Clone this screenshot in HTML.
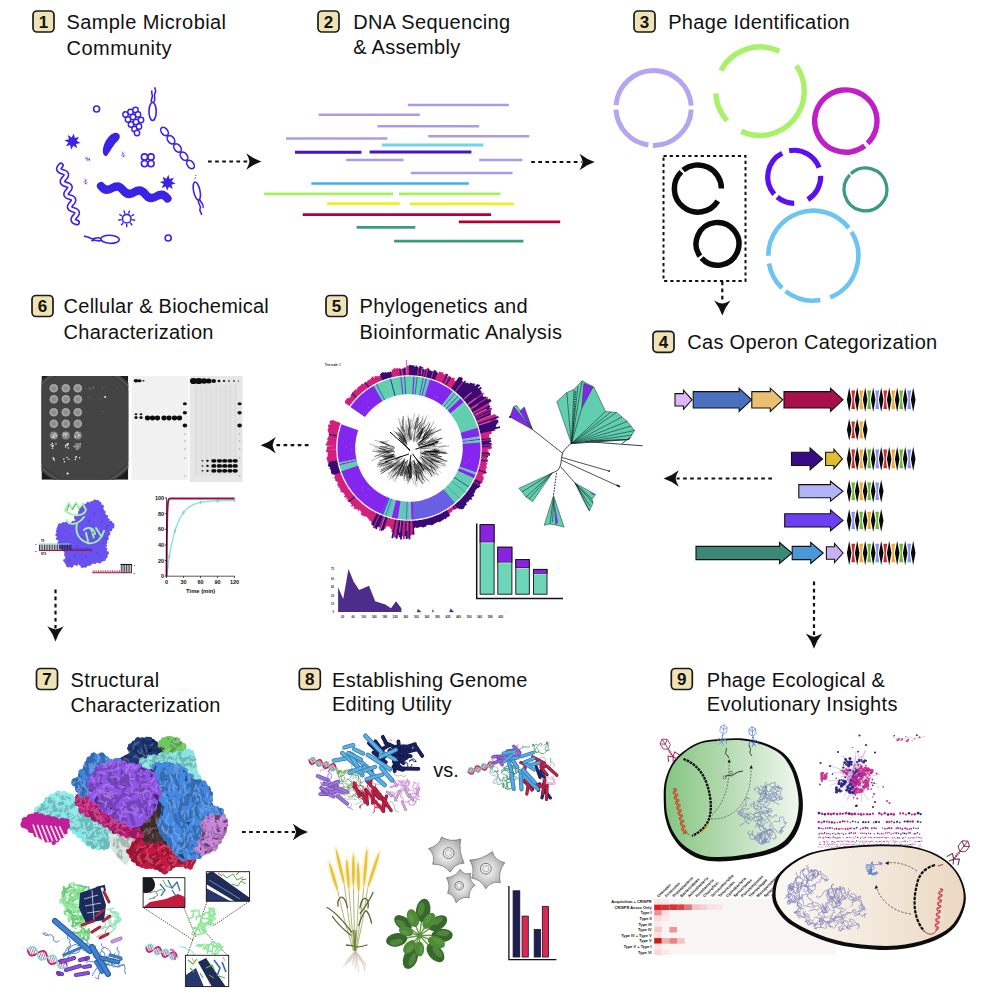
<!DOCTYPE html>
<html><head><meta charset="utf-8"><title>Graphical abstract</title>
<style>
html,body{margin:0;padding:0;background:#fff;}
body{width:996px;height:996px;overflow:hidden;}
svg{display:block;}
text{font-family:"Liberation Sans",sans-serif;}
.h{font-size:20px;fill:#111;}
.bn{font-size:17px;font-weight:bold;fill:#111;text-anchor:middle;}
</style></head><body>
<svg width="996" height="996" viewBox="0 0 996 996">
<rect width="996" height="996" fill="#fff"/>
<g id="headings"><rect x="33" y="11" width="21" height="21" rx="4" ry="4" fill="#efe2b4" stroke="#1a1a1a" stroke-width="1.7"/><text class="bn" x="43.5" y="27.6">1</text><text class="h" x="66.5" y="29" textLength="159.5" lengthAdjust="spacing">Sample Microbial</text><text class="h" x="66.5" y="54.5" textLength="105" lengthAdjust="spacing">Community</text><rect x="318" y="11" width="21" height="21" rx="4" ry="4" fill="#efe2b4" stroke="#1a1a1a" stroke-width="1.7"/><text class="bn" x="328.5" y="27.6">2</text><text class="h" x="353.2" y="29" textLength="157" lengthAdjust="spacing">DNA Sequencing</text><text class="h" x="353.2" y="54.2" textLength="107" lengthAdjust="spacing">&amp; Assembly</text><rect x="634" y="11" width="21" height="21" rx="4" ry="4" fill="#efe2b4" stroke="#1a1a1a" stroke-width="1.7"/><text class="bn" x="644.5" y="27.6">3</text><text class="h" x="668.2" y="29" textLength="181.5" lengthAdjust="spacing">Phage Identification</text><rect x="653" y="331.3" width="21" height="21" rx="4" ry="4" fill="#efe2b4" stroke="#1a1a1a" stroke-width="1.7"/><text class="bn" x="663.5" y="347.9">4</text><text class="h" x="687.2" y="349.2" textLength="250" lengthAdjust="spacing">Cas Operon Categorization</text><rect x="326" y="295.5" width="21" height="21" rx="4" ry="4" fill="#efe2b4" stroke="#1a1a1a" stroke-width="1.7"/><text class="bn" x="336.5" y="312.1">5</text><text class="h" x="359.6" y="313.2" textLength="168" lengthAdjust="spacing">Phylogenetics and</text><text class="h" x="359.6" y="338.5" textLength="202.4" lengthAdjust="spacing">Bioinformatic Analysis</text><rect x="32" y="295.5" width="21" height="21" rx="4" ry="4" fill="#efe2b4" stroke="#1a1a1a" stroke-width="1.7"/><text class="bn" x="42.5" y="312.1">6</text><text class="h" x="63.6" y="313.2" textLength="205.2" lengthAdjust="spacing">Cellular &amp; Biochemical</text><text class="h" x="63.6" y="338.5" textLength="149.8" lengthAdjust="spacing">Characterization</text><rect x="36.5" y="668.5" width="21" height="21" rx="4" ry="4" fill="#efe2b4" stroke="#1a1a1a" stroke-width="1.7"/><text class="bn" x="47" y="685.1">7</text><text class="h" x="70.6" y="687" textLength="88.6" lengthAdjust="spacing">Structural</text><text class="h" x="70.6" y="712.3" textLength="149.8" lengthAdjust="spacing">Characterization</text><rect x="299.3" y="668.5" width="21" height="21" rx="4" ry="4" fill="#efe2b4" stroke="#1a1a1a" stroke-width="1.7"/><text class="bn" x="309.8" y="685.1">8</text><text class="h" x="332" y="686.6" textLength="195.4" lengthAdjust="spacing">Establishing Genome</text><text class="h" x="332" y="711.2" textLength="119.5" lengthAdjust="spacing">Editing Utility</text><rect x="671.3" y="668.5" width="21" height="21" rx="4" ry="4" fill="#efe2b4" stroke="#1a1a1a" stroke-width="1.7"/><text class="bn" x="681.8" y="685.1">9</text><text class="h" x="706.8" y="686.6" textLength="178" lengthAdjust="spacing">Phage Ecological &amp;</text><text class="h" x="706.8" y="711.2" textLength="190.6" lengthAdjust="spacing">Evolutionary Insights</text></g>
<g id="arrows"><g transform="translate(208,161.5) rotate(0)"><path d="M0,0 H40.5" stroke="#111" stroke-width="2.2" stroke-dasharray="3.7 3.4" fill="none"/><path d="M53.5,0 Q45.5,-2.6 38.3,-8.2 Q40.9,-3.6 41.5,0 Q40.9,3.6 38.3,8.2 Q45.5,2.6 53.5,0Z" fill="#111"/></g><g transform="translate(531.2,162) rotate(0)"><path d="M0,0 H50.5" stroke="#111" stroke-width="2.2" stroke-dasharray="3.7 3.4" fill="none"/><path d="M63.5,0 Q55.5,-2.6 48.3,-8.2 Q50.9,-3.6 51.5,0 Q50.9,3.6 48.3,8.2 Q55.5,2.6 63.5,0Z" fill="#111"/></g><g transform="translate(722.3,281.5) rotate(90)"><path d="M0,0 H21.1" stroke="#111" stroke-width="2.2" stroke-dasharray="3.7 3.4" fill="none"/><path d="M34.1,0 Q26.1,-2.6 18.9,-8.2 Q21.5,-3.6 22.1,0 Q21.5,3.6 18.9,8.2 Q26.1,2.6 34.1,0Z" fill="#111"/></g><g transform="translate(772,478.5) rotate(180)"><path d="M0,0 H95.4" stroke="#111" stroke-width="2.2" stroke-dasharray="3.7 3.4" fill="none"/><path d="M108.4,0 Q100.4,-2.6 93.2,-8.2 Q95.8,-3.6 96.4,0 Q95.8,3.6 93.2,8.2 Q100.4,2.6 108.4,0Z" fill="#111"/></g><g transform="translate(814,581.6) rotate(90)"><path d="M0,0 H54.2" stroke="#111" stroke-width="2.2" stroke-dasharray="3.7 3.4" fill="none"/><path d="M67.2,0 Q59.2,-2.6 52,-8.2 Q54.6,-3.6 55.2,0 Q54.6,3.6 52,8.2 Q59.2,2.6 67.2,0Z" fill="#111"/></g><g transform="translate(308.5,445.2) rotate(180)"><path d="M0,0 H34.9" stroke="#111" stroke-width="2.2" stroke-dasharray="3.7 3.4" fill="none"/><path d="M47.9,0 Q39.9,-2.6 32.7,-8.2 Q35.3,-3.6 35.9,0 Q35.3,3.6 32.7,8.2 Q39.9,2.6 47.9,0Z" fill="#111"/></g><g transform="translate(55.5,589.5) rotate(90)"><path d="M0,0 H39" stroke="#111" stroke-width="2.2" stroke-dasharray="3.7 3.4" fill="none"/><path d="M52,0 Q44,-2.6 36.8,-8.2 Q39.4,-3.6 40,0 Q39.4,3.6 36.8,8.2 Q44,2.6 52,0Z" fill="#111"/></g><g transform="translate(242,832) rotate(0)"><path d="M0,0 H53" stroke="#111" stroke-width="2.2" stroke-dasharray="3.7 3.4" fill="none"/><path d="M66,0 Q58,-2.6 50.8,-8.2 Q53.4,-3.6 54,0 Q53.4,3.6 50.8,8.2 Q58,2.6 66,0Z" fill="#111"/></g></g>
<g id="p1"><circle cx="96.6" cy="109" r="3" fill="none" stroke="#3a22e6" stroke-width="1.6"/><circle cx="168.2" cy="238" r="3" fill="none" stroke="#3a22e6" stroke-width="1.6"/><circle cx="125.5" cy="114.5" r="2.7" fill="#fff" stroke="#3a22e6" stroke-width="1.4"/><circle cx="130.5" cy="112" r="2.7" fill="#fff" stroke="#3a22e6" stroke-width="1.4"/><circle cx="135.5" cy="110" r="2.7" fill="#fff" stroke="#3a22e6" stroke-width="1.4"/><circle cx="128" cy="119.5" r="2.7" fill="#fff" stroke="#3a22e6" stroke-width="1.4"/><circle cx="133" cy="117" r="2.7" fill="#fff" stroke="#3a22e6" stroke-width="1.4"/><circle cx="138" cy="114.5" r="2.7" fill="#fff" stroke="#3a22e6" stroke-width="1.4"/><circle cx="131" cy="124.5" r="2.7" fill="#fff" stroke="#3a22e6" stroke-width="1.4"/><circle cx="136" cy="122" r="2.7" fill="#fff" stroke="#3a22e6" stroke-width="1.4"/><circle cx="141" cy="120" r="2.7" fill="#fff" stroke="#3a22e6" stroke-width="1.4"/><circle cx="134.5" cy="129" r="2.7" fill="#fff" stroke="#3a22e6" stroke-width="1.4"/><circle cx="139" cy="126.5" r="2.7" fill="#fff" stroke="#3a22e6" stroke-width="1.4"/><circle cx="137" cy="133" r="2.7" fill="#fff" stroke="#3a22e6" stroke-width="1.4"/><ellipse cx="152.6" cy="111.5" rx="3.6" ry="9" fill="none" stroke="#3a22e6" stroke-width="1.6"/><path d="M152,102.5 C149.5,99 154,97.5 152,94 C151,92.3 151.5,91.5 152.2,90.5 M153.6,102.5 C157,98.5 152.5,96 155.3,92.5 C156.8,90.5 154.3,89.5 155,87.3" fill="none" stroke="#3a22e6" stroke-width="1.6"/><ellipse cx="164.5" cy="131.5" rx="4.7" ry="3.1" transform="rotate(51 164.5 131.5)" fill="#fff" stroke="#3a22e6" stroke-width="1.6"/><ellipse cx="171" cy="139.8" rx="4.7" ry="3.1" transform="rotate(51 171 139.8)" fill="#fff" stroke="#3a22e6" stroke-width="1.6"/><ellipse cx="177.5" cy="148" rx="4.7" ry="3.1" transform="rotate(51 177.5 148)" fill="#fff" stroke="#3a22e6" stroke-width="1.6"/><ellipse cx="184" cy="156.2" rx="4.7" ry="3.1" transform="rotate(51 184 156.2)" fill="#fff" stroke="#3a22e6" stroke-width="1.6"/><ellipse cx="190.5" cy="164.5" rx="4.7" ry="3.1" transform="rotate(51 190.5 164.5)" fill="#fff" stroke="#3a22e6" stroke-width="1.6"/><path d="M80.6,143 L76,143.9 L77.2,148.3 L73.4,145.7 L71.1,149.7 L70.2,145.1 L65.8,146.3 L68.4,142.5 L64.4,140.2 L69,139.3 L67.8,134.9 L71.6,137.5 L73.9,133.5 L74.8,138.1 L79.2,136.9 L76.6,140.7Z" fill="#3a22e6"/><path d="M175.7,183.5 L171.4,184.7 L172.8,188.9 L169,186.8 L167,190.8 L165.8,186.5 L161.6,187.9 L163.7,184.1 L159.7,182.1 L164,180.9 L162.6,176.7 L166.4,178.8 L168.4,174.8 L169.6,179.1 L173.8,177.7 L171.7,181.5Z" fill="#3a22e6"/><path d="M104,155 C100.5,150 106,136 114,133 C119,131.5 121.5,136 118.5,140 C113,145 110,152 107,155.5 C106,156.5 104.8,156.2 104,155Z" fill="#3a22e6"/><circle cx="144.5" cy="157" r="3.1" fill="#fff" stroke="#3a22e6" stroke-width="1.6"/><circle cx="151" cy="157" r="3.1" fill="#fff" stroke="#3a22e6" stroke-width="1.6"/><circle cx="144.5" cy="163.6" r="3.1" fill="#fff" stroke="#3a22e6" stroke-width="1.6"/><circle cx="151" cy="163.6" r="3.1" fill="#fff" stroke="#3a22e6" stroke-width="1.6"/><path d="M-3,0 H3 M-1.5,-2.2 L0.5,2.2 M1.5,-2 L2.2,1.5" transform="translate(87.5,159) rotate(20)" fill="none" stroke="#3a22e6" stroke-width="0.7" opacity="0.75"/><path d="M-3,0 H3 M-1.5,-2.2 L0.5,2.2 M1.5,-2 L2.2,1.5" transform="translate(123,154.5) rotate(70)" fill="none" stroke="#3a22e6" stroke-width="0.7" opacity="0.75"/><path d="M-3,0 H3 M-1.5,-2.2 L0.5,2.2 M1.5,-2 L2.2,1.5" transform="translate(85.5,181.5) rotate(80)" fill="none" stroke="#3a22e6" stroke-width="0.7" opacity="0.75"/><path d="M60.8,165.5 Q56.1,170.3 62.6,171.8 Q69.1,173.4 64.4,178.2 Q59.7,182.9 66.2,184.5 Q72.7,186.1 68,190.8 Q63.3,195.6 69.8,197.2 Q76.3,198.7 71.6,203.5 Q66.9,208.3 73.4,209.8 Q79.9,211.4 75.2,216.2 Q70.5,220.9 77,222.5" fill="none" stroke="#3a22e6" stroke-width="6" stroke-linecap="round"/><path d="M60.8,165.5 Q56.1,170.3 62.6,171.8 Q69.1,173.4 64.4,178.2 Q59.7,182.9 66.2,184.5 Q72.7,186.1 68,190.8 Q63.3,195.6 69.8,197.2 Q76.3,198.7 71.6,203.5 Q66.9,208.3 73.4,209.8 Q79.9,211.4 75.2,216.2 Q70.5,220.9 77,222.5" fill="none" stroke="#fff" stroke-width="2.8" stroke-linecap="round"/><path d="M101,186 Q105.6,192.2 112.1,188.1 Q118.6,184 123.2,190.2 Q127.7,196.3 134.2,192.2 Q140.8,188.2 145.3,194.3 Q149.9,200.5 156.4,196.4 Q162.9,192.3 167.5,198.5" fill="none" stroke="#3a22e6" stroke-width="8.2" stroke-linecap="round"/><ellipse cx="196.8" cy="191" rx="3.2" ry="9.2" transform="rotate(-12 196.8 191)" fill="none" stroke="#3a22e6" stroke-width="1.6"/><path d="M198.5,200 C197,204 202,205 200,209 C199,211.5 202,212.5 201.5,215 M199.8,199.6 C200.5,203 204.5,204 203,208" fill="none" stroke="#3a22e6" stroke-width="1.6"/><path d="M194.6,179 L195.8,177.3 M195.2,175.5 h1.2" stroke="#3a22e6" stroke-width="0.8" fill="none"/><circle cx="126.7" cy="218.7" r="4.3" fill="none" stroke="#3a22e6" stroke-width="1.6"/><path d="M132,219.6 L135.2,220.2 M130.2,222.8 L132.2,225.3 M126.7,224.1 L126.7,227.3 M123.2,222.8 L121.2,225.3 M121.4,219.6 L118.2,220.2 M122,216 L119.3,214.4 M124.9,213.6 L123.8,210.6 M128.5,213.6 L129.6,210.6 M131.4,216 L134.1,214.4 " stroke="#3a22e6" stroke-width="1.4" fill="none"/><ellipse cx="110" cy="239.3" rx="9.3" ry="4" transform="rotate(3 110 239.3)" fill="none" stroke="#3a22e6" stroke-width="1.6"/><path d="M100.6,238.5 C96,236 94,240.5 90,238 C88,236.5 86,237 84,236 M101,240.6 C97,242 95,238.5 91.5,241" fill="none" stroke="#3a22e6" stroke-width="1.6"/></g>
<g id="p2" fill="none"><path d="M407.9,105.1 H508.9" stroke="#a99bea" stroke-width="2.5"/><path d="M318.7,114.8 H419.8" stroke="#a99bea" stroke-width="2.5"/><path d="M377.4,126.3 H479.2" stroke="#a99bea" stroke-width="2.5"/><path d="M286,138.5 H387.4" stroke="#a99bea" stroke-width="2.5"/><path d="M428.3,136.3 H529.3" stroke="#a99bea" stroke-width="2.5"/><path d="M381.9,145.1 H483.3" stroke="#6fd3ee" stroke-width="3"/><path d="M295,152.3 H361.4" stroke="#4a12c6" stroke-width="3"/><path d="M369.6,152 H471.4" stroke="#4a12c6" stroke-width="3"/><path d="M346.2,160.1 H403.4" stroke="#a99bea" stroke-width="2.5"/><path d="M479.2,160.1 H522.3" stroke="#a99bea" stroke-width="2.5"/><path d="M410.8,173.1 H512.6" stroke="#a99bea" stroke-width="2.5"/><path d="M311.3,183.5 H468.8" stroke="#3fb2e2" stroke-width="2.6"/><path d="M264.1,193.9 H393" stroke="#a6f05e" stroke-width="2.6"/><path d="M399,193.9 H500.4" stroke="#a6f05e" stroke-width="2.6"/><path d="M326.9,203.6 H399.7" stroke="#f0ee22" stroke-width="2.8"/><path d="M409.7,203.9 H514.1" stroke="#f0ee22" stroke-width="2.8"/><path d="M302.7,214.6 H491.1" stroke="#b4003a" stroke-width="2.8"/><path d="M458.8,221.8 H560.2" stroke="#b4003a" stroke-width="2.8"/><path d="M356.6,227.3 H415.3" stroke="#3a9a84" stroke-width="2.8"/><path d="M394.1,241.1 H523.4" stroke="#3a9a84" stroke-width="2.8"/></g>
<g id="p3"><path d="M691.2,109.7 A37.7,37.7 0 0 1 652.9,145.4" stroke="#b3a6f0" stroke-width="5" fill="none"/><path d="M648.4,145 A37.7,37.7 0 0 1 616,109.7" stroke="#b3a6f0" stroke-width="5" fill="none"/><path d="M616,105.1 A37.7,37.7 0 0 1 691.2,105.7" stroke="#b3a6f0" stroke-width="5" fill="none"/><path d="M720.9,70.4 A44.3,44.3 0 0 1 779.4,51.4" stroke="#aaf16a" stroke-width="5.4" fill="none"/><path d="M796.3,65.8 A44.3,44.3 0 0 1 741.3,131.3" stroke="#aaf16a" stroke-width="5.4" fill="none"/><path d="M727.1,120.8 A44.3,44.3 0 0 1 715.8,93.5" stroke="#aaf16a" stroke-width="5.4" fill="none"/><path d="M864.7,145.9 A31.2,31.2 0 1 1 867.6,143.4" stroke="#c01fc8" stroke-width="5.4" fill="none"/><path d="M789.1,150.8 A26.5,26.5 0 0 1 819.1,167.7" stroke="#5a10f0" stroke-width="5.2" fill="none"/><path d="M820.7,175.9 A26.5,26.5 0 0 1 807.8,199.5" stroke="#5a10f0" stroke-width="5.2" fill="none"/><path d="M794.2,203.3 A26.5,26.5 0 0 1 777.2,197.1" stroke="#5a10f0" stroke-width="5.2" fill="none"/><path d="M774.2,194.2 A26.5,26.5 0 0 1 782.2,153.2" stroke="#5a10f0" stroke-width="5.2" fill="none"/><path d="M850.9,173.7 A21.4,21.4 0 1 1 849.8,174.8" stroke="#3d9a80" stroke-width="3.3" fill="none"/><path d="M851.5,231.9 A45,45 0 0 1 830.2,297.4" stroke="#6cc4f0" stroke-width="4.6" fill="none"/><path d="M820.3,300.1 A45,45 0 0 1 785.6,291.2" stroke="#6cc4f0" stroke-width="4.6" fill="none"/><path d="M782,288.1 A45,45 0 0 1 769,263.5" stroke="#6cc4f0" stroke-width="4.6" fill="none"/><path d="M768.3,255.7 A45,45 0 0 1 848.8,228" stroke="#6cc4f0" stroke-width="4.6" fill="none"/><path d="M717.8,201 A23.5,23.5 0 1 1 681.3,171.9" stroke="#0a0a0a" stroke-width="5.5" fill="none"/><path d="M683.1,170.2 A23.5,23.5 0 0 1 721.4,188.5" stroke="#0a0a0a" stroke-width="5.5" fill="none"/><path d="M700,256.2 A21.4,21.4 0 1 1 701.6,258.2" stroke="#0a0a0a" stroke-width="5.5" fill="none"/><rect x="663.5" y="156" width="82" height="125" fill="none" stroke="#111" stroke-width="2" stroke-dasharray="3.2 3"/></g>
<g id="p4"><path d="M675,393.6 L683.5,393.6 L683.5,390.2 L692,399.8 L683.5,409.4 L683.5,406 L675,406Z" fill="#dcb8f4" stroke="#111" stroke-width="1.1" stroke-linejoin="miter"/><path d="M693.2,391.6 L739.1,391.6 L739.1,388.2 L751.6,399.8 L739.1,411.4 L739.1,408 L693.2,408Z" fill="#4a70c0" stroke="#111" stroke-width="1.1" stroke-linejoin="miter"/><path d="M751.8,391.6 L770.3,391.6 L770.3,388.2 L782.8,399.8 L770.3,411.4 L770.3,408 L751.8,408Z" fill="#e8c070" stroke="#111" stroke-width="1.1" stroke-linejoin="miter"/><path d="M784,391.6 L830.5,391.6 L830.5,388.2 L843,399.8 L830.5,411.4 L830.5,408 L784,408Z" fill="#a8104c" stroke="#111" stroke-width="1.1" stroke-linejoin="miter"/><path d="M851.3,390.5 H855.1 L853.9,399.8 L855.1,409.1 H851.3 L852.5,399.8 Z" fill="#cc2e2e"/><path d="M859.3,390.5 H863.1 L861.9,399.8 L863.1,409.1 H859.3 L860.5,399.8 Z" fill="#f0a830"/><path d="M867.3,390.5 H871.1 L869.9,399.8 L871.1,409.1 H867.3 L868.5,399.8 Z" fill="#6cb832"/><path d="M875.3,390.5 H879.1 L877.9,399.8 L879.1,409.1 H875.3 L876.5,399.8 Z" fill="#8494f0"/><path d="M883.3,390.5 H887.1 L885.9,399.8 L887.1,409.1 H883.3 L884.5,399.8 Z" fill="#cc2e2e"/><path d="M891.3,390.5 H895.1 L893.9,399.8 L895.1,409.1 H891.3 L892.5,399.8 Z" fill="#f0a830"/><path d="M899.3,390.5 H903.1 L901.9,399.8 L903.1,409.1 H899.3 L900.5,399.8 Z" fill="#6cb832"/><path d="M907.3,390.5 H911.1 L909.9,399.8 L911.1,409.1 H907.3 L908.5,399.8 Z" fill="#8494f0"/><path d="M846.9,399.8 L849.2,387.6 L851.5,399.8 L849.2,412 ZM854.9,399.8 L857.2,387.6 L859.5,399.8 L857.2,412 ZM862.9,399.8 L865.2,387.6 L867.5,399.8 L865.2,412 ZM870.9,399.8 L873.2,387.6 L875.5,399.8 L873.2,412 ZM878.9,399.8 L881.2,387.6 L883.5,399.8 L881.2,412 ZM886.9,399.8 L889.2,387.6 L891.5,399.8 L889.2,412 ZM894.9,399.8 L897.2,387.6 L899.5,399.8 L897.2,412 ZM902.9,399.8 L905.2,387.6 L907.5,399.8 L905.2,412 ZM910.9,399.8 L913.2,387.6 L915.5,399.8 L913.2,412 Z" fill="#0a0a0a"/><path d="M851.3,421.4 H855.1 L853.9,429.8 L855.1,438.2 H851.3 L852.5,429.8 Z" fill="#cc2e2e"/><path d="M859.3,421.4 H863.1 L861.9,429.8 L863.1,438.2 H859.3 L860.5,429.8 Z" fill="#f0a830"/><path d="M846.9,429.8 L849.2,418.8 L851.5,429.8 L849.2,440.8 ZM854.9,429.8 L857.2,418.8 L859.5,429.8 L857.2,440.8 ZM862.9,429.8 L865.2,418.8 L867.5,429.8 L865.2,440.8 Z" fill="#0a0a0a"/><path d="M791.5,452.3 L810.1,452.3 L810.1,447.9 L822.6,458.9 L810.1,469.9 L810.1,465.5 L791.5,465.5Z" fill="#3a0a86" stroke="#111" stroke-width="1.1" stroke-linejoin="miter"/><path d="M825.6,452.3 L833.9,452.3 L833.9,449.1 L842.4,458.9 L833.9,468.7 L833.9,465.5 L825.6,465.5Z" fill="#e2bc30" stroke="#111" stroke-width="1.1" stroke-linejoin="miter"/><path d="M851.3,449.6 H855.1 L853.9,458.9 L855.1,468.2 H851.3 L852.5,458.9 Z" fill="#cc2e2e"/><path d="M859.3,449.6 H863.1 L861.9,458.9 L863.1,468.2 H859.3 L860.5,458.9 Z" fill="#f0a830"/><path d="M867.3,449.6 H871.1 L869.9,458.9 L871.1,468.2 H867.3 L868.5,458.9 Z" fill="#6cb832"/><path d="M875.3,449.6 H879.1 L877.9,458.9 L879.1,468.2 H875.3 L876.5,458.9 Z" fill="#8494f0"/><path d="M883.3,449.6 H887.1 L885.9,458.9 L887.1,468.2 H883.3 L884.5,458.9 Z" fill="#cc2e2e"/><path d="M891.3,449.6 H895.1 L893.9,458.9 L895.1,468.2 H891.3 L892.5,458.9 Z" fill="#f0a830"/><path d="M899.3,449.6 H903.1 L901.9,458.9 L903.1,468.2 H899.3 L900.5,458.9 Z" fill="#6cb832"/><path d="M907.3,449.6 H911.1 L909.9,458.9 L911.1,468.2 H907.3 L908.5,458.9 Z" fill="#8494f0"/><path d="M846.9,458.9 L849.2,446.7 L851.5,458.9 L849.2,471.1 ZM854.9,458.9 L857.2,446.7 L859.5,458.9 L857.2,471.1 ZM862.9,458.9 L865.2,446.7 L867.5,458.9 L865.2,471.1 ZM870.9,458.9 L873.2,446.7 L875.5,458.9 L873.2,471.1 ZM878.9,458.9 L881.2,446.7 L883.5,458.9 L881.2,471.1 ZM886.9,458.9 L889.2,446.7 L891.5,458.9 L889.2,471.1 ZM894.9,458.9 L897.2,446.7 L899.5,458.9 L897.2,471.1 ZM902.9,458.9 L905.2,446.7 L907.5,458.9 L905.2,471.1 ZM910.9,458.9 L913.2,446.7 L915.5,458.9 L913.2,471.1 Z" fill="#0a0a0a"/><path d="M798.8,484.6 L830.5,484.6 L830.5,481.2 L843,491.2 L830.5,501.2 L830.5,497.8 L798.8,497.8Z" fill="#b2b2f8" stroke="#111" stroke-width="1.1" stroke-linejoin="miter"/><path d="M851.3,482.5 H855.1 L853.9,491.2 L855.1,499.9 H851.3 L852.5,491.2 Z" fill="#6cb832"/><path d="M859.3,482.5 H863.1 L861.9,491.2 L863.1,499.9 H859.3 L860.5,491.2 Z" fill="#f0a830"/><path d="M867.3,482.5 H871.1 L869.9,491.2 L871.1,499.9 H867.3 L868.5,491.2 Z" fill="#6cb832"/><path d="M875.3,482.5 H879.1 L877.9,491.2 L879.1,499.9 H875.3 L876.5,491.2 Z" fill="#8494f0"/><path d="M846.9,491.2 L849.2,479.7 L851.5,491.2 L849.2,502.7 ZM854.9,491.2 L857.2,479.7 L859.5,491.2 L857.2,502.7 ZM862.9,491.2 L865.2,479.7 L867.5,491.2 L865.2,502.7 ZM870.9,491.2 L873.2,479.7 L875.5,491.2 L873.2,502.7 ZM878.9,491.2 L881.2,479.7 L883.5,491.2 L881.2,502.7 Z" fill="#0a0a0a"/><path d="M784.7,513.8 L830.5,513.8 L830.5,509.9 L843,520.4 L830.5,530.9 L830.5,527 L784.7,527Z" fill="#6a40f0" stroke="#111" stroke-width="1.1" stroke-linejoin="miter"/><path d="M851.3,511.7 H855.1 L853.9,520.4 L855.1,529.1 H851.3 L852.5,520.4 Z" fill="#8494f0"/><path d="M859.3,511.7 H863.1 L861.9,520.4 L863.1,529.1 H859.3 L860.5,520.4 Z" fill="#6cb832"/><path d="M867.3,511.7 H871.1 L869.9,520.4 L871.1,529.1 H867.3 L868.5,520.4 Z" fill="#f0a830"/><path d="M875.3,511.7 H879.1 L877.9,520.4 L879.1,529.1 H875.3 L876.5,520.4 Z" fill="#6cb832"/><path d="M846.9,520.4 L849.2,508.9 L851.5,520.4 L849.2,531.9 ZM854.9,520.4 L857.2,508.9 L859.5,520.4 L857.2,531.9 ZM862.9,520.4 L865.2,508.9 L867.5,520.4 L865.2,531.9 ZM870.9,520.4 L873.2,508.9 L875.5,520.4 L873.2,531.9 ZM878.9,520.4 L881.2,508.9 L883.5,520.4 L881.2,531.9 Z" fill="#0a0a0a"/><path d="M696,546.4 L779.5,546.4 L779.5,542.5 L792,553 L779.5,563.5 L779.5,559.6 L696,559.6Z" fill="#3c8878" stroke="#111" stroke-width="1.1" stroke-linejoin="miter"/><path d="M792.2,546.4 L810.7,546.4 L810.7,542.5 L823.2,553 L810.7,563.5 L810.7,559.6 L792.2,559.6Z" fill="#4a98d8" stroke="#111" stroke-width="1.1" stroke-linejoin="miter"/><path d="M826.4,546.8 L834.5,546.8 L834.5,543.4 L843,553 L834.5,562.6 L834.5,559.2 L826.4,559.2Z" fill="#c8b0f4" stroke="#111" stroke-width="1.1" stroke-linejoin="miter"/><path d="M851.3,543.7 H855.1 L853.9,553 L855.1,562.3 H851.3 L852.5,553 Z" fill="#cc2e2e"/><path d="M859.3,543.7 H863.1 L861.9,553 L863.1,562.3 H859.3 L860.5,553 Z" fill="#f0a830"/><path d="M867.3,543.7 H871.1 L869.9,553 L871.1,562.3 H867.3 L868.5,553 Z" fill="#6cb832"/><path d="M875.3,543.7 H879.1 L877.9,553 L879.1,562.3 H875.3 L876.5,553 Z" fill="#8494f0"/><path d="M883.3,543.7 H887.1 L885.9,553 L887.1,562.3 H883.3 L884.5,553 Z" fill="#cc2e2e"/><path d="M891.3,543.7 H895.1 L893.9,553 L895.1,562.3 H891.3 L892.5,553 Z" fill="#f0a830"/><path d="M899.3,543.7 H903.1 L901.9,553 L903.1,562.3 H899.3 L900.5,553 Z" fill="#6cb832"/><path d="M907.3,543.7 H911.1 L909.9,553 L911.1,562.3 H907.3 L908.5,553 Z" fill="#8494f0"/><path d="M846.9,553 L849.2,540.8 L851.5,553 L849.2,565.2 ZM854.9,553 L857.2,540.8 L859.5,553 L857.2,565.2 ZM862.9,553 L865.2,540.8 L867.5,553 L865.2,565.2 ZM870.9,553 L873.2,540.8 L875.5,553 L873.2,565.2 ZM878.9,553 L881.2,540.8 L883.5,553 L881.2,565.2 ZM886.9,553 L889.2,540.8 L891.5,553 L889.2,565.2 ZM894.9,553 L897.2,540.8 L899.5,553 L897.2,565.2 ZM902.9,553 L905.2,540.8 L907.5,553 L905.2,565.2 ZM910.9,553 L913.2,540.8 L915.5,553 L913.2,565.2 Z" fill="#0a0a0a"/></g>
<g id="p5"><path d="M350.3,406.9 A71.6,71.6 0 0 1 374.1,385.5 L382.8,401 A53.8,53.8 0 0 0 364.9,417.1 Z" fill="#8426ee"/><path d="M373.7,385.7 A71.6,71.6 0 0 1 430.3,379.6 L425,396.6 A53.8,53.8 0 0 0 382.5,401.2 Z" fill="#62ceb0"/><path d="M429.9,379.5 A71.6,71.6 0 0 1 452.9,391.4 L442,405.5 A53.8,53.8 0 0 0 424.7,396.6 Z" fill="#8426ee"/><path d="M452.6,391.2 A71.6,71.6 0 0 1 460.8,398.5 L447.9,410.8 A53.8,53.8 0 0 0 441.8,405.3 Z" fill="#62ceb0"/><path d="M460.5,398.3 A71.6,71.6 0 0 1 464.1,402.3 L450.4,413.6 A53.8,53.8 0 0 0 447.7,410.6 Z" fill="#8426ee"/><path d="M463.8,402 A71.6,71.6 0 0 1 477.8,428 L460.7,433 A53.8,53.8 0 0 0 450.2,413.4 Z" fill="#62ceb0"/><path d="M477.7,427.7 A71.6,71.6 0 0 1 479.7,436.6 L462.1,439.4 A53.8,53.8 0 0 0 460.6,432.7 Z" fill="#8426ee"/><path d="M479.6,436.2 A71.6,71.6 0 0 1 480,439 L462.4,441.3 A53.8,53.8 0 0 0 462.1,439.1 Z" fill="#62ceb0"/><path d="M480,438.7 A71.6,71.6 0 0 1 480.2,440.3 L462.5,442.2 A53.8,53.8 0 0 0 462.3,441 Z" fill="#8426ee"/><path d="M480.1,439.9 A71.6,71.6 0 0 1 480.4,442.8 L462.7,444.1 A53.8,53.8 0 0 0 462.5,441.9 Z" fill="#62ceb0"/><path d="M480.4,442.4 A71.6,71.6 0 0 1 476.2,472.8 L459.5,466.7 A53.8,53.8 0 0 0 462.6,443.8 Z" fill="#8426ee"/><path d="M476.3,472.5 A71.6,71.6 0 0 1 475.2,475.2 L458.8,468.4 A53.8,53.8 0 0 0 459.6,466.4 Z" fill="#62ceb0"/><path d="M475.4,474.8 A71.6,71.6 0 0 1 473.7,478.6 L457.6,471 A53.8,53.8 0 0 0 458.9,468.2 Z" fill="#8426ee"/><path d="M473.9,478.3 A71.6,71.6 0 0 1 454.7,503.1 L443.4,489.4 A53.8,53.8 0 0 0 457.8,470.7 Z" fill="#62ceb0"/><path d="M455,502.8 A71.6,71.6 0 0 1 413.6,519.5 L412.5,501.7 A53.8,53.8 0 0 0 443.6,489.2 Z" fill="#6a5ee2"/><path d="M414,519.4 A71.6,71.6 0 0 1 411.1,519.6 L410.6,501.8 A53.8,53.8 0 0 0 412.8,501.7 Z" fill="#8426ee"/><path d="M411.5,519.6 A71.6,71.6 0 0 1 397.4,518.7 L400.3,501.1 A53.8,53.8 0 0 0 410.9,501.8 Z" fill="#62ceb0"/><path d="M397.8,518.7 A71.6,71.6 0 0 1 391.3,517.4 L395.7,500.1 A53.8,53.8 0 0 0 400.6,501.1 Z" fill="#8426ee"/><path d="M391.7,517.5 A71.6,71.6 0 0 1 383,514.7 L389.5,498.1 A53.8,53.8 0 0 0 396,500.2 Z" fill="#62ceb0"/><path d="M383.3,514.8 A71.6,71.6 0 0 1 381.3,514 L388.2,497.6 A53.8,53.8 0 0 0 389.7,498.2 Z" fill="#3a50e0"/><path d="M381.6,514.1 A71.6,71.6 0 0 1 341.2,471 L358,465.2 A53.8,53.8 0 0 0 388.4,497.7 Z" fill="#8426ee"/><path d="M341.3,471.3 A71.6,71.6 0 0 1 339.4,465 L356.7,460.7 A53.8,53.8 0 0 0 358.1,465.5 Z" fill="#62ceb0"/><path d="M339.5,465.3 A71.6,71.6 0 0 1 339.2,463.7 L356.5,459.8 A53.8,53.8 0 0 0 356.8,461 Z" fill="#8426ee"/><path d="M339.2,464.1 A71.6,71.6 0 0 1 338.8,462.3 L356.3,458.7 A53.8,53.8 0 0 0 356.6,460.1 Z" fill="#62ceb0"/><path d="M338.9,462.6 A71.6,71.6 0 0 1 341.4,424.3 L358.2,430.2 A53.8,53.8 0 0 0 356.3,459 Z" fill="#8426ee"/><path d="M384.6,400.1 L376.5,384.2" stroke="#3a40c8" stroke-width="0.8"/><path d="M395.1,396 L390.5,378.8" stroke="#3030b0" stroke-width="1.0"/><path d="M402.9,394.5 L400.9,376.9" stroke="#8426ee" stroke-width="1.0"/><path d="M405.7,394.3 L404.6,376.5" stroke="#3a40c8" stroke-width="0.9"/><path d="M412.8,394.3 L414,376.6" stroke="#8426ee" stroke-width="1.2"/><path d="M415.1,394.5 L417.1,376.9" stroke="#3a40c8" stroke-width="0.8"/><path d="M419.7,395.3 L423.3,377.8" stroke="#3a40c8" stroke-width="0.8"/><path d="M422,395.8 L426.3,378.5" stroke="#8426ee" stroke-width="1.0"/><path d="M423.8,396.3 L428.7,379.2" stroke="#70a0f0" stroke-width="0.8"/><path d="M443.6,406.8 L455,393.2" stroke="#8426ee" stroke-width="0.8"/><path d="M446,409 L458.3,396.1" stroke="#3a40c8" stroke-width="0.9"/><path d="M454.1,477.3 L469,487" stroke="#2a3a90" stroke-width="0.8"/><path d="M451.4,481.1 L465.4,492.1" stroke="#3a8a80" stroke-width="0.6"/><path d="M407.1,501.8 L406.5,519.6" stroke="#8426ee" stroke-width="0.8"/><path d="M404.3,501.6 L402.8,519.3" stroke="#70a0f0" stroke-width="0.7"/><path d="M393.3,499.4 L388.1,516.5" stroke="#70a0f0" stroke-width="0.7"/><path d="M391.5,498.9 L385.7,515.7" stroke="#3a40c8" stroke-width="0.7"/><path d="M447,486 L459.6,498.6" stroke="#3a8a80" stroke-width="0.6"/><path d="M451.4,414.9 L465.4,403.9" stroke="#80e0d0" stroke-width="0.6"/><circle cx="468.2" cy="460.6" r="0.45" fill="#c8a8ff"/><circle cx="465.9" cy="462.2" r="0.45" fill="#c8a8ff"/><circle cx="366.1" cy="495.7" r="0.45" fill="#c8a8ff"/><circle cx="368.1" cy="488.9" r="0.45" fill="#c8a8ff"/><circle cx="362.3" cy="490.1" r="0.45" fill="#c8a8ff"/><circle cx="362.3" cy="487.2" r="0.45" fill="#c8a8ff"/><circle cx="351.4" cy="450" r="0.45" fill="#c8a8ff"/><circle cx="346.4" cy="446.9" r="0.45" fill="#c8a8ff"/><circle cx="368.4" cy="407.4" r="0.45" fill="#c8a8ff"/><circle cx="367.7" cy="402.1" r="0.45" fill="#c8a8ff"/><circle cx="434.3" cy="396.1" r="0.45" fill="#c8a8ff"/><circle cx="437.1" cy="397.3" r="0.45" fill="#c8a8ff"/><path d="M488.4,448 A79.4,79.4 0 0 1 488.4,449.6 L481.8,449.5 A72.8,72.8 0 0 0 481.8,448 ZM487.6,449.2 A78.6,78.6 0 0 1 487.5,450.8 L481.8,450.6 A72.8,72.8 0 0 0 481.8,449.1 ZM488.6,450.5 A79.6,79.6 0 0 1 488.5,452.1 L481.7,451.7 A72.8,72.8 0 0 0 481.8,450.3 ZM488.8,451.8 A79.9,79.9 0 0 1 488.7,453.4 L481.6,452.9 A72.8,72.8 0 0 0 481.7,451.4 ZM490.1,454.4 A81.4,81.4 0 0 1 490,456 L481.4,455.2 A72.8,72.8 0 0 0 481.6,453.7 ZM487.7,456.7 A79.2,79.2 0 0 1 487.5,458.3 L481.2,457.4 A72.8,72.8 0 0 0 481.4,456 ZM487,457.9 A78.6,78.6 0 0 1 486.8,459.4 L481,458.6 A72.8,72.8 0 0 0 481.2,457.1 ZM487.9,459.2 A79.7,79.7 0 0 1 487.6,460.8 L480.9,459.7 A72.8,72.8 0 0 0 481.1,458.3 ZM486.4,461.5 A78.6,78.6 0 0 1 486.2,463.1 L480.5,462 A72.8,72.8 0 0 0 480.7,460.5 ZM487.4,462.9 A79.8,79.8 0 0 1 487,464.5 L480.2,463.1 A72.8,72.8 0 0 0 480.5,461.6 ZM486.6,464.1 A79.3,79.3 0 0 1 486.3,465.6 L480,464.2 A72.8,72.8 0 0 0 480.3,462.8 ZM486.5,465.3 A79.4,79.4 0 0 1 486.2,466.9 L479.7,465.3 A72.8,72.8 0 0 0 480,463.9 ZM487.2,466.8 A80.4,80.4 0 0 1 486.8,468.3 L479.4,466.4 A72.8,72.8 0 0 0 479.8,465 ZM485.9,467.7 A79.4,79.4 0 0 1 485.5,469.3 L479.1,467.5 A72.8,72.8 0 0 0 479.5,466.1 ZM485.9,469 A79.7,79.7 0 0 1 485.4,470.6 L478.8,468.6 A72.8,72.8 0 0 0 479.2,467.2 ZM486.2,470.4 A80.4,80.4 0 0 1 485.7,472 L478.5,469.7 A72.8,72.8 0 0 0 478.9,468.3 ZM485.4,472.8 A80.3,80.3 0 0 1 484.8,474.3 L477.8,471.9 A72.8,72.8 0 0 0 478.2,470.5 ZM483.8,473.6 A79.1,79.1 0 0 1 483.3,475.1 L477.4,473 A72.8,72.8 0 0 0 477.9,471.6 ZM482.6,474.5 A78.2,78.2 0 0 1 482,476 L477,474 A72.8,72.8 0 0 0 477.5,472.7 ZM483.7,476.2 A79.8,79.8 0 0 1 483.1,477.7 L476.6,475.1 A72.8,72.8 0 0 0 477.1,473.7 ZM484.2,477.8 A80.8,80.8 0 0 1 483.5,479.3 L476.1,476.2 A72.8,72.8 0 0 0 476.7,474.8 ZM483.7,478.9 A80.8,80.8 0 0 1 483,480.4 L475.7,477.2 A72.8,72.8 0 0 0 476.3,475.9 ZM482.9,480 A80.5,80.5 0 0 1 482.2,481.4 L475.2,478.2 A72.8,72.8 0 0 0 475.8,476.9 ZM482.9,481.3 A81,81 0 0 1 482.2,482.8 L474.7,479.3 A72.8,72.8 0 0 0 475.4,478 ZM480.5,484.4 A80.2,80.2 0 0 1 479.8,485.9 L473.2,482.3 A72.8,72.8 0 0 0 473.9,481.1 ZM457.1,508.1 A77,77 0 0 1 455.9,509 L453.4,505.7 A72.8,72.8 0 0 0 454.5,504.8 ZM454.8,509 A76.3,76.3 0 0 1 453.6,509.9 L451.5,507.1 A72.8,72.8 0 0 0 452.7,506.2 ZM453.8,509.6 A76.2,76.2 0 0 1 452.5,510.5 L450.6,507.7 A72.8,72.8 0 0 0 451.8,506.9 ZM452.7,510.2 A76,76 0 0 1 451.5,511.1 L449.7,508.4 A72.8,72.8 0 0 0 450.9,507.6 ZM452.2,511.6 A76.9,76.9 0 0 1 450.9,512.5 L448.7,509 A72.8,72.8 0 0 0 449.9,508.2 ZM451.1,512.1 A76.7,76.7 0 0 1 449.8,513 L447.7,509.6 A72.8,72.8 0 0 0 449,508.8 ZM450.2,512.9 A76.8,76.8 0 0 1 448.8,513.7 L446.8,510.2 A72.8,72.8 0 0 0 448,509.5 ZM413.1,534.6 A86.7,86.7 0 0 1 411.3,534.7 L411,520.8 A72.8,72.8 0 0 0 412.4,520.7 ZM411.7,535.4 A87.5,87.5 0 0 1 410,535.5 L409.8,520.8 A72.8,72.8 0 0 0 411.3,520.8 ZM409,538 A90,90 0 0 1 407.2,537.9 L407.5,520.8 A72.8,72.8 0 0 0 409,520.8 ZM404.7,539.3 A91.4,91.4 0 0 1 402.9,539.2 L404.1,520.6 A72.8,72.8 0 0 0 405.6,520.7 ZM403.4,536.4 A88.6,88.6 0 0 1 401.7,536.3 L403,520.5 A72.8,72.8 0 0 0 404.4,520.7 ZM396.2,537.8 A90.7,90.7 0 0 1 394.4,537.5 L397.3,519.9 A72.8,72.8 0 0 0 398.7,520.1 ZM394.9,536.7 A89.8,89.8 0 0 1 393.2,536.4 L396.2,519.7 A72.8,72.8 0 0 0 397.6,519.9 ZM392.9,532.2 A85.7,85.7 0 0 1 391.3,531.8 L393.9,519.2 A72.8,72.8 0 0 0 395.4,519.5 ZM392.2,529.2 A83,83 0 0 1 390.5,528.9 L392.8,519 A72.8,72.8 0 0 0 394.2,519.3 ZM391.2,527.8 A81.8,81.8 0 0 1 389.6,527.5 L391.7,518.7 A72.8,72.8 0 0 0 393.1,519 ZM390.1,526.7 A81,81 0 0 1 388.5,526.4 L390.6,518.4 A72.8,72.8 0 0 0 392,518.8 ZM388.8,526.6 A81.1,81.1 0 0 1 387.3,526.1 L389.5,518.1 A72.8,72.8 0 0 0 390.9,518.5 ZM387.4,526.8 A81.7,81.7 0 0 1 385.9,526.3 L388.4,517.8 A72.8,72.8 0 0 0 389.8,518.2 ZM385.4,529.2 A84.6,84.6 0 0 1 383.8,528.8 L387.3,517.5 A72.8,72.8 0 0 0 388.7,517.9 ZM380.3,527.8 A84.8,84.8 0 0 1 378.7,527.2 L383,516 A72.8,72.8 0 0 0 384.3,516.5 ZM374.2,528.4 A87.6,87.6 0 0 1 372.6,527.7 L378.8,514.2 A72.8,72.8 0 0 0 380.1,514.8 ZM372.2,523.1 A83.6,83.6 0 0 1 370.7,522.3 L375.7,512.7 A72.8,72.8 0 0 0 377,513.4 ZM371.7,521.3 A82.2,82.2 0 0 1 370.2,520.5 L374.7,512.2 A72.8,72.8 0 0 0 375.9,512.9 ZM370.4,521 A82.6,82.6 0 0 1 368.9,520.2 L373.7,511.6 A72.8,72.8 0 0 0 374.9,512.3 ZM369.5,519.8 A81.9,81.9 0 0 1 368.1,519 L372.7,511.1 A72.8,72.8 0 0 0 373.9,511.8 ZM368.7,518.6 A81.3,81.3 0 0 1 367.3,517.8 L371.7,510.5 A72.8,72.8 0 0 0 372.9,511.2 ZM367.8,517.6 A80.9,80.9 0 0 1 366.4,516.8 L370.7,509.9 A72.8,72.8 0 0 0 371.9,510.7 ZM366.8,516.9 A80.8,80.8 0 0 1 365.4,516 L369.7,509.3 A72.8,72.8 0 0 0 371,510.1 ZM365.4,516.7 A81.3,81.3 0 0 1 364,515.8 L368.8,508.7 A72.8,72.8 0 0 0 370,509.5 ZM363.8,516.8 A82.3,82.3 0 0 1 362.5,515.8 L367.8,508 A72.8,72.8 0 0 0 369,508.8 ZM363.1,515.5 A81.6,81.6 0 0 1 361.8,514.6 L366.9,507.4 A72.8,72.8 0 0 0 368.1,508.2 ZM361.8,515.2 A82.1,82.1 0 0 1 360.5,514.2 L366,506.7 A72.8,72.8 0 0 0 367.1,507.6 ZM361.8,513 A80.3,80.3 0 0 1 360.5,512 L365,506 A72.8,72.8 0 0 0 366.2,506.9 ZM361.3,511.5 A79.4,79.4 0 0 1 360,510.5 L364.1,505.3 A72.8,72.8 0 0 0 365.3,506.2 ZM360.6,510.4 A79,79 0 0 1 359.3,509.4 L363.2,504.6 A72.8,72.8 0 0 0 364.4,505.5 ZM358.5,511 A80.8,80.8 0 0 1 357.2,510 L362.4,503.9 A72.8,72.8 0 0 0 363.5,504.8 ZM358.1,509.5 A79.8,79.8 0 0 1 356.9,508.5 L361.5,503.2 A72.8,72.8 0 0 0 362.6,504.1 ZM356.5,509.4 A80.8,80.8 0 0 1 355.3,508.4 L360.6,502.4 A72.8,72.8 0 0 0 361.7,503.4 ZM354.9,509.4 A81.9,81.9 0 0 1 353.6,508.3 L359.8,501.6 A72.8,72.8 0 0 0 360.9,502.6 ZM354.8,507.5 A80.5,80.5 0 0 1 353.6,506.4 L358.9,500.9 A72.8,72.8 0 0 0 360,501.8 ZM354,506.6 A80.4,80.4 0 0 1 352.8,505.5 L358.1,500.1 A72.8,72.8 0 0 0 359.2,501.1 ZM352,506.9 A82,82 0 0 1 350.8,505.7 L357.3,499.3 A72.8,72.8 0 0 0 358.3,500.3 ZM352.2,504.8 A80.4,80.4 0 0 1 351,503.7 L356.5,498.4 A72.8,72.8 0 0 0 357.5,499.5 ZM351.1,504.1 A80.7,80.7 0 0 1 350,503 L355.7,497.6 A72.8,72.8 0 0 0 356.7,498.7 ZM350.8,502.7 A79.9,79.9 0 0 1 349.7,501.5 L354.9,496.8 A72.8,72.8 0 0 0 355.9,497.8 ZM348.2,501.6 A81,81 0 0 1 347.1,500.4 L353.4,495 A72.8,72.8 0 0 0 354.4,496.1 ZM348.5,499.7 A79.6,79.6 0 0 1 347.5,498.5 L352.7,494.2 A72.8,72.8 0 0 0 353.6,495.3 ZM346.9,499.4 A80.6,80.6 0 0 1 345.9,498.1 L352,493.3 A72.8,72.8 0 0 0 352.9,494.4 ZM346.9,497.7 A79.5,79.5 0 0 1 346,496.5 L351.3,492.4 A72.8,72.8 0 0 0 352.2,493.5 ZM345,497.7 A81,81 0 0 1 344,496.4 L350.6,491.5 A72.8,72.8 0 0 0 351.5,492.6 ZM345.2,495.9 A79.8,79.8 0 0 1 344.2,494.6 L349.9,490.5 A72.8,72.8 0 0 0 350.8,491.7 ZM345,494.5 A79.1,79.1 0 0 1 344.1,493.2 L349.3,489.6 A72.8,72.8 0 0 0 350.1,490.8 ZM344,493.7 A79.4,79.4 0 0 1 343.1,492.3 L348.6,488.7 A72.8,72.8 0 0 0 349.4,489.9 ZM342.9,492.9 A80,80 0 0 1 342,491.6 L348,487.7 A72.8,72.8 0 0 0 348.8,488.9 ZM341.1,492.6 A81.3,81.3 0 0 1 340.2,491.3 L347.4,486.7 A72.8,72.8 0 0 0 348.2,488 ZM341.4,490.9 A80.1,80.1 0 0 1 340.6,489.5 L346.8,485.8 A72.8,72.8 0 0 0 347.5,487 ZM340.2,490.1 A80.7,80.7 0 0 1 339.4,488.8 L346.2,484.8 A72.8,72.8 0 0 0 346.9,486 ZM340.5,488.5 A79.6,79.6 0 0 1 339.7,487.1 L345.6,483.8 A72.8,72.8 0 0 0 346.3,485.1 ZM338.8,488 A80.8,80.8 0 0 1 338,486.6 L345.1,482.8 A72.8,72.8 0 0 0 345.8,484.1 ZM339.2,486.4 A79.6,79.6 0 0 1 338.5,484.9 L344.5,481.8 A72.8,72.8 0 0 0 345.2,483.1 ZM337.7,485.7 A80.6,80.6 0 0 1 337,484.3 L344,480.8 A72.8,72.8 0 0 0 344.7,482.1 ZM338.1,484.1 A79.6,79.6 0 0 1 337.4,482.7 L343.5,479.7 A72.8,72.8 0 0 0 344.1,481.1 ZM338,482.8 A79.1,79.1 0 0 1 337.3,481.3 L343,478.7 A72.8,72.8 0 0 0 343.6,480 ZM336.7,482 A79.9,79.9 0 0 1 336,480.6 L342.5,477.7 A72.8,72.8 0 0 0 343.1,479 ZM335.6,481.1 A80.5,80.5 0 0 1 334.9,479.7 L342.1,476.6 A72.8,72.8 0 0 0 342.6,478 ZM335.5,479.8 A80,80 0 0 1 334.9,478.3 L341.6,475.6 A72.8,72.8 0 0 0 342.2,476.9 ZM334.6,478.8 A80.5,80.5 0 0 1 334,477.3 L341.2,474.5 A72.8,72.8 0 0 0 341.7,475.9 ZM335,477.3 A79.6,79.6 0 0 1 334.4,475.8 L340.8,473.4 A72.8,72.8 0 0 0 341.3,474.8 ZM335.1,475.9 A79,79 0 0 1 334.5,474.4 L340.4,472.4 A72.8,72.8 0 0 0 340.9,473.7 ZM327.5,462.2 A82.7,82.7 0 0 1 327.2,460.6 L337,459.1 A72.8,72.8 0 0 0 337.3,460.5 ZM327.6,460.9 A82.4,82.4 0 0 1 327.3,459.3 L336.9,457.9 A72.8,72.8 0 0 0 337.1,459.4 ZM326.7,459.7 A83.1,83.1 0 0 1 326.5,458.1 L336.7,456.8 A72.8,72.8 0 0 0 336.9,458.3 ZM326.9,458.4 A82.7,82.7 0 0 1 326.7,456.7 L336.6,455.7 A72.8,72.8 0 0 0 336.8,457.1 ZM327.7,457 A81.8,81.8 0 0 1 327.5,455.3 L336.5,454.5 A72.8,72.8 0 0 0 336.6,456 ZM328,455.7 A81.4,81.4 0 0 1 327.8,454 L336.4,453.4 A72.8,72.8 0 0 0 336.5,454.9 ZM327.6,454.4 A81.6,81.6 0 0 1 327.5,452.8 L336.3,452.3 A72.8,72.8 0 0 0 336.4,453.7 ZM327.8,453.1 A81.4,81.4 0 0 1 327.7,451.5 L336.3,451.1 A72.8,72.8 0 0 0 336.3,452.6 ZM326.1,451.9 A83,83 0 0 1 326.1,450.2 L336.2,450 A72.8,72.8 0 0 0 336.3,451.4 ZM326.6,450.6 A82.4,82.4 0 0 1 326.6,448.9 L336.2,448.8 A72.8,72.8 0 0 0 336.2,450.3 ZM326.8,449.3 A82.2,82.2 0 0 1 326.8,447.6 L336.2,447.7 A72.8,72.8 0 0 0 336.2,449.1 ZM327.2,448 A81.8,81.8 0 0 1 327.3,446.4 L336.2,446.5 A72.8,72.8 0 0 0 336.2,448 ZM327.2,446.7 A81.8,81.8 0 0 1 327.2,445.1 L336.2,445.4 A72.8,72.8 0 0 0 336.2,446.9 ZM325.6,445.4 A83.4,83.4 0 0 1 325.7,443.7 L336.3,444.3 A72.8,72.8 0 0 0 336.2,445.7 ZM326.6,444.1 A82.5,82.5 0 0 1 326.7,442.5 L336.4,443.1 A72.8,72.8 0 0 0 336.3,444.6 ZM326.9,442.8 A82.2,82.2 0 0 1 327,441.2 L336.5,442 A72.8,72.8 0 0 0 336.3,443.4 ZM327.8,441.6 A81.5,81.5 0 0 1 327.9,440 L336.6,440.8 A72.8,72.8 0 0 0 336.4,442.3 ZM327.2,440.3 A82.1,82.1 0 0 1 327.4,438.6 L336.7,439.7 A72.8,72.8 0 0 0 336.5,441.1 ZM327.6,439 A81.8,81.8 0 0 1 327.8,437.4 L336.8,438.6 A72.8,72.8 0 0 0 336.6,440 ZM328.4,437.8 A81.3,81.3 0 0 1 328.6,436.2 L337,437.4 A72.8,72.8 0 0 0 336.8,438.9 ZM328.6,436.6 A81.2,81.2 0 0 1 328.8,434.9 L337.1,436.3 A72.8,72.8 0 0 0 336.9,437.7 ZM328.6,434 A81.6,81.6 0 0 1 328.9,432.4 L337.5,434 A72.8,72.8 0 0 0 337.3,435.5 ZM328,432.6 A82.4,82.4 0 0 1 328.3,430.9 L337.8,432.9 A72.8,72.8 0 0 0 337.5,434.4 ZM327.5,431.1 A83.2,83.2 0 0 1 327.9,429.5 L338,431.8 A72.8,72.8 0 0 0 337.7,433.2 ZM327.6,429.8 A83.5,83.5 0 0 1 327.9,428.2 L338.3,430.7 A72.8,72.8 0 0 0 338,432.1 ZM328.4,428.7 A82.9,82.9 0 0 1 328.8,427 L338.6,429.6 A72.8,72.8 0 0 0 338.2,431 ZM327.7,427.1 A83.9,83.9 0 0 1 328.2,425.5 L338.9,428.5 A72.8,72.8 0 0 0 338.5,429.9 ZM328.2,425.9 A83.8,83.8 0 0 1 328.6,424.3 L339.2,427.4 A72.8,72.8 0 0 0 338.8,428.8 ZM330,425.1 A82.2,82.2 0 0 1 330.5,423.5 L339.5,426.3 A72.8,72.8 0 0 0 339.1,427.7 ZM329.3,423.5 A83.4,83.4 0 0 1 329.8,421.9 L339.9,425.2 A72.8,72.8 0 0 0 339.4,426.6 ZM329.5,422.2 A83.6,83.6 0 0 1 330,420.6 L340.2,424.1 A72.8,72.8 0 0 0 339.8,425.5 ZM331.1,421.3 A82.4,82.4 0 0 1 331.6,419.8 L340.6,423 A72.8,72.8 0 0 0 340.1,424.4 ZM344.5,402.7 A78.8,78.8 0 0 1 345.4,401.4 L350.3,405 A72.8,72.8 0 0 0 349.4,406.1 ZM344.7,401.3 A79.5,79.5 0 0 1 345.7,400 L351,404 A72.8,72.8 0 0 0 350.1,405.2 ZM345.6,400.4 A79.3,79.3 0 0 1 346.6,399.1 L351.7,403.1 A72.8,72.8 0 0 0 350.8,404.3 ZM346.2,399.3 A79.4,79.4 0 0 1 347.2,398.1 L352.4,402.2 A72.8,72.8 0 0 0 351.5,403.4 ZM347.7,398.9 A78.5,78.5 0 0 1 348.7,397.7 L353.1,401.4 A72.8,72.8 0 0 0 352.2,402.5 ZM349,398.4 A77.9,77.9 0 0 1 350,397.2 L353.8,400.5 A72.8,72.8 0 0 0 352.9,401.6 ZM350.1,397.7 A77.5,77.5 0 0 1 351.1,396.5 L354.6,399.6 A72.8,72.8 0 0 0 353.6,400.7 ZM350.2,396.2 A78.3,78.3 0 0 1 351.3,395 L355.4,398.8 A72.8,72.8 0 0 0 354.4,399.9 ZM350.7,394.9 A78.9,78.9 0 0 1 351.7,393.8 L356.1,397.9 A72.8,72.8 0 0 0 355.2,399 ZM351.9,392.7 A79.5,79.5 0 0 1 353.1,391.6 L357.7,396.3 A72.8,72.8 0 0 0 356.7,397.3 ZM353.1,392.1 A79.1,79.1 0 0 1 354.2,391 L358.6,395.5 A72.8,72.8 0 0 0 357.5,396.5 ZM353.8,391.1 A79.3,79.3 0 0 1 355,390 L359.4,394.7 A72.8,72.8 0 0 0 358.3,395.7 ZM354.6,390 A79.5,79.5 0 0 1 355.7,388.9 L360.2,393.9 A72.8,72.8 0 0 0 359.2,394.9 ZM356.4,390.2 A78.2,78.2 0 0 1 357.5,389.1 L361.1,393.2 A72.8,72.8 0 0 0 360,394.2 ZM356.7,388.7 A79,79 0 0 1 357.9,387.7 L362,392.4 A72.8,72.8 0 0 0 360.9,393.4 ZM357.4,387.6 A79.4,79.4 0 0 1 358.6,386.6 L362.8,391.7 A72.8,72.8 0 0 0 361.7,392.6 ZM358.6,387.1 A79.1,79.1 0 0 1 359.8,386.1 L363.7,391 A72.8,72.8 0 0 0 362.6,391.9 ZM359.7,386.4 A78.9,78.9 0 0 1 360.9,385.5 L364.6,390.3 A72.8,72.8 0 0 0 363.5,391.2 ZM360.3,385.2 A79.4,79.4 0 0 1 361.6,384.3 L365.5,389.6 A72.8,72.8 0 0 0 364.4,390.5 ZM361.3,384.5 A79.4,79.4 0 0 1 362.6,383.6 L366.5,388.9 A72.8,72.8 0 0 0 365.3,389.8 ZM363,384.7 A78.3,78.3 0 0 1 364.3,383.7 L367.4,388.3 A72.8,72.8 0 0 0 366.2,389.1 ZM363.5,383.3 A79.1,79.1 0 0 1 364.8,382.4 L368.3,387.6 A72.8,72.8 0 0 0 367.1,388.4 ZM366.2,382.8 A78,78 0 0 1 367.5,382 L370.3,386.4 A72.8,72.8 0 0 0 369,387.2 ZM366.8,381.5 A78.8,78.8 0 0 1 368.1,380.6 L371.2,385.8 A72.8,72.8 0 0 0 370,386.5 ZM367.6,380.5 A79.2,79.2 0 0 1 369,379.7 L372.2,385.2 A72.8,72.8 0 0 0 371,385.9 ZM368.8,380 A79,79 0 0 1 370.2,379.2 L373.2,384.6 A72.8,72.8 0 0 0 371.9,385.3 ZM369.9,379.5 A78.8,78.8 0 0 1 371.3,378.8 L374.2,384.1 A72.8,72.8 0 0 0 372.9,384.8 ZM370.6,378.2 A79.7,79.7 0 0 1 372,377.4 L375.2,383.5 A72.8,72.8 0 0 0 373.9,384.2 ZM371.5,377.1 A80.2,80.2 0 0 1 372.9,376.3 L376.2,383 A72.8,72.8 0 0 0 374.9,383.7 ZM373.4,378.2 A78.4,78.4 0 0 1 374.8,377.5 L377.3,382.5 A72.8,72.8 0 0 0 375.9,383.1 ZM374.1,376.8 A79.3,79.3 0 0 1 375.5,376.1 L378.3,382 A72.8,72.8 0 0 0 377,382.6 ZM375.4,376.6 A78.9,78.9 0 0 1 376.8,375.9 L379.3,381.5 A72.8,72.8 0 0 0 378,382.1 ZM376.8,376.7 A78.2,78.2 0 0 1 378.2,376.1 L380.4,381.1 A72.8,72.8 0 0 0 379,381.6 ZM378.1,376.5 A77.9,77.9 0 0 1 379.5,375.9 L381.4,380.6 A72.8,72.8 0 0 0 380.1,381.2 ZM379.3,376.3 A77.6,77.6 0 0 1 380.7,375.7 L382.5,380.2 A72.8,72.8 0 0 0 381.1,380.7 ZM390.7,372 A78.2,78.2 0 0 1 392.3,371.6 L393.4,376.9 A72.8,72.8 0 0 0 392,377.2 ZM391.6,370.1 A79.8,79.8 0 0 1 393.2,369.8 L394.5,376.6 A72.8,72.8 0 0 0 393.1,377 ZM392.6,368.9 A80.7,80.7 0 0 1 394.2,368.6 L395.7,376.4 A72.8,72.8 0 0 0 394.2,376.7 ZM393.8,368.3 A81.1,81.1 0 0 1 395.4,368 L396.8,376.2 A72.8,72.8 0 0 0 395.4,376.5 ZM395.2,369.1 A80.1,80.1 0 0 1 396.8,368.8 L397.9,376 A72.8,72.8 0 0 0 396.5,376.3 ZM396.3,368 A81,81 0 0 1 397.9,367.7 L399.1,375.9 A72.8,72.8 0 0 0 397.6,376.1 ZM397.7,368.7 A80,80 0 0 1 399.3,368.5 L400.2,375.7 A72.8,72.8 0 0 0 398.7,375.9 ZM400.3,369.1 A79.4,79.4 0 0 1 401.9,368.9 L402.5,375.5 A72.8,72.8 0 0 0 401,375.6 ZM401.5,368.6 A79.7,79.7 0 0 1 403.1,368.5 L403.6,375.4 A72.8,72.8 0 0 0 402.1,375.5 ZM405.2,367.5 A80.6,80.6 0 0 1 406.8,367.4 L407,375.2 A72.8,72.8 0 0 0 405.6,375.3 ZM406.4,365.8 A82.2,82.2 0 0 1 408.1,365.8 L408.2,375.2 A72.8,72.8 0 0 0 406.7,375.2 ZM407.7,365.9 A82.2,82.2 0 0 1 409.4,365.8 L409.3,375.2 A72.8,72.8 0 0 0 407.9,375.2 ZM417.9,367.6 A80.9,80.9 0 0 1 419.5,367.8 L418.4,375.8 A72.8,72.8 0 0 0 417,375.6 ZM424,369.4 A80,80 0 0 1 425.6,369.7 L424.1,376.8 A72.8,72.8 0 0 0 422.6,376.5 ZM427,367.6 A82.4,82.4 0 0 1 428.6,368 L426.3,377.3 A72.8,72.8 0 0 0 424.9,377 ZM432.8,370.6 A81,81 0 0 1 434.4,371.1 L431.8,378.9 A72.8,72.8 0 0 0 430.4,378.4 ZM437.3,373 A80.2,80.2 0 0 1 438.8,373.6 L436.1,380.4 A72.8,72.8 0 0 0 434.7,379.9 ZM439.3,371.4 A82.4,82.4 0 0 1 440.9,372 L437.2,380.9 A72.8,72.8 0 0 0 435.8,380.3 ZM440.4,372.2 A82.1,82.1 0 0 1 441.9,372.8 L438.2,381.3 A72.8,72.8 0 0 0 436.9,380.7 ZM441.9,371.9 A82.9,82.9 0 0 1 443.5,372.6 L439.2,381.8 A72.8,72.8 0 0 0 437.9,381.2 ZM442.6,373.6 A81.7,81.7 0 0 1 444.1,374.3 L440.3,382.3 A72.8,72.8 0 0 0 439,381.6 ZM443.7,374.3 A81.5,81.5 0 0 1 445.2,375 L441.3,382.8 A72.8,72.8 0 0 0 440,382.1 ZM445.5,373.6 A82.9,82.9 0 0 1 447,374.3 L442.3,383.3 A72.8,72.8 0 0 0 441,382.6 ZM447,376.2 A81.2,81.2 0 0 1 448.4,377 L444.3,384.4 A72.8,72.8 0 0 0 443.1,383.7 ZM448.8,375.6 A82.6,82.6 0 0 1 450.2,376.4 L445.3,384.9 A72.8,72.8 0 0 0 444.1,384.2 ZM450.6,377.6 A81.8,81.8 0 0 1 452,378.5 L447.3,386.1 A72.8,72.8 0 0 0 446.1,385.3 ZM452.2,377.5 A82.7,82.7 0 0 1 453.6,378.4 L448.3,386.7 A72.8,72.8 0 0 0 447,385.9 ZM453.7,377.5 A83.5,83.5 0 0 1 455.1,378.4 L449.2,387.3 A72.8,72.8 0 0 0 448,386.5 ZM453.7,379.9 A81.5,81.5 0 0 1 455.1,380.8 L450.2,388 A72.8,72.8 0 0 0 449,387.2 ZM454.9,380.4 A81.7,81.7 0 0 1 456.3,381.3 L451.1,388.6 A72.8,72.8 0 0 0 449.9,387.8 ZM462.6,381.1 A85.7,85.7 0 0 1 463.9,382.2 L455.6,392.1 A72.8,72.8 0 0 0 454.5,391.2 ZM483,392.4 A92.5,92.5 0 0 1 484.1,393.9 L468.1,405.5 A72.8,72.8 0 0 0 467.2,404.3 ZM487.2,396.6 A93.6,93.6 0 0 1 488.2,398.2 L470.6,409.3 A72.8,72.8 0 0 0 469.8,408 ZM488.6,402.6 A91.7,91.7 0 0 1 489.5,404.2 L472.9,413.2 A72.8,72.8 0 0 0 472.2,411.9 ZM488.4,404.3 A90.6,90.6 0 0 1 489.3,406 L473.5,414.2 A72.8,72.8 0 0 0 472.8,412.9 ZM491.5,407.6 A91.9,91.9 0 0 1 492.3,409.2 L475,417.3 A72.8,72.8 0 0 0 474.4,416 ZM490.5,411.2 A89.4,89.4 0 0 1 491.2,412.9 L475.9,419.4 A72.8,72.8 0 0 0 475.4,418 ZM494.8,414 A92.3,92.3 0 0 1 495.5,415.8 L477.2,422.6 A72.8,72.8 0 0 0 476.7,421.2 ZM496.3,415 A93.3,93.3 0 0 1 496.9,416.8 L477.6,423.6 A72.8,72.8 0 0 0 477.1,422.3 ZM495.5,418.4 A91.4,91.4 0 0 1 496.1,420.1 L478.3,425.8 A72.8,72.8 0 0 0 477.9,424.4 ZM491.6,430.9 A84.3,84.3 0 0 1 491.9,432.6 L480.6,434.7 A72.8,72.8 0 0 0 480.3,433.2 ZM491.3,432.3 A83.8,83.8 0 0 1 491.6,433.9 L480.8,435.8 A72.8,72.8 0 0 0 480.5,434.4 ZM489.3,434 A81.5,81.5 0 0 1 489.5,435.6 L481,436.9 A72.8,72.8 0 0 0 480.7,435.5 ZM489.3,435.3 A81.3,81.3 0 0 1 489.5,436.9 L481.1,438.1 A72.8,72.8 0 0 0 480.9,436.6 ZM488.9,436.6 A80.7,80.7 0 0 1 489.1,438.2 L481.3,439.2 A72.8,72.8 0 0 0 481.1,437.7 ZM490.3,439 A81.8,81.8 0 0 1 490.5,440.7 L481.5,441.5 A72.8,72.8 0 0 0 481.4,440 ZM491.7,444.1 A82.8,82.8 0 0 1 491.8,445.8 L481.8,446 A72.8,72.8 0 0 0 481.7,444.6 ZM492.1,446.7 A83.1,83.1 0 0 1 492.1,448.4 L481.8,448.3 A72.8,72.8 0 0 0 481.8,446.9 ZM490.7,448 A81.7,81.7 0 0 1 490.7,449.6 L481.8,449.5 A72.8,72.8 0 0 0 481.8,448 Z" fill="#d2207c"/><path d="M490,453.1 A81.2,81.2 0 0 1 489.9,454.7 L481.5,454 A72.8,72.8 0 0 0 481.7,452.6 ZM488.2,455.5 A79.5,79.5 0 0 1 488,457.1 L481.3,456.3 A72.8,72.8 0 0 0 481.5,454.9 ZM487.9,460.5 A79.9,79.9 0 0 1 487.6,462.1 L480.7,460.8 A72.8,72.8 0 0 0 480.9,459.4 ZM486.8,471.9 A81.4,81.4 0 0 1 486.3,473.5 L478.1,470.8 A72.8,72.8 0 0 0 478.6,469.4 ZM481.9,482.3 A80.6,80.6 0 0 1 481.2,483.8 L474.2,480.3 A72.8,72.8 0 0 0 474.9,479 ZM480.4,483 A79.5,79.5 0 0 1 479.6,484.4 L473.7,481.3 A72.8,72.8 0 0 0 474.4,480 ZM480.6,485.9 A81,81 0 0 1 479.8,487.3 L472.6,483.3 A72.8,72.8 0 0 0 473.3,482.1 ZM479.4,486.7 A80.4,80.4 0 0 1 478.6,488.1 L472.1,484.3 A72.8,72.8 0 0 0 472.8,483.1 ZM477.9,487.3 A79.3,79.3 0 0 1 477.1,488.7 L471.5,485.3 A72.8,72.8 0 0 0 472.2,484.1 ZM477.1,488.3 A79.1,79.1 0 0 1 476.3,489.6 L470.9,486.3 A72.8,72.8 0 0 0 471.7,485.1 ZM476.2,489.2 A78.8,78.8 0 0 1 475.3,490.5 L470.3,487.3 A72.8,72.8 0 0 0 471.1,486 ZM475.5,490.2 A78.8,78.8 0 0 1 474.7,491.6 L469.7,488.2 A72.8,72.8 0 0 0 470.5,487 ZM475.4,491.6 A79.4,79.4 0 0 1 474.5,492.9 L469,489.2 A72.8,72.8 0 0 0 469.8,488 ZM474.3,492.4 A79,79 0 0 1 473.4,493.7 L468.4,490.1 A72.8,72.8 0 0 0 469.2,488.9 ZM474.3,493.9 A79.8,79.8 0 0 1 473.4,495.2 L467.7,491 A72.8,72.8 0 0 0 468.6,489.9 ZM474.4,495.5 A80.8,80.8 0 0 1 473.4,496.8 L467,492 A72.8,72.8 0 0 0 467.9,490.8 ZM473,496.1 A80,80 0 0 1 472,497.3 L466.3,492.9 A72.8,72.8 0 0 0 467.2,491.7 ZM472.1,497 A79.9,79.9 0 0 1 471.1,498.2 L465.6,493.8 A72.8,72.8 0 0 0 466.5,492.6 ZM472.3,498.7 A81.1,81.1 0 0 1 471.3,500 L464.9,494.6 A72.8,72.8 0 0 0 465.8,493.5 ZM470.6,499 A80,80 0 0 1 469.6,500.2 L464.2,495.5 A72.8,72.8 0 0 0 465.1,494.4 ZM469.5,499.7 A79.6,79.6 0 0 1 468.4,500.9 L463.4,496.4 A72.8,72.8 0 0 0 464.4,495.3 ZM469.1,501 A80.2,80.2 0 0 1 468.1,502.2 L462.6,497.2 A72.8,72.8 0 0 0 463.6,496.1 ZM467.5,501.3 A79.1,79.1 0 0 1 466.5,502.4 L461.9,498.1 A72.8,72.8 0 0 0 462.8,497 ZM466.9,502.4 A79.5,79.5 0 0 1 465.8,503.6 L461.1,498.9 A72.8,72.8 0 0 0 462.1,497.8 ZM467.1,504.3 A80.9,80.9 0 0 1 466,505.5 L460.3,499.7 A72.8,72.8 0 0 0 461.3,498.7 ZM466,505 A80.6,80.6 0 0 1 464.9,506.1 L459.4,500.5 A72.8,72.8 0 0 0 460.5,499.5 ZM465.3,506 A80.8,80.8 0 0 1 464.1,507.2 L458.6,501.3 A72.8,72.8 0 0 0 459.7,500.3 ZM464.7,507.4 A81.4,81.4 0 0 1 463.5,508.5 L457.8,502.1 A72.8,72.8 0 0 0 458.8,501.1 ZM463.9,508.4 A81.6,81.6 0 0 1 462.7,509.5 L456.9,502.8 A72.8,72.8 0 0 0 458,501.8 ZM462.3,508.5 A80.7,80.7 0 0 1 461.1,509.6 L456,503.6 A72.8,72.8 0 0 0 457.1,502.6 ZM460.7,508.5 A79.6,79.6 0 0 1 459.5,509.5 L455.2,504.3 A72.8,72.8 0 0 0 456.3,503.4 ZM458.5,507.8 A77.6,77.6 0 0 1 457.3,508.8 L454.3,505 A72.8,72.8 0 0 0 455.4,504.1 ZM456.1,508.7 A76.9,76.9 0 0 1 454.9,509.7 L452.5,506.4 A72.8,72.8 0 0 0 453.6,505.5 ZM450.2,515.3 A78.9,78.9 0 0 1 448.9,516.1 L445.8,510.8 A72.8,72.8 0 0 0 447,510.1 ZM449.4,516.3 A79.4,79.4 0 0 1 448,517.1 L444.8,511.4 A72.8,72.8 0 0 0 446.1,510.7 ZM448.2,516.7 A79.1,79.1 0 0 1 446.8,517.4 L443.8,511.9 A72.8,72.8 0 0 0 445.1,511.2 ZM447.2,517.5 A79.3,79.3 0 0 1 445.8,518.2 L442.8,512.5 A72.8,72.8 0 0 0 444.1,511.8 ZM446.4,518.7 A80,80 0 0 1 445,519.4 L441.8,513 A72.8,72.8 0 0 0 443.1,512.3 ZM445,518.6 A79.3,79.3 0 0 1 443.6,519.3 L440.7,513.5 A72.8,72.8 0 0 0 442.1,512.9 ZM444,519.5 A79.6,79.6 0 0 1 442.6,520.2 L439.7,514 A72.8,72.8 0 0 0 441,513.4 ZM443,520.2 A79.8,79.8 0 0 1 441.5,520.8 L438.7,514.5 A72.8,72.8 0 0 0 440,513.9 ZM441.8,520.7 A79.8,79.8 0 0 1 440.4,521.4 L437.6,514.9 A72.8,72.8 0 0 0 439,514.4 ZM440.9,521.7 A80.3,80.3 0 0 1 439.4,522.3 L436.6,515.4 A72.8,72.8 0 0 0 437.9,514.8 ZM439.5,521.6 A79.7,79.7 0 0 1 438,522.2 L435.5,515.8 A72.8,72.8 0 0 0 436.9,515.3 ZM438.2,521.7 A79.3,79.3 0 0 1 436.7,522.3 L434.4,516.2 A72.8,72.8 0 0 0 435.8,515.7 ZM437.1,522.5 A79.6,79.6 0 0 1 435.6,523 L433.4,516.6 A72.8,72.8 0 0 0 434.7,516.1 ZM435.9,522.8 A79.5,79.5 0 0 1 434.4,523.3 L432.3,517 A72.8,72.8 0 0 0 433.7,516.5 ZM434.9,523.8 A80.1,80.1 0 0 1 433.4,524.3 L431.2,517.3 A72.8,72.8 0 0 0 432.6,516.9 ZM433.8,524.5 A80.4,80.4 0 0 1 432.3,524.9 L430.1,517.7 A72.8,72.8 0 0 0 431.5,517.2 ZM432.7,524.9 A80.5,80.5 0 0 1 431.1,525.4 L429,518 A72.8,72.8 0 0 0 430.4,517.6 ZM431.2,524.6 A79.7,79.7 0 0 1 429.7,525 L427.9,518.3 A72.8,72.8 0 0 0 429.3,517.9 ZM430,524.8 A79.6,79.6 0 0 1 428.5,525.2 L426.8,518.6 A72.8,72.8 0 0 0 428.2,518.2 ZM428.7,524.6 A79.1,79.1 0 0 1 427.1,525 L425.7,518.9 A72.8,72.8 0 0 0 427.1,518.5 ZM427.5,525 A79.2,79.2 0 0 1 425.9,525.3 L424.6,519.1 A72.8,72.8 0 0 0 426,518.8 ZM426.5,526.2 A80.1,80.1 0 0 1 424.9,526.5 L423.5,519.4 A72.8,72.8 0 0 0 424.9,519 ZM425.3,526.8 A80.5,80.5 0 0 1 423.7,527.2 L422.3,519.6 A72.8,72.8 0 0 0 423.8,519.3 ZM424.1,527.3 A80.7,80.7 0 0 1 422.5,527.6 L421.2,519.8 A72.8,72.8 0 0 0 422.6,519.5 ZM422.7,526.7 A79.8,79.8 0 0 1 421.1,526.9 L420.1,520 A72.8,72.8 0 0 0 421.5,519.7 ZM421.4,526.4 A79.4,79.4 0 0 1 419.8,526.7 L418.9,520.1 A72.8,72.8 0 0 0 420.4,519.9 ZM420.2,527 A79.8,79.8 0 0 1 418.7,527.2 L417.8,520.3 A72.8,72.8 0 0 0 419.3,520.1 ZM419.1,527.6 A80.2,80.2 0 0 1 417.5,527.8 L416.7,520.4 A72.8,72.8 0 0 0 418.1,520.2 ZM417.8,527.7 A80.2,80.2 0 0 1 416.2,527.9 L415.5,520.5 A72.8,72.8 0 0 0 417,520.4 ZM416.5,527.1 A79.4,79.4 0 0 1 414.9,527.2 L414.4,520.6 A72.8,72.8 0 0 0 415.9,520.5 ZM415.3,527.9 A80.2,80.2 0 0 1 413.7,528 L413.3,520.7 A72.8,72.8 0 0 0 414.7,520.6 ZM414.5,534.7 A86.8,86.8 0 0 1 412.7,534.8 L412.1,520.7 A72.8,72.8 0 0 0 413.6,520.7 ZM410.4,539.3 A91.4,91.4 0 0 1 408.6,539.4 L408.7,520.8 A72.8,72.8 0 0 0 410.1,520.8 ZM407.6,539.1 A91.1,91.1 0 0 1 405.7,539 L406.4,520.8 A72.8,72.8 0 0 0 407.9,520.8 ZM406.2,536.3 A88.3,88.3 0 0 1 404.5,536.2 L405.3,520.7 A72.8,72.8 0 0 0 406.7,520.8 ZM401.8,539.6 A91.9,91.9 0 0 1 400,539.4 L401.8,520.4 A72.8,72.8 0 0 0 403.3,520.6 ZM400.5,537.5 A89.9,89.9 0 0 1 398.7,537.3 L400.7,520.3 A72.8,72.8 0 0 0 402.1,520.5 ZM399.4,535.3 A87.8,87.8 0 0 1 397.6,535.1 L399.6,520.2 A72.8,72.8 0 0 0 401,520.4 ZM397.5,538.8 A91.5,91.5 0 0 1 395.7,538.5 L398.4,520 A72.8,72.8 0 0 0 399.9,520.2 ZM393.2,538.3 A91.6,91.6 0 0 1 391.4,537.9 L395,519.5 A72.8,72.8 0 0 0 396.5,519.7 ZM383.6,530.6 A86.4,86.4 0 0 1 382,530 L386.2,517.1 A72.8,72.8 0 0 0 387.6,517.6 ZM382,531 A87.3,87.3 0 0 1 380.4,530.5 L385.1,516.8 A72.8,72.8 0 0 0 386.5,517.2 ZM380.7,530.5 A87.2,87.2 0 0 1 379.1,530 L384,516.4 A72.8,72.8 0 0 0 385.4,516.9 ZM379.1,527.2 A84.7,84.7 0 0 1 377.5,526.6 L381.9,515.6 A72.8,72.8 0 0 0 383.3,516.1 ZM376.7,529.5 A87.6,87.6 0 0 1 375.1,528.8 L380.8,515.1 A72.8,72.8 0 0 0 382.2,515.7 ZM375.8,528.2 A86.8,86.8 0 0 1 374.2,527.5 L379.8,514.7 A72.8,72.8 0 0 0 381.1,515.3 ZM373.8,526 A85.6,85.6 0 0 1 372.2,525.3 L377.7,513.7 A72.8,72.8 0 0 0 379,514.4 ZM372.6,525.3 A85.4,85.4 0 0 1 371.1,524.5 L376.7,513.2 A72.8,72.8 0 0 0 378,513.9 ZM349.1,502.5 A81,81 0 0 1 348,501.3 L354.2,495.9 A72.8,72.8 0 0 0 355.2,497 ZM333.6,475.1 A80.1,80.1 0 0 1 333.1,473.6 L340,471.3 A72.8,72.8 0 0 0 340.5,472.7 ZM331.8,474.4 A81.6,81.6 0 0 1 331.3,472.9 L339.7,470.2 A72.8,72.8 0 0 0 340.1,471.6 ZM331.3,473.3 A81.7,81.7 0 0 1 330.8,471.7 L339.3,469.1 A72.8,72.8 0 0 0 339.8,470.5 ZM331.2,471.9 A81.4,81.4 0 0 1 330.7,470.4 L339,468 A72.8,72.8 0 0 0 339.4,469.4 ZM331.1,470.6 A81.1,81.1 0 0 1 330.7,469.1 L338.7,466.9 A72.8,72.8 0 0 0 339.1,468.3 ZM329.9,469.6 A82,82 0 0 1 329.5,468 L338.4,465.8 A72.8,72.8 0 0 0 338.8,467.2 ZM330.3,468.2 A81.2,81.2 0 0 1 330,466.6 L338.1,464.7 A72.8,72.8 0 0 0 338.5,466.1 ZM328.8,467.3 A82.5,82.5 0 0 1 328.4,465.6 L337.9,463.6 A72.8,72.8 0 0 0 338.2,465 ZM328.2,466.1 A82.8,82.8 0 0 1 327.8,464.4 L337.6,462.5 A72.8,72.8 0 0 0 338,463.9 ZM328.5,464.7 A82.2,82.2 0 0 1 328.1,463.1 L337.4,461.3 A72.8,72.8 0 0 0 337.7,462.8 ZM328.7,463.3 A81.8,81.8 0 0 1 328.4,461.7 L337.2,460.2 A72.8,72.8 0 0 0 337.5,461.6 ZM328.9,435.3 A81.1,81.1 0 0 1 329.2,433.7 L337.3,435.2 A72.8,72.8 0 0 0 337.1,436.6 ZM351.6,394.1 A78.8,78.8 0 0 1 352.6,392.9 L356.9,397.1 A72.8,72.8 0 0 0 355.9,398.2 ZM364.5,382.6 A79.1,79.1 0 0 1 365.9,381.7 L369.3,387 A72.8,72.8 0 0 0 368.1,387.8 ZM379.8,374.3 A79.3,79.3 0 0 1 381.3,373.7 L383.6,379.8 A72.8,72.8 0 0 0 382.2,380.3 ZM380.8,373.3 A79.8,79.8 0 0 1 382.3,372.8 L384.6,379.4 A72.8,72.8 0 0 0 383.3,379.9 ZM381.8,372.6 A80.2,80.2 0 0 1 383.4,372 L385.7,379 A72.8,72.8 0 0 0 384.3,379.5 ZM383.3,373 A79.2,79.2 0 0 1 384.8,372.5 L386.8,378.7 A72.8,72.8 0 0 0 385.4,379.1 ZM384.5,372.6 A79.3,79.3 0 0 1 386,372.1 L387.9,378.3 A72.8,72.8 0 0 0 386.5,378.8 ZM385.9,373 A78.5,78.5 0 0 1 387.4,372.6 L389,378 A72.8,72.8 0 0 0 387.6,378.4 ZM387,372.3 A78.8,78.8 0 0 1 388.5,371.9 L390.1,377.7 A72.8,72.8 0 0 0 388.7,378.1 ZM388.3,372.3 A78.5,78.5 0 0 1 389.8,371.9 L391.2,377.4 A72.8,72.8 0 0 0 389.8,377.8 ZM389.4,371.8 A78.6,78.6 0 0 1 391,371.5 L392.3,377.1 A72.8,72.8 0 0 0 390.9,377.5 ZM399,368.6 A80,80 0 0 1 400.6,368.5 L401.3,375.6 A72.8,72.8 0 0 0 399.9,375.8 ZM402.7,368.5 A79.8,79.8 0 0 1 404.3,368.4 L404.7,375.3 A72.8,72.8 0 0 0 403.3,375.4 ZM403.9,367.5 A80.6,80.6 0 0 1 405.6,367.4 L405.9,375.3 A72.8,72.8 0 0 0 404.4,375.3 ZM409,364.9 A83.1,83.1 0 0 1 410.7,364.9 L410.5,375.2 A72.8,72.8 0 0 0 409,375.2 ZM410.3,365.2 A82.9,82.9 0 0 1 412,365.2 L411.6,375.2 A72.8,72.8 0 0 0 410.1,375.2 ZM411.6,365.3 A82.8,82.8 0 0 1 413.3,365.3 L412.7,375.3 A72.8,72.8 0 0 0 411.3,375.2 ZM412.9,365.3 A82.8,82.8 0 0 1 414.6,365.4 L413.9,375.4 A72.8,72.8 0 0 0 412.4,375.3 ZM414.1,366.9 A81.3,81.3 0 0 1 415.7,367 L415,375.5 A72.8,72.8 0 0 0 413.6,375.3 ZM415.5,365.6 A82.7,82.7 0 0 1 417.1,365.7 L416.2,375.6 A72.8,72.8 0 0 0 414.7,375.4 ZM416.7,366.5 A81.8,81.8 0 0 1 418.3,366.7 L417.3,375.7 A72.8,72.8 0 0 0 415.9,375.5 ZM419.4,366 A82.7,82.7 0 0 1 421,366.2 L419.6,376 A72.8,72.8 0 0 0 418.1,375.8 ZM420.6,366.4 A82.4,82.4 0 0 1 422.3,366.6 L420.7,376.1 A72.8,72.8 0 0 0 419.3,375.9 ZM421.8,367 A82,82 0 0 1 423.5,367.3 L421.8,376.3 A72.8,72.8 0 0 0 420.4,376.1 ZM422.8,368.7 A80.5,80.5 0 0 1 424.4,369 L423,376.5 A72.8,72.8 0 0 0 421.5,376.3 ZM425.4,369 A80.7,80.7 0 0 1 426.9,369.3 L425.2,377 A72.8,72.8 0 0 0 423.8,376.7 ZM428.1,368.6 A81.6,81.6 0 0 1 429.6,369 L427.4,377.6 A72.8,72.8 0 0 0 426,377.2 ZM429,370.1 A80.4,80.4 0 0 1 430.6,370.5 L428.5,377.9 A72.8,72.8 0 0 0 427.1,377.5 ZM430.2,370.5 A80.4,80.4 0 0 1 431.8,370.9 L429.6,378.2 A72.8,72.8 0 0 0 428.2,377.8 ZM431.3,371.1 A80,80 0 0 1 432.9,371.6 L430.7,378.5 A72.8,72.8 0 0 0 429.3,378.1 ZM434.3,370 A82,82 0 0 1 435.9,370.6 L432.9,379.2 A72.8,72.8 0 0 0 431.5,378.8 ZM435.3,371.1 A81.3,81.3 0 0 1 436.9,371.6 L434,379.6 A72.8,72.8 0 0 0 432.6,379.1 ZM436.4,371.9 A80.9,80.9 0 0 1 437.9,372.4 L435,380 A72.8,72.8 0 0 0 433.7,379.5 ZM446.8,373.8 A83.3,83.3 0 0 1 448.3,374.5 L443.3,383.8 A72.8,72.8 0 0 0 442.1,383.1 ZM449.8,376.4 A82.4,82.4 0 0 1 451.3,377.3 L446.3,385.5 A72.8,72.8 0 0 0 445.1,384.8 ZM459,376.8 A87,87 0 0 1 460.4,377.8 L452,389.3 A72.8,72.8 0 0 0 450.9,388.4 ZM460.8,376.7 A88.1,88.1 0 0 1 462.2,377.8 L453,390 A72.8,72.8 0 0 0 451.8,389.1 ZM461.7,377.8 A87.7,87.7 0 0 1 463.1,378.9 L453.9,390.7 A72.8,72.8 0 0 0 452.7,389.8 ZM461.6,380.2 A85.7,85.7 0 0 1 462.9,381.3 L454.8,391.4 A72.8,72.8 0 0 0 453.6,390.5 ZM464.8,380.6 A87.5,87.5 0 0 1 466.1,381.7 L456.5,392.8 A72.8,72.8 0 0 0 455.4,391.9 ZM464.9,382.6 A86,86 0 0 1 466.2,383.7 L457.4,393.6 A72.8,72.8 0 0 0 456.3,392.6 ZM466.9,382.3 A87.6,87.6 0 0 1 468.2,383.5 L458.2,394.4 A72.8,72.8 0 0 0 457.1,393.4 ZM468.1,383.1 A87.8,87.8 0 0 1 469.4,384.3 L459.1,395.1 A72.8,72.8 0 0 0 458,394.2 ZM470.7,382.3 A90.1,90.1 0 0 1 472,383.6 L459.9,395.9 A72.8,72.8 0 0 0 458.8,394.9 ZM471.9,383.1 A90.4,90.4 0 0 1 473.2,384.3 L460.7,396.7 A72.8,72.8 0 0 0 459.7,395.7 ZM473.9,383.1 A91.7,91.7 0 0 1 475.2,384.4 L461.5,397.6 A72.8,72.8 0 0 0 460.5,396.5 ZM474.1,384.9 A90.7,90.7 0 0 1 475.4,386.2 L462.3,398.4 A72.8,72.8 0 0 0 461.3,397.3 ZM477.4,383.8 A93.8,93.8 0 0 1 478.7,385.2 L463.1,399.2 A72.8,72.8 0 0 0 462.1,398.2 ZM479.1,384.2 A94.8,94.8 0 0 1 480.4,385.6 L463.8,400.1 A72.8,72.8 0 0 0 462.8,399 ZM477.8,387.4 A91.7,91.7 0 0 1 479,388.8 L464.6,401 A72.8,72.8 0 0 0 463.6,399.9 ZM480.7,386.8 A94.3,94.3 0 0 1 481.9,388.2 L465.3,401.8 A72.8,72.8 0 0 0 464.4,400.7 ZM479.8,389.4 A91.9,91.9 0 0 1 480.9,390.9 L466,402.7 A72.8,72.8 0 0 0 465.1,401.6 ZM480.7,390.6 A91.8,91.8 0 0 1 481.8,392 L466.7,403.6 A72.8,72.8 0 0 0 465.8,402.5 ZM481.2,392 A91.4,91.4 0 0 1 482.3,393.5 L467.4,404.5 A72.8,72.8 0 0 0 466.5,403.4 ZM482.3,394.7 A90.6,90.6 0 0 1 483.4,396.2 L468.7,406.4 A72.8,72.8 0 0 0 467.9,405.2 ZM482.9,396 A90.4,90.4 0 0 1 484,397.5 L469.4,407.3 A72.8,72.8 0 0 0 468.6,406.1 ZM485.2,396.2 A92.2,92.2 0 0 1 486.3,397.7 L470,408.3 A72.8,72.8 0 0 0 469.2,407.1 ZM487.2,398.4 A92.6,92.6 0 0 1 488.2,399.9 L471.2,410.2 A72.8,72.8 0 0 0 470.5,409 ZM489.8,398.5 A94.8,94.8 0 0 1 490.8,400.1 L471.8,411.2 A72.8,72.8 0 0 0 471.1,410 ZM490.7,399.7 A94.9,94.9 0 0 1 491.6,401.3 L472.4,412.2 A72.8,72.8 0 0 0 471.7,410.9 ZM489.6,405.3 A91.2,91.2 0 0 1 490.5,406.9 L474,415.2 A72.8,72.8 0 0 0 473.3,413.9 ZM489.2,407.1 A90,90 0 0 1 490,408.7 L474.5,416.3 A72.8,72.8 0 0 0 473.9,414.9 ZM490.3,409.7 A89.9,89.9 0 0 1 491.1,411.4 L475.5,418.3 A72.8,72.8 0 0 0 474.9,417 ZM490.4,412.8 A88.7,88.7 0 0 1 491.1,414.4 L476.4,420.4 A72.8,72.8 0 0 0 475.8,419.1 ZM490.3,414.3 A88,88 0 0 1 491,416 L476.8,421.5 A72.8,72.8 0 0 0 476.3,420.1 ZM498.2,415.9 A94.8,94.8 0 0 1 498.9,417.7 L478,424.7 A72.8,72.8 0 0 0 477.5,423.3 ZM497.4,419.3 A93,93 0 0 1 498,421 L478.7,426.9 A72.8,72.8 0 0 0 478.2,425.5 ZM498.1,420.6 A93.2,93.2 0 0 1 498.7,422.4 L479,428 A72.8,72.8 0 0 0 478.6,426.6 ZM497.1,422.4 A91.8,91.8 0 0 1 497.6,424.2 L479.3,429.1 A72.8,72.8 0 0 0 478.9,427.7 ZM495.8,424.3 A90,90 0 0 1 496.2,426 L479.6,430.2 A72.8,72.8 0 0 0 479.2,428.8 ZM495.9,425.7 A89.8,89.8 0 0 1 496.4,427.4 L479.9,431.3 A72.8,72.8 0 0 0 479.5,429.9 ZM499.8,426.2 A93.4,93.4 0 0 1 500.2,428 L480.1,432.4 A72.8,72.8 0 0 0 479.8,431 ZM495.2,428.7 A88.3,88.3 0 0 1 495.5,430.5 L480.4,433.5 A72.8,72.8 0 0 0 480,432.1 ZM490.8,437.7 A82.4,82.4 0 0 1 491,439.3 L481.4,440.3 A72.8,72.8 0 0 0 481.2,438.9 ZM491.2,440.2 A82.5,82.5 0 0 1 491.3,441.9 L481.6,442.6 A72.8,72.8 0 0 0 481.5,441.1 ZM489.6,441.7 A80.9,80.9 0 0 1 489.7,443.3 L481.7,443.7 A72.8,72.8 0 0 0 481.6,442.3 ZM491.4,442.8 A82.5,82.5 0 0 1 491.5,444.5 L481.7,444.9 A72.8,72.8 0 0 0 481.7,443.4 ZM490.8,445.4 A81.8,81.8 0 0 1 490.8,447.1 L481.8,447.2 A72.8,72.8 0 0 0 481.8,445.7 Z" fill="#3a0a72"/><path d="M471.2,392 A83.7,83.7 0 0 1 471.9,392.7 L464.2,399.5 A73.5,73.5 0 0 0 463.6,398.8 ZM475.6,397.8 A83.4,83.4 0 0 1 476.2,398.6 L468.2,404.5 A73.5,73.5 0 0 0 467.7,403.8 ZM477.8,404.2 A81.5,81.5 0 0 1 478.3,405 L471.5,409.3 A73.5,73.5 0 0 0 471,408.5 ZM486.3,408.6 A86.8,86.8 0 0 1 486.8,409.5 L474.9,415.4 A73.5,73.5 0 0 0 474.5,414.6 ZM490.5,415.1 A87.9,87.9 0 0 1 490.9,416.1 L477.5,421.3 A73.5,73.5 0 0 0 477.1,420.5 ZM490.5,420.7 A85.9,85.9 0 0 1 490.8,421.7 L479,425.5 A73.5,73.5 0 0 0 478.7,424.7 ZM405.9,360 A88.1,88.1 0 0 1 407,359.9 L407.3,374.5 A73.5,73.5 0 0 0 406.4,374.5 ZM421.8,367.3 A81.7,81.7 0 0 1 422.8,367.5 L421.4,375.6 A73.5,73.5 0 0 0 420.5,375.4 ZM407.5,531.1 A83.1,83.1 0 0 1 406.5,531.1 L406.8,521.5 A73.5,73.5 0 0 0 407.7,521.5 ZM400.1,532.4 A84.8,84.8 0 0 1 399.1,532.2 L400.4,521 A73.5,73.5 0 0 0 401.3,521.1 ZM380.3,531.4 A88.2,88.2 0 0 1 379.3,531 L384.2,517.2 A73.5,73.5 0 0 0 385.1,517.5 Z" fill="#e860a8"/><path d="M409.7,429.7 L407.9,415.5M403,462.6 L399.6,471.4M432.3,446.6 L449.3,446.2M419.2,456.8 L429,461.8M425.8,466.2 L432.3,471.8M397.7,466.4 L391.3,470.7M409.7,472.1 L414.5,484.7M422.3,462 L435.3,469.6M396.5,467.9 L388,474.3M415.2,428.3 L415.6,422M411.6,469 L409.5,481.8M424.4,450.6 L437.5,452.9M406.4,445.4 L401.9,440.7M398.4,456.5 L392,462.8M410.4,438.9 L408.1,434M388,459.4 L380.8,466.4M399.9,463.8 L394.4,467.9M385.5,447.7 L379.4,446.8M424,444.9 L437.9,437.3M414.7,440.4 L422.2,427.9M418.4,460.9 L429.4,469.4M427.8,453 L441,459.1M405.5,465.5 L401.1,476.6M403.6,443.1 L400,434.7M394.8,457.4 L384.2,458M421.4,462 L425.4,466.6M391.4,452.7 L375.9,450.1M427.2,433.8 L434,421.5M424.1,455.3 L436.5,462.3M420,441.9 L432.7,434.1M420.2,471.9 L429.7,481.7M420.5,469.2 L423.8,474.7M418.6,444.2 L430.8,432.5M392.2,461.2 L387.6,469M409.4,441.3 L409.5,426.5M401,438.3 L393.8,431M392.8,461.6 L378.2,465.7M416,469 L413.9,474.8M417.7,467.9 L418.7,478.9M423.7,435 L431.6,428.9M429.2,451.5 L440.8,453.2M399.5,457.1 L395.3,461.2M427.8,450.4 L444,453.6M431.3,459.1 L445.5,462M432.2,451.6 L446.1,452.4M401.7,431.2 L398.6,417.9M423.2,453.2 L431.1,453M430.2,446.4 L437.9,441.1M420.6,434.3 L429.1,421.6M406.2,434 L406.3,425.1M430,463.1 L435.6,470.9M419.9,453.1 L433.1,455.1M429.2,462.6 L445.3,466.3M420.9,457.1 L424.9,462.5M407.2,461 L406.6,467.2M416.3,463.5 L417.2,473.9M425.1,455.2 L435.5,455.9M422.4,452.9 L436.7,451.2M426.7,453 L437.7,451.7M406,435.1 L403.4,429.3M427.7,462.7 L440.4,467.6M430.6,460.7 L434.2,465.2M409.5,473.5 L407.7,484.4M404.7,460.8 L398.2,474.4M410.9,439.5 L409.4,429.2M414,464.1 L420.2,476.2M417.4,460 L421.4,466.9M421.5,460.9 L435.8,469.8M409.5,435.5 L408.1,428.2M394.5,455.3 L383,457.4M427,438.6 L435.3,427.7M404.5,440.1 L401.3,431.6M409.9,466.3 L410.5,476.8M419.7,448.5 L431.3,447.7M412.2,428 L417.3,417.3M420.5,437.5 L423.2,427.5M413.7,470 L417.7,479.1M391.4,463.3 L382.8,466.1M413.6,470.9 L416.3,486.9M389.3,452 L382.4,456.5M397.9,464.6 L390.3,477.6M402.3,460.8 L394.2,467.1M430.3,449.7 L438.7,451.5M429.8,460.3 L445.4,464.1M426.5,465.3 L432.1,477.3M403.2,459.7 L395,473.3M419.8,471.4 L427.6,481.2M388.4,462 L377.3,464.5M413.1,461.8 L412.7,472.9M389.4,453 L377.7,457.7M401.2,463.1 L388,473.5M427.8,456.6 L441.3,456.6M399.1,471.8 L393.6,481.5M387.3,447.7 L380.1,446.1M392.5,462.1 L379.4,467.5M403.5,462.8 L399.6,470.5M417.8,472.6 L423.4,483.7M416.8,429.2 L419,417.1M404.1,442.6 L399.3,431.5M413.3,460.1 L420.5,472.7M410.6,464.5 L409.3,474.6M392,463 L376.7,466.8M423.9,442.8 L428.7,440.8M419.6,450.8 L432.7,453.2M420.3,447.7 L435.7,445.6M423.4,435.8 L426.5,430.5M405.3,436 L402.4,420M409,439.6 L407,424.4M424.1,456.1 L435.1,460.7M416.2,428.5 L419,414.4M407.3,460.4 L403.5,476.7M422,441.9 L431.8,433M425.1,435.7 L433.9,433.1M423.7,439.4 L427.9,431.8M416.4,432.7 L422.9,418M405.1,441.8 L402.8,435.3M408,430.3 L410.7,419.6M414.2,462.3 L417.6,468.7M426.2,460.8 L436.4,471.4M406.1,471.2 L408.3,481.7M411.2,429.7 L414.6,413.4M432.1,444.3 L437.4,441.7M402.4,458.1 L388.7,467.4M394,453.8 L379.8,461.3M412.6,460.3 L413.6,468.4M420.4,456.2 L434.2,459.7M407.2,442.6 L401.9,433.7M407.3,445.8 L402.8,435.2M431.9,459.1 L440.3,457.9M392.6,456.7 L379.2,460.7M424.5,468 L429.1,474.9M418.4,461.4 L426.2,474.3M406.1,444.2 L401.9,435.8M408.1,462.8 L409.5,472.4M419.6,449.3 L434.2,447.8M416.2,458 L425.8,469.5M417.5,460.4 L427.3,470.8M413.5,460.7 L415.8,466.3M428.2,460.3 L437.9,463M429.5,460.3 L438.9,461.3M417.1,438.1 L421,432.3M400.6,468 L397.9,477.4M431,459.3 L446.2,465.5M413.1,472.1 L410.4,477.6M407.1,439.6 L405.1,434.7M408.5,441.5 L407.2,435.2M392.4,451.4 L386.1,450.9M411.8,439.6 L409.9,424.6M398.7,460.8 L387.2,470.6M420.4,430.6 L423.1,415.7M425.4,458.6 L441.9,462M421.3,453.4 L438,454.6M428.3,446 L441.1,438.2M408.1,467.6 L410.4,478M426.5,446.3 L434.5,444.2M393.9,449.4 L388,446.1M405.7,444.6 L399.1,435.3M424.8,450.9 L440,453.2M413.4,440 L412.9,434M396,457 L387.3,460.2M406.1,439.7 L399.3,428.9M387.8,446.6 L374.4,447M384.9,452 L373.6,451.5M397.7,462.7 L389.7,468.1M415.1,429.8 L418.1,419.1M428.5,465 L437.5,467.6M422.3,430.8 L426.7,424.8M427.2,451.8 L438.5,450.7M399.9,460.7 L390.1,468M427.3,434.6 L435.5,427.5M394.4,448.8 L379.5,448.5M420.2,429.2 L427.4,415.3M398.9,471.9 L388.4,480.1M392.2,460.9 L385.5,466.6M405.7,469.1 L407.5,480.9M416.3,433.7 L425.1,421.5M430.8,454 L439.8,453.3M402.9,457.3 L391.3,467.8M425.2,445.9 L437.6,444M426,445.6 L442.3,442.8M396.1,464.5 L389.4,468.5M405.9,467.8 L404.5,474M400.4,462.2 L394.8,464.7M405.6,461.2 L397,471.8M408.2,472.4 L407,478.8M426.2,445.7 L433.7,443.6M421.9,466.9 L429.4,471.3M418.1,443.3 L425.8,435.2M406.9,471.3 L406.6,480.9M417.3,439 L426.4,429.4M406.2,465.4 L404.2,481.3M425.7,435.2 L431.6,431.8M417.4,438.5 L425.8,429M426.5,467.1 L437.8,475.2M418.4,471.1 L424.8,481.2M432.1,453.8 L443.4,460.1M411.8,461.6 L411.4,476.1M428.2,465.9 L438.6,468.8M406.2,438.3 L401.2,426.9M429.7,454.9 L443.4,460.3M386,443.3 L374.4,440.2M406.5,443.6 L403,437.4M387.3,461 L378.4,462.6M405.4,440.2 L399.9,432.7M415.3,441.4 L419.9,434.3M392.5,457.2 L385.2,456.1M434.3,449.5 L448.3,453.6M433.2,453.1 L446,452.9M427.1,442.2 L435.1,440.4M421.3,447 L433.7,439.5M411.2,437.1 L409.5,429.9M421.2,434.6 L425.5,418.9M427.6,460 L433.5,463.7M420.6,448.9 L426,448M404.2,441.8 L400,434.1M388.9,456.7 L376.8,464.7M385,454.4 L371.1,461M433.9,449.5 L445.9,445.2M425.7,445.3 L438.2,442.5M400,470.7 L395.2,474M401.2,456.4 L396.3,461.8M413,468.4 L414,474.7M422.8,438.9 L430.7,427.7M430.3,464.4 L438.7,475.7M410.7,439.9 L414.5,425.9M411.3,465.6 L412.1,470.7M430.4,441.6 L435.8,436.6M397.7,466.9 L392.2,479.2M388.9,440.8 L381.8,441.9M406.5,443.4 L403.6,437.4M407.8,470.1 L403.3,479M423.7,440.2 L432,429.6M419.9,470.1 L424.7,482.4M394,454.1 L379.8,455.7M417.2,463.8 L422.6,472.9M399.4,460 L395.7,463.5M407.7,467.3 L406.9,475.4M385,450.2 L369.7,443.7" stroke="#222" stroke-width="0.45" fill="none" opacity="0.75"/><path d="M424.6,446.5 L432.4,444.5M421.4,455.8 L433.4,463.4M393.7,456.1 L384.8,459.9M410.6,462.3 L411.3,477.9M418.1,445.1 L426.1,441.7M405.7,462.1 L400.4,475.6M404.2,467.3 L400.3,475.8M394.2,454.8 L389.2,456.3M415.8,428.1 L420.9,421.9M393.9,465 L380.3,471.7M416.3,441.9 L422.6,431.5M395.1,452 L383.1,449.2M415.5,474.2 L422.5,483.5M385.4,452.5 L378.1,450.5M408,459.7 L405,464.3M404.8,459.9 L398.3,466.7M421.4,444.7 L428.4,443.5M404.8,442.3 L395.9,432.1M415.4,468.5 L419.6,478.7M407.7,435.5 L409.3,427.5M389.5,461.8 L378.8,464.5M404.1,461.8 L397,476.1M404.5,431.9 L402.1,426.6M424.4,435 L430,423.4M410.5,464.2 L409.4,477.8M400.8,468 L392.8,476.5M415.5,466.7 L420.7,474.4M419.9,442.8 L427.7,435.7M393.7,450.3 L385.4,447.5M421,457.1 L427.5,464.5M409.7,428.4 L408.6,418.3M395.5,462.9 L380.8,470M429.7,465 L434.2,474M416.4,471.2 L416.5,481.1M393.2,456.7 L381.8,456.8M404.7,466.1 L402.1,476M433.8,450.9 L446.6,453.6M404.6,437.3 L397.2,427.4M394.3,454.4 L384.1,456.5M418.3,445.6 L429,437.1M416.6,437.2 L422.7,428M413.7,441.9 L415.5,428.3M405.8,442.5 L398.2,432.7M432.2,441.4 L442.3,437.9M430,454.6 L438,454.1M428.9,443.7 L434.8,445.5M406.9,444.5 L401.8,433.4M418.8,439.8 L422.8,427.8M407.7,466.1 L408.3,478.3M426.2,458.4 L437.9,467.2M418.1,431.9 L420.4,424.4M399.1,464.2 L392.7,471.7M403.2,466.1 L398.1,469.2M422.4,452.3 L429.1,455.5M427,435.6 L441.3,429.4M422.4,458.2 L427.8,464.5M425.2,434.2 L429.9,429.5M417.5,461.1 L421.7,465.1M416.7,466.1 L422.9,472.9M433.3,449.2 L439.5,450.7M417.8,464.7 L422.9,479.9M392.5,450.9 L385.2,451.7M422.8,440.2 L424.7,434.8M427.3,451.6 L437.6,451.8M389.7,452.4 L378.9,448.3M423.6,463.2 L432.2,476.2M392.9,466 L380.8,473.8M411.2,466.3 L410.6,478.9M417.1,444.2 L427.1,436.3M408.9,464.5 L404.3,476.6M407.6,465.8 L404.1,473.7M389.4,445.8 L380,441.5M411.1,440.4 L408.8,432.7M386.9,451.6 L374.5,456.6M414.3,429.2 L417.7,417.4M415.7,463.5 L418.7,469.6M418.3,446.3 L423,443.2M427.7,442.6 L439.3,441.2M424.6,452.1 L436,450.4M417.9,462.1 L424.1,471.4M424,451.7 L439.2,451.7M400.9,456 L395.5,460.4M404.7,461 L398.5,466.7M432.9,456 L447.3,461.4M421.1,438.6 L432.3,429.3M415.8,437.7 L420.7,431.3M420.5,432.5 L424.9,427M401.7,464.9 L394.3,470.2M429.5,453.7 L442.1,456.9M420,452.5 L426.5,455.2M410.8,466.5 L409.6,479.7M428.5,441.7 L433.1,437.6M395.7,455.9 L383.5,459.3M410.8,460.9 L410.5,470.2M418.4,443.2 L427.6,435.8M414.1,460.2 L415.4,468.6M402.8,428.6 L403.2,416.3M415.8,458.8 L425.8,469.1M404.8,464.4 L399.3,474.6M390.1,453 L383.3,452M415.7,470.2 L419.5,474.2M417.1,462.7 L422.7,471.4M428.7,456.9 L439.7,462.6M406.4,441.3 L403.5,436.4M394.7,447.4 L381.2,441.9M419.5,439.1 L421.1,431.8M413.9,464.1 L416.7,477.3M419.4,462.5 L430.9,470.8M417.5,434.7 L423.2,430.5M418.9,447.1 L427.9,445.2M422.5,437.3 L427.3,433.8M404.7,458.2 L400.5,468.1" stroke="#000" stroke-width="0.8" fill="none" opacity="0.8"/><path d="M385.3,449.6 L378.3,452.3M419.4,454.3 L429.9,459.4M404.9,438.7 L398.5,427.8M403.6,464.2 L395.8,479.3M416.2,473.9 L423.7,484.1M414.7,464.9 L414.8,471.8M420.1,455.2 L429.2,458.8M424.5,431.5 L432.4,425.9M401.4,439 L397.2,434.8M431.3,439.7 L442.7,438.9M414,465.6 L415.7,476.7M392.9,450.6 L379.6,453M405.5,430.9 L407.2,419.4M421.1,446.6 L432.9,437.9M392,452.1 L386.6,450.1M396,467.7 L389,477M399.1,468 L390.8,474.7M410.5,473.6 L410.8,479.1M414.3,440 L418.4,432.3M410.8,460.6 L412.6,469.5M402.2,437.7 L396.3,433.4M405.9,439.2 L401.2,426.2M431.9,458.6 L436.5,464.8M394.7,465.3 L386.9,478.3M398.1,470.9 L395.6,482.1M416.4,442.5 L426.8,431.8M411,474.2 L408.4,482.5M399.9,461.6 L395.3,470.5M410.1,430.7 L411.4,418M422.6,461.4 L432.7,473.5M430.4,450.8 L436.3,446.9M393.7,463.4 L383,471.3M411.5,435.7 L410.4,427.9M422.4,460.6 L434.7,468.1M402.7,439.7 L397.9,432.6M388.6,444.2 L378.1,442.5M408.6,465.9 L407.4,470.9M424.1,466.6 L434.8,476.7M416.8,438.1 L425.3,425.5M406.2,442.4 L398.1,431.7M418.8,458.4 L425.7,462.3M415.4,469.8 L420.5,480.1M387.5,442.5 L381.8,443.7M399.1,469.7 L394,477.6M385,447.6 L372.6,449.5M395.1,449 L387.6,444.3M403.1,434.7 L400.2,421.6M420.9,453.9 L435.2,457.2M426.6,460.5 L431.5,466.7M413.6,460.2 L419.7,473.2M401.6,440 L398.9,434.9M402.6,441.6 L397.6,434.4M419,435.1 L423.6,427.7M418.4,445.5 L429.2,435M411.3,428 L410.5,420.2M428.2,437.4 L437.2,430.8M416.5,458.6 L426.3,472.4M432.5,450.1 L443.3,449M427,456.3 L441.6,461.3M400.2,439.3 L393.6,430.4M417.8,432.8 L417.8,419.4M394.1,454.8 L386.2,453.9M428.8,464.9 L441.7,472.8M426.3,468.7 L432.6,470.3M417.9,444.5 L429.2,436.7M403.1,431.2 L401.8,419M386.6,457 L378.3,455.8M423.2,466.1 L435.5,474.8M422.2,447 L429.6,447M388.5,445.2 L381.9,446.9M409.2,465 L412,475.2M395,447.9 L385.5,446.1M407.8,442.7 L402.4,434.2M424.8,460.5 L438,467.9M411.6,463.3 L411.6,474.4M392.5,453.1 L376.6,452.8M409.2,439.8 L409,430.7M424.5,468 L429.4,470.4M391.8,458.1 L379,460.7M385.4,451.1 L371.9,451.6M399.7,461.4 L391.7,470M415.8,463.7 L425.1,477.8M414.6,462 L419.7,473.5M406.7,444 L401.9,435.8M418.7,457.6 L424.3,461.9M424.9,440.7 L432.7,435.7M428,439 L434.5,433.3M415.2,464.6 L420.5,470.2M407.2,463.1 L406.7,468.6M406.7,436.9 L405.1,420.3M402.8,461.1 L393.6,469.4M406.4,465.3 L402.7,470.4M405.1,462.1 L403.4,468.5M395.2,462.1 L383,467.9M406.5,465.2 L403.9,470.1M432,449.7 L446.3,451.2M395.5,464.6 L382.9,472.8M385.6,447.1 L379,448.6M413.8,464.3 L416.6,470.4M415.7,434.6 L423,422.3M405,436.3 L403.9,429.9M390.8,452.1 L383.7,452.9M405.9,461.9 L403.5,474.4M416.9,440.2 L419.4,435.2M422.1,433.8 L429.5,426.6M404.2,461.1 L400.1,465.6M398.1,463.6 L391.3,471M424.6,460.5 L431.2,465M423.9,458.1 L428.9,461.1M424.7,439.5 L436.3,429.2M407.6,441.8 L406.6,429.4M426.4,464.7 L432.2,469.1M386.1,454.3 L372.1,450.6M418.3,472 L417.7,484.7M421.4,453.4 L433.8,457.8" stroke="#555" stroke-width="0.4" fill="none" opacity="0.7"/><path d="M410,450 L390,432 M411,452 L399,438 M409,454 L385,462 M412,453 L424,470 M411,455 L408,474 M413,450 L438,442" stroke="#000" stroke-width="1" fill="none"/><circle cx="413" cy="451" r="3" fill="#fff" opacity="0.9"/><text x="325" y="366.3" font-size="2.6" font-weight="bold" fill="#111">Tree scale: 1</text><path d="M571.3,443.1 C566,448 563,451 562.3,454 C560.5,462 562,466 556.8,471" fill="none" stroke="#222" stroke-width="0.9"/><path d="M562.3,453 L532.5,429.6 M562,457.5 L609.2,471.1 M561.8,460.3 L619.2,486.5 M560.5,466.6 L574.9,482.9 M556.8,471 L552.3,472.9" fill="none" stroke="#222" stroke-width="0.8"/><path d="M556.5,473 L553.5,495.5" fill="none" stroke="#222" stroke-width="1" stroke-dasharray="1.6 1.3"/><circle cx="609.2" cy="471.1" r="0.9" fill="#222"/><path d="M616.5,485 l3.6,1.8" stroke="#222" stroke-width="1.8"/><path d="M571.3,443.6 L556.8,401.6 L566.8,392.5 L574,389.5 L582.1,380.8 L593.9,387.1 L605.6,411.5 L616.5,412.4 L627.3,421.4 L634.5,430.5 L629.1,439.5Z" fill="#62ceb0" stroke="#15302a" stroke-width="0.5" stroke-linejoin="round"/><path d="M583.9,383.5 L593,387.1 L581.8,408 Z" fill="#8426ee" stroke="#15302a" stroke-width="0.5" stroke-linejoin="round"/><path d="M571.3,443.6 L566.8,392.5M571.3,443.6 L574,389.5M571.3,443.6 L578,386M571.3,443.6 L582.1,380.8M571.3,443.6 L581.8,408M571.3,443.6 L605.6,411.5M571.3,443.6 L611,412M571.3,443.6 L616.5,412.4M571.3,443.6 L622,417M571.3,443.6 L627.3,421.4M571.3,443.6 L631,426M571.3,443.6 L634.5,430.5M571.3,443.6 L632,435M571.3,443.6 L629.1,439.5" fill="none" stroke="#15302a" stroke-width="0.6"/><path d="M572,443 L575.5,391" stroke="#15302a" stroke-width="1.6" stroke-dasharray="1.2 1.2" fill="none"/><path d="M585,441.5 L642.7,445.8 M590,441 L628,439.5 L630,437.5 L622,443.5" stroke="#1a2a40" stroke-width="0.9" fill="none"/><path d="M532.5,429.6 L509.9,416.9 L513.5,407 L518.5,411 Z" fill="#8426ee" stroke="#15302a" stroke-width="0.5" stroke-linejoin="round"/><path d="M532.5,429.6 L513.5,406.5 L517,405.5 L522,414 Z" fill="#62ceb0" stroke="#15302a" stroke-width="0.5" stroke-linejoin="round"/><path d="M532.5,429.6 L520,411 L524.3,407 Z" fill="#8426ee" stroke="#15302a" stroke-width="0.5" stroke-linejoin="round"/><circle cx="510" cy="417" r="1" fill="#222"/><path d="M552.3,472.9 L518.9,488.3 L522,492 L526,497 L529,499 L532.5,501.8Z" fill="#62ceb0" stroke="#15302a" stroke-width="0.5" stroke-linejoin="round"/><path d="M552.3,472.9 L522,492M552.3,472.9 L526,497M552.3,472.9 L529,499" fill="none" stroke="#15302a" stroke-width="0.6"/><path d="M553.5,495.5 L544.2,525.3 L550,524 L556,525 L564.1,527.1 Z" fill="#62ceb0" stroke="#15302a" stroke-width="0.5" stroke-linejoin="round"/><path d="M553.5,497 L550,524 M553.5,497 L556,525 M553.8,500 L552.5,522" fill="none" stroke="#15302a" stroke-width="0.6"/><path d="M555,505 L558,523 L555.5,523.5 Z" fill="#8426ee"/><path d="M574.9,482.9 L595.7,494.6 L592,499 L593,503 L589.4,510.9 L586,505 Z" fill="#62ceb0" stroke="#15302a" stroke-width="0.5" stroke-linejoin="round"/><path d="M574.9,482.9 L592,499 M574.9,482.9 L593,503 M574.9,482.9 L590,506 M576,484 L589.4,510.9" fill="none" stroke="#15302a" stroke-width="0.7"/><path d="M590,492 l5.7,2.6 l-3,0.2Z" fill="#8426ee"/><rect x="480.1" y="524.7" width="14" height="69.5" fill="#6ed6b8" stroke="#111" stroke-width="0.9"/><rect x="480.1" y="524.7" width="14" height="17.5" fill="#8a22e2" stroke="#111" stroke-width="0.9"/><path d="M480.7,542.7 H493.5" stroke="#d8fff4" stroke-width="0.7"/><rect x="497.8" y="547.2" width="14.1" height="47" fill="#6ed6b8" stroke="#111" stroke-width="0.9"/><rect x="497.8" y="547.2" width="14.1" height="15.2" fill="#8a22e2" stroke="#111" stroke-width="0.9"/><path d="M498.4,562.9 H511.3" stroke="#d8fff4" stroke-width="0.7"/><rect x="515.8" y="559.6" width="13.5" height="34.6" fill="#6ed6b8" stroke="#111" stroke-width="0.9"/><rect x="515.8" y="559.6" width="13.5" height="8.4" fill="#8a22e2" stroke="#111" stroke-width="0.9"/><path d="M516.4,568.5 H528.7" stroke="#d8fff4" stroke-width="0.7"/><rect x="533.5" y="569.4" width="13.5" height="24.8" fill="#6ed6b8" stroke="#111" stroke-width="0.9"/><rect x="533.5" y="569.4" width="13.5" height="4.3" fill="#8a22e2" stroke="#111" stroke-width="0.9"/><path d="M534.1,574.2 H546.4" stroke="#d8fff4" stroke-width="0.7"/><path d="M476.7,523.5 V598.4 H563" fill="none" stroke="#111" stroke-width="1.5"/><path d="M338.1,611.9 L338.1,587.2 L343.2,599 L348.5,568.9 L353.6,581.5 L359.2,590 L369,585.7 L375.2,601.2 L385.3,604.6 L391,608.2 L396,601.2 L401.4,608.2 L401.4,611.9Z" fill="#4c2d8c"/><path d="M417,611.9 l1,-2.6 l3.2,2.6Z M432.5,611.9 l0.4,-2.4 l0.6,2.4Z M449.5,611.9 l1.2,-3.2 l3,3.2Z M505,611.3 h0.8" fill="#4c2d8c" stroke="#4c2d8c" stroke-width="0.4"/><text x="342.5" y="617.8" font-size="2.9" font-weight="bold" text-anchor="middle" fill="#222">20</text><text x="353.1" y="617.8" font-size="2.9" font-weight="bold" text-anchor="middle" fill="#222">60</text><text x="363.6" y="617.8" font-size="2.9" font-weight="bold" text-anchor="middle" fill="#222">100</text><text x="374.1" y="617.8" font-size="2.9" font-weight="bold" text-anchor="middle" fill="#222">140</text><text x="384.7" y="617.8" font-size="2.9" font-weight="bold" text-anchor="middle" fill="#222">180</text><text x="395.2" y="617.8" font-size="2.9" font-weight="bold" text-anchor="middle" fill="#222">220</text><text x="405.8" y="617.8" font-size="2.9" font-weight="bold" text-anchor="middle" fill="#222">260</text><text x="416.4" y="617.8" font-size="2.9" font-weight="bold" text-anchor="middle" fill="#222">300</text><text x="426.9" y="617.8" font-size="2.9" font-weight="bold" text-anchor="middle" fill="#222">340</text><text x="437.4" y="617.8" font-size="2.9" font-weight="bold" text-anchor="middle" fill="#222">380</text><text x="448" y="617.8" font-size="2.9" font-weight="bold" text-anchor="middle" fill="#222">420</text><text x="458.6" y="617.8" font-size="2.9" font-weight="bold" text-anchor="middle" fill="#222">460</text><text x="469.1" y="617.8" font-size="2.9" font-weight="bold" text-anchor="middle" fill="#222">500</text><text x="479.6" y="617.8" font-size="2.9" font-weight="bold" text-anchor="middle" fill="#222">540</text><text x="490.2" y="617.8" font-size="2.9" font-weight="bold" text-anchor="middle" fill="#222">580</text><text x="500.8" y="617.8" font-size="2.9" font-weight="bold" text-anchor="middle" fill="#222">620</text><text x="334" y="570.4" font-size="2.7" font-weight="bold" text-anchor="end" fill="#222">75</text><text x="334" y="579.7" font-size="2.7" font-weight="bold" text-anchor="end" fill="#222">60</text><text x="334" y="588.2" font-size="2.7" font-weight="bold" text-anchor="end" fill="#222">45</text><text x="334" y="596.6" font-size="2.7" font-weight="bold" text-anchor="end" fill="#222">30</text><text x="334" y="605" font-size="2.7" font-weight="bold" text-anchor="end" fill="#222">15</text><text x="334" y="612.9" font-size="2.7" font-weight="bold" text-anchor="end" fill="#222">0</text></g>
<g id="p6"><defs><clipPath id="plc"><rect x="41.5" y="376" width="86.8" height="103.8"/></clipPath><filter id="b1" x="-20%" y="-20%" width="140%" height="140%"><feGaussianBlur stdDeviation="0.55"/></filter><filter id="b2" x="-20%" y="-20%" width="140%" height="140%"><feGaussianBlur stdDeviation="0.9"/></filter><filter id="b3" x="-10%" y="-10%" width="120%" height="120%"><feGaussianBlur stdDeviation="0.35"/></filter></defs><g clip-path="url(#plc)"><rect x="41.5" y="376" width="86.8" height="103.8" fill="#1c1c1c"/><circle cx="84" cy="426" r="62" fill="#3e3e3e"/><circle cx="84" cy="426" r="59.5" fill="none" stroke="#5c5c5c" stroke-width="1.3"/><circle cx="84" cy="426" r="57" fill="#444"/><circle cx="53.8" cy="388.3" r="4.3" fill="#a6a6a6" filter="url(#b3)"/><circle cx="53.8" cy="388.3" r="2.6" fill="#8e8e8e"/><circle cx="65.8" cy="388.3" r="4.3" fill="#a6a6a6" filter="url(#b3)"/><circle cx="65.8" cy="388.3" r="2.6" fill="#8e8e8e"/><circle cx="77.8" cy="388.3" r="4.3" fill="#a6a6a6" filter="url(#b3)"/><circle cx="77.8" cy="388.3" r="2.6" fill="#8e8e8e"/><circle cx="53.8" cy="399.3" r="4.3" fill="#a6a6a6" filter="url(#b3)"/><circle cx="53.8" cy="399.3" r="2.6" fill="#8e8e8e"/><circle cx="65.8" cy="399.3" r="4.3" fill="#a6a6a6" filter="url(#b3)"/><circle cx="65.8" cy="399.3" r="2.6" fill="#8e8e8e"/><circle cx="77.8" cy="399.3" r="4.3" fill="#a6a6a6" filter="url(#b3)"/><circle cx="77.8" cy="399.3" r="2.6" fill="#8e8e8e"/><circle cx="53.8" cy="412.3" r="4.3" fill="#a6a6a6" filter="url(#b3)"/><circle cx="53.8" cy="412.3" r="2.6" fill="#8e8e8e"/><circle cx="65.8" cy="412.3" r="4.3" fill="#a6a6a6" filter="url(#b3)"/><circle cx="65.8" cy="412.3" r="2.6" fill="#8e8e8e"/><circle cx="77.8" cy="412.3" r="4.3" fill="#a6a6a6" filter="url(#b3)"/><circle cx="77.8" cy="412.3" r="2.6" fill="#8e8e8e"/><circle cx="53.8" cy="423.8" r="4.3" fill="#a6a6a6" filter="url(#b3)"/><circle cx="53.8" cy="423.8" r="2.6" fill="#8e8e8e"/><circle cx="65.8" cy="423.8" r="4.3" fill="#a6a6a6" filter="url(#b3)"/><circle cx="65.8" cy="423.8" r="2.6" fill="#8e8e8e"/><circle cx="77.8" cy="423.8" r="4.3" fill="#a6a6a6" filter="url(#b3)"/><circle cx="77.8" cy="423.8" r="2.6" fill="#8e8e8e"/><circle cx="53.8" cy="435.4" r="4" fill="#8a8a8a" filter="url(#b3)"/><circle cx="54" cy="437.4" r="0.8" fill="#cfcfcf"/><circle cx="52.3" cy="437" r="0.8" fill="#cfcfcf"/><circle cx="53.3" cy="434.9" r="0.8" fill="#cfcfcf"/><circle cx="56.6" cy="435.6" r="0.8" fill="#cfcfcf"/><circle cx="53.7" cy="436.6" r="0.8" fill="#cfcfcf"/><circle cx="55.6" cy="435.4" r="0.8" fill="#cfcfcf"/><circle cx="54.7" cy="433.8" r="0.8" fill="#cfcfcf"/><circle cx="65.8" cy="435.4" r="4" fill="#8a8a8a" filter="url(#b3)"/><circle cx="65.2" cy="434.7" r="0.8" fill="#cfcfcf"/><circle cx="63.9" cy="433.2" r="0.8" fill="#cfcfcf"/><circle cx="63.3" cy="435" r="0.8" fill="#cfcfcf"/><circle cx="65.5" cy="434.8" r="0.8" fill="#cfcfcf"/><circle cx="65.9" cy="433.2" r="0.8" fill="#cfcfcf"/><circle cx="65.6" cy="436" r="0.8" fill="#cfcfcf"/><circle cx="67" cy="434" r="0.8" fill="#cfcfcf"/><circle cx="77.8" cy="435.4" r="4" fill="#8a8a8a" filter="url(#b3)"/><circle cx="77.2" cy="432.5" r="0.8" fill="#cfcfcf"/><circle cx="77.1" cy="432.4" r="0.8" fill="#cfcfcf"/><circle cx="75.6" cy="437.1" r="0.8" fill="#cfcfcf"/><circle cx="74.9" cy="436.5" r="0.8" fill="#cfcfcf"/><circle cx="78.4" cy="434.9" r="0.8" fill="#cfcfcf"/><circle cx="78.5" cy="436.2" r="0.8" fill="#cfcfcf"/><circle cx="79.5" cy="435" r="0.8" fill="#cfcfcf"/><circle cx="52.9" cy="445.6" r="0.75" fill="#f0f0f0"/><circle cx="52.2" cy="446.4" r="0.75" fill="#f0f0f0"/><circle cx="52.5" cy="448.3" r="0.75" fill="#f0f0f0"/><circle cx="51" cy="444.8" r="0.75" fill="#f0f0f0"/><circle cx="52.4" cy="443.4" r="0.75" fill="#f0f0f0"/><circle cx="56" cy="443.7" r="0.75" fill="#f0f0f0"/><circle cx="53.4" cy="445.8" r="0.75" fill="#f0f0f0"/><circle cx="68" cy="443.8" r="0.75" fill="#f0f0f0"/><circle cx="67.6" cy="445.3" r="0.75" fill="#f0f0f0"/><circle cx="65.6" cy="445.5" r="0.75" fill="#f0f0f0"/><circle cx="66.9" cy="444.6" r="0.75" fill="#f0f0f0"/><circle cx="65.7" cy="447" r="0.75" fill="#f0f0f0"/><circle cx="68" cy="443.7" r="0.75" fill="#f0f0f0"/><circle cx="68.3" cy="448.1" r="0.75" fill="#f0f0f0"/><circle cx="77.1" cy="446.9" r="0.75" fill="#f0f0f0"/><circle cx="77" cy="449.2" r="0.75" fill="#f0f0f0"/><circle cx="78.1" cy="446.2" r="0.75" fill="#f0f0f0"/><circle cx="77.5" cy="446.2" r="0.75" fill="#f0f0f0"/><circle cx="77.5" cy="445.1" r="0.75" fill="#f0f0f0"/><circle cx="80.4" cy="444.1" r="0.75" fill="#f0f0f0"/><circle cx="74.2" cy="446.4" r="0.75" fill="#f0f0f0"/><circle cx="53.6" cy="459" r="0.75" fill="#f0f0f0"/><circle cx="53.5" cy="458.3" r="0.75" fill="#f0f0f0"/><circle cx="54.3" cy="460.1" r="0.75" fill="#f0f0f0"/><circle cx="53.2" cy="458" r="0.75" fill="#f0f0f0"/><circle cx="68.9" cy="459.3" r="0.75" fill="#f0f0f0"/><circle cx="64.4" cy="461.7" r="0.75" fill="#f0f0f0"/><circle cx="67" cy="457.6" r="0.75" fill="#f0f0f0"/><circle cx="63.8" cy="459" r="0.75" fill="#f0f0f0"/><circle cx="76.4" cy="456.7" r="0.75" fill="#f0f0f0"/><circle cx="75.6" cy="457.6" r="0.75" fill="#f0f0f0"/><circle cx="79.6" cy="457.8" r="0.75" fill="#f0f0f0"/><circle cx="75.4" cy="459.6" r="0.75" fill="#f0f0f0"/><circle cx="77.8" cy="446" r="3.2" fill="#8a8a8a" opacity="0.8"/><circle cx="67.6" cy="473.5" r="1.1" fill="#fff"/><circle cx="105.2" cy="397" r="0.9" fill="#fff"/><circle cx="91" cy="389" r="0.6" fill="#aaa"/><circle cx="93.5" cy="387.5" r="0.5" fill="#aaa"/><circle cx="89" cy="388" r="0.5" fill="#999"/><circle cx="102.5" cy="388" r="0.5" fill="#888"/><circle cx="104" cy="386.5" r="0.4" fill="#888"/><circle cx="90" cy="397" r="0.5" fill="#888"/><circle cx="103" cy="411.5" r="0.5" fill="#888"/><circle cx="86" cy="411.5" r="0.4" fill="#888"/><circle cx="117" cy="387" r="0.5" fill="#777"/><circle cx="100" cy="399" r="0.4" fill="#888"/></g><rect x="131.6" y="376" width="56.8" height="104" fill="#f1f1f1"/><rect x="189.6" y="376" width="53" height="106" fill="#e6e6e6"/><rect x="195" y="384" width="2.6" height="92" fill="#d4d4d4" opacity="0.55" filter="url(#b2)"/><rect x="199.9" y="384" width="2.6" height="92" fill="#d4d4d4" opacity="0.55" filter="url(#b2)"/><rect x="204.8" y="384" width="2.6" height="92" fill="#d4d4d4" opacity="0.55" filter="url(#b2)"/><rect x="209.7" y="384" width="2.6" height="92" fill="#d4d4d4" opacity="0.55" filter="url(#b2)"/><rect x="214.6" y="384" width="2.6" height="92" fill="#d4d4d4" opacity="0.55" filter="url(#b2)"/><rect x="219.5" y="384" width="2.6" height="92" fill="#d4d4d4" opacity="0.55" filter="url(#b2)"/><rect x="224.4" y="384" width="2.6" height="92" fill="#d4d4d4" opacity="0.55" filter="url(#b2)"/><rect x="229.3" y="384" width="2.6" height="92" fill="#d4d4d4" opacity="0.55" filter="url(#b2)"/><rect x="234.2" y="384" width="2.6" height="92" fill="#d4d4d4" opacity="0.55" filter="url(#b2)"/><g filter="url(#b1)" fill="#0c0c0c"><ellipse cx="136" cy="380.7" rx="2.3" ry="1.8"/><ellipse cx="139.5" cy="380.7" rx="2.1" ry="1.5"/><ellipse cx="143.5" cy="380.8" rx="1" ry="0.7"/><ellipse cx="136" cy="417.6" rx="1.6" ry="1.5"/><ellipse cx="136" cy="414.2" rx="1.4" ry="1"/><ellipse cx="141" cy="417.6" rx="1.6" ry="1.5"/><ellipse cx="141" cy="414.2" rx="1.4" ry="1"/><ellipse cx="147.5" cy="418" rx="2.6" ry="2.4"/><ellipse cx="152.5" cy="418" rx="2.6" ry="2.4"/><ellipse cx="157.5" cy="418" rx="2.6" ry="2.4"/><ellipse cx="164" cy="418" rx="2.6" ry="2.4"/><ellipse cx="169" cy="418" rx="2.6" ry="2.4"/><ellipse cx="174.5" cy="418" rx="2.6" ry="2.4"/><ellipse cx="179.5" cy="418" rx="2.6" ry="2.4"/><ellipse cx="184.9" cy="403.8" rx="2" ry="1.5"/><ellipse cx="184.9" cy="412.8" rx="2.1" ry="1.7"/><ellipse cx="184.9" cy="425.5" rx="2.3" ry="2"/><ellipse cx="239.6" cy="403.8" rx="2" ry="1.5"/><ellipse cx="239.6" cy="412.8" rx="2.1" ry="1.7"/><ellipse cx="239.6" cy="425.5" rx="2.3" ry="2"/><ellipse cx="193.5" cy="381" rx="3.6" ry="3.1"/><ellipse cx="198.8" cy="381" rx="3.6" ry="3.1"/><ellipse cx="204" cy="381" rx="3.3" ry="2.8"/><ellipse cx="208.7" cy="381" rx="3" ry="2.5"/><ellipse cx="213.8" cy="381" rx="2.2" ry="1.9"/><ellipse cx="219" cy="381" rx="1.4" ry="1.2"/><ellipse cx="224" cy="381" rx="1.2" ry="1"/><ellipse cx="229" cy="381" rx="0.9" ry="0.8"/><ellipse cx="234" cy="381" rx="0.9" ry="0.8"/><ellipse cx="238.5" cy="381" rx="0.6" ry="0.5"/><ellipse cx="202.5" cy="460.8" rx="0.9" ry="0.7"/><ellipse cx="207.5" cy="460.8" rx="1.3" ry="1.1"/><ellipse cx="213.8" cy="460.8" rx="2.6" ry="1.9"/><ellipse cx="219.4" cy="460.8" rx="2.7" ry="1.9"/><ellipse cx="224.7" cy="460.8" rx="2.7" ry="1.9"/><ellipse cx="230" cy="460.8" rx="2.7" ry="1.9"/><ellipse cx="235.2" cy="460.8" rx="2.7" ry="1.9"/><ellipse cx="202.5" cy="465.9" rx="0.9" ry="0.7"/><ellipse cx="207.5" cy="465.9" rx="1.3" ry="1.1"/><ellipse cx="213.8" cy="465.9" rx="2.6" ry="1.9"/><ellipse cx="219.4" cy="465.9" rx="2.7" ry="1.9"/><ellipse cx="224.7" cy="465.9" rx="2.7" ry="1.9"/><ellipse cx="230" cy="465.9" rx="2.7" ry="1.9"/><ellipse cx="235.2" cy="465.9" rx="2.7" ry="1.9"/><ellipse cx="202.5" cy="470.8" rx="0.9" ry="0.7"/><ellipse cx="207.5" cy="470.8" rx="1.3" ry="1.1"/><ellipse cx="213.8" cy="470.8" rx="2.6" ry="1.9"/><ellipse cx="219.4" cy="470.8" rx="2.7" ry="1.9"/><ellipse cx="224.7" cy="470.8" rx="2.7" ry="1.9"/><ellipse cx="230" cy="470.8" rx="2.7" ry="1.9"/><ellipse cx="235.2" cy="470.8" rx="2.7" ry="1.9"/></g><circle cx="184.9" cy="434" r="0.8" fill="#aaa" filter="url(#b1)"/><circle cx="184.9" cy="441" r="0.8" fill="#aaa" filter="url(#b1)"/><circle cx="184.9" cy="449" r="0.8" fill="#aaa" filter="url(#b1)"/><circle cx="184.9" cy="458" r="0.8" fill="#aaa" filter="url(#b1)"/><circle cx="184.9" cy="476" r="0.8" fill="#aaa" filter="url(#b1)"/><circle cx="239.6" cy="434" r="0.8" fill="#aaa" filter="url(#b1)"/><circle cx="239.6" cy="441" r="0.8" fill="#aaa" filter="url(#b1)"/><circle cx="239.6" cy="449" r="0.8" fill="#aaa" filter="url(#b1)"/><circle cx="239.6" cy="458" r="0.8" fill="#aaa" filter="url(#b1)"/><circle cx="239.6" cy="476" r="0.8" fill="#aaa" filter="url(#b1)"/><path d="M58.3,526.1 C59.6,524.4 62.6,523.3 64.9,523.1 C67.2,522.9 70,526.4 72.2,524.9 C74.4,523.4 76.6,517.3 78.2,514.1 C79.8,510.9 79.8,507.5 81.8,505.7 C83.8,503.9 87.9,504.2 90.2,503.3 C92.5,502.4 93.9,500 95.7,500.2 C97.5,500.4 99.5,502.2 101.1,504.5 C102.7,506.8 103.9,511.3 105.3,514.1 C106.7,516.9 108.1,519.5 109.5,521.3 C110.9,523.1 113.7,523.1 113.7,524.9 C113.7,526.7 110.6,529.6 109.5,532.2 C108.4,534.8 107.9,538 107.1,540.6 C106.3,543.2 104.7,545.4 104.7,547.8 C104.7,550.2 107.5,552.9 107.1,555.1 C106.7,557.3 104.7,559.7 102.3,561.1 C99.9,562.5 95.9,562.5 92.7,563.5 C89.5,564.5 85.4,567.1 83,567.1 C80.6,567.1 80.4,563.7 78.2,563.5 C76,563.3 72,566.1 69.8,565.9 C67.6,565.7 65.5,564.5 64.9,562.3 C64.3,560.1 66.7,554.9 66.1,552.7 C65.5,550.5 62.6,551 61.3,549 C60,547 59,543.2 58.3,540.6 C57.6,538 57.1,535.8 57.1,533.4 C57.1,531 57,527.8 58.3,526.1Z" fill="#6a52f0" stroke="#4a34c0" stroke-width="0.8" stroke-dasharray="0.9 0.7"/><circle cx="59.9" cy="525.4" r="2.1" fill="#6a52f0"/><circle cx="63.2" cy="523.9" r="1.8" fill="#6a52f0"/><circle cx="66.3" cy="523.6" r="1.8" fill="#6a52f0"/><circle cx="70.7" cy="524" r="1.5" fill="#6a52f0"/><circle cx="73.2" cy="522.6" r="1.9" fill="#6a52f0"/><circle cx="76.2" cy="517.4" r="2.2" fill="#6a52f0"/><circle cx="79.3" cy="512.1" r="1.4" fill="#6a52f0"/><circle cx="80.3" cy="507.8" r="1.3" fill="#6a52f0"/><circle cx="83.5" cy="504.8" r="1.2" fill="#6a52f0"/><circle cx="88.1" cy="503.8" r="2" fill="#6a52f0"/><circle cx="91.6" cy="502.7" r="1.7" fill="#6a52f0"/><circle cx="94.5" cy="500.9" r="1.5" fill="#6a52f0"/><circle cx="97.6" cy="501.9" r="2" fill="#6a52f0"/><circle cx="100" cy="503.2" r="1.4" fill="#6a52f0"/><circle cx="101.9" cy="506.4" r="2" fill="#6a52f0"/><circle cx="104.1" cy="512.1" r="1.6" fill="#6a52f0"/><circle cx="106.9" cy="516.3" r="1.2" fill="#6a52f0"/><circle cx="108.1" cy="520" r="1.7" fill="#6a52f0"/><circle cx="111.1" cy="522.1" r="1.3" fill="#6a52f0"/><circle cx="112.8" cy="524.3" r="1.5" fill="#6a52f0"/><circle cx="112.2" cy="526.5" r="2.2" fill="#6a52f0"/><circle cx="110.9" cy="529.9" r="1.4" fill="#6a52f0"/><circle cx="108.4" cy="533.8" r="2" fill="#6a52f0"/><circle cx="107.3" cy="538.6" r="1.6" fill="#6a52f0"/><circle cx="106.1" cy="542.7" r="1.3" fill="#6a52f0"/><circle cx="105.5" cy="545.5" r="1.6" fill="#6a52f0"/><circle cx="105" cy="549.3" r="2.2" fill="#6a52f0"/><circle cx="106.9" cy="553" r="2.1" fill="#6a52f0"/><circle cx="105.6" cy="556.5" r="2.1" fill="#6a52f0"/><circle cx="103.7" cy="559.1" r="2.2" fill="#6a52f0"/><circle cx="99.6" cy="561.4" r="2" fill="#6a52f0"/><circle cx="94.9" cy="562.7" r="1.3" fill="#6a52f0"/><circle cx="89.8" cy="564.5" r="1.4" fill="#6a52f0"/><circle cx="85.5" cy="566" r="1.7" fill="#6a52f0"/><circle cx="82.4" cy="566.2" r="1.8" fill="#6a52f0"/><circle cx="79.8" cy="564" r="1.4" fill="#6a52f0"/><circle cx="76.6" cy="564.5" r="1.4" fill="#6a52f0"/><circle cx="71.5" cy="565.6" r="2.1" fill="#6a52f0"/><circle cx="68.2" cy="565.5" r="2.1" fill="#6a52f0"/><circle cx="66.2" cy="563.1" r="1.3" fill="#6a52f0"/><circle cx="64.6" cy="560.5" r="1.4" fill="#6a52f0"/><circle cx="66" cy="554.8" r="2" fill="#6a52f0"/><circle cx="65" cy="551.5" r="1.4" fill="#6a52f0"/><circle cx="62.8" cy="549.4" r="1.4" fill="#6a52f0"/><circle cx="60.6" cy="547.3" r="1.8" fill="#6a52f0"/><circle cx="58.8" cy="543.2" r="1.4" fill="#6a52f0"/><circle cx="57.4" cy="538.5" r="1.6" fill="#6a52f0"/><circle cx="56.9" cy="534.8" r="1.6" fill="#6a52f0"/><circle cx="57.5" cy="531.1" r="1.6" fill="#6a52f0"/><circle cx="58.5" cy="528.5" r="1.9" fill="#6a52f0"/><circle cx="96.2" cy="539.3" r="0.6" fill="#553cd6" opacity="0.55"/><circle cx="93.1" cy="532.5" r="1.1" fill="#553cd6" opacity="0.55"/><circle cx="61.4" cy="536.7" r="1.1" fill="#553cd6" opacity="0.55"/><circle cx="96.9" cy="553.3" r="1.2" fill="#553cd6" opacity="0.55"/><circle cx="77" cy="546" r="1.2" fill="#553cd6" opacity="0.55"/><circle cx="106.4" cy="528.1" r="1.1" fill="#553cd6" opacity="0.55"/><circle cx="106" cy="538.5" r="1" fill="#553cd6" opacity="0.55"/><circle cx="78.7" cy="539.2" r="1" fill="#553cd6" opacity="0.55"/><circle cx="61.6" cy="543" r="1.3" fill="#553cd6" opacity="0.55"/><circle cx="79.1" cy="549.4" r="1" fill="#553cd6" opacity="0.55"/><circle cx="82" cy="556.3" r="0.6" fill="#553cd6" opacity="0.55"/><circle cx="91.1" cy="532.4" r="0.7" fill="#553cd6" opacity="0.55"/><circle cx="96.6" cy="533.5" r="1" fill="#553cd6" opacity="0.55"/><circle cx="95.5" cy="513.8" r="0.6" fill="#553cd6" opacity="0.55"/><circle cx="82.1" cy="559.9" r="0.8" fill="#553cd6" opacity="0.55"/><circle cx="94.8" cy="513.5" r="0.8" fill="#553cd6" opacity="0.55"/><circle cx="106.9" cy="525.9" r="1" fill="#553cd6" opacity="0.55"/><circle cx="85.2" cy="556.2" r="1.2" fill="#553cd6" opacity="0.55"/><circle cx="82.6" cy="518.6" r="0.7" fill="#553cd6" opacity="0.55"/><circle cx="80.5" cy="542.1" r="0.9" fill="#553cd6" opacity="0.55"/><circle cx="75" cy="556.3" r="1.3" fill="#553cd6" opacity="0.55"/><circle cx="89.4" cy="520.9" r="1.1" fill="#553cd6" opacity="0.55"/><circle cx="104.1" cy="516.1" r="0.6" fill="#553cd6" opacity="0.55"/><circle cx="59.8" cy="542.3" r="0.9" fill="#553cd6" opacity="0.55"/><circle cx="92.8" cy="544" r="1.1" fill="#553cd6" opacity="0.55"/><circle cx="68.4" cy="532" r="0.6" fill="#553cd6" opacity="0.55"/><circle cx="57.7" cy="531.8" r="1.1" fill="#553cd6" opacity="0.55"/><circle cx="76.7" cy="546.9" r="0.9" fill="#553cd6" opacity="0.55"/><circle cx="91.9" cy="550.8" r="0.8" fill="#553cd6" opacity="0.55"/><circle cx="101.9" cy="560.8" r="0.6" fill="#553cd6" opacity="0.55"/><circle cx="64.5" cy="530.5" r="1" fill="#553cd6" opacity="0.55"/><circle cx="108.6" cy="525.4" r="1" fill="#553cd6" opacity="0.55"/><circle cx="94" cy="513.9" r="1.1" fill="#553cd6" opacity="0.55"/><circle cx="103.4" cy="543.1" r="1.1" fill="#553cd6" opacity="0.55"/><circle cx="69.2" cy="560.4" r="1.3" fill="#553cd6" opacity="0.55"/><circle cx="101.9" cy="521.6" r="1.2" fill="#553cd6" opacity="0.55"/><circle cx="105.5" cy="523.5" r="0.6" fill="#553cd6" opacity="0.55"/><circle cx="82.1" cy="537" r="1.1" fill="#553cd6" opacity="0.55"/><circle cx="102.4" cy="511.8" r="0.8" fill="#553cd6" opacity="0.55"/><circle cx="101.7" cy="509.6" r="0.6" fill="#553cd6" opacity="0.55"/><circle cx="86.3" cy="548.6" r="1.2" fill="#553cd6" opacity="0.55"/><circle cx="85" cy="563.7" r="0.6" fill="#553cd6" opacity="0.55"/><circle cx="69.6" cy="535.4" r="0.7" fill="#553cd6" opacity="0.55"/><circle cx="98.4" cy="542.9" r="0.9" fill="#553cd6" opacity="0.55"/><circle cx="104.8" cy="537.7" r="0.7" fill="#553cd6" opacity="0.55"/><path d="M65,510.5 L69,503 L72,509 L76,502.5 L79,509 L83,504 L86,510 C84,516 74,517 67,512 Z M66.5,520 C70,526 78,525 84,517 M77,524 C75,532 78,540 88,543 C96,545 102,538 104,531 M84,530 C88,526 94,528 95,534 M96,528 l5,8 M91,529 l3,9 M86,533 l2,8" fill="none" stroke="#a2f2a8" stroke-width="1.9" stroke-linecap="round" stroke-linejoin="round"/><path d="M67,511 L69,504.5 M72,510 L76,504 M79,510 L83,505.5 M88,536 l6,-5 M92,540 l7,-6" fill="none" stroke="#2a7a40" stroke-width="0.7"/><path d="M39.5,544.5 V550M41.1,544.5 V550M42.8,544.5 V550M44.5,544.5 V550M46.1,544.5 V550M47.8,544.5 V550M49.4,544.5 V550M51,544.5 V550M52.7,544.5 V550M54.4,544.5 V550M56,544.5 V550M57.6,544.5 V550M59.3,544.5 V550M61,544.5 V550M62.6,544.5 V550M64.2,544.5 V550M65.9,544.5 V550M67.5,544.5 V550M69.2,544.5 V550M70.8,544.5 V550" stroke="#111" stroke-width="0.8" fill="none"/><path d="M39,544 H70.5" stroke="#7fd0f0" stroke-width="1"/><path d="M39,550.5 H92" stroke="#a8103c" stroke-width="1"/><path d="M72,548 V550M73.7,548 V550M75.4,548 V550M77.1,548 V550M78.8,548 V550M80.5,548 V550M82.2,548 V550M83.9,548 V550M85.6,548 V550M87.3,548 V550M89,548 V550M90.7,548 V550" stroke="#33208a" stroke-width="0.7" fill="none" opacity="0.8"/><text x="41" y="541.5" font-size="2.6" font-weight="bold" fill="#111">TS</text><text x="41" y="555" font-size="2.6" font-weight="bold" fill="#111">NTS</text><text x="35" y="545" font-size="2.4" font-weight="bold" fill="#111">3'</text><text x="35" y="551.5" font-size="2.4" font-weight="bold" fill="#111">5'</text><path d="M92.3,572.8 H132" stroke="#a8103c" stroke-width="1.1"/><path d="M93.3,570.3 V572.6M95,570.3 V572.6M96.8,570.3 V572.6M98.5,570.3 V572.6M100.3,570.3 V572.6M102,570.3 V572.6M103.8,570.3 V572.6M105.5,570.3 V572.6M107.3,570.3 V572.6M109,570.3 V572.6M110.8,570.3 V572.6M112.5,570.3 V572.6M114.3,570.3 V572.6M116,570.3 V572.6M117.8,570.3 V572.6M119.5,570.3 V572.6" stroke="#a8103c" stroke-width="0.7" fill="none"/><path d="M121.3,564.8 V572.6M123,564.8 V572.6M124.7,564.8 V572.6M126.4,564.8 V572.6M128.1,564.8 V572.6M129.8,564.8 V572.6M131.5,564.8 V572.6" stroke="#111" stroke-width="0.8" fill="none"/><path d="M120.5,564.5 H132" stroke="#111" stroke-width="1.1"/><text x="133.5" y="566" font-size="2.4" font-weight="bold" fill="#111">3'</text><text x="133.5" y="574" font-size="2.4" font-weight="bold" fill="#111">5'</text><path d="M166.5,576.2 L167.6,567.5 L168.8,559.8 L169.9,553 L171,547 L172.2,541.6 L173.3,536.9 L174.4,532.7 L175.6,529 L176.7,525.7 L177.8,522.8 L179,520.3 L180.1,518 L181.2,516 L182.4,514.2 L183.5,512.6 L184.6,511.2 L185.8,510 L186.9,508.9 L188,507.9 L189.2,507.1 L190.3,506.3 L191.4,505.6 L192.6,505 L193.7,504.5 L194.8,504 L196,503.6 L197.1,503.3 L198.2,502.9 L199.4,502.6 L200.5,502.4 L201.6,502.2 L202.8,502 L203.9,501.8 L205,501.6 L206.2,501.5 L207.3,501.4 L208.4,501.3 L209.6,501.2 L210.7,501.1 L211.8,501 L213,501 L214.1,500.9 L215.2,500.8 L216.4,500.8 L217.5,500.8 L218.6,500.7 L219.8,500.7 L220.9,500.7 L222,500.6 L223.2,500.6 L224.3,500.6 L225.4,500.6 L226.6,500.6 L227.7,500.5 L228.8,500.5 L230,500.5 L231.1,500.5 L232.2,500.5 L233.4,500.5 L234.5,500.5" fill="none" stroke="#86e4e2" stroke-width="1.4"/><circle cx="167.1" cy="571.7" r="0.8" fill="#fff" stroke="#4aa8b0" stroke-width="0.4"/><path d="M167.1,570.2 v3 m-0.8,0 h1.6 m-1.6,-3 h1.6" stroke="#4aa8b0" stroke-width="0.3" fill="none"/><circle cx="167.6" cy="567.5" r="0.8" fill="#fff" stroke="#4aa8b0" stroke-width="0.4"/><path d="M167.6,566 v3 m-0.8,0 h1.6 m-1.6,-3 h1.6" stroke="#4aa8b0" stroke-width="0.3" fill="none"/><circle cx="169.3" cy="556.3" r="0.8" fill="#fff" stroke="#4aa8b0" stroke-width="0.4"/><path d="M169.3,554.8 v3 m-0.8,0 h1.6 m-1.6,-3 h1.6" stroke="#4aa8b0" stroke-width="0.3" fill="none"/><circle cx="175" cy="530.8" r="0.8" fill="#fff" stroke="#4aa8b0" stroke-width="0.4"/><path d="M175,529.3 v3 m-0.8,0 h1.6 m-1.6,-3 h1.6" stroke="#4aa8b0" stroke-width="0.3" fill="none"/><circle cx="183.5" cy="512.6" r="0.8" fill="#fff" stroke="#4aa8b0" stroke-width="0.4"/><path d="M183.5,511.1 v3 m-0.8,0 h1.6 m-1.6,-3 h1.6" stroke="#4aa8b0" stroke-width="0.3" fill="none"/><circle cx="200.5" cy="502.4" r="0.8" fill="#fff" stroke="#4aa8b0" stroke-width="0.4"/><path d="M200.5,500.9 v3 m-0.8,0 h1.6 m-1.6,-3 h1.6" stroke="#4aa8b0" stroke-width="0.3" fill="none"/><circle cx="217.5" cy="500.8" r="0.8" fill="#fff" stroke="#4aa8b0" stroke-width="0.4"/><path d="M217.5,499.3 v3 m-0.8,0 h1.6 m-1.6,-3 h1.6" stroke="#4aa8b0" stroke-width="0.3" fill="none"/><circle cx="234.5" cy="500.5" r="0.8" fill="#fff" stroke="#4aa8b0" stroke-width="0.4"/><path d="M234.5,499 v3 m-0.8,0 h1.6 m-1.6,-3 h1.6" stroke="#4aa8b0" stroke-width="0.3" fill="none"/><path d="M166.5,576.2 L166.8,543.1 L167.1,524.1 L167.3,513.2 L167.6,506.9 L167.9,503.3 L168.2,501.3 L168.5,500.1 L168.8,499.4 L169.1,499 L169.3,498.8 L169.6,498.7 L169.9,498.6 L170.2,498.5 L170.5,498.5 L170.8,498.5 L171,498.5 L171.3,498.5 L171.6,498.5 L171.9,498.5 L172.2,498.5 L172.4,498.5 L172.7,498.5 L173,498.5 L173.3,498.5 L173.6,498.5 L173.9,498.5 L174.2,498.5 L174.4,498.5 L174.7,498.5 L175,498.5 L175.3,498.5 L175.6,498.5 L175.8,498.5 L176.1,498.5 L176.4,498.5 L176.7,498.5 L177,498.5 L177.3,498.5 L177.6,498.5 L177.8,498.5 L178.1,498.5 L178.4,498.5 L178.7,498.5 L179,498.5 L179.2,498.5 L179.5,498.5 L179.8,498.5 L180.1,498.5 L180.4,498.5 L180.7,498.5 L180.9,498.5 L181.2,498.5 L181.5,498.5 L181.8,498.5 L182.1,498.5 L182.4,498.5 L182.7,498.5 L182.9,498.5 L183.2,498.5 L183.5,498.5 L183.8,498.5 L184.1,498.5 L184.3,498.5 L184.6,498.5 L184.9,498.5 L185.2,498.5 L185.5,498.5 L185.8,498.5 L186.1,498.5 L186.3,498.5 L186.6,498.5 L186.9,498.5 L187.2,498.5 L187.5,498.5 L187.8,498.5 L188,498.5 L188.3,498.5 L188.6,498.5 L188.9,498.5 L189.2,498.5 L189.4,498.5 L189.7,498.5 L190,498.5 L190.3,498.5 L190.6,498.5 L190.9,498.5 L191.2,498.5 L191.4,498.5 L191.7,498.5 L192,498.5 L192.3,498.5 L192.6,498.5 L192.8,498.5 L193.1,498.5 L193.4,498.5 L193.7,498.5 L194,498.5 L194.3,498.5 L194.6,498.5 L194.8,498.5 L195.1,498.5 L195.4,498.5 L195.7,498.5 L196,498.5 L196.2,498.5 L196.5,498.5 L196.8,498.5 L197.1,498.5 L197.4,498.5 L197.7,498.5 L197.9,498.5 L198.2,498.5 L198.5,498.5 L198.8,498.5 L199.1,498.5 L199.4,498.5 L199.7,498.5 L199.9,498.5 L200.2,498.5 L200.5,498.5 L200.8,498.5 L201.1,498.5 L201.3,498.5 L201.6,498.5 L201.9,498.5 L202.2,498.5 L202.5,498.5 L202.8,498.5 L203.1,498.5 L203.3,498.5 L203.6,498.5 L203.9,498.5 L204.2,498.5 L204.5,498.5 L204.8,498.5 L205,498.5 L205.3,498.5 L205.6,498.5 L205.9,498.5 L206.2,498.5 L206.4,498.5 L206.7,498.5 L207,498.5 L207.3,498.5 L207.6,498.5 L207.9,498.5 L208.2,498.5 L208.4,498.5 L208.7,498.5 L209,498.5 L209.3,498.5 L209.6,498.5 L209.8,498.5 L210.1,498.5 L210.4,498.5 L210.7,498.5 L211,498.5 L211.3,498.5 L211.6,498.5 L211.8,498.5 L212.1,498.5 L212.4,498.5 L212.7,498.5 L213,498.5 L213.2,498.5 L213.5,498.5 L213.8,498.5 L214.1,498.5 L214.4,498.5 L214.7,498.5 L214.9,498.5 L215.2,498.5 L215.5,498.5 L215.8,498.5 L216.1,498.5 L216.4,498.5 L216.7,498.5 L216.9,498.5 L217.2,498.5 L217.5,498.5 L217.8,498.5 L218.1,498.5 L218.3,498.5 L218.6,498.5 L218.9,498.5 L219.2,498.5 L219.5,498.5 L219.8,498.5 L220.1,498.5 L220.3,498.5 L220.6,498.5 L220.9,498.5 L221.2,498.5 L221.5,498.5 L221.8,498.5 L222,498.5 L222.3,498.5 L222.6,498.5 L222.9,498.5 L223.2,498.5 L223.4,498.5 L223.7,498.5 L224,498.5 L224.3,498.5 L224.6,498.5 L224.9,498.5 L225.2,498.5 L225.4,498.5 L225.7,498.5 L226,498.5 L226.3,498.5 L226.6,498.5 L226.8,498.5 L227.1,498.5 L227.4,498.5 L227.7,498.5 L228,498.5 L228.3,498.5 L228.6,498.5 L228.8,498.5 L229.1,498.5 L229.4,498.5 L229.7,498.5 L230,498.5 L230.2,498.5 L230.5,498.5 L230.8,498.5 L231.1,498.5 L231.4,498.5 L231.7,498.5 L231.9,498.5 L232.2,498.5 L232.5,498.5 L232.8,498.5 L233.1,498.5 L233.4,498.5 L233.6,498.5 L233.9,498.5 L234.2,498.5 L234.5,498.5" fill="none" stroke="#9c0c3c" stroke-width="1.9" stroke-linejoin="round"/><path d="M166.5,497.6 V576.2 H234.8" fill="none" stroke="#111" stroke-width="0.7"/><path d="M166.5,576.2 h-1.8M166.5,560.6 h-1.8M166.5,545 h-1.8M166.5,529.3 h-1.8M166.5,513.7 h-1.8M166.5,498.1 h-1.8M166.5,576.2 v1.8M183.5,576.2 v1.8M200.5,576.2 v1.8M217.5,576.2 v1.8M234.5,576.2 v1.8" stroke="#111" stroke-width="0.7" fill="none"/><text x="164.1" y="578.1" font-size="5.5" font-weight="bold" text-anchor="end" fill="#111">0</text><text x="164.1" y="562.5" font-size="5.5" font-weight="bold" text-anchor="end" fill="#111">20</text><text x="164.1" y="546.9" font-size="5.5" font-weight="bold" text-anchor="end" fill="#111">40</text><text x="164.1" y="531.2" font-size="5.5" font-weight="bold" text-anchor="end" fill="#111">60</text><text x="164.1" y="515.6" font-size="5.5" font-weight="bold" text-anchor="end" fill="#111">80</text><text x="164.1" y="500" font-size="5.5" font-weight="bold" text-anchor="end" fill="#111">100</text><text x="166.5" y="584.4" font-size="5.5" font-weight="bold" text-anchor="middle" fill="#111">0</text><text x="183.5" y="584.4" font-size="5.5" font-weight="bold" text-anchor="middle" fill="#111">30</text><text x="200.5" y="584.4" font-size="5.5" font-weight="bold" text-anchor="middle" fill="#111">60</text><text x="217.5" y="584.4" font-size="5.5" font-weight="bold" text-anchor="middle" fill="#111">90</text><text x="234.5" y="584.4" font-size="5.5" font-weight="bold" text-anchor="middle" fill="#111">120</text><text x="200.7" y="593.4" font-size="5.8" font-weight="bold" text-anchor="middle" fill="#111">Time (min)</text></g>
<g id="p7"><g transform="translate(1,2.5)"><path d="M82,799 Q82,792 87,776 Q92,760 102,760 Q112,760 120,755 Q128,750 139,747 Q150,744 165,745.5 Q180,747 187,758.5 Q194,770 199.5,778.5 Q205,787 210.5,798.5 Q216,810 213.5,822 Q211,834 203,842 Q195,850 177.5,855 Q160,860 147.5,856 Q135,852 122.5,843.5 Q110,835 102.5,828.5 Q95,822 88.5,814 Q82,806 82,799Z" fill="#33293c"/><defs><path id="bl1" d="M36.1,811.1 Q33.5,808.5 40,801.9 Q46.6,795.4 53.1,792.2 Q59.5,788.9 66.1,792.2 Q72.6,795.4 77.8,801.9 Q83,808.5 89.4,812.4 Q95.9,816.3 102.5,820.1 Q109,824 110.3,830.6 Q111.6,837.1 107.7,842.3 Q103.8,847.5 97.3,846.2 Q90.7,844.9 85.6,839.7 Q80.4,834.5 75.1,830.6 Q69.9,826.6 67.3,822.7 Q64.7,818.8 56.9,816.3 Q49.2,813.7 43.9,813.7 Q38.7,813.7 36.1,811.1ZM33.2,808.3a3.7,3.7 0 1 1 7.3,0a3.7,3.7 0 1 1 -7.3,0M36.8,805.8a2.8,2.8 0 1 1 5.6,0a2.8,2.8 0 1 1 -5.6,0M39,803.4a1.9,1.9 0 1 1 3.7,0a1.9,1.9 0 1 1 -3.7,0M42.5,799.8a1.8,1.8 0 1 1 3.6,0a1.8,1.8 0 1 1 -3.6,0M43.6,798.1a3.9,3.9 0 1 1 7.8,0a3.9,3.9 0 1 1 -7.8,0M46.1,796.5a3,3 0 1 1 6,0a3,3 0 1 1 -6,0M48.2,794.3a2.7,2.7 0 1 1 5.5,0a2.7,2.7 0 1 1 -5.5,0M52.2,792.6a2.9,2.9 0 1 1 5.8,0a2.9,2.9 0 1 1 -5.8,0M54.8,790.9a2.8,2.8 0 1 1 5.6,0a2.8,2.8 0 1 1 -5.6,0M60.3,791.6a3,3 0 1 1 6,0a3,3 0 1 1 -6,0M62.4,794.3a3.7,3.7 0 1 1 7.4,0a3.7,3.7 0 1 1 -7.4,0M66.4,795.5a3.4,3.4 0 1 1 6.7,0a3.4,3.4 0 1 1 -6.7,0M68.6,797.6a3.3,3.3 0 1 1 6.5,0a3.3,3.3 0 1 1 -6.5,0M71.1,801a3.7,3.7 0 1 1 7.3,0a3.7,3.7 0 1 1 -7.3,0M73.4,800.2a2.3,2.3 0 1 1 4.7,0a2.3,2.3 0 1 1 -4.7,0M75,804.9a3,3 0 1 1 6,0a3,3 0 1 1 -6,0M77.5,808.6a2.8,2.8 0 1 1 5.5,0a2.8,2.8 0 1 1 -5.5,0M80.6,809.8a2.7,2.7 0 1 1 5.3,0a2.7,2.7 0 1 1 -5.3,0M81.9,811.8a3.3,3.3 0 1 1 6.7,0a3.3,3.3 0 1 1 -6.7,0M87.1,814.5a2.2,2.2 0 1 1 4.3,0a2.2,2.2 0 1 1 -4.3,0M90.8,815.6a3,3 0 1 1 6,0a3,3 0 1 1 -6,0M91.1,817.3a3.9,3.9 0 1 1 7.8,0a3.9,3.9 0 1 1 -7.8,0M95.9,817.8a3,3 0 1 1 6,0a3,3 0 1 1 -6,0M99.7,821.8a3.6,3.6 0 1 1 7.2,0a3.6,3.6 0 1 1 -7.2,0M103.5,823.2a2.9,2.9 0 1 1 5.9,0a2.9,2.9 0 1 1 -5.9,0M102.9,823.3a3.7,3.7 0 1 1 7.4,0a3.7,3.7 0 1 1 -7.4,0M105.2,829.6a2.9,2.9 0 1 1 5.7,0a2.9,2.9 0 1 1 -5.7,0M106.2,834.1a3.2,3.2 0 1 1 6.3,0a3.2,3.2 0 1 1 -6.3,0M107.1,836.6a2.3,2.3 0 1 1 4.6,0a2.3,2.3 0 1 1 -4.6,0M101.8,842.6a3.6,3.6 0 1 1 7.1,0a3.6,3.6 0 1 1 -7.1,0M100.4,842.5a3.7,3.7 0 1 1 7.3,0a3.7,3.7 0 1 1 -7.3,0M101.5,846.1a1.8,1.8 0 1 1 3.7,0a1.8,1.8 0 1 1 -3.7,0M94,844a3.2,3.2 0 1 1 6.3,0a3.2,3.2 0 1 1 -6.3,0M89.6,843.5a3,3 0 1 1 5.9,0a3,3 0 1 1 -5.9,0M84.7,841.3a2.8,2.8 0 1 1 5.6,0a2.8,2.8 0 1 1 -5.6,0M84.3,840a2.7,2.7 0 1 1 5.3,0a2.7,2.7 0 1 1 -5.3,0M80.2,836.5a3.8,3.8 0 1 1 7.6,0a3.8,3.8 0 1 1 -7.6,0M75.9,832.2a3.6,3.6 0 1 1 7.2,0a3.6,3.6 0 1 1 -7.2,0M75.1,832.3a3.4,3.4 0 1 1 6.8,0a3.4,3.4 0 1 1 -6.8,0M71,828.9a3,3 0 1 1 6,0a3,3 0 1 1 -6,0M67.9,825.6a2.9,2.9 0 1 1 5.9,0a2.9,2.9 0 1 1 -5.9,0M66.8,823.6a3.1,3.1 0 1 1 6.1,0a3.1,3.1 0 1 1 -6.1,0M66.9,822.1a2.5,2.5 0 1 1 4.9,0a2.5,2.5 0 1 1 -4.9,0M62,819.1a3.7,3.7 0 1 1 7.4,0a3.7,3.7 0 1 1 -7.4,0M56.6,815.9a2.7,2.7 0 1 1 5.4,0a2.7,2.7 0 1 1 -5.4,0M53.6,816.2a1.9,1.9 0 1 1 3.8,0a1.9,1.9 0 1 1 -3.8,0M50.9,815.4a2.2,2.2 0 1 1 4.4,0a2.2,2.2 0 1 1 -4.4,0M44.3,813.7a2.9,2.9 0 1 1 5.8,0a2.9,2.9 0 1 1 -5.8,0M41.7,813.4a3.3,3.3 0 1 1 6.6,0a3.3,3.3 0 1 1 -6.6,0M37,813.7a3.3,3.3 0 1 1 6.5,0a3.3,3.3 0 1 1 -6.5,0M34.9,809.9a3.7,3.7 0 1 1 7.4,0a3.7,3.7 0 1 1 -7.4,0"/><clipPath id="cbl1"><use href="#bl1"/></clipPath></defs><use href="#bl1" fill="#86eaea"/><g clip-path="url(#cbl1)" fill="none" stroke-linecap="round"><path d="M36.1,811.1 Q33.5,808.5 40,801.9 Q46.6,795.4 53.1,792.2 Q59.5,788.9 66.1,792.2 Q72.6,795.4 77.8,801.9 Q83,808.5 89.4,812.4 Q95.9,816.3 102.5,820.1 Q109,824 110.3,830.6 Q111.6,837.1 107.7,842.3 Q103.8,847.5 97.3,846.2 Q90.7,844.9 85.6,839.7 Q80.4,834.5 75.1,830.6 Q69.9,826.6 67.3,822.7 Q64.7,818.8 56.9,816.3 Q49.2,813.7 43.9,813.7 Q38.7,813.7 36.1,811.1Z" fill="#5fb4b8"/><path d="M101.7,848.8 Q96.8,844.6 96.1,838.2M89.6,825.8 Q92.2,823 96,822.3M98.1,836.9 Q100,833.2 104.2,833.2M35.6,806.1 Q38.8,801.5 44.2,803M81.4,817.2 Q77.4,817 78.8,813.4M39.9,807.5 Q40.4,800.8 44.5,795.5M90.3,830.9 Q86.5,828.4 84.2,824.4M56.8,798.7 Q51.5,794.7 48.7,788.7M53.7,810.3 Q58.6,806.5 64.4,804.7M80.2,825.3 Q78.1,824.4 77.2,822.4M92.9,818.9 Q94.6,816.2 97.8,816.7M91.6,844.6 Q95.1,839.9 101,839.5M65.9,810.3 Q62.8,810.3 62.9,807.2M40.7,810.8 Q38,810.5 36,808.6M73,821.8 Q72.6,817.2 76.6,814.7M75.1,819.5 Q70.9,818.4 69.2,814.5M96.2,844.9 Q90.9,842.3 90.5,836.4M85.6,826.4 Q89.5,820.7 96.4,821.1M51.9,806.9 Q52.9,801.6 54.2,796.4M88.7,834.7 Q86.2,831.2 84.7,827.1M91.6,842.7 Q92.7,837.5 96.6,833.7M68.6,800.8 Q64.6,800.2 66,796.4M83.5,814 Q80.1,813.6 77.3,811.6M49.2,808.8 Q47.6,805.3 50.1,802.4M99.5,837.6 Q99.4,833.7 101.1,830.3M78.2,810.8 Q76.4,807.1 78.2,803.5M70.3,812 Q66.3,807.5 66.9,801.5M73,829.5 Q71.9,826.8 70.9,824.1M55.7,803 Q56.2,798.4 59,794.8M62.6,814.6 Q65.7,810.3 71,810.7M103.7,838.1 Q101.4,832.8 103.5,827.4M85.6,830.4 Q82,826.4 82.8,821.2M84.3,813.2 Q78.5,811.4 77.3,805.6M65.5,811.6 Q64.9,808.9 67.5,807.9M108.9,834.2 Q105.4,830 105.8,824.5M46.8,802.2 Q49.7,800.8 52.8,800M92.4,840.2 Q88.6,837.2 86.1,833.1M96.7,842.2 Q92.3,841.4 93.6,837.1M94.7,838.9 Q88.5,840.5 82.7,837.7M54.2,818 Q57.8,813.7 62.3,810.4M91,833 Q88.4,831.8 88.2,829M83.7,837.2 Q88.3,835.4 93.2,836.1M65.7,820.5 Q64,818.2 63.7,815.3M97.8,842.3 Q94.1,840.2 93.8,836M41.7,812.8 Q36.8,813.8 34.2,809.5M87.2,831.5 Q91,827.9 96.1,826.8M78.1,813.7 Q77.9,808.8 81.1,805.1M39,812.4 Q35.3,810.4 37.5,806.8M103.2,840 Q105.1,838.7 107.2,837.9M69.8,801.3 Q65.2,797.4 66.4,791.5M53.5,799.9 Q56.2,794.1 62.5,793.2M60.5,816.9 Q56.4,814.6 54,810.7M45.6,813 Q44.6,810.5 45.9,808.2M99,829.8 Q96.1,827.7 95.3,824.3M78.1,822.5 Q72.1,820.7 67.2,817M54.9,793.2 Q58.9,789.8 63.2,792.7M68.9,822.8 Q74.3,820.2 79.9,822.5M108.3,830.5 Q103.8,827.6 105.9,822.7M79.6,801 Q74.2,800.5 70.5,796.5M79.1,805.5 Q75.4,806.6 73.1,803.4M80.8,821.8 Q85.8,818.3 91.8,819.8M49.7,804.6 Q52.3,799.5 57.4,796.8M66.3,814.6 Q70.8,810.7 76.7,810.6M72.3,804.2 Q69.3,800 66.3,795.9M75.2,826.7 Q74,822.1 76.6,818.1M98.8,849.4 Q96.4,845 96,840.1M76.6,821.3 Q79.1,818.9 82,820.9M79.6,816.4 Q74.7,811.4 75.8,804.6M71.4,811.1 Q69.9,808.8 70.7,806.1M42.7,806.2 Q46.5,803.3 51.1,802.2M84.3,817 Q85.9,812.4 90.7,811.6M94.6,839.1 Q89,841.1 85.4,836.5M45.4,807.7 Q40.6,806.2 40.1,801.3M99.2,837 Q99.3,834.2 101.8,832.9M39,812.4 Q41.2,809.8 44.5,810.7M73.5,803.9 Q74.9,800.3 78.6,799.1M69.3,799.2 Q64.4,798.3 61.9,793.9M64,807.9 Q65.2,804.9 67.7,802.7M64.5,820.6 Q61.7,816.8 59.9,812.3M102,831.8 Q101.1,829.4 102.5,827.3M74.5,809.3 Q71.7,809.1 69.6,807.2M86.7,824.4 Q87.8,821.5 90,819.4M83.9,819.5 Q80.4,819.8 77,819M43,809.2 Q41.5,807.6 40.1,805.8M70.2,808.3 Q73.3,805 77.3,807.2M81.1,824.1 Q80.6,819.5 82.9,815.5M103.3,828.2 Q101.9,825.7 104,823.7M48.1,805.9 Q46.3,801.7 46.3,797.2M71.4,823.3 Q74.9,818.7 80.6,818.3M34.4,809.2 Q33.2,805.2 37.3,804.7M66.8,798.9 Q65.6,795.1 68.8,792.8M102.2,824.4 Q95.8,827.5 89.6,824.1M95.8,830 Q93,824.3 92.9,817.9M55.2,805.1 Q61.2,802.5 67.4,804.5M100.2,840.8 Q95.6,837.5 92.1,833M82.2,812.5 Q75.9,812.7 72.6,807.2M88,820.2 Q82.5,822.4 78.1,818.4M67.6,813.9 Q71.5,808.8 75.5,803.8M85.3,838.9 Q83.1,835.1 84.3,830.8M97.1,833.5 Q92.8,832.8 90.6,829M90.7,829.9 Q93,827.5 96,826M107.4,837.6 Q109.2,835.9 111.5,836.9M78.7,833.2 Q82.6,830.7 87.2,830.8M68.6,817.7 Q72,811.9 78.5,810.2M82.9,816.4 Q82.1,811.3 84.7,806.8M59.1,809.7 Q54.5,806.1 56.6,800.7M75.2,819.1 Q74.7,815.2 75.3,811.3M69,815.1 Q63.6,812.7 59.8,808.4M46.1,806.8 Q43.2,804.6 43.2,801M49.6,803 Q52.8,799.9 56.8,797.9M79.6,824.1 Q76.5,822.1 77.6,818.6M55.4,815.2 Q49.6,813.4 49.2,807.4M96,847.2 Q94.2,843.7 97.9,842.7M91,842.6 Q88.3,837.1 86.6,831.1M61.9,820.1 Q60.9,816.4 64.1,814.1M109.9,837.1 Q108.7,834 108.3,830.8M61.9,815.4 Q66.4,814.1 71.1,814.2M76.3,821.6 Q71.5,822 70.4,817.4M116.1,835.6 Q109.8,836 104.2,833.2M55.8,797.9 Q52.9,791.4 55.8,785M69.8,817.2 Q70.3,813.8 71.7,810.6M96.7,840.6 Q92.3,835.1 93.3,828.1M83.5,827.9 Q80.3,823.2 83.1,818.2M66.7,819.3 Q68,817.7 70,817.1M102.3,824.8 Q99.8,826.8 97.8,824.3M81,825.8 Q77.5,828.3 75.6,824.5M57.7,797.9 Q53.7,794.4 51,789.7M50.3,810.5 Q48.9,805.2 49.6,799.8M109.4,840.9 Q105.3,840.4 102.1,837.6M75.8,829.3 Q78.1,824.6 83,826.3M53.2,797.5 Q48.8,796 44.7,793.8M60.6,801.5 Q54.1,801.6 48.1,799.3M50,809.5 Q48.5,805.9 49.7,802.2M68.9,816.8 Q66.8,817 64.7,816.5M78.5,828.4 Q82,825.4 86.3,827.2M61.6,798.3 Q57.6,794 59.1,788.3M64.3,819 Q67.7,814.9 73,814M104.3,833.1 Q104.4,829.1 107.2,826.2M82,811.1 Q82,807.7 85.2,808.5M33.1,814 Q31.7,807.9 36.2,803.4M80.7,813.4 Q76.9,811.5 76,807.2M105,829 Q105.9,824.2 108.5,820M70.1,804.2 Q63.1,803.5 58.6,798.3M76,828.8 Q72.2,830.4 68.7,828.1M57.9,798.2 Q54.7,794.1 57.7,789.7M88.7,832.9 Q91.9,831.5 95.1,832.7M51.3,799.2 Q51.1,794.9 51.7,790.6M62.4,790.1 Q59.5,790.7 56.5,789.9M78.8,818.7 Q76.8,815.5 74.9,812.1M39.1,809.8 Q35.5,806.4 34.7,801.6M98.2,828.9 Q94.5,830.3 92.8,826.8M56.6,806.7 Q55.7,803.7 55.1,800.7M81.6,826.5 Q84.4,823.6 88.4,823.4M101.2,844.6 Q101.8,842.2 102.8,839.9M95.2,846.9 Q92.5,840.4 96.4,834.6M70.5,813.4 Q69.1,809.5 67.8,805.6M56.8,819.9 Q54.5,813.5 58.6,808.1M102.2,829.6 Q99.1,830.8 96.7,828.4M113.4,833.5 Q108.5,834.2 107.5,829.4M98.6,839.3 Q99.4,834.2 102.4,830.1M56.5,792.8 Q61.6,791.8 66.6,790.9M46.9,805.8 Q41.9,804 42.1,798.7M71.6,816 Q75.2,812.7 80.1,812.4M74,812 Q72.8,809.9 73,807.5M78.9,829.6 Q80.2,826.6 83.3,827.6M47.5,814.6 Q46.6,808.4 50.2,803.4M78.8,819.3 Q78,817.1 77.6,814.8M56.4,808.8 Q58.5,806.3 61.8,805.7M60.6,816.7 Q57.9,812 61.3,807.6M58.9,818.4 Q64,814.5 69.9,812M69.5,827.3 Q70.8,820.7 76.7,817.3M82,818.2 Q77.4,820 73,817.8M54.6,796.6 Q56.8,793.7 59.8,791.6M54.7,800.8 Q59,798.5 63.9,798.2M77.4,818.4 Q76.2,814 76.2,809.5M62,798.1 Q55.6,798.4 49.2,797.8M67.1,817.1 Q62.2,817.4 60.4,812.7M92.2,822.9 Q92.2,818.9 95.9,820.1M73.7,820.8 Q69.1,819.9 66,816.4M103,835 Q102.3,832.3 102.7,829.6M69.2,817.4 Q70.1,813.6 73.8,812.6M67.8,820.2 Q67.2,815.6 68.8,811.4M97,849.4 Q95.4,844.2 98.8,839.8M71.1,821.5 Q68.9,817.5 68.2,813.1M107.4,838.8 Q103.2,834 101,828M80.5,816.5 Q84.5,812.1 89.7,809.2M48.1,816.3 Q50.5,811.8 54,808.1M104,828 Q108,823.7 112.9,820.6M65.5,825.3 Q64.5,819.2 69.8,816M46.8,811.5 Q43.3,811.4 41.6,808.3M58.3,798.2 Q61.6,796.8 65,795.8M65.7,821.7 Q70.4,819.2 75.5,818.1M87.7,829.6 Q83.9,829.1 81.1,826.4M84.1,819.9 Q85.6,815.6 87.4,811.4M101.1,837 Q97.1,839.6 93.2,836.8M82.5,829.2 Q87.2,825.6 93.1,826M70.2,797.8 Q67.5,798.6 65,797.5M74.4,825.5 Q69.5,826.5 66,822.9M106.7,830.4 Q104.1,826.1 107.8,822.8M71.7,819.8 Q74.2,816.7 77,813.9M50.2,811.2 Q50,806.2 53.4,802.6M63.2,794.4 Q62,790.7 65.1,788.2M64.2,804.7 Q67.7,801.3 71.1,804.6M72.7,822.3 Q69,821.8 69,818.1M94.2,832.8 Q90.8,828.5 91.5,823M72.1,827.7 Q70.4,826.1 69.5,823.9M98.6,838.5 Q98.6,835.1 99.4,831.8M90.1,844.8 Q87.1,841.8 90.8,839.7M79.4,830.1 Q82.8,827.1 87.2,828.3M73.4,825.8 Q74.7,823.3 76.4,821M74.7,808.5 Q76.5,806.4 79,805.1M81.6,806.4 Q77.1,805.3 73.2,802.7M115.5,839.2 Q110,836.1 106.2,831M46.9,809.3 Q49,803 54.1,798.7" stroke="#86eaea" stroke-width="4.6"/><path d="M43.7,808.3 Q49.1,806.9 54.7,807.9M64.8,808.7 Q69.2,805.1 73.7,801.6M80.7,827.3 Q84.2,825.5 88.1,825.9M95.9,826.9 Q95,820.9 97.4,815.3M107.5,846.4 Q104.2,842.8 101.1,838.9M108.9,839.2 Q107.2,835 111.4,833.3M90.8,836.6 Q95.1,834.6 99.7,835.9M102.1,843.9 Q100.7,837.4 102.6,831M101.8,837.3 Q105.4,832.2 111.5,832.2M100.1,823.5 Q96,820.6 96.6,815.6M103.8,834.6 Q103.1,831 105.8,828.6M107.6,836.1 Q102.2,833.4 96.8,830.5M85.8,836.6 Q88.5,831.9 92.7,828.3M87.1,841.4 Q87.1,835.9 92.3,834.2M91.8,844.5 Q97.1,842.6 102.6,841.7M97.6,826.4 Q102.5,822.6 108.6,821.5M37.9,808.5 Q41.7,803.5 47.9,804.8M107.2,842.3 Q103.1,839.5 104.3,834.7M79.3,825.8 Q73.4,821.8 73.5,814.7M71.5,818.7 Q75.2,814.1 79.9,810.7M82.4,830 Q86.8,825.8 92.4,823.3M39.6,813.3 Q44.2,811.5 49.1,811.3M73.9,813.7 Q69.7,814.7 67,811.4M82.6,817 Q82.1,810.8 84.9,805.3M59.5,808.3 Q61.6,804.1 66.2,804M65.2,795.5 Q62.8,795.9 60.5,795.1M86.1,833.3 Q87.4,829 90.2,825.4M97.5,839.5 Q98.4,834.2 101.5,829.7M77.5,827.1 Q79.6,824.8 82,822.7M80.1,815.9 Q76.8,818.4 74.3,815.1M94,841.6 Q92.9,836.8 97.4,834.8M56.4,802.3 Q58.8,801.1 61.4,800.6M99.7,847.3 Q101.1,845.1 103.7,844.8M113.6,835.2 Q108.8,831.3 104,827.3M107,842 Q106.1,837.3 108.7,833.3M113.2,832.9 Q107.7,831.4 104.1,827M78.6,809.2 Q79,806 79.6,802.8M57.9,806.3 Q52.6,803.3 48.4,798.9M55,803.9 Q50.4,801.7 51.3,796.7M42.2,804.6 Q41,798.2 44.7,793M46.8,805 Q49.3,802.1 53,801.8M50.7,800.5 Q48.6,799 48.8,796.5M76,827.4 Q76.6,822.3 79.3,817.9M91.2,842 Q87.9,837.5 89.2,832M91.9,830.7 Q89.3,825.4 89.8,819.5M47.1,813.6 Q45.3,810.9 43.6,808.1M51.4,803.6 Q49.7,799.8 53.2,797.7M54.4,815.7 Q55.6,813.2 58.4,813M93.9,838.2 Q94.8,835.5 97.6,834.9M86.3,823 Q84.4,818.8 88.2,816.1M68.1,796.5 Q62.2,794.9 56.6,792.6M72.7,825.5 Q67.8,825.1 65.5,820.9M92.3,823.8 Q86.8,824 82.7,820.3M68.2,816.1 Q69,812.3 72.9,812.9" stroke="#6bbbbb" stroke-width="3.7"/><path d="M45.9,807.6 L51.4,807.4M99.1,835.4 L102.2,833.6M80.2,815.6 L79,813.7M54.3,795.6 L50.2,790.6M79,823.9 L77.5,822.5M95.7,823.4 L96.5,817.6M73.4,819.4 L75.2,815.9M94.2,842.1 L91.4,837.9M87.2,832.2 L85.2,828.4M67.5,799.1 L66.1,796.9M92.6,835.8 L97,835.5M69,808.8 L67.2,803.5M56,800.3 L57.7,796.3M84.4,827.5 L83,822.9M65.5,810 L66.5,808.2M98.7,820.9 L97,817M91.2,838 L85.2,837.4M89.8,831.4 L88.4,829.4M96.3,840.1 L94.3,837M88.9,829.7 L93.4,827.4M87,833.9 L90.4,829.8M55.2,797.6 L59.7,794.2M45.2,811.2 L45.3,808.8M56.5,792.5 L60.7,792.2M107.2,827.9 L106,824M99.9,824.6 L105.3,822.1M68.4,813 L73.6,811M75.1,824 L75.8,819.7M78.1,812.9 L76.3,806.9M44.3,804.6 L48.5,802.6M77.4,822.4 L74.5,816.8M39.9,811.4 L42.7,810.5M67,797.3 L63.3,794.6M101.6,830.1 L101.8,827.8M87.1,822.6 L88.7,820M41.5,812.2 L46.2,811.2M103,826.5 L103.3,824.3M73.2,821.5 L77.8,819M98.6,823.7 L92.3,823.6M57.8,804.3 L63.9,804M60.7,806.6 L64.1,804.4M84.5,836.3 L84,832.2M91.5,828.4 L94.2,826.4M70.6,815.2 L75.6,811.5M58,806.9 L56.8,802.3M98,836.5 L100,831.6M78.6,822.1 L77.6,819.4M95.9,845.5 L96.9,843.2M109,834.9 L108.2,831.8M74.3,819.9 L71.3,817.8M94.4,839.3 L96,835.9M82.9,824.9 L82.7,820M100.7,824.1 L98.4,823.8M49.6,807.2 L49.3,801.9M77.1,827.9 L80.7,826.4M110.7,832.6 L105.9,828.7M79.9,827.5 L83.8,826.9M66,817.2 L70.3,814.6M33.4,810.8 L34.9,805.5M105.3,826.2 L107.1,821.7M78.3,807 L78.8,803.8M50.9,796.5 L51.1,792.2M77.3,816.5 L75.4,813.2M55.7,804.6 L55,801.6M101.1,842.8 L101.9,840.5M42.3,801.1 L43.6,795.3M111.4,831.9 L108.4,829.8M58.6,791.7 L63.6,790.8M73.3,810.3 L72.8,808M47.7,811.2 L49,805.6M76.3,824.4 L78,819.7M70.8,824.2 L74.4,819.2M55.4,794.7 L58,792.3M58.3,797.4 L51.9,797.3M92.7,821.6 L94.5,820.2M45.7,811.6 L44,808.9M96.9,846.4 L97.8,841.6M105.3,835.5 L102.1,830.1M105.7,825.5 L110.2,821.9M45,810.1 L42.4,808.5M94.3,836.8 L96.2,835.1M98.6,836.3 L94.7,836.2M68.4,797.1 L65.8,797M72.5,817.8 L75.2,814.8M63.1,792.3 L64.1,789.2M70.4,823.7 L66.8,821.4M98.3,836.2 L98.7,832.9M80.8,829.1 L84.7,828.2M79,804.9 L74.8,803M48.2,806.1 L51.8,800.8" stroke="#a7efef" stroke-width="1.7" opacity="0.7"/></g><defs><path id="bl2" d="M22.9,824.2 Q20.2,821 25.5,815.8 Q30.7,810.6 35.9,811.9 Q41.1,813.2 47.6,814.5 Q54.2,815.8 61.9,817.1 Q69.7,818.4 67.1,824.9 Q64.5,831.4 58,836.6 Q51.6,841.8 45,838 Q38.5,834.1 32,830.8 Q25.5,827.5 22.9,824.2ZM20.6,818.4a3.9,3.9 0 1 1 7.8,0a3.9,3.9 0 1 1 -7.8,0M24.2,816.8a3.4,3.4 0 1 1 6.8,0a3.4,3.4 0 1 1 -6.8,0M26,814.7a3.1,3.1 0 1 1 6.3,0a3.1,3.1 0 1 1 -6.3,0M28.5,814.2a2.7,2.7 0 1 1 5.3,0a2.7,2.7 0 1 1 -5.3,0M32.2,812.6a3,3 0 1 1 6,0a3,3 0 1 1 -6,0M33.2,812.2a1.9,1.9 0 1 1 3.7,0a1.9,1.9 0 1 1 -3.7,0M36.3,815.2a3.8,3.8 0 1 1 7.5,0a3.8,3.8 0 1 1 -7.5,0M40.2,814a1.9,1.9 0 1 1 3.7,0a1.9,1.9 0 1 1 -3.7,0M43,816.5a4,4 0 1 1 8,0a4,4 0 1 1 -8,0M48.6,818a3.6,3.6 0 1 1 7.1,0a3.6,3.6 0 1 1 -7.1,0M51.1,818.4a3.5,3.5 0 1 1 7.1,0a3.5,3.5 0 1 1 -7.1,0M58.7,818a2.2,2.2 0 1 1 4.3,0a2.2,2.2 0 1 1 -4.3,0M58.7,818.8a3,3 0 1 1 5.9,0a3,3 0 1 1 -5.9,0M61.4,819.4a3.6,3.6 0 1 1 7.3,0a3.6,3.6 0 1 1 -7.3,0M63.5,823.2a2.8,2.8 0 1 1 5.6,0a2.8,2.8 0 1 1 -5.6,0M61.3,825.3a2.9,2.9 0 1 1 5.7,0a2.9,2.9 0 1 1 -5.7,0M62.2,829.2a2.2,2.2 0 1 1 4.3,0a2.2,2.2 0 1 1 -4.3,0M58.5,833.3a2.5,2.5 0 1 1 5,0a2.5,2.5 0 1 1 -5,0M55.4,834.3a2.9,2.9 0 1 1 5.9,0a2.9,2.9 0 1 1 -5.9,0M53.7,837.1a2.3,2.3 0 1 1 4.5,0a2.3,2.3 0 1 1 -4.5,0M50.8,840.1a2,2 0 1 1 3.9,0a2,2 0 1 1 -3.9,0M46.4,837.7a2.2,2.2 0 1 1 4.4,0a2.2,2.2 0 1 1 -4.4,0M43,837.7a2.4,2.4 0 1 1 4.8,0a2.4,2.4 0 1 1 -4.8,0M42.2,835.2a2.9,2.9 0 1 1 5.9,0a2.9,2.9 0 1 1 -5.9,0M37.8,833.5a3.7,3.7 0 1 1 7.5,0a3.7,3.7 0 1 1 -7.5,0M36.1,832.8a2.6,2.6 0 1 1 5.2,0a2.6,2.6 0 1 1 -5.2,0M32.2,830.9a3.9,3.9 0 1 1 7.8,0a3.9,3.9 0 1 1 -7.8,0M31.7,829.3a2.4,2.4 0 1 1 4.7,0a2.4,2.4 0 1 1 -4.7,0M26.9,827.3a3.3,3.3 0 1 1 6.6,0a3.3,3.3 0 1 1 -6.6,0M21.3,823.9a2.1,2.1 0 1 1 4.3,0a2.1,2.1 0 1 1 -4.3,0M19.4,822.1a3.4,3.4 0 1 1 6.9,0a3.4,3.4 0 1 1 -6.9,0"/><clipPath id="cbl2"><use href="#bl2"/></clipPath></defs><use href="#bl2" fill="#c21e9c"/><path d="M32,822 L38.5,840M36.4,822.3 L42.9,839.6M40.8,822.6 L47.3,839.2M45.2,822.9 L51.7,838.8M49.6,823.2 L56.1,838.4M54,823.5 L60.5,838M58.4,823.8 L64.9,837.6" stroke="#fff" stroke-width="1.7" fill="none" opacity="0.85"/><defs><path id="bl3" d="M110.3,841.6 Q107.7,832.5 114.2,831.1 Q120.7,829.8 128.5,832.4 Q136.3,835.1 135,842.9 Q133.7,850.6 128.6,855.9 Q123.4,861.1 118.1,855.9 Q112.9,850.6 110.3,841.6ZM107.6,833.3a2,2 0 1 1 3.9,0a2,2 0 1 1 -3.9,0M113,832.4a1.3,1.3 0 1 1 2.6,0a1.3,1.3 0 1 1 -2.6,0M117.2,831.4a1.5,1.5 0 1 1 3.1,0a1.5,1.5 0 1 1 -3.1,0M122.2,831.5a1.9,1.9 0 1 1 3.7,0a1.9,1.9 0 1 1 -3.7,0M124,834a2.4,2.4 0 1 1 4.8,0a2.4,2.4 0 1 1 -4.8,0M129.7,834.2a1.3,1.3 0 1 1 2.6,0a1.3,1.3 0 1 1 -2.6,0M132.4,834.6a1.2,1.2 0 1 1 2.5,0a1.2,1.2 0 1 1 -2.5,0M132.2,839.3a2.4,2.4 0 1 1 4.9,0a2.4,2.4 0 1 1 -4.9,0M131.4,841.6a2.3,2.3 0 1 1 4.6,0a2.3,2.3 0 1 1 -4.6,0M131.5,845.5a1.3,1.3 0 1 1 2.7,0a1.3,1.3 0 1 1 -2.7,0M131.1,849.5a1.8,1.8 0 1 1 3.6,0a1.8,1.8 0 1 1 -3.6,0M129.5,851.3a1.7,1.7 0 1 1 3.5,0a1.7,1.7 0 1 1 -3.5,0M126.6,854.2a2.5,2.5 0 1 1 4.9,0a2.5,2.5 0 1 1 -4.9,0M123.6,855.7a2.6,2.6 0 1 1 5.2,0a2.6,2.6 0 1 1 -5.2,0M121.8,859.1a2.6,2.6 0 1 1 5.1,0a2.6,2.6 0 1 1 -5.1,0M120.7,858.4a1.5,1.5 0 1 1 3,0a1.5,1.5 0 1 1 -3,0M119.5,857.8a1.3,1.3 0 1 1 2.6,0a1.3,1.3 0 1 1 -2.6,0M116,853.4a2.3,2.3 0 1 1 4.6,0a2.3,2.3 0 1 1 -4.6,0M114.2,850.4a2.3,2.3 0 1 1 4.6,0a2.3,2.3 0 1 1 -4.6,0M112.2,847.7a1.3,1.3 0 1 1 2.5,0a1.3,1.3 0 1 1 -2.5,0M110.2,844.6a2.6,2.6 0 1 1 5.1,0a2.6,2.6 0 1 1 -5.1,0M110.3,841.5a1.3,1.3 0 1 1 2.6,0a1.3,1.3 0 1 1 -2.6,0M109.2,838.8a1.8,1.8 0 1 1 3.5,0a1.8,1.8 0 1 1 -3.5,0M107.5,837.6a2.4,2.4 0 1 1 4.8,0a2.4,2.4 0 1 1 -4.8,0"/><clipPath id="cbl3"><use href="#bl3"/></clipPath></defs><use href="#bl3" fill="#d4e4de"/><g clip-path="url(#cbl3)" fill="none" stroke-linecap="round"><path d="M110.3,841.6 Q107.7,832.5 114.2,831.1 Q120.7,829.8 128.5,832.4 Q136.3,835.1 135,842.9 Q133.7,850.6 128.6,855.9 Q123.4,861.1 118.1,855.9 Q112.9,850.6 110.3,841.6Z" fill="#9ab0aa"/><path d="M122.5,853.1 Q123.1,846.7 127.1,841.5M122.5,854.6 Q117.7,854.9 117.6,850.1M126.5,847.1 Q122.5,849 118.8,846.8M124.2,835.5 Q123.6,830.8 127.4,827.9M113.9,847.4 Q113.7,843.7 115.9,840.8M115.7,844.6 Q115.4,841 117.6,838.2M125.7,855.3 Q121.7,854.4 122.3,850.3M115.6,840.7 Q114.2,835.7 113.5,830.6M109.8,845.7 Q111.1,839.6 115.3,835M113.9,836.4 Q111.3,833.3 114.4,830.7M135.3,839.9 Q130,837 128.1,831.2M133.8,841.9 Q129.7,843.2 127.7,839.3M140.3,834.8 Q134,837.8 127.8,834.6M131.5,853.9 Q130.5,850.5 131.9,847.3M113.3,835.1 Q111.5,831.2 115.1,828.8M132,839.2 Q127.6,836.3 126.1,831.2M133.7,843.4 Q128.4,843.1 126.5,838.3M128.9,857.3 Q125.6,857.7 122.5,856.3M123.3,848.5 Q122.8,843 122.3,837.6M111.4,834.7 Q108,836.9 107.1,832.9M127.4,843.1 Q124.3,841.5 121.6,839.1M124.5,854.4 Q123,852.5 122.7,850M115.5,851.1 Q116.6,846.6 121.3,846.4M127.2,847.2 Q123.3,844.3 123.9,839.4M114.1,845.4 Q119.4,841.9 125.6,840.8M120.5,846.5 Q114.3,846.5 110,842.2M126.3,855.2 Q124.8,852.4 127.3,850.4M107.7,833.9 Q110.3,832.8 112.9,831.9M128.1,847.7 Q127.6,844.2 131.2,843.9M114.3,849.1 Q116.7,846.9 119.6,845.9M112.2,851.7 Q114,848.2 117.6,846.5M119.7,843.1 Q117.4,841.2 118.5,838.5M119.9,850.4 Q122,844.7 125.1,839.5" stroke="#d4e4de" stroke-width="4.6"/><path d="M133.9,845.9 Q131.1,841.9 132.8,837.3M116.4,853.5 Q117.6,851.8 119.2,850.4M113.5,842.2 Q115.4,837.7 120.4,838.3M116.5,844.4 Q114.1,841 114.5,836.9M129.4,844.7 Q124,841.7 121.1,836.3M124,842.7 Q120.2,840.9 120.1,836.7M120.1,854.6 Q117.9,851.8 119.4,848.5M127.4,836 Q130.4,831 136.2,831.2M126.1,839.3 Q127.2,833.5 132.1,830.4" stroke="#a9b6b1" stroke-width="3.7"/><path d="M133.1,843.2 L132.6,838.9M124.1,846.4 L120.2,846.3M113.9,845.1 L114.9,841.8M114.6,837.6 L113.5,832.6M113.5,834.4 L113.8,831.6M115.5,841.9 L114.5,838.2M113.3,832.9 L114.2,829.7M131.4,841.5 L127.8,838.9M109.8,833.6 L107.7,832.7M123.5,852.7 L122.7,850.5M119.4,852.5 L119.1,849.4M126.1,853.4 L126.6,851M128.4,846.2 L129.9,844.2M118.9,841.3 L118.3,839" stroke="#e0ebe7" stroke-width="1.7" opacity="0.7"/></g><defs><path id="bl4" d="M131.8,856.2 Q125.4,849.7 130.6,841.9 Q135.7,834.1 144.9,836.7 Q154,839.3 161.8,841.9 Q169.5,844.5 177.4,849.7 Q185.2,855 190.4,856.2 Q195.6,857.5 193,861.4 Q190.4,865.4 182.6,864.1 Q174.8,862.8 169.6,866.7 Q164.4,870.5 157.9,867.9 Q151.4,865.4 144.9,864.1 Q138.3,862.8 131.8,856.2ZM125,848.5a2,2 0 1 1 4.1,0a2,2 0 1 1 -4.1,0M127.6,847.4a2.7,2.7 0 1 1 5.4,0a2.7,2.7 0 1 1 -5.4,0M130.3,841.3a2.3,2.3 0 1 1 4.6,0a2.3,2.3 0 1 1 -4.6,0M130.6,841.3a2,2 0 1 1 4.1,0a2,2 0 1 1 -4.1,0M134.4,835.6a3.6,3.6 0 1 1 7.1,0a3.6,3.6 0 1 1 -7.1,0M135.9,836.6a3.2,3.2 0 1 1 6.4,0a3.2,3.2 0 1 1 -6.4,0M141.8,837.4a2,2 0 1 1 4,0a2,2 0 1 1 -4,0M143.7,837.1a2.2,2.2 0 1 1 4.4,0a2.2,2.2 0 1 1 -4.4,0M148,840a3.7,3.7 0 1 1 7.4,0a3.7,3.7 0 1 1 -7.4,0M152.3,841.8a3.1,3.1 0 1 1 6.1,0a3.1,3.1 0 1 1 -6.1,0M154.2,841.6a2.7,2.7 0 1 1 5.4,0a2.7,2.7 0 1 1 -5.4,0M157,841.6a2.5,2.5 0 1 1 4.9,0a2.5,2.5 0 1 1 -4.9,0M158.5,844.3a3.2,3.2 0 1 1 6.4,0a3.2,3.2 0 1 1 -6.4,0M165.1,844.8a2.6,2.6 0 1 1 5.1,0a2.6,2.6 0 1 1 -5.1,0M167.8,846.1a2.2,2.2 0 1 1 4.5,0a2.2,2.2 0 1 1 -4.5,0M168,848.8a3.4,3.4 0 1 1 6.9,0a3.4,3.4 0 1 1 -6.9,0M174.4,850.5a2,2 0 1 1 4,0a2,2 0 1 1 -4,0M175.5,852.4a3.2,3.2 0 1 1 6.3,0a3.2,3.2 0 1 1 -6.3,0M176.9,853.8a2.8,2.8 0 1 1 5.6,0a2.8,2.8 0 1 1 -5.6,0M182.1,856.5a3.9,3.9 0 1 1 7.8,0a3.9,3.9 0 1 1 -7.8,0M185.5,856.3a2.4,2.4 0 1 1 4.9,0a2.4,2.4 0 1 1 -4.9,0M187.2,857.4a3.9,3.9 0 1 1 7.8,0a3.9,3.9 0 1 1 -7.8,0M190.9,857.8a2.2,2.2 0 1 1 4.4,0a2.2,2.2 0 1 1 -4.4,0M185.1,861.3a3.9,3.9 0 1 1 7.8,0a3.9,3.9 0 1 1 -7.8,0M187.2,864.6a2.2,2.2 0 1 1 4.3,0a2.2,2.2 0 1 1 -4.3,0M183,863.9a2,2 0 1 1 4,0a2,2 0 1 1 -4,0M177.7,862.7a1.9,1.9 0 1 1 3.9,0a1.9,1.9 0 1 1 -3.9,0M171.8,862.2a2.1,2.1 0 1 1 4.3,0a2.1,2.1 0 1 1 -4.3,0M167,861.8a4,4 0 1 1 8,0a4,4 0 1 1 -8,0M165.9,865.7a2.7,2.7 0 1 1 5.4,0a2.7,2.7 0 1 1 -5.4,0M162.8,866.6a2.7,2.7 0 1 1 5.4,0a2.7,2.7 0 1 1 -5.4,0M159.9,867.5a3.8,3.8 0 1 1 7.5,0a3.8,3.8 0 1 1 -7.5,0M157.4,866.6a2.4,2.4 0 1 1 4.7,0a2.4,2.4 0 1 1 -4.7,0M151.9,863.7a3.7,3.7 0 1 1 7.4,0a3.7,3.7 0 1 1 -7.4,0M147.1,863.2a3,3 0 1 1 6.1,0a3,3 0 1 1 -6.1,0M142.5,863.2a3.2,3.2 0 1 1 6.5,0a3.2,3.2 0 1 1 -6.5,0M139.3,863.4a2,2 0 1 1 4,0a2,2 0 1 1 -4,0M134.5,860.2a3.8,3.8 0 1 1 7.7,0a3.8,3.8 0 1 1 -7.7,0M133.3,857.9a3.2,3.2 0 1 1 6.4,0a3.2,3.2 0 1 1 -6.4,0M130,856.6a3.3,3.3 0 1 1 6.6,0a3.3,3.3 0 1 1 -6.6,0M128.4,853.4a2,2 0 1 1 3.9,0a2,2 0 1 1 -3.9,0M126.4,850a1.9,1.9 0 1 1 3.8,0a1.9,1.9 0 1 1 -3.8,0"/><clipPath id="cbl4"><use href="#bl4"/></clipPath></defs><use href="#bl4" fill="#c41a40"/><g clip-path="url(#cbl4)" fill="none" stroke-linecap="round"><path d="M131.8,856.2 Q125.4,849.7 130.6,841.9 Q135.7,834.1 144.9,836.7 Q154,839.3 161.8,841.9 Q169.5,844.5 177.4,849.7 Q185.2,855 190.4,856.2 Q195.6,857.5 193,861.4 Q190.4,865.4 182.6,864.1 Q174.8,862.8 169.6,866.7 Q164.4,870.5 157.9,867.9 Q151.4,865.4 144.9,864.1 Q138.3,862.8 131.8,856.2Z" fill="#620d20"/><path d="M162.4,862 Q165.3,861.3 168.2,860.6M178.1,864.3 Q181.1,859.8 186.4,861M142.6,863.8 Q137.2,860 136.5,853.4M160.6,853.5 Q158.3,855.4 156.3,853.1M185,853.4 Q179.2,856.1 173.5,853M133.4,859.1 Q130.3,854.3 129.3,848.8M139.4,852.1 Q141.7,851.5 144.2,851.6M168.8,870.3 Q166,866.2 169.1,862.4M138,856 Q133.1,853.7 133.7,848.3M147.5,859.2 Q145.6,854 147,848.8M127.5,844.7 Q129.4,840.7 133.9,841.4M176.3,861.4 Q171.5,857.2 169.5,851.2M164.9,849.1 Q164.5,846.4 166.7,844.6M172.5,847.7 Q171.2,846.1 170.1,844.3M178.9,863.9 Q181.3,861.5 184.3,863.1M154.8,856.1 Q159.5,851.7 165.5,854M165.4,869.5 Q166.8,866.3 169.4,864.1M142.3,857 Q148.3,855.6 154.3,856.9M155.9,866.9 Q153.5,863.9 151.1,860.9M135.6,857.7 Q137.2,853.1 141,849.9M170.8,846.4 Q167.5,846.3 164.7,844.6M139.4,845.5 Q141.6,842.3 144.8,844.6M170,854.5 Q172.9,852.2 176.3,853.7M139.8,838 Q136.4,838.1 133,837.3M172.9,858.8 Q174.3,853.4 178.9,850.2M149.7,860.4 Q152.3,857.7 156,857.5M162.4,853.7 Q162,849.7 166,849.3M148,867.3 Q151.8,864.7 156,862.7M189,863.2 Q183.8,859.5 182.2,853.3M143.5,866.5 Q148.1,861.6 154.9,862.5M170.2,863.7 Q168.3,858.5 173,855.4M174.8,856.9 Q174.6,852.1 176.1,847.6M174.4,857.1 Q169.1,856.9 163.8,856.5M145.6,850.3 Q144.9,847.8 147,846.2M171.5,866 Q173.4,862.5 176.2,859.7M172,868.8 Q168.7,865.3 166.9,860.7M141.9,841.3 Q135.6,839.3 132.1,833.7M134.3,852.9 Q132.8,846.6 132.5,840.1M143.2,860.1 Q146,854.7 149.1,849.5M141.7,838.4 Q136.9,837.2 138,832.4M172.6,859.6 Q174.5,857.8 177,857.3M134.4,856 Q133.8,851.4 135.7,847.2M139.5,845.2 Q135.6,842.6 132.7,839M171.4,851.4 Q166.2,848 167.1,841.9M147.7,862.8 Q145.6,860.8 146,857.8M158.4,849.7 Q157.8,847.1 157.5,844.5M181,863.2 Q179.4,861.1 179.7,858.4M164.9,873.1 Q162.7,866.8 164.2,860.3M124.9,851.6 Q126.9,849.9 129.1,848.5M138.9,847.9 Q136,845 137.5,841.2M135,850.5 Q134.5,845 139.6,842.9M148.4,857.3 Q145.9,853.3 149.4,850.1M180.9,856.8 Q174.8,858.9 169.7,855M180,859.3 Q180.3,856.1 180.9,853M162,868.2 Q158.1,866.4 155.5,863.1M160.5,866.3 Q161.8,863.9 164.6,864.1M146.4,855.3 Q143.6,853.5 145.3,850.6M172.1,861.6 Q169.8,857 172.4,852.6M132.1,851 Q128.8,852.4 127.6,849M151.1,850 Q147.8,846.8 145.1,842.9M178.3,856.3 Q176.5,853 179,850.1M135.3,855.7 Q135.5,850.8 139.4,847.7M188.5,863.8 Q191.4,858 196.7,854.2M150.6,848 Q147.8,845.8 146.9,842.4M173.7,856.4 Q169.2,857 169,852.4M154,848.1 Q152,843.1 152,837.7M154.7,867.3 Q154.7,860.8 157,854.7M153.5,859 Q149.9,861.6 146.3,859M155.9,842.1 Q152.5,842.3 149.3,841.5M153.1,865.1 Q156.7,860.2 161.7,856.9M184.7,865.1 Q180.7,860.6 182.6,854.9M162.6,857.5 Q165.5,855.6 169,856M152.7,850.6 Q153.6,846.7 157.2,848.2M176.7,853.6 Q178.6,850.9 181.2,848.9M147.8,847.3 Q148.8,842.3 153.5,840.3M192.5,864.9 Q188.2,862.4 188.6,857.3M167.9,844.5 Q165.4,845.6 163.4,843.7M180.3,861 Q175.9,857.5 171.8,853.7M148.6,860.1 Q146.8,854.3 151.1,850M152,858.4 Q149,857.6 146.2,856.1M165.6,868.3 Q168.9,863.3 174.9,863.4M169.6,853 Q174.6,849.4 179.9,846.4M136.3,846.2 Q133.7,840.6 134.7,834.5M163.7,846 Q165,843.1 166.4,840.2M194.4,863.5 Q190.8,860.1 191.4,855.1M134.3,846.3 Q130.3,845.6 126.4,844.3M157.9,847.1 Q162.2,843.7 167.2,841.5M186.4,859.9 Q182.3,855.3 178.3,850.8M154.8,863.5 Q147.6,862.7 144.2,856.3M140.7,865 Q139.7,860.7 139.7,856.3M137.2,853.1 Q135.9,847.4 137.7,841.7M170.4,864.1 Q173.3,860.9 177.3,859.3M139.7,854.6 Q136.2,853.2 133.3,850.7M148.7,859.6 Q146.3,857.5 147,854.3M143.2,851.8 Q142.5,848.7 145.7,848.2M131.6,856.1 Q125.8,854 124,848.1" stroke="#c41a40" stroke-width="4.6"/><path d="M196.1,858.9 Q192.9,860.6 190.7,857.9M158.8,868.1 Q158.5,865.2 160.6,863.1M160.2,866.2 Q154.7,863.7 149.9,860.2M184.9,866.5 Q185.8,862.6 187.7,859M130.8,862.4 Q131.7,856.7 136.4,853.3M194.2,857.9 Q190.5,859.8 190.1,855.7M171.7,866.3 Q171.9,859.3 177.6,855.2M142.3,859.2 Q146.7,857.6 151.2,856.2M134.8,840.6 Q137.9,834.9 144.2,832.9M141.4,845.3 Q143.2,842 146.4,843.9M165.2,847.5 Q167.9,846.6 170.7,847.3M135.8,847 Q138.7,846.7 141.7,846.6M136.6,861 Q135.7,855.7 139.5,852.1M144.8,853.5 Q138.4,853.2 133.6,849.1M127.8,850.5 Q130.2,846.7 134.1,848.7M180,857.3 Q178,854.3 178.5,850.7M142.3,854.7 Q138.2,853.2 137.8,848.9M161.7,852.8 Q165.1,849.5 169.4,851.2M171.6,860.6 Q168.4,859.9 167.5,856.7M180.8,861.9 Q177,858.9 174.1,855M155.4,844.6 Q151.4,842.6 149.4,838.7M150.3,855.9 Q152.1,851.6 156.4,853.5M157,858 Q151.9,858.6 149.7,853.9M130.7,852.4 Q129.3,847.5 132.1,843.1M178,852.7 Q175.5,849.9 175.2,846.1" stroke="#9c1433" stroke-width="3.7"/><path d="M194.2,858.1 L191.5,857.6M140.6,860.6 L137.5,855.4M181.6,852.7 L175.9,852.5M168.4,867.7 L168.5,863.8M146.9,856 L146.6,850.8M185.1,864.1 L186.5,860.3M179.8,863.1 L182.4,862.7M165.9,867.5 L167.9,864.8M136.4,855.2 L139.1,851.2M140.3,844.7 L142.9,844.2M172.7,862.9 L175.6,857.4M162.8,852 L164.6,849.8M186.8,860.1 L183.4,855.2M174.6,854 L175.3,849.3M145.4,848.7 L146.1,846.7M142.1,844.3 L144.6,843.6M144.2,856.8 L147.2,851.5M173.2,858.4 L175.4,857.3M169.8,848.4 L167.6,843.7M157.6,847.8 L157.2,845.2M136.9,858.2 L138.3,853.7M135.6,848 L138,844.2M177.6,855.7 L172,854.8M161,865.2 L163.1,864.1M171.7,858.7 L171.8,854.2M179.2,855 L178.4,851.7M190,860.8 L194.1,856M172,854.8 L169.7,852.8M151.2,858.4 L147.6,858.4M154.8,862.5 L159.1,858.3M170.1,859 L168,857.1M148.7,845 L151.6,841.4M166.3,843.7 L164.1,843.3M150.1,857.2 L147.2,856.1M171.7,850.8 L176.9,847.5M151.3,854.7 L154.4,853.5M159.7,845.1 L164.4,842.3M151.6,861.1 L146.3,857.5M171.6,862.3 L175,859.9M147.7,857.7 L146.9,855.1M176.8,850.4 L175.4,847.1" stroke="#d45a75" stroke-width="1.7" opacity="0.7"/></g><defs><path id="bl5" d="M139.1,827.3 Q133.9,815.7 144.4,813.1 Q154.8,810.5 160,817 Q165.2,823.4 164,831.2 Q162.8,839 153.6,839 Q144.3,839 139.1,827.3ZM135.3,817.3a3.4,3.4 0 1 1 6.9,0a3.4,3.4 0 1 1 -6.9,0M137.2,815.9a3.8,3.8 0 1 1 7.7,0a3.8,3.8 0 1 1 -7.7,0M142.8,814.3a3.2,3.2 0 1 1 6.5,0a3.2,3.2 0 1 1 -6.5,0M144.5,814.3a2.3,2.3 0 1 1 4.7,0a2.3,2.3 0 1 1 -4.7,0M145.7,814.5a2.3,2.3 0 1 1 4.6,0a2.3,2.3 0 1 1 -4.6,0M152.2,811.5a2.2,2.2 0 1 1 4.3,0a2.2,2.2 0 1 1 -4.3,0M153,814.6a2.1,2.1 0 1 1 4.2,0a2.1,2.1 0 1 1 -4.2,0M155.8,816.5a2.3,2.3 0 1 1 4.5,0a2.3,2.3 0 1 1 -4.5,0M154.8,820a3.9,3.9 0 1 1 7.8,0a3.9,3.9 0 1 1 -7.8,0M157,822.7a3.9,3.9 0 1 1 7.7,0a3.9,3.9 0 1 1 -7.7,0M160.2,826.1a2.5,2.5 0 1 1 4.9,0a2.5,2.5 0 1 1 -4.9,0M160.8,827.8a1.9,1.9 0 1 1 3.9,0a1.9,1.9 0 1 1 -3.9,0M158.3,829.9a3.3,3.3 0 1 1 6.6,0a3.3,3.3 0 1 1 -6.6,0M158.4,836.7a2.9,2.9 0 1 1 5.7,0a2.9,2.9 0 1 1 -5.7,0M158.4,836.9a1.9,1.9 0 1 1 3.9,0a1.9,1.9 0 1 1 -3.9,0M151.1,837.1a3.7,3.7 0 1 1 7.3,0a3.7,3.7 0 1 1 -7.3,0M149.8,835.9a3.1,3.1 0 1 1 6.1,0a3.1,3.1 0 1 1 -6.1,0M146.9,836.8a3.9,3.9 0 1 1 7.8,0a3.9,3.9 0 1 1 -7.8,0M141.8,836.4a3.9,3.9 0 1 1 7.7,0a3.9,3.9 0 1 1 -7.7,0M140.7,835.8a3.5,3.5 0 1 1 7,0a3.5,3.5 0 1 1 -7,0M139.1,832.4a3.7,3.7 0 1 1 7.4,0a3.7,3.7 0 1 1 -7.4,0M140.4,831.9a2.5,2.5 0 1 1 5.1,0a2.5,2.5 0 1 1 -5.1,0M138.3,827.1a3.8,3.8 0 1 1 7.7,0a3.8,3.8 0 1 1 -7.7,0M136.4,824.1a2.2,2.2 0 1 1 4.4,0a2.2,2.2 0 1 1 -4.4,0M133.8,820.1a4,4 0 1 1 8,0a4,4 0 1 1 -8,0M132.6,816.2a3,3 0 1 1 5.9,0a3,3 0 1 1 -5.9,0"/><clipPath id="cbl5"><use href="#bl5"/></clipPath></defs><use href="#bl5" fill="#4e3636"/><g clip-path="url(#cbl5)" fill="none" stroke-linecap="round"><path d="M139.1,827.3 Q133.9,815.7 144.4,813.1 Q154.8,810.5 160,817 Q165.2,823.4 164,831.2 Q162.8,839 153.6,839 Q144.3,839 139.1,827.3Z" fill="#271b1b"/><path d="M154.2,836.5 Q148,837.4 144.5,832.3M157.4,834.3 Q153.5,833.4 149.9,831.7M161.3,825.3 Q157.4,819.3 159.4,812.5M164.6,828.7 Q162.7,823.5 164.2,818.1M163.9,831.9 Q163.6,828.4 163.9,824.8M139.1,834.3 Q141.3,830.3 145.8,831.3M155.5,835 Q157,829.7 160.8,825.6M156.2,824 Q153.5,818.6 155.7,813M150.8,826.4 Q153.4,821.3 159,821M140.9,833.1 Q143.9,828 148.7,824.6M156.7,840.6 Q157.5,833.4 163.8,830M155.1,828.5 Q148.5,828.4 145.1,822.7M156.4,830.4 Q156.4,826 160.2,823.7M156.8,830.3 Q157.7,828.3 159.5,827M151.6,832.3 Q146.3,830.7 143.8,825.8M140.5,821.1 Q138,819.6 135.7,818M147.3,820.8 Q143.8,819.2 145.9,816M152.6,816.7 Q151.1,812.9 153.6,809.7M145.4,837 Q146.6,833.5 148.6,830.4M146.2,827.4 Q152.3,824.5 158.8,825.7M150.8,820 Q151.9,814 155.5,809M151.3,822 Q146.4,817.7 143.5,811.9M148.3,818.1 Q152.5,816.4 156.8,817.6M149.5,821.2 Q147.1,818.8 149.1,816.1M145.2,819.4 Q150.4,817.5 156,817.2M139,815 Q142.2,812.8 145.6,814.8M147,833.9 Q148.4,828.7 150.5,823.8M157.3,822.6 Q156.6,819 158.1,815.6M135.9,823.7 Q132,818.1 134.2,811.6M157,827.7 Q156.1,822.2 159.5,817.6M150.3,840 Q146.2,837.5 147.7,833M138.1,820.1 Q138.6,816.4 142.1,817.8M137.8,828.3 Q137.3,823.9 139.1,819.9" stroke="#4e3636" stroke-width="4.6"/><path d="M153,837.9 Q152.3,834.1 151.9,830.2M146.3,823.6 Q141.5,825.1 139.7,820.4M158.7,827.2 Q154.2,827.9 149.8,826.9M145.5,834.3 Q148.4,829.8 152.2,826.1M146.9,825.7 Q147.7,821 150.1,817M147.4,836 Q144.9,837.9 142.4,836M143.4,822.5 Q147.8,818.8 152.2,815.2M152.7,828.6 Q148.6,824.6 148.2,818.9M159.1,827.1 Q153.1,824.8 152.2,818.5" stroke="#3e2b2b" stroke-width="3.7"/><path d="M152.3,835.4 L151.7,831.5M160.3,821.5 L159.3,815.1M163.4,829.5 L163.4,826M155.6,820.6 L155.3,815.2M142.4,830.4 L146.3,826.1M146.7,831.6 L150,827.6M149.2,830 L145.3,826.8M146.5,819 L145.7,816.6M148.9,826.4 L155.2,825.5M148.9,818.9 L145,813.8M145.1,820.1 L149.5,816.4M147.4,830.8 L149.1,825.7M135,820.1 L134.2,814.1M138.6,818.9 L140.6,817.8" stroke="#7f6e6e" stroke-width="1.7" opacity="0.7"/></g><defs><path id="bl6" d="M75.3,800.8 Q72.7,795.7 76.6,793.1 Q80.5,790.5 86.9,794.4 Q93.4,798.2 99.9,804.8 Q106.5,811.3 113,815.2 Q119.4,819.1 128.6,823 Q137.7,826.9 140.3,830.8 Q142.9,834.7 136.4,834.7 Q129.9,834.7 122.1,832.1 Q114.3,829.5 107.8,825.6 Q101.3,821.7 94.8,817.8 Q88.2,813.9 83,810 Q77.9,806 75.3,800.8ZM74.5,794.3a2.9,2.9 0 1 1 5.8,0a2.9,2.9 0 1 1 -5.8,0M75.4,794.7a2.6,2.6 0 1 1 5.3,0a2.6,2.6 0 1 1 -5.3,0M79.8,793.2a2.8,2.8 0 1 1 5.6,0a2.8,2.8 0 1 1 -5.6,0M85,795.3a2.2,2.2 0 1 1 4.4,0a2.2,2.2 0 1 1 -4.4,0M86.8,795.6a2.4,2.4 0 1 1 4.9,0a2.4,2.4 0 1 1 -4.9,0M91.8,799.1a2.7,2.7 0 1 1 5.3,0a2.7,2.7 0 1 1 -5.3,0M92.5,800a2.9,2.9 0 1 1 5.7,0a2.9,2.9 0 1 1 -5.7,0M95.4,801.8a1.8,1.8 0 1 1 3.7,0a1.8,1.8 0 1 1 -3.7,0M98.9,807.8a2.5,2.5 0 1 1 5,0a2.5,2.5 0 1 1 -5,0M100.5,809.1a3.1,3.1 0 1 1 6.2,0a3.1,3.1 0 1 1 -6.2,0M103.1,813.2a2.7,2.7 0 1 1 5.4,0a2.7,2.7 0 1 1 -5.4,0M104.2,812.4a2.1,2.1 0 1 1 4.2,0a2.1,2.1 0 1 1 -4.2,0M109.6,814.6a1.7,1.7 0 1 1 3.3,0a1.7,1.7 0 1 1 -3.3,0M108.5,814.9a2.6,2.6 0 1 1 5.3,0a2.6,2.6 0 1 1 -5.3,0M114.3,818.5a1.7,1.7 0 1 1 3.5,0a1.7,1.7 0 1 1 -3.5,0M120,819a1.5,1.5 0 1 1 3,0a1.5,1.5 0 1 1 -3,0M119.5,820.2a3,3 0 1 1 6.1,0a3,3 0 1 1 -6.1,0M123.8,823.2a2.2,2.2 0 1 1 4.3,0a2.2,2.2 0 1 1 -4.3,0M127.4,823.1a2.2,2.2 0 1 1 4.4,0a2.2,2.2 0 1 1 -4.4,0M135.4,827.1a1.9,1.9 0 1 1 3.8,0a1.9,1.9 0 1 1 -3.8,0M134.4,829.3a3,3 0 1 1 6,0a3,3 0 1 1 -6,0M138.4,833.6a2.4,2.4 0 1 1 4.8,0a2.4,2.4 0 1 1 -4.8,0M138.9,833.7a1.6,1.6 0 1 1 3.3,0a1.6,1.6 0 1 1 -3.3,0M131.3,832.8a2.8,2.8 0 1 1 5.7,0a2.8,2.8 0 1 1 -5.7,0M129.5,833.3a2.5,2.5 0 1 1 5,0a2.5,2.5 0 1 1 -5,0M122.9,832.6a3.1,3.1 0 1 1 6.2,0a3.1,3.1 0 1 1 -6.2,0M118.3,830.9a2.5,2.5 0 1 1 5.1,0a2.5,2.5 0 1 1 -5.1,0M117.4,830.2a1.7,1.7 0 1 1 3.5,0a1.7,1.7 0 1 1 -3.5,0M112.5,829.5a2,2 0 1 1 4.1,0a2,2 0 1 1 -4.1,0M108.7,826a2.1,2.1 0 1 1 4.3,0a2.1,2.1 0 1 1 -4.3,0M107.4,826.1a2.3,2.3 0 1 1 4.7,0a2.3,2.3 0 1 1 -4.7,0M105.1,823.1a1.5,1.5 0 1 1 3,0a1.5,1.5 0 1 1 -3,0M101.2,822.1a2.8,2.8 0 1 1 5.6,0a2.8,2.8 0 1 1 -5.6,0M99.2,818.5a3.1,3.1 0 1 1 6.2,0a3.1,3.1 0 1 1 -6.2,0M96.5,818.2a3.1,3.1 0 1 1 6.2,0a3.1,3.1 0 1 1 -6.2,0M91.3,816.1a2.9,2.9 0 1 1 5.8,0a2.9,2.9 0 1 1 -5.8,0M89.8,815.8a2.1,2.1 0 1 1 4.2,0a2.1,2.1 0 1 1 -4.2,0M85.8,811.7a1.7,1.7 0 1 1 3.5,0a1.7,1.7 0 1 1 -3.5,0M83.5,812.1a2.6,2.6 0 1 1 5.2,0a2.6,2.6 0 1 1 -5.2,0M77.5,808.2a2.7,2.7 0 1 1 5.4,0a2.7,2.7 0 1 1 -5.4,0M77.7,807.1a2.6,2.6 0 1 1 5.1,0a2.6,2.6 0 1 1 -5.1,0M74.1,800.8a2.3,2.3 0 1 1 4.5,0a2.3,2.3 0 1 1 -4.5,0M73.8,799.6a3.1,3.1 0 1 1 6.2,0a3.1,3.1 0 1 1 -6.2,0"/><clipPath id="cbl6"><use href="#bl6"/></clipPath></defs><use href="#bl6" fill="#c31f78"/><g clip-path="url(#cbl6)" fill="none" stroke-linecap="round"><path d="M75.3,800.8 Q72.7,795.7 76.6,793.1 Q80.5,790.5 86.9,794.4 Q93.4,798.2 99.9,804.8 Q106.5,811.3 113,815.2 Q119.4,819.1 128.6,823 Q137.7,826.9 140.3,830.8 Q142.9,834.7 136.4,834.7 Q129.9,834.7 122.1,832.1 Q114.3,829.5 107.8,825.6 Q101.3,821.7 94.8,817.8 Q88.2,813.9 83,810 Q77.9,806 75.3,800.8Z" fill="#610f3c"/><path d="M124.3,835.4 Q126.2,832.4 128.5,829.7M87.3,805 Q82.6,804.2 79.2,800.9M87.1,806.3 Q86.9,800 89.6,794.3M87.5,807.6 Q82.2,806.5 80.8,801.3M108.3,823.6 Q109.2,818 114.4,816M96.1,820.2 Q98.6,817.8 101.5,819.7M84.1,807.2 Q79.4,809.5 75.3,806.3M103.2,823.7 Q104.8,820.4 108.3,821.4M97.5,813.6 Q91.2,812.3 88.1,806.6M123,823.5 Q128.1,821.1 133.4,823.4M138.5,838.1 Q137.2,832.5 136.2,826.8M87.4,812.5 Q81.2,810.2 76.6,805.6M134,830.5 Q136.8,828.2 140.4,827.4M78.7,808.5 Q82,806.9 85.3,805.3M114,825 Q116.1,823.2 118.7,823.9M80.2,800.3 Q81.4,795.1 83.6,790.3M86.1,808.5 Q79.9,808.8 76.8,803.5M82.7,804 Q82.6,797.6 87.3,793.2M74.6,805.5 Q75.3,801.2 79.4,799.8M74.3,800.3 Q74.8,793.8 81,791.4M89.4,805 Q86.2,806.2 85.4,802.9M126.1,832.9 Q120.7,831.1 117.9,826.2M87.6,811.1 Q85.9,807.1 88.7,803.9M112.6,820.9 Q111.6,817.1 114.8,814.9M96.3,815.3 Q92,810.1 91.2,803.4M93,808.5 Q88.5,805.2 89.7,799.8M125.7,826.6 Q121.1,824.9 120.4,820M115.3,829.5 Q116.8,826.1 120,828M94.3,799.2 Q92,798.3 89.8,797.2M89.2,809.9 Q85.9,805.5 86.7,800M83.8,797.7 Q84.5,795.1 86.5,793.2M95.3,819.6 Q95.5,814.5 99.4,811.3M102.5,816.9 Q97.3,813.5 94,808.2M104.2,820.4 Q100.2,817.5 98.9,812.7M93.6,810.6 Q95.7,807.5 97.7,810.6M111.9,822 Q116.5,817.2 123,815.5M72.3,800.6 Q76.1,799.1 80,800M95.1,810.3 Q97.9,806.2 102.1,803.5M98.4,818.3 Q95.5,814.5 92.8,810.7M89,804.2 Q85.6,800.3 86.5,795.2M97.7,808.6 Q93.7,808.9 89.8,807.8M85.5,813 Q88.3,808.8 92.6,806.1M99.5,810.7 Q95.2,810.7 96.1,806.5M113.1,823.5 Q112.4,818.8 116,815.5M97.6,816.6 Q98.4,813.4 101.5,814.3M85.9,801.3 Q82,799.5 83.1,795.3M80.7,798.4 Q83.7,795.7 87.2,793.7M98.7,811.5 Q95.6,808.2 99,805.4M117.9,821.6 Q114.7,823.8 113.5,820.1M128.8,825.2 Q123.9,828 119.1,825M121.3,827.2 Q121.7,824.3 123.2,821.8M92.2,802.7 Q89.1,797.2 87.6,791.1M99.8,808.6 Q97.3,804.3 96.9,799.3M115.8,831.4 Q112.5,830.3 111.8,826.8M127.6,830.3 Q132.2,827.8 137,825.8M77.9,804.7 Q79,799.6 82.2,795.4M100.8,823.1 Q104,817 110.5,814.6M87.8,809.1 Q84.3,806.5 85.8,802.5M91.4,810.7 Q89.6,808.9 87.9,807M122.7,829.8 Q118.1,828.1 118.3,823.2M78,793.1 Q83.6,791.9 89.3,792.5M84,802.7 Q89.3,799 95.7,797.7M117.8,827.2 Q115.9,821.8 116.2,816.1M88,800.7 Q82.2,798.1 77.3,794M112.9,831 Q114.4,826.5 119.1,827.3M117.7,825 Q119.6,819.1 125.7,818.1M138.6,829.5 Q133.1,828.6 131.6,823.3M76.6,797.8 Q81,795.8 85.5,794.2M95.4,815.6 Q98.2,811.7 102.2,814.2M88.4,810.5 Q89.8,804.7 95.6,803.3M81,811.8 Q86.8,810.2 92.5,811.7M105.5,812.6 Q103.3,809.5 102.5,805.9M104.5,820.4 Q101.2,819.4 100.4,816M104.6,815.8 Q101.2,811.7 103.2,806.9M89.1,814.4 Q85.1,813.2 84.8,809.1M134.6,835.4 Q136.1,831.2 140.4,832.4M108.7,825.1 Q109.8,823 112.1,822.4M84.7,813 Q84.3,809.4 87.7,808.3M112.3,817.5 Q112,815 112.1,812.5M136.4,839.6 Q134,833.3 137.9,827.8M90,814 Q85.5,809.6 81.1,805.1M80.6,798.8 Q78.9,793.9 79.6,788.6M137.6,834.5 Q135.6,828 140.1,822.8M82.5,802.3 Q85.4,798.4 89.5,801M75,798.2 Q76.9,796.4 78.9,794.5M89.3,805.2 Q93.9,802.2 98.5,799.3M102.9,822.8 Q96.8,819.3 95.6,812.5M71.4,805.2 Q77.5,803.3 83.9,802.5M91.9,802.6 Q94.1,801.6 96.3,801.1M83.5,813.6 Q83,807.6 84,801.6M87.5,800.9 Q83,796.3 83.1,789.8M76.9,793.5 Q80.1,789.9 84.4,791.9M84,810.6 Q84.7,807.7 85.6,804.9M106.4,819.1 Q102.2,819.4 98.5,817.6M76.5,795.1 Q78.9,790 84.4,789.4M81.6,799.4 Q84.2,794.2 87.7,789.6M103.2,824.9 Q107.7,820.2 113.9,818.5M104.9,824.6 Q105.7,820.6 109.8,820.1M117.6,821.3 Q112.2,821.8 107.2,819.7M126.3,828.6 Q128.6,822.8 134.7,822.2M127,828.8 Q130.3,822.7 137.1,821.3M96.2,806.3 Q94.1,802.4 96.5,798.6M102.4,815.7 Q102.2,809.1 105.1,803.1M95.3,816.5 Q92.6,813.1 93.1,808.8M130.6,838.1 Q132.6,832.8 136.4,828.6M101.3,816.3 Q97.4,817.4 94.8,814.3M92.9,819.9 Q98.9,815.7 105.7,818.3M98.1,817.7 Q96.9,815.2 95.9,812.7M129.4,836 Q127.6,833 129.9,830.2M91.9,808.2 Q87,805.1 86.5,799.3M94.5,804.6 Q91.9,801.7 94,798.4M96.9,813.1 Q98.9,811.5 101.5,811.4M100.4,813.7 Q95.8,811.1 95.2,805.9M85.9,804.7 Q81,803.5 78,799.6M86,814.2 Q87.8,809.1 93.2,809.6M80.5,797.3 Q80.5,792.9 84.9,793.3M113.2,828 Q117,825.6 121.4,826.8M83.1,803.4 Q84.7,799 88.9,800.9" stroke="#c31f78" stroke-width="4.6"/><path d="M75.9,800.2 Q71.8,799.5 74.1,796.1M96.2,811.1 Q92.1,808 94.8,803.6M78.9,795.6 Q80.9,792.2 83.3,795.3M106.5,823.5 Q108.3,818.8 113.4,818.9M127.1,826.7 Q120.3,827.2 114.8,823.2M92.7,818.4 Q87.9,815.9 88.5,810.5M120.1,829.8 Q115.5,829.9 115.6,825.3M83.5,799.7 Q81.9,795.8 80.9,791.7M105.1,817.8 Q99.4,819 96,814.2M93.3,807.7 Q97.3,806.3 101.3,805.4M128.4,831.1 Q133.2,829.6 138.2,829.4M103,807.4 Q98.5,809.1 97,804.6M116.2,821 Q111.8,817.1 107.8,812.8M96.3,818.9 Q93.2,815.8 90.5,812.2M112.9,828.9 Q118.4,824.6 124.9,826.9M74.4,804.9 Q75.8,802 78.6,800.3M83.6,796 Q80.1,796.1 78.4,793M133.8,835.3 Q130.7,833.9 129.9,830.6M110.8,824.4 Q108.7,819.5 110.8,814.6M115.3,825.1 Q115,819.2 120.4,816.6M98.3,815.7 Q91.9,815.2 89.2,809.4M115.1,823.8 Q119.1,821.2 123.6,819.3M124.3,820.6 Q120.1,822.2 116.2,820M97,808.5 Q98,805 100.7,802.7M84.9,799.9 Q81.6,797.5 83.2,793.9M113.4,818.7 Q110.5,821.3 107.7,818.5M72.3,795.7 Q75.5,795.3 78.8,794.8M98.4,811.4 Q94.4,813.1 92.7,809M134.1,833.3 Q132.4,830 132.8,826.3M116.6,824.5 Q114.4,821.8 113.1,818.6" stroke="#9c1860" stroke-width="3.7"/><path d="M74.9,798.6 L74,796.5M87.2,802.7 L88.4,796.7M109.3,821.1 L112.4,817.3M104,822.5 L106.5,821.4M125.1,822.9 L130.3,822.8M107.7,821.8 L111.1,819.5M114.7,824.2 L117,823.6M83.3,806.7 L78.6,804.2M75.4,797.5 L78.8,793M123.5,830.6 L119.4,827.3M118.5,828.1 L116.3,825.8M123.9,824.3 L121.2,821M92.6,798.1 L90.4,797.1M95.8,816.9 L97.9,812.8M102.4,817.9 L99.7,814M94.8,806.5 L98.8,805.3M96.5,815.8 L93.7,812M95.3,807.8 L91.3,807.4M113.3,820.9 L114.7,816.9M84.7,799.2 L83.3,796.2M113.6,818.4 L109.4,814.2M121.2,825.3 L122.2,822.5M98.6,805.7 L97.1,801.1M78.4,801.8 L80.6,797.1M86.8,806.9 L85.8,803.6M74.9,803.2 L77,800.9M116.9,823.8 L116.1,818.3M113.9,829.5 L117.1,827.6M78.4,796.3 L82.8,794.5M89.7,808.1 L93.3,804.5M110.3,821.4 L110.3,816.5M87.5,812.5 L85.4,809.8M109,823.9 L110.8,822.5M136.3,836.1 L137,830.2M79.9,795.7 L79.4,790.6M116.7,822.1 L120.9,819.8M100.5,819.6 L96.9,814.5M92.5,801.6 L94.7,800.9M78.3,792.5 L82.1,791.7M103.9,818.1 L100,817.4M84,797.8 L83.1,794.8M114.5,820.3 L109.3,819.5M129,826.3 L134.1,822.5M94.3,814 L93.2,810.1M99.2,815.2 L95.9,814.2M96.5,810.2 L93.6,809M93.9,802.5 L93.6,799.3M98.6,811.1 L96,807.2M81.1,795.7 L83.3,793.7M84,802.1 L87,800.9" stroke="#d35d9d" stroke-width="1.7" opacity="0.7"/></g><defs><path id="bl7" d="M75.2,787.6 Q71.9,781.1 76.5,774.6 Q81,768.1 84.9,760.3 Q88.8,752.4 95.3,751.8 Q101.9,751.1 107,755.1 Q112.2,759 116.1,758.4 Q120,757.7 122.6,760.3 Q125.3,762.9 121.3,765.5 Q117.4,768.1 109.6,768.1 Q101.9,768.1 97.9,773.3 Q94,778.5 91.4,785 Q88.8,791.5 83.6,792.8 Q78.4,794.1 75.2,787.6ZM70.3,779.7a3.9,3.9 0 1 1 7.8,0a3.9,3.9 0 1 1 -7.8,0M74.6,776.5a2.3,2.3 0 1 1 4.7,0a2.3,2.3 0 1 1 -4.7,0M77,772.2a2.8,2.8 0 1 1 5.6,0a2.8,2.8 0 1 1 -5.6,0M77.3,770.1a3.6,3.6 0 1 1 7.3,0a3.6,3.6 0 1 1 -7.3,0M80.1,768.9a2.4,2.4 0 1 1 4.8,0a2.4,2.4 0 1 1 -4.8,0M82.5,764.2a2.1,2.1 0 1 1 4.1,0a2.1,2.1 0 1 1 -4.1,0M83.5,761.6a3.2,3.2 0 1 1 6.3,0a3.2,3.2 0 1 1 -6.3,0M85.6,757.2a3.3,3.3 0 1 1 6.6,0a3.3,3.3 0 1 1 -6.6,0M89.6,753.2a3.1,3.1 0 1 1 6.2,0a3.1,3.1 0 1 1 -6.2,0M94,754.5a2.9,2.9 0 1 1 5.8,0a2.9,2.9 0 1 1 -5.8,0M97.1,753.3a3.4,3.4 0 1 1 6.8,0a3.4,3.4 0 1 1 -6.8,0M98,755.2a3.7,3.7 0 1 1 7.5,0a3.7,3.7 0 1 1 -7.5,0M101.7,757a3.3,3.3 0 1 1 6.6,0a3.3,3.3 0 1 1 -6.6,0M106.7,759.3a2.9,2.9 0 1 1 5.8,0a2.9,2.9 0 1 1 -5.8,0M108.8,760.6a2.9,2.9 0 1 1 5.8,0a2.9,2.9 0 1 1 -5.8,0M112.2,758.8a3.3,3.3 0 1 1 6.7,0a3.3,3.3 0 1 1 -6.7,0M115.4,758.5a2.6,2.6 0 1 1 5.1,0a2.6,2.6 0 1 1 -5.1,0M118.4,761.5a3.6,3.6 0 1 1 7.3,0a3.6,3.6 0 1 1 -7.3,0M120.4,765.2a2.2,2.2 0 1 1 4.3,0a2.2,2.2 0 1 1 -4.3,0M114.3,765.5a3.5,3.5 0 1 1 7,0a3.5,3.5 0 1 1 -7,0M109.4,768.1a2.6,2.6 0 1 1 5.1,0a2.6,2.6 0 1 1 -5.1,0M107.9,768.1a2.7,2.7 0 1 1 5.4,0a2.7,2.7 0 1 1 -5.4,0M102.4,767.7a2.4,2.4 0 1 1 4.9,0a2.4,2.4 0 1 1 -4.9,0M100,768.9a2.9,2.9 0 1 1 5.9,0a2.9,2.9 0 1 1 -5.9,0M95.8,769.3a3.4,3.4 0 1 1 6.7,0a3.4,3.4 0 1 1 -6.7,0M96.5,770.3a2.1,2.1 0 1 1 4.2,0a2.1,2.1 0 1 1 -4.2,0M93.7,774.9a2.6,2.6 0 1 1 5.1,0a2.6,2.6 0 1 1 -5.1,0M92,778.8a2.3,2.3 0 1 1 4.5,0a2.3,2.3 0 1 1 -4.5,0M89.8,782.8a3.5,3.5 0 1 1 6.9,0a3.5,3.5 0 1 1 -6.9,0M88.3,782.3a3.9,3.9 0 1 1 7.9,0a3.9,3.9 0 1 1 -7.9,0M87.2,787.7a2.9,2.9 0 1 1 5.8,0a2.9,2.9 0 1 1 -5.8,0M86.1,789a3.1,3.1 0 1 1 6.2,0a3.1,3.1 0 1 1 -6.2,0M82.1,790.7a3.4,3.4 0 1 1 6.8,0a3.4,3.4 0 1 1 -6.8,0M78.5,791.6a2.6,2.6 0 1 1 5.2,0a2.6,2.6 0 1 1 -5.2,0M77,792a2,2 0 1 1 4.1,0a2,2 0 1 1 -4.1,0M74.7,787.9a1.8,1.8 0 1 1 3.7,0a1.8,1.8 0 1 1 -3.7,0M73.8,785.6a3.9,3.9 0 1 1 7.9,0a3.9,3.9 0 1 1 -7.9,0M71,781.4a2.2,2.2 0 1 1 4.5,0a2.2,2.2 0 1 1 -4.5,0"/><clipPath id="cbl7"><use href="#bl7"/></clipPath></defs><use href="#bl7" fill="#4084dc"/><g clip-path="url(#cbl7)" fill="none" stroke-linecap="round"><path d="M75.2,787.6 Q71.9,781.1 76.5,774.6 Q81,768.1 84.9,760.3 Q88.8,752.4 95.3,751.8 Q101.9,751.1 107,755.1 Q112.2,759 116.1,758.4 Q120,757.7 122.6,760.3 Q125.3,762.9 121.3,765.5 Q117.4,768.1 109.6,768.1 Q101.9,768.1 97.9,773.3 Q94,778.5 91.4,785 Q88.8,791.5 83.6,792.8 Q78.4,794.1 75.2,787.6Z" fill="#20426e"/><path d="M115.1,769.5 Q113.1,764 112.3,758.2M117.2,770.4 Q114.7,764.6 117.1,758.8M88,772.2 Q90.1,768.1 94.5,766.8M114,764.6 Q115.8,761.5 119.3,760.8M88.3,795.5 Q84,790 85.2,783.2M109.4,767 Q109.9,761 114.2,756.8M114.9,770.5 Q114.1,766.2 117.5,763.4M82.7,781.1 Q79,777.6 75.8,773.6M109,772.2 Q104.2,768 104.6,761.6M89.5,768.2 Q88.6,763.9 88.5,759.6M109,768.4 Q109.7,765.7 111.8,763.8M92,772.6 Q91.7,769.5 93.4,766.8M88.8,793.6 Q86.1,788.7 89.9,784.6M95.9,763.4 Q93.5,758.5 91.5,753.5M96.3,769.8 Q96,765.7 99.8,764M99.3,762 Q95.7,757.3 95.3,751.2M103.8,759.1 Q106.4,756.4 109.2,753.9M90.6,786.3 Q90.2,781.2 90.3,776.1M81.9,778.6 Q78.4,776.2 81.7,773.5M96.6,761.9 Q96.1,758.2 98.1,755M78.4,783.5 Q78.7,781.3 80.5,779.8M91.7,771.4 Q90.1,767 90.7,762.4M100.8,767.7 Q101.7,761.7 105.4,757M107.7,770.3 Q104.3,766.3 106,761.3M108.9,761.1 Q107.1,757.7 110.7,756.1M75.7,790 Q75.8,785.1 77.6,780.5M119.5,762.1 Q118.8,759.7 118.5,757.2M112.3,765.2 Q107.9,761.2 108.2,755.3M108.8,768.9 Q105.2,767.1 106,763.2M110.1,764.5 Q106.7,761.5 108.1,757.2M86.7,776.4 Q83.6,774.2 85.2,770.8M110.2,764.8 Q107.1,759.6 108.5,753.7M94.7,765.8 Q95,759.8 99.2,755.5M84.3,787.3 Q81.8,782.4 83.1,777.1M86.3,776.7 Q85.7,770.3 86,763.8M81.8,779.3 Q82.7,774.7 87.3,774M101,771.3 Q98.3,767.4 96.3,763M100,764.4 Q100.9,759.6 102.3,755M90,770.4 Q88.1,767.8 89.7,765M93.8,775.3 Q95.1,769.2 101,767.2M76.7,794.9 Q75.9,790 79.7,786.8M91.4,777.1 Q87.8,774.3 90.5,770.7M111.4,763.3 Q107.3,760.3 107.3,755.3M104.8,766.2 Q104.9,763.5 106.2,761.2M89.8,769.1 Q89.8,764.4 93.4,761.5M76.5,789.4 Q76.9,787.3 78.1,785.5M98.6,769.3 Q93.6,767.1 93.1,761.7M94.1,758.9 Q93.6,756.5 94.4,754.2M88.7,766.7 Q85.9,760.8 87.3,754.5M119.1,763.1 Q119.1,760.3 121,758.2M95.6,765.9 Q93.9,763.7 95.2,761.2M97.7,771.9 Q95.3,765.1 99.2,759.2M82.1,791.1 Q77.3,787.4 76.5,781.4M85.7,758.1 Q89.4,752.1 96.5,751.3M87.2,780.6 Q85.5,778.3 86.6,775.6M104.7,766.2 Q104.5,763.9 106.1,762.2M88.8,792 Q86.5,789.9 87.3,786.9M76.8,780.9 Q76.2,776.2 80.9,775.2M82.3,771.6 Q83,767.1 85.1,763M96.1,768.5 Q93.1,763.9 96.2,759.3M101.9,771.4 Q100.2,767.8 101.9,764.3M116,764.5 Q117.1,760.8 119.9,758.1M100.9,758.9 Q96.6,754.4 94.4,748.6M83.8,787.2 Q80.4,782.9 78.1,778M72.4,782.7 Q71.3,779 75.1,778.8M82.5,792.9 Q84.4,787 89.9,784.1M85.6,784.7 Q84.5,780.6 88.7,780.4M107.6,772.7 Q105.9,766.7 107.1,760.5M93.4,764.3 Q95.8,761.2 98.1,758.2M108.5,762.7 Q104.5,763.2 104.9,759.2M76.6,781.6 Q73.2,777.9 75.8,773.6M84.1,770.3 Q82.5,764.5 84,758.7M84.8,772.6 Q87.8,768.2 92.5,765.6M98.1,775.9 Q96.7,772.2 97.9,768.3M93.5,767.4 Q91.8,763 95.1,759.5M82.9,776.9 Q82.3,772.2 83.9,767.9M110.9,763.2 Q110,760.6 110.2,758M117.3,763.2 Q116.8,758 120.7,754.5M87,779.3 Q86.5,776.3 89.5,775.8M117.3,770.4 Q115.2,766.6 116.2,762.4M102.8,760.7 Q105.5,756.4 108.9,752.8M92.6,766.9 Q90.1,764.8 92.6,762.7M91,762.1 Q92.7,759.1 94.7,756.3M83.5,780.4 Q80.6,775.6 81.3,770.1M105.8,762.2 Q105.7,758.6 109.3,758.1M98.6,767.7 Q96.6,763.1 100.8,760.4M93.6,763.7 Q90.9,763.8 90,761.2" stroke="#4084dc" stroke-width="4.6"/><path d="M87.3,765.2 Q82.7,767 80.5,762.6M76.5,789.6 Q77.3,786.3 79.8,784M74.7,779.9 Q76.8,777.2 79,774.6M81.5,785.8 Q81.2,783.4 81.2,780.9M120.3,768.8 Q119.2,762.7 123.6,758.4M112,771 Q114.9,767.2 118.1,763.5M92.6,780.4 Q89.4,777.7 89.8,773.5M85.6,788.2 Q89.3,784.7 93.3,787.6M86.3,782.8 Q86.1,777.5 91.1,775.7M87.2,787.9 Q81.2,785.2 78,779.4M101.2,773.6 Q98.5,768.6 96.9,763.2M88.9,760.3 Q88.7,755.5 92.2,752.3M98.8,768.3 Q95.2,763.3 92.4,757.8M104,759.9 Q100.7,756.1 101.6,751.2M86.3,758.8 Q85.9,755.6 89.1,755.6M92,792.4 Q88.2,790.2 86.3,786.1M76.5,784.3 Q72.2,780.8 73.9,775.6M86.9,771.9 Q85.2,769.9 85.7,767.3M103.3,764.1 Q99.8,764.3 99.6,760.7M86.1,762.5 Q86.6,758.6 89,755.4M81.9,792.2 Q81.7,790 81.6,787.9M91.9,779.1 Q93.9,772.9 97,767.2" stroke="#3369b0" stroke-width="3.7"/><path d="M85.1,764 L81.7,762.6M89.1,770.3 L92.4,767.6M87,791.8 L85.5,785.7M80.4,778.7 L77,774.9M88.7,765.5 L88.2,761.1M80.9,784 L80.8,781.5M96.7,767.8 L98.4,764.8M104.6,757.2 L107.3,754.6M96.5,759.6 L97.3,756.1M90.9,768.5 L90.4,764M91.4,778.1 L90,774.6M118.7,760.3 L118.2,757.8M107.6,766.8 L106.2,764M109.3,761.5 L108.4,755.9M83.5,784.1 L82.9,779.1M84.4,785.1 L79.8,780.9M89.4,768.4 L89.2,765.7M77,792.2 L78.5,788.2M104.7,764.3 L105.4,761.9M76.4,787.9 L77.2,785.9M96.7,765 L93.5,759.8M95,764.1 L94.8,761.8M80.2,788.1 L77.4,783.3M104.6,764.6 L105.3,762.6M77.3,778.9 L79.3,776M90.1,790.2 L87.2,787.1M98.8,755.7 L95.5,750.6M72.6,781.1 L73.9,779.2M107,769.1 L106.7,763M107.1,761.2 L105.3,759.5M101.8,762.7 L100,761M93.4,764.8 L94.2,760.9M110.2,761.3 L109.9,758.7M116.5,767.8 L115.9,763.8M92.1,765.2 L92.1,763.2M92.6,775.5 L95.2,769.6M92.2,762.4 L90.4,761.2" stroke="#75a6e5" stroke-width="1.7" opacity="0.7"/></g><defs><path id="bl8" d="M127.6,748.3 Q126.9,743.7 130.8,740.5 Q134.8,737.3 142,736 Q149.1,734.8 153.7,738 Q158.2,741.3 157.6,746.4 Q156.9,751.6 151.1,754.2 Q145.3,756.7 140,758.1 Q134.8,759.4 131.5,756.2 Q128.3,752.9 127.6,748.3ZM127.1,743.5a2.6,2.6 0 1 1 5.2,0a2.6,2.6 0 1 1 -5.2,0M130.4,740.9a2.9,2.9 0 1 1 5.8,0a2.9,2.9 0 1 1 -5.8,0M133.8,738.6a3.2,3.2 0 1 1 6.3,0a3.2,3.2 0 1 1 -6.3,0M138.6,737.5a2.8,2.8 0 1 1 5.6,0a2.8,2.8 0 1 1 -5.6,0M140.6,738.1a2,2 0 1 1 4.1,0a2,2 0 1 1 -4.1,0M142.9,737.7a3.5,3.5 0 1 1 7,0a3.5,3.5 0 1 1 -7,0M146.4,736.9a2.4,2.4 0 1 1 4.9,0a2.4,2.4 0 1 1 -4.9,0M149.9,738.2a2,2 0 1 1 4,0a2,2 0 1 1 -4,0M149.6,741.6a3.6,3.6 0 1 1 7.2,0a3.6,3.6 0 1 1 -7.2,0M154.1,745.9a1.9,1.9 0 1 1 3.8,0a1.9,1.9 0 1 1 -3.8,0M153.7,746a2.7,2.7 0 1 1 5.5,0a2.7,2.7 0 1 1 -5.5,0M151.4,752.8a2.1,2.1 0 1 1 4.1,0a2.1,2.1 0 1 1 -4.1,0M148.5,753a1.8,1.8 0 1 1 3.6,0a1.8,1.8 0 1 1 -3.6,0M146.2,754.8a2,2 0 1 1 4,0a2,2 0 1 1 -4,0M140.9,754.5a2.7,2.7 0 1 1 5.4,0a2.7,2.7 0 1 1 -5.4,0M138,757.5a2.2,2.2 0 1 1 4.4,0a2.2,2.2 0 1 1 -4.4,0M135.9,755.8a3,3 0 1 1 6,0a3,3 0 1 1 -6,0M132.4,755.4a4,4 0 1 1 8,0a4,4 0 1 1 -8,0M127.2,752.8a3.9,3.9 0 1 1 7.8,0a3.9,3.9 0 1 1 -7.8,0M127.7,752.2a2.6,2.6 0 1 1 5.2,0a2.6,2.6 0 1 1 -5.2,0M126.1,745.7a2,2 0 1 1 4,0a2,2 0 1 1 -4,0"/><clipPath id="cbl8"><use href="#bl8"/></clipPath></defs><use href="#bl8" fill="#1f3a78"/><g clip-path="url(#cbl8)" fill="none" stroke-linecap="round"><path d="M127.6,748.3 Q126.9,743.7 130.8,740.5 Q134.8,737.3 142,736 Q149.1,734.8 153.7,738 Q158.2,741.3 157.6,746.4 Q156.9,751.6 151.1,754.2 Q145.3,756.7 140,758.1 Q134.8,759.4 131.5,756.2 Q128.3,752.9 127.6,748.3Z" fill="#0f1d3c"/><path d="M140.3,747.9 Q136.5,746.3 134.1,743M134.9,752 Q129.7,750.4 124.4,748.5M146.3,756 Q141.4,753.3 138.7,748.5M135.3,762 Q131.3,759.4 133,755M131.3,750.3 Q132.3,743.9 135.6,738.4M133.5,749.6 Q130.5,750.4 129.1,747.6M149.5,741.5 Q146.1,736.8 147.9,731.3M143.4,759.3 Q137.5,759 134.4,754M137.6,751.7 Q132.1,751 127,748.8M142.2,751.2 Q139.6,749.1 140.2,745.9M154.4,748.4 Q155.9,744.5 158.6,747.6M154.4,752.6 Q151.6,747.9 155.1,743.8M147.1,740.6 Q148.1,736.3 151.8,734M145.7,739.6 Q143.9,735.1 148,732.6M131,758.7 Q131.8,753 137.3,751.4M126.3,754.2 Q126.7,749 129.8,744.7M149.6,744.3 Q149.1,740.4 152.8,741.7M134.3,747 Q129.8,743.9 126.1,739.7M154.7,746.9 Q156.1,742.7 160.3,741M140.8,752.5 Q137.2,751.7 136.1,748.3M133.8,758.6 Q134.6,755.7 135.7,752.9M130.3,745.9 Q133.9,739.9 140.7,738.4M135.5,744.9 Q135.7,740.5 138.2,736.9M155.7,746.6 Q152.1,745.9 150.5,742.6M136.7,741.8 Q134.6,738.6 137.5,736.2M146.2,741.4 Q146.1,737.6 148.9,734.9M140.9,755.4 Q145.6,752.8 150.8,751.6M148.3,743.3 Q143.8,744.7 139.4,742.8" stroke="#1f3a78" stroke-width="4.6"/><path d="M147.1,752 Q143.3,746.5 143.2,739.8M143.4,754.2 Q138,752 133.5,748.2M156.6,747.6 Q153.9,748.7 152.4,746.3M128.5,753.9 Q126.4,750.3 129.4,747.3M149.5,740 Q145.6,740.9 142.4,738.5M131,746 Q133,745.2 135.1,745.2M146.5,751.6 Q144.6,749 145.5,746M150.3,744.9 Q153.9,742.4 157.8,740.6" stroke="#182e60" stroke-width="3.7"/><path d="M145.7,748.4 L143.7,742.2M143.9,753.5 L140.1,749.8M131.8,746.7 L134,740.8M140.6,757.3 L136.1,754.7M141.2,749.3 L140.2,746.6M128.2,751.7 L128.7,748.3M132,756.3 L135.2,752.6M149.9,743 L151.5,741.8M139.1,750.9 L136.8,748.7M132.4,743.4 L137.6,739.7M145.8,749.6 L145.3,746.8M142.9,753.9 L147.9,752" stroke="#5d719d" stroke-width="1.7" opacity="0.7"/></g><defs><path id="bl9" d="M122,760.6 Q120.4,756.8 124.2,755.2 Q128,753.6 131.7,755.2 Q135.5,756.8 135,760.1 Q134.4,763.3 129,763.9 Q123.6,764.4 122,760.6ZM122.1,755.9a1.6,1.6 0 1 1 3.3,0a1.6,1.6 0 1 1 -3.3,0M125.7,754.6a2,2 0 1 1 4,0a2,2 0 1 1 -4,0M127.6,756.4a1.5,1.5 0 1 1 3.1,0a1.5,1.5 0 1 1 -3.1,0M134.1,757.3a1.2,1.2 0 1 1 2.5,0a1.2,1.2 0 1 1 -2.5,0M132.9,759.2a1.5,1.5 0 1 1 3,0a1.5,1.5 0 1 1 -3,0M128.7,763a1.9,1.9 0 1 1 3.7,0a1.9,1.9 0 1 1 -3.7,0M125.7,761.6a2.2,2.2 0 1 1 4.3,0a2.2,2.2 0 1 1 -4.3,0M126.8,762.7a1.3,1.3 0 1 1 2.7,0a1.3,1.3 0 1 1 -2.7,0M121.8,762.3a2.1,2.1 0 1 1 4.2,0a2.1,2.1 0 1 1 -4.2,0M121.1,759.6a1.3,1.3 0 1 1 2.5,0a1.3,1.3 0 1 1 -2.5,0"/><clipPath id="cbl9"><use href="#bl9"/></clipPath></defs><use href="#bl9" fill="#1f3a78"/><g clip-path="url(#cbl9)" fill="none" stroke-linecap="round"><path d="M122,760.6 Q120.4,756.8 124.2,755.2 Q128,753.6 131.7,755.2 Q135.5,756.8 135,760.1 Q134.4,763.3 129,763.9 Q123.6,764.4 122,760.6Z" fill="#0f1d3c"/><path d="M132.2,766.5 Q132.3,760.7 133.4,754.9M128.2,760 Q126.4,756.8 129.8,755.3M129.3,760.3 Q125.5,759.6 124.6,755.8M124.7,760.5 Q124.9,754.2 129.9,750.3M129.3,758 Q124.9,759 121.5,756.1" stroke="#1f3a78" stroke-width="4.6"/><path d="M123.4,758.1 Q121.1,756.5 122.2,753.9M128.1,759.3 Q125.2,757.9 127.3,755.4" stroke="#182e60" stroke-width="3.7"/><path d="M122.6,756.5 L122,754.4M127.6,758.6 L125.3,756.3M126.9,756.9 L123,756" stroke="#5d719d" stroke-width="1.7" opacity="0.7"/></g><defs><path id="bl10" d="M159.7,745.4 Q155.8,741.5 159.7,738.3 Q163.6,735 170.1,735.7 Q176.7,736.3 180.6,739.6 Q184.4,742.8 183.8,746.7 Q183.2,750.6 178.6,751.2 Q174.1,751.9 168.8,750.6 Q163.6,749.3 159.7,745.4ZM157.4,740.6a3,3 0 1 1 6.1,0a3,3 0 1 1 -6.1,0M159.8,737.9a3.1,3.1 0 1 1 6.2,0a3.1,3.1 0 1 1 -6.2,0M163.4,737a3.5,3.5 0 1 1 7.1,0a3.5,3.5 0 1 1 -7.1,0M165.9,737a3.6,3.6 0 1 1 7.2,0a3.6,3.6 0 1 1 -7.2,0M171.4,738.8a3.9,3.9 0 1 1 7.8,0a3.9,3.9 0 1 1 -7.8,0M174.8,737a1.8,1.8 0 1 1 3.7,0a1.8,1.8 0 1 1 -3.7,0M176.5,740.8a2.3,2.3 0 1 1 4.7,0a2.3,2.3 0 1 1 -4.7,0M178,744.6a3.7,3.7 0 1 1 7.3,0a3.7,3.7 0 1 1 -7.3,0M178,747.4a3.3,3.3 0 1 1 6.5,0a3.3,3.3 0 1 1 -6.5,0M173.3,749.7a4,4 0 1 1 8,0a4,4 0 1 1 -8,0M173.5,749.3a2.3,2.3 0 1 1 4.6,0a2.3,2.3 0 1 1 -4.6,0M169.3,749.1a2.7,2.7 0 1 1 5.4,0a2.7,2.7 0 1 1 -5.4,0M164.3,747.8a3.7,3.7 0 1 1 7.3,0a3.7,3.7 0 1 1 -7.3,0M163.6,748a2.8,2.8 0 1 1 5.7,0a2.8,2.8 0 1 1 -5.7,0M162.7,747.5a3.2,3.2 0 1 1 6.4,0a3.2,3.2 0 1 1 -6.4,0M160.9,746.5a2.5,2.5 0 1 1 5.1,0a2.5,2.5 0 1 1 -5.1,0M156.6,743a2.3,2.3 0 1 1 4.7,0a2.3,2.3 0 1 1 -4.7,0"/><clipPath id="cbl10"><use href="#bl10"/></clipPath></defs><use href="#bl10" fill="#6ec862"/><g clip-path="url(#cbl10)" fill="none" stroke-linecap="round"><path d="M159.7,745.4 Q155.8,741.5 159.7,738.3 Q163.6,735 170.1,735.7 Q176.7,736.3 180.6,739.6 Q184.4,742.8 183.8,746.7 Q183.2,750.6 178.6,751.2 Q174.1,751.9 168.8,750.6 Q163.6,749.3 159.7,745.4Z" fill="#376431"/><path d="M175.7,739.5 Q175.5,736.6 177.9,735M156.3,740.1 Q161.8,738.5 167.5,739.1M166.1,751.6 Q164,747.9 168.2,747.2M159.3,741.7 Q161.3,738.6 164.6,737.1M181.9,748.9 Q182.7,743 184.6,737.5M183.6,742.2 Q177.4,742 174.8,736.3M181.7,747.6 Q180.9,745.2 180.5,742.8M172,741.8 Q175.5,738.5 180,736.9M166.3,743.1 Q163.3,743.8 160.8,742M174.7,742.7 Q169.1,738.7 169.7,731.8M173.9,749.2 Q174.5,746.7 175.3,744.1M180.7,751.6 Q175.8,752.9 171,750.9M173.4,754 Q174.9,748.3 180.4,746.4M178.7,746 Q179.5,739.3 185.3,735.9M163.6,750.3 Q166.9,746.4 171.9,746.5M166,747.1 Q164.7,744.1 167.6,742.6M176.9,746.5 Q171.9,744.4 169.2,739.7" stroke="#6ec862" stroke-width="4.6"/><path d="M177.9,742 Q178,737.9 179.4,734.1M171.4,742.6 Q171,738.6 173.7,735.6M170.7,752.5 Q168.8,748.3 173,746.3M174.4,740.4 Q176.7,738.5 179.1,740.4M173.6,745 Q175.5,740.5 179.8,738.2" stroke="#58a04e" stroke-width="3.7"/><path d="M177.8,739.4 L178.5,735.5M166.1,749.9 L167.1,747.7M182.1,745.5 L183.5,739.7M173.5,740 L177.5,737.5M173,739.4 L170.4,733.9M175.1,739.8 L177.4,739.8M165.2,748.7 L169.4,746.8M174.5,744.2 L170.6,740.8" stroke="#96d78d" stroke-width="1.7" opacity="0.7"/></g><defs><path id="bl11" d="M141.3,762.2 Q137.4,759.6 142.6,757.1 Q147.9,754.5 155.6,753.1 Q163.4,751.8 171.2,750.5 Q179.1,749.2 184.9,748.5 Q190.7,747.9 192.7,751.8 Q194.6,755.7 195.3,762.2 Q195.9,768.7 197.9,773.3 Q199.9,777.8 196,778.4 Q192,779.1 188.1,773.9 Q184.3,768.7 179.1,765.5 Q173.9,762.2 166.1,762.2 Q158.2,762.2 151.7,763.5 Q145.2,764.8 141.3,762.2ZM138.6,758.3a2.7,2.7 0 1 1 5.3,0a2.7,2.7 0 1 1 -5.3,0M139.8,758.7a2.2,2.2 0 1 1 4.4,0a2.2,2.2 0 1 1 -4.4,0M146.1,755.7a2.6,2.6 0 1 1 5.1,0a2.6,2.6 0 1 1 -5.1,0M147,755.6a2.3,2.3 0 1 1 4.6,0a2.3,2.3 0 1 1 -4.6,0M150.2,754.8a2.9,2.9 0 1 1 5.8,0a2.9,2.9 0 1 1 -5.8,0M156.7,752.7a2.2,2.2 0 1 1 4.5,0a2.2,2.2 0 1 1 -4.5,0M158.5,752.8a3.1,3.1 0 1 1 6.1,0a3.1,3.1 0 1 1 -6.1,0M164.6,752.8a3.1,3.1 0 1 1 6.2,0a3.1,3.1 0 1 1 -6.2,0M166.7,751.7a2.1,2.1 0 1 1 4.2,0a2.1,2.1 0 1 1 -4.2,0M171.7,751.8a1.7,1.7 0 1 1 3.4,0a1.7,1.7 0 1 1 -3.4,0M174.3,751.1a2.3,2.3 0 1 1 4.5,0a2.3,2.3 0 1 1 -4.5,0M178.8,750.9a1.6,1.6 0 1 1 3.3,0a1.6,1.6 0 1 1 -3.3,0M182.6,749.4a2.7,2.7 0 1 1 5.3,0a2.7,2.7 0 1 1 -5.3,0M184.7,748.8a2.7,2.7 0 1 1 5.4,0a2.7,2.7 0 1 1 -5.4,0M188.3,750.2a2.4,2.4 0 1 1 4.8,0a2.4,2.4 0 1 1 -4.8,0M187.9,752.9a2.9,2.9 0 1 1 5.8,0a2.9,2.9 0 1 1 -5.8,0M190.7,757.5a2.3,2.3 0 1 1 4.6,0a2.3,2.3 0 1 1 -4.6,0M190.2,760.9a2.5,2.5 0 1 1 5,0a2.5,2.5 0 1 1 -5,0M191.7,764.6a2,2 0 1 1 4.1,0a2,2 0 1 1 -4.1,0M191.6,768a2.3,2.3 0 1 1 4.7,0a2.3,2.3 0 1 1 -4.7,0M193.8,775.2a3.1,3.1 0 1 1 6.3,0a3.1,3.1 0 1 1 -6.3,0M194.1,776.1a3.1,3.1 0 1 1 6.2,0a3.1,3.1 0 1 1 -6.2,0M187.4,777a3.1,3.1 0 1 1 6.1,0a3.1,3.1 0 1 1 -6.1,0M186.2,774.4a2.1,2.1 0 1 1 4.3,0a2.1,2.1 0 1 1 -4.3,0M186.4,775.3a2.6,2.6 0 1 1 5.2,0a2.6,2.6 0 1 1 -5.2,0M182.7,770.3a1.6,1.6 0 1 1 3.3,0a1.6,1.6 0 1 1 -3.3,0M176.8,765.9a2.6,2.6 0 1 1 5.2,0a2.6,2.6 0 1 1 -5.2,0M174.8,765.1a2.6,2.6 0 1 1 5.2,0a2.6,2.6 0 1 1 -5.2,0M172.2,761.9a1.9,1.9 0 1 1 3.7,0a1.9,1.9 0 1 1 -3.7,0M171.4,761.3a3.1,3.1 0 1 1 6.2,0a3.1,3.1 0 1 1 -6.2,0M166.2,761.7a1.9,1.9 0 1 1 3.9,0a1.9,1.9 0 1 1 -3.9,0M161.8,762.8a2.7,2.7 0 1 1 5.4,0a2.7,2.7 0 1 1 -5.4,0M159.8,763a2,2 0 1 1 4,0a2,2 0 1 1 -4,0M155.8,763.4a2.6,2.6 0 1 1 5.2,0a2.6,2.6 0 1 1 -5.2,0M150,764.4a2.3,2.3 0 1 1 4.5,0a2.3,2.3 0 1 1 -4.5,0M145,764.2a2.5,2.5 0 1 1 5.1,0a2.5,2.5 0 1 1 -5.1,0M140.6,763.3a2.5,2.5 0 1 1 5,0a2.5,2.5 0 1 1 -5,0M137.7,760.8a2.9,2.9 0 1 1 5.8,0a2.9,2.9 0 1 1 -5.8,0"/><clipPath id="cbl11"><use href="#bl11"/></clipPath></defs><use href="#bl11" fill="#86e6e2"/><g clip-path="url(#cbl11)" fill="none" stroke-linecap="round"><path d="M141.3,762.2 Q137.4,759.6 142.6,757.1 Q147.9,754.5 155.6,753.1 Q163.4,751.8 171.2,750.5 Q179.1,749.2 184.9,748.5 Q190.7,747.9 192.7,751.8 Q194.6,755.7 195.3,762.2 Q195.9,768.7 197.9,773.3 Q199.9,777.8 196,778.4 Q192,779.1 188.1,773.9 Q184.3,768.7 179.1,765.5 Q173.9,762.2 166.1,762.2 Q158.2,762.2 151.7,763.5 Q145.2,764.8 141.3,762.2Z" fill="#5fb0ae"/><path d="M175.7,756.9 Q174.9,751.6 176.8,746.6M155.4,764.9 Q152.3,760.8 150.1,756.3M139.9,762.1 Q141.2,756.3 146.2,753.2M163.4,756.5 Q164.4,753.1 166.9,750.4M145.6,767.8 Q146.7,762.1 149.4,756.9M188.7,760.4 Q188,754.8 190,749.6M177.7,761.4 Q178.7,757.6 182.3,756.2M162.7,758.7 Q159.2,759.2 157.2,756.2M193.3,778.1 Q190.1,777.1 190.6,773.7M187.1,769.3 Q188.7,765.2 193.1,764.5M155.2,764 Q152.5,761.1 152.5,757.1M190.4,755.1 Q185.8,755.9 185.3,751.3M196.2,777.5 Q191.4,773.9 186.8,770.2M184.5,758.7 Q181.5,758 179.8,755.5M196.1,768.4 Q190.7,768.6 186.5,765.2M161.4,766 Q160.7,760.8 162,755.6M181.4,765.7 Q177.5,762 178.7,756.7M192.3,752.4 Q189.8,752.2 187.4,751.4M193.4,782.3 Q197.7,777.8 202.2,773.4M164.3,757 Q165.8,753 169.9,751.6M190.8,774.8 Q186.4,773 187.2,768.3M173.7,761.6 Q169.5,760.8 168.1,756.7M140,765.6 Q145.2,763.9 150.6,764M187.3,769.9 Q182.4,769.4 179.7,765.3M167,756.1 Q165.1,753.6 165.2,750.5M157.1,759.4 Q160.1,757.7 163.6,758.2M178.3,765.2 Q178.2,760.3 178.7,755.4M183.4,755 Q176.9,753.5 175.4,747M149.9,758.4 Q150.1,753.1 154,749.6M183.9,760.6 Q182.6,755.2 184.8,750.1M183.3,760.7 Q179.5,760.7 180.8,757.2M180.7,760.7 Q186.7,759.5 192.8,759.4M146.9,758.7 Q143.3,760 142.5,756.2M186.9,777.2 Q190.9,775 195.5,775.3M182.7,767 Q184.1,763.6 187.8,763.2M170.9,756.5 Q174.9,751.7 181,750.8M189.4,780.2 Q187.1,775.4 190.7,771.5M180.2,767.5 Q182.1,761.9 187.9,761M179.5,761.1 Q177.7,759.5 176.6,757.4M165.7,756.4 Q168.9,750.5 175.7,750.4M192.3,775.5 Q187.7,772.3 185.5,767.1M180.3,760.3 Q175.9,760.4 172.3,757.8M202.6,780.9 Q198.2,776.8 195.6,771.3M144.1,764 Q146.5,758.4 152.6,758.6M195.4,779 Q196.8,775 199.4,771.7M137.4,764.8 Q142.7,761.1 149.1,760.8M175.6,765.8 Q177.3,759.9 183.5,759.1M189.5,771.7 Q188.7,768.6 191,766.4M171.3,758.3 Q176.3,756.3 181.5,757.9M169.6,763.8 Q162.6,762.7 159.4,756.4M147.1,760.7 Q147,757.8 148.6,755.3M180.5,763.9 Q183,762.7 185.6,762.1M141.7,757.3 Q147.2,754 153.4,755.4M192.6,754.1 Q187.6,754.2 186.2,749.5M185,754.6 Q182.1,753.2 181.6,749.9M194.7,776.5 Q194.4,774 195.3,771.7M187.8,762.8 Q185.4,762.8 183,762.7M191.8,764.2 Q192.7,758.7 197.5,756.1M144.2,766.2 Q144.8,760.2 150.2,757.3M155.5,758.8 Q154.6,755.2 158.4,755.5M168.3,761.9 Q166,759.2 164.3,756M166.4,756.7 Q163.3,759.4 161.3,755.7M190.2,772.6 Q186,773.5 186.4,769.3M175.9,754.5 Q169.5,752.3 165.8,746.7M170.7,762.7 Q167.6,762.5 166.2,759.7M148.4,763.3 Q144.8,761.8 147.1,758.8M183.8,760.5 Q184.4,757.1 187.7,755.8M196.1,764.2 Q191.6,762.3 188.9,758.2M183.9,759.4 Q185.5,754.9 189.5,752.3M174.2,766.6 Q176.6,762.1 179,757.6M191.2,767.2 Q190.9,764.5 191.9,762M189.2,761.1 Q185.6,762.7 185.4,758.7M151.2,768.6 Q147.4,763.6 149.6,757.7M184.8,769.8 Q183.2,767.2 185.5,765M159.8,765.3 Q153.6,764.1 148.2,760.7M182.5,751.1 Q188.2,748.8 194.1,750M191.8,765.7 Q190.8,761 194.4,757.9M172.7,755.5 Q174.7,751.8 178.9,751.4M147.1,766.9 Q142.7,762.8 140.7,757.2M195.7,777.9 Q192,773.2 192.9,767.4M176.4,758.3 Q179,752.9 184.9,751.7M171.6,752.8 Q172.9,749.9 176.1,750.6M179.4,763.8 Q175.4,758.6 176.2,752.1M187.6,767.7 Q190.3,765.7 193.7,765.6M186.8,756.2 Q187.3,752.6 190.8,752M183.3,766 Q182.8,763 185.3,761.3M183.1,762.9 Q184.3,757.6 189.6,756.1M178.8,760.4 Q182.8,756.1 188.4,754.3M165.2,761.2 Q163,758.5 165.4,756M191.9,762.4 Q185.3,761.2 180.8,756.2M168.3,756.4 Q172.9,753.8 178.2,753.1" stroke="#86e6e2" stroke-width="4.6"/><path d="M154.5,758.7 Q159.1,755.8 164.5,756.6M155.5,757.1 Q151.7,754.8 154.2,751.2M183,757.7 Q187.4,755.5 192.2,755.9M186.6,777.1 Q188.3,773 192.7,773.2M190.6,765.5 Q193.8,760.2 199.8,761M161.7,756.7 Q156.2,758.6 152.6,754.1M175.5,762.7 Q170.6,761.6 171.5,756.7M180.1,756.4 Q176.6,753.8 178.9,750M191.4,763.7 Q188.5,761.8 188,758.4M169,761.3 Q165.2,760.1 167.6,756.9M149.8,763.3 Q149.6,759.5 152.9,757.6M182.8,762.5 Q186.1,761.3 189.4,760.6M168.5,755 Q165,753.2 162.3,750.4M186.5,768.1 Q180,766.8 175,762.4M140.5,761.3 Q143.3,755.9 147.5,751.5M160,764.5 Q156.6,760.5 154.2,755.8M184.5,761.5 Q183.7,758.9 184.1,756.3M162.8,756.4 Q161.8,751.6 166.6,750.5M176.3,761.6 Q176.5,756.5 178.2,751.6M179.7,758.4 Q176.3,760.5 176,756.5M149.9,759.5 Q144.1,758.4 139.5,754.8M194,756.9 Q190.3,758.7 189.1,754.9M181.5,764.2 Q180.8,760.4 183.1,757.4" stroke="#6bb8b4" stroke-width="3.7"/><path d="M156.5,757.5 L161.5,756.5M141,759.2 L144.1,754.8M146.1,764.5 L148,759M160.8,757.5 L158.1,756.2M188.1,767.5 L191.1,765.1M187.6,775.5 L190.7,773.6M193.2,767 L188.4,765.4M180.2,762.9 L178.9,758.3M165.2,755.1 L168,752.4M171.8,759.8 L169,757.3M174,760.6 L172,757.6M177.9,762.1 L178.1,757.2M150.4,755.6 L152.5,751.2M183.3,759.8 L189.3,759.1M188.5,776.1 L192.8,775.2M168.1,759.6 L167.4,757.4M178.3,759.5 L176.8,757.7M190.1,772.8 L186.7,768.6M145.7,762.1 L150,759.4M139.8,763.2 L145.7,761.2M166.4,753.2 L163.3,751M147,758.7 L147.7,756.1M144.1,756.2 L150,755.3M194.4,774.7 L194.6,772.3M192.8,761.6 L195.6,757.5M158,761.7 L155.2,757.4M188.7,771.1 L186.8,769.5M169.1,761.4 L166.9,759.9M193.8,762.1 L190.2,759.1M174.9,763.8 L177.3,759.3M176.3,758.5 L177.2,753.5M156.4,763.5 L150.6,761.3M191.9,763.2 L193.2,759.2M194.5,774.7 L193.1,769.4M172.2,751.7 L174.5,750.5M192.3,755.8 L189.8,754.8M184.3,760.6 L187.5,757.2M164.7,759.3 L164.8,756.7" stroke="#a7edea" stroke-width="1.7" opacity="0.7"/></g><defs><path id="bl12" d="M152,769.6 Q152,761.2 162.5,760.6 Q172.9,759.9 178.1,763.8 Q183.2,767.7 188.4,772.9 Q193.6,778.1 198.9,778.1 Q204.1,778.1 208,784.6 Q211.9,791.1 210.6,797.6 Q209.3,804.1 215.8,805.4 Q222.2,806.7 223.5,811.9 Q224.8,817.2 220.9,823.6 Q217.1,830.1 213.2,836.7 Q209.3,843.2 204.1,848.4 Q198.9,853.6 191.1,856.2 Q183.2,858.8 178.1,853.6 Q172.9,848.4 167.6,841.9 Q162.4,835.4 159.8,828.9 Q157.2,822.3 159.8,814.5 Q162.4,806.7 159.8,798.9 Q157.2,791.1 154.6,784.6 Q152,778.1 152,769.6ZM151.4,763.8a3.5,3.5 0 1 1 7,0a3.5,3.5 0 1 1 -7,0M154.7,761.8a2.5,2.5 0 1 1 5,0a2.5,2.5 0 1 1 -5,0M161.9,761.4a2.3,2.3 0 1 1 4.6,0a2.3,2.3 0 1 1 -4.6,0M164.3,762.5a2.9,2.9 0 1 1 5.9,0a2.9,2.9 0 1 1 -5.9,0M166.1,762.6a2.6,2.6 0 1 1 5.2,0a2.6,2.6 0 1 1 -5.2,0M173.2,765.1a3.8,3.8 0 1 1 7.5,0a3.8,3.8 0 1 1 -7.5,0M175.9,768.2a3.7,3.7 0 1 1 7.5,0a3.7,3.7 0 1 1 -7.5,0M178.3,768.8a3.7,3.7 0 1 1 7.3,0a3.7,3.7 0 1 1 -7.3,0M181,769.9a2.9,2.9 0 1 1 5.9,0a2.9,2.9 0 1 1 -5.9,0M185,775.4a3.8,3.8 0 1 1 7.5,0a3.8,3.8 0 1 1 -7.5,0M185.3,777.2a3.6,3.6 0 1 1 7.3,0a3.6,3.6 0 1 1 -7.3,0M188.9,778.3a2.4,2.4 0 1 1 4.8,0a2.4,2.4 0 1 1 -4.8,0M191.6,779.9a3,3 0 1 1 6,0a3,3 0 1 1 -6,0M195.1,779.5a3.1,3.1 0 1 1 6.2,0a3.1,3.1 0 1 1 -6.2,0M199.8,780.7a2.8,2.8 0 1 1 5.6,0a2.8,2.8 0 1 1 -5.6,0M204.1,786.7a2.9,2.9 0 1 1 5.7,0a2.9,2.9 0 1 1 -5.7,0M205.2,786.5a2.3,2.3 0 1 1 4.6,0a2.3,2.3 0 1 1 -4.6,0M207.3,791.6a2.4,2.4 0 1 1 4.7,0a2.4,2.4 0 1 1 -4.7,0M204.4,796.8a3.8,3.8 0 1 1 7.5,0a3.8,3.8 0 1 1 -7.5,0M204,798.9a3.6,3.6 0 1 1 7.2,0a3.6,3.6 0 1 1 -7.2,0M203,803.1a3.6,3.6 0 1 1 7.2,0a3.6,3.6 0 1 1 -7.2,0M205.9,805.2a3.3,3.3 0 1 1 6.6,0a3.3,3.3 0 1 1 -6.6,0M209.9,805.7a2.6,2.6 0 1 1 5.3,0a2.6,2.6 0 1 1 -5.3,0M213.3,806.2a2.5,2.5 0 1 1 5,0a2.5,2.5 0 1 1 -5,0M216.4,808.4a3.2,3.2 0 1 1 6.4,0a3.2,3.2 0 1 1 -6.4,0M218.7,812.1a2.2,2.2 0 1 1 4.4,0a2.2,2.2 0 1 1 -4.4,0M219.1,813.9a2.7,2.7 0 1 1 5.3,0a2.7,2.7 0 1 1 -5.3,0M219.3,817.5a3,3 0 1 1 6.1,0a3,3 0 1 1 -6.1,0M218.3,820.6a2.7,2.7 0 1 1 5.5,0a2.7,2.7 0 1 1 -5.5,0M215.4,823.9a3,3 0 1 1 6.1,0a3,3 0 1 1 -6.1,0M214.8,826.3a3.1,3.1 0 1 1 6.2,0a3.1,3.1 0 1 1 -6.2,0M211.8,829a3.5,3.5 0 1 1 7,0a3.5,3.5 0 1 1 -7,0M209.3,833.5a2.8,2.8 0 1 1 5.6,0a2.8,2.8 0 1 1 -5.6,0M207.8,835.6a2.8,2.8 0 1 1 5.5,0a2.8,2.8 0 1 1 -5.5,0M206,837.2a3.7,3.7 0 1 1 7.3,0a3.7,3.7 0 1 1 -7.3,0M204,843.8a2.4,2.4 0 1 1 4.8,0a2.4,2.4 0 1 1 -4.8,0M202.2,844.3a2.6,2.6 0 1 1 5.3,0a2.6,2.6 0 1 1 -5.3,0M199.7,848.6a2.2,2.2 0 1 1 4.5,0a2.2,2.2 0 1 1 -4.5,0M196.4,849.1a2.9,2.9 0 1 1 5.7,0a2.9,2.9 0 1 1 -5.7,0M194.8,853a3,3 0 1 1 5.9,0a3,3 0 1 1 -5.9,0M190.6,853.3a3.2,3.2 0 1 1 6.4,0a3.2,3.2 0 1 1 -6.4,0M185.8,853.1a4,4 0 1 1 7.9,0a4,4 0 1 1 -7.9,0M185.3,855a2.5,2.5 0 1 1 5.1,0a2.5,2.5 0 1 1 -5.1,0M179.1,856.2a2.8,2.8 0 1 1 5.6,0a2.8,2.8 0 1 1 -5.6,0M177.2,854.1a3.6,3.6 0 1 1 7.2,0a3.6,3.6 0 1 1 -7.2,0M173.2,849.6a4,4 0 1 1 8,0a4,4 0 1 1 -8,0M171.6,846a3.8,3.8 0 1 1 7.7,0a3.8,3.8 0 1 1 -7.7,0M170.7,845.9a3.2,3.2 0 1 1 6.3,0a3.2,3.2 0 1 1 -6.3,0M166.2,840.7a4.1,4.1 0 1 1 8.2,0a4.1,4.1 0 1 1 -8.2,0M166.6,839.7a2.1,2.1 0 1 1 4.1,0a2.1,2.1 0 1 1 -4.1,0M161.9,834.8a3.9,3.9 0 1 1 7.8,0a3.9,3.9 0 1 1 -7.8,0M160.7,832.7a3.4,3.4 0 1 1 6.7,0a3.4,3.4 0 1 1 -6.7,0M158.2,829.1a3.7,3.7 0 1 1 7.4,0a3.7,3.7 0 1 1 -7.4,0M156.8,825a3,3 0 1 1 6.1,0a3,3 0 1 1 -6.1,0M156.2,823a2,2 0 1 1 4,0a2,2 0 1 1 -4,0M155.6,820.5a4.1,4.1 0 1 1 8.1,0a4.1,4.1 0 1 1 -8.1,0M159.6,815a2.9,2.9 0 1 1 5.8,0a2.9,2.9 0 1 1 -5.8,0M159.5,813a2.6,2.6 0 1 1 5.2,0a2.6,2.6 0 1 1 -5.2,0M160.8,808.3a2.4,2.4 0 1 1 4.9,0a2.4,2.4 0 1 1 -4.9,0M160.2,806.6a3.3,3.3 0 1 1 6.5,0a3.3,3.3 0 1 1 -6.5,0M160.4,802a2.2,2.2 0 1 1 4.5,0a2.2,2.2 0 1 1 -4.5,0M157.6,796.9a3.1,3.1 0 1 1 6.2,0a3.1,3.1 0 1 1 -6.2,0M157.2,795.1a3.6,3.6 0 1 1 7.3,0a3.6,3.6 0 1 1 -7.3,0M155.9,788.1a2,2 0 1 1 4.1,0a2,2 0 1 1 -4.1,0M153,786a2.3,2.3 0 1 1 4.7,0a2.3,2.3 0 1 1 -4.7,0M152.3,782.9a2.6,2.6 0 1 1 5.1,0a2.6,2.6 0 1 1 -5.1,0M150.6,781.8a3.2,3.2 0 1 1 6.3,0a3.2,3.2 0 1 1 -6.3,0M150.1,775.3a2.7,2.7 0 1 1 5.5,0a2.7,2.7 0 1 1 -5.5,0M151.3,772.9a2.9,2.9 0 1 1 5.9,0a2.9,2.9 0 1 1 -5.9,0M150.8,771.9a4,4 0 1 1 8,0a4,4 0 1 1 -8,0M150.5,764.2a3.5,3.5 0 1 1 7,0a3.5,3.5 0 1 1 -7,0"/><clipPath id="cbl12"><use href="#bl12"/></clipPath></defs><use href="#bl12" fill="#4488e0"/><g clip-path="url(#cbl12)" fill="none" stroke-linecap="round"><path d="M152,769.6 Q152,761.2 162.5,760.6 Q172.9,759.9 178.1,763.8 Q183.2,767.7 188.4,772.9 Q193.6,778.1 198.9,778.1 Q204.1,778.1 208,784.6 Q211.9,791.1 210.6,797.6 Q209.3,804.1 215.8,805.4 Q222.2,806.7 223.5,811.9 Q224.8,817.2 220.9,823.6 Q217.1,830.1 213.2,836.7 Q209.3,843.2 204.1,848.4 Q198.9,853.6 191.1,856.2 Q183.2,858.8 178.1,853.6 Q172.9,848.4 167.6,841.9 Q162.4,835.4 159.8,828.9 Q157.2,822.3 159.8,814.5 Q162.4,806.7 159.8,798.9 Q157.2,791.1 154.6,784.6 Q152,778.1 152,769.6Z" fill="#224470"/><path d="M196.9,824.1 Q196.3,819.1 200.6,816.4M215.1,814.2 Q210.1,810.3 207.5,804.4M203,854.9 Q199.8,850.7 198.9,845.6M181.6,844.4 Q180.8,840.2 182.8,836.5M164.3,794.5 Q159.9,793.9 161,789.6M167.7,782.8 Q173.3,779.8 179.3,777.4M159.4,775.5 Q159.7,772.5 161.1,769.8M155.5,787.4 Q152.5,782.7 155.8,778.3M194.6,814.1 Q189.5,812 185,808.8M205.1,804.9 Q201.7,803.1 201.8,799.3M192.3,852.9 Q189.9,849.6 192.4,846.4M156.8,830.3 Q158.3,824.1 161.4,818.5M205.7,818.8 Q202.6,817.8 200.9,814.9M182.3,775.6 Q180.9,773.3 183.1,771.7M170.1,778.5 Q167.2,775.1 169.5,771.2M207.2,820.4 Q202.8,816.4 204.9,811M198.6,798.7 Q195.2,799.1 195.7,795.7M178,806 Q174,803.3 175.6,798.8M192.8,820.1 Q193.9,814.5 197.8,810.2M193,839.8 Q189.2,834.8 189.2,828.4M186.8,854 Q186.8,848.4 189.9,843.8M208.4,807.1 Q208,802.6 208,798M182.3,843.1 Q181.2,839.4 180.4,835.5M206.9,807.6 Q201.5,805.7 199,800.6M190.3,808.5 Q193.5,802.9 199.2,799.9M210.7,827 Q206.9,823.7 209.5,819.3M215.2,808.1 Q212.5,805.7 215.6,803.8M169.4,832.4 Q166.6,835 164.1,832.1M202.5,812.4 Q200.2,809 198.6,805.2M192.2,781.8 Q190.2,777.8 188.6,773.5M206.5,849.4 Q203.1,849.6 202.3,846.2M166.5,783 Q162.6,786.4 157.9,784.4M196.3,787.5 Q195.5,783.9 197.8,780.9M186.1,785.7 Q182.2,784.7 182.4,780.6M188.6,783.1 Q184.8,783.1 183,779.8M207.7,822.9 Q209.7,818.5 213.9,816M180.5,823.2 Q177.1,822.5 176.7,819.1M220.8,808.4 Q215.4,807.6 211.3,804M180.6,836.7 Q174.7,835 172.9,829M211.4,823.5 Q215.2,818.4 219.8,814.1M163.5,819.8 Q166,817 168.7,814.4M188.1,832 Q185.7,827.8 184.8,823M161.4,826 Q160.9,821 160.5,815.9M163.7,797.8 Q162.6,792.3 164.5,787.1M187.5,781.3 Q189.2,779.6 191.6,779.3M174.2,852.6 Q175.8,846.3 181.8,844M168.9,773.5 Q167.7,769.8 170.4,767M200.7,847.6 Q196.7,847.1 197.9,843.3M180.6,783 Q180.6,778.6 181.5,774.4M188.1,804.9 Q185.5,802 183.9,798.4M173.1,832.4 Q173.4,828.2 174.1,824.1M180.1,844.7 Q176.2,843.4 175.4,839.3M187.6,817.2 Q186.1,811.3 187.7,805.5M182.7,798.7 Q183.1,795.7 185.3,793.6M181.4,790.7 Q178.8,788.8 177.2,785.9M173.2,770.5 Q174.4,767.9 176.7,766.5M184.9,798.4 Q185.8,794.7 186.9,790.9M171.9,783 Q170.9,777.5 170,771.9M182.1,779.8 Q179.5,776.9 182.3,774M177.5,817.1 Q174.1,814.3 174.7,809.9M218.1,820.4 Q215.1,816.8 216.3,812.3M181.8,847.9 Q185.2,843.6 190.5,841.8M177.5,842.1 Q176.8,836 179.8,830.5M184.5,793.5 Q181.9,791.6 180,789M173.3,808.4 Q172,802.2 173.4,795.9M182.6,813.2 Q186.3,809.1 191.3,806.9M194.6,792 Q190.4,792.2 189.8,788.2M164.8,820.5 Q167.3,814.7 169.8,808.8M207.4,818.8 Q204.6,818.4 203.5,815.9M186.9,843.3 Q185.6,837.1 187.9,831.3M164.1,774.2 Q162.3,770.3 160.7,766.2M200.2,824.5 Q197.6,821.9 196.2,818.5M186.3,787.5 Q184,785.2 186.2,782.8M202.5,832 Q200.2,827 202.8,822.2M196.2,796.5 Q194.3,792.6 193.6,788.2M181.9,796.7 Q179.6,794.8 178.1,792.1M191,855.9 Q187.6,854.9 187.4,851.3M207,813.4 Q205.3,809.9 205.4,806M195.3,832.4 Q192.6,830.9 193.9,828.1M200.6,848.8 Q199.5,844.8 201.4,841.1M158.2,784.6 Q153.6,783.4 152.5,778.7M171.6,808.3 Q169.4,803.8 167.7,799.1M185.1,828.1 Q180.5,824 179,818.1M202.1,828.6 Q200,825.8 198.7,822.6M193.5,808.8 Q189.9,807.1 188.1,803.6M207.2,849.6 Q202.3,849 199.4,844.9M189.4,863 Q186.8,857 187.4,850.5M185.5,805.4 Q185.3,802.1 185.3,798.9M177.2,776.7 Q175.8,772.1 175.6,767.3M193.2,852.5 Q190.3,848.2 192.2,843.4M164.4,814.1 Q163.3,809.3 165.7,805.1M174.9,806.4 Q172,804.1 174.9,801.8M191,851.9 Q189.9,849.8 190.5,847.5M163.9,832.9 Q160.1,827.4 161.1,820.7M170.1,817.2 Q165.3,817 165.6,812.3M187.2,860.2 Q188,854 189.2,847.8M198.4,812.2 Q195.7,808.8 199.8,807.2M196.8,799.9 Q197.7,795.3 200.3,791.4M170.4,811.7 Q168,807.5 170.5,803.4M169.5,790.3 Q166.8,788.2 168.3,785.1M209.5,798.4 Q208,795.4 210,792.6M162.3,823.9 Q160.3,819.8 159.8,815.3M187.2,790.8 Q185.1,786.8 187.9,783.4M174.8,844.2 Q173.8,841.9 173.4,839.4M170,848 Q169.7,842.3 170.2,836.7M190.4,781.3 Q188,777.3 187.8,772.6M189,857.8 Q184.1,855.4 185.2,850M205.5,787.7 Q204,782.4 203.4,776.9M167.1,787.9 Q161.6,788.8 157.7,784.7M215,808.9 Q210.4,809.3 208.8,805M195.8,850.6 Q196.8,847.2 198.6,844.1M195.2,794.5 Q192.8,791.4 194,787.8M201.7,846.9 Q198.8,843.8 201.8,840.8M172.9,781 Q171.7,776.1 171,771M169.2,803.2 Q165.1,800.1 165.2,795M177.6,849.3 Q176.1,845.3 178.8,841.9M180.5,805.8 Q178.3,804.2 177.1,801.7M178.8,773.2 Q173.3,770.2 173.1,763.9M206.3,784.5 Q204.6,781.9 204.6,778.8M196.6,821.8 Q195,817.7 194.5,813.2M176.7,821.4 Q173.2,818.1 172,813.5M175.7,805.4 Q175.3,801.9 177.1,799M214.3,805.8 Q208.2,805.7 202.6,803.1M213.9,820.7 Q217,816.7 221,813.6M166.8,833.2 Q161.3,830.3 159.6,824.4M166.6,838.8 Q165.5,833.4 168.4,828.8M190.4,855.9 Q186.3,851.2 186.7,845M173.2,842.3 Q169,837.1 169.7,830.4M199.2,829.3 Q197.5,825.1 198.4,820.7M205.4,819.2 Q202.6,815.1 205.4,811.1M205.3,815 Q206.8,810.1 210,806.1M183.1,833.1 Q180,830.2 183.7,828.1M170.4,800.1 Q168.4,794.8 172.9,791.4M189.7,844.5 Q184.8,841.9 184.9,836.4M168.7,791.1 Q167.3,787.3 168.4,783.4M184.9,784.9 Q187.1,780.4 189.8,776.2M171.1,825 Q172.3,822.1 173.8,819.4M214.1,818.4 Q212,812.4 213.5,806.2M192.1,851.1 Q191.7,849 192,846.9M165.3,834.4 Q165.8,828.7 168.9,823.9M196.8,852.8 Q197.6,846.7 203.5,844.9M212.5,798.5 Q207.8,797.3 208.7,792.6M181.5,775.3 Q178.8,773.4 180.9,770.9M165,833.3 Q163.6,831.5 164.2,829.3M191.5,807 Q185.9,804.1 181.3,799.8M197.5,831.7 Q197.6,827.4 201.7,826.1M206.1,796.8 Q205.5,792.8 207.7,789.4M160.8,819.7 Q157.5,816.7 157.9,812.3M183.7,818.3 Q183,813.9 184.8,809.8M192.9,848.2 Q192.4,843.9 195.7,841.2M193.3,808.8 Q192.3,804.3 194.1,800.1M220.3,814.9 Q214.8,810.8 214.4,803.9M163.4,830.4 Q161.6,824.8 161.6,819M212.3,809 Q206.4,810.9 202.3,806.3M206.3,844 Q206.6,840 210.6,839.9M207.1,800.6 Q201.9,800.5 197.2,798.3M178.2,791.7 Q175,789.3 177.6,786.3M175.3,818.9 Q171,815.9 171.7,810.7M177.6,839.5 Q176.1,837.2 177.9,835.1M185.7,849.6 Q182.1,847.9 179.6,844.8M177.1,807.7 Q177.7,802.3 179.1,796.9M204,791 Q200,790.3 201.1,786.4M180.7,784 Q177.8,781.5 177.4,777.6M185.2,789.4 Q183,785.6 183.6,781.3M166.3,772.6 Q162.1,769 160,763.9M181.4,842 Q177,837.2 177.9,830.7M204.9,809.5 Q201.1,809.8 198.2,807.3M199.8,819.5 Q200.9,813.4 204.1,808.1M187.4,850.3 Q187.8,844.9 193.1,843.6M190.9,796.7 Q186.9,795.3 187.3,791.1M181.1,813.7 Q180.5,811 181,808.3M204.6,801 Q202,801.1 200.1,799.4M179.5,849.3 Q182.3,843.5 187.1,839.1M165,823.6 Q162.2,821 162.8,817.2M194.8,791.3 Q192.8,787.2 194.6,783M201,792.8 Q195.3,789.2 194.2,782.6M192.9,847.8 Q188.3,844.9 188.1,839.4M202.2,805.3 Q198.7,799.5 199.5,792.8M185.8,830.4 Q183,827.4 182,823.4M200.7,850 Q193.9,850.3 189.2,845.5M211.4,818.7 Q210.8,815.2 213.6,813.2M165.1,769.4 Q167.7,765.7 171.9,764.3M192.4,824.7 Q190.8,819.2 193.5,814.1M179.3,799.1 Q179,792.8 182,787.3M180.3,767 Q175.7,765.8 174.3,761.3M190.8,854.5 Q186.1,850.4 186,844.2M162.8,767.2 Q164.6,762.7 168,759.4M176.9,778.4 Q173,775.4 176.1,771.5M176.3,781.2 Q172.5,776 175.3,770.3M184.3,837.7 Q182.8,833.9 182.8,829.8M195.7,800.7 Q193.8,797.5 197.4,796.3M172.9,784.6 Q165.7,783.8 162.1,777.4M162.2,797.4 Q158,793.3 157.9,787.4M156.7,779.2 Q154.7,773 157.8,767.3M174.1,790.4 Q172.9,786.9 172.5,783.2M188.6,848.2 Q185.4,843.1 187.9,837.5M186.6,850 Q183.9,848 186.3,845.6M192,830 Q193.5,826.3 197.5,826.3M190.3,786.3 Q183.4,784.6 180.3,778.1M202,811.5 Q201.9,806.3 203.4,801.3M189.5,802.3 Q186.8,796.9 189.3,791.5M200.7,818.1 Q197.9,814.7 198.6,810.4M220,819.5 Q221.2,813.7 225.3,809.5M184,851.3 Q182.4,846.2 182.5,840.9M169.3,776.6 Q166.3,773.6 164.5,769.8M189.7,833.9 Q188.6,830.3 189.1,826.6M204.3,833.5 Q201.6,830.4 202.9,826.5M198.5,799.6 Q195.1,802.3 190.8,802.1M178.3,786.8 Q172.9,786.6 171.5,781.4M164.2,802.3 Q159.1,798.1 159.4,791.5M175.9,841 Q175.1,838.2 175,835.2M202.7,796.5 Q197.2,794.6 194.6,789.3M199,853.6 Q198.9,849.4 200,845.3M210.3,842.1 Q207.1,836.6 206.7,830.3M171.4,809.2 Q166.8,807.3 165,802.7M181.4,819.6 Q177.3,814.6 177.5,808.1M177,789.4 Q177,783.1 181.4,778.6M155.6,771.2 Q156,766.2 160.3,763.5M224.1,812.6 Q222.3,811.2 221.6,809M170.5,822.4 Q167.3,821 169.2,818.1M160.1,821.8 Q157.6,819.6 159.3,816.6M174.3,841.6 Q172.7,838.4 172.9,834.8M205,845.6 Q204.1,842.9 206,840.8M167,831.8 Q165.2,830.8 164.2,828.9M183.8,846.7 Q181.6,845.1 179.6,843.4M179.1,791.8 Q179.1,788.6 180.5,785.7M201.6,832.9 Q201.3,828.7 205.4,827.6M199.4,806.8 Q200.4,804.7 201.7,802.7M162.7,779.5 Q158,775.7 159.4,769.8M169.6,766.1 Q170.6,763.4 172.6,761.3M182.2,813.9 Q181.6,810.2 182.4,806.5M161.4,800.1 Q156.5,795.5 157.7,788.8M197.1,857.2 Q194.8,853.6 195.9,849.5M209.3,823.7 Q210,818.1 213.8,813.8M195.6,843.9 Q193.8,840.7 195.8,837.6M195.7,832.6 Q195.8,828.2 198.6,824.7M177.1,830.3 Q175.2,826.6 175.7,822.5M194.3,816 Q192.8,809.7 192.3,803.2M203.1,813.5 Q197.9,812.7 197.2,807.5M184.3,797.6 Q187.4,795.3 190.9,793.7M157.1,779.7 Q161.4,775 166,770.6M195.4,839.2 Q189.9,838.8 188.8,833.5M186.2,789.9 Q181.7,789 182.4,784.4M206.1,836.7 Q201.7,835.7 202.6,831.2M202.9,850.9 Q199.8,848.2 201,844.3M162.7,770.1 Q160.7,764.1 160.7,757.7M199.6,785 Q197.9,781.8 200.1,778.9M181.1,796.5 Q182.3,789.9 188.7,787.9M161.5,796.5 Q160.1,790.5 163.8,785.7M169.9,825.8 Q164.3,822.2 163,815.6M160,769.9 Q157.4,765.9 157,761M199.7,839.3 Q193.1,837.8 189.7,832M208,814.5 Q206.6,810.5 210.8,809.9M211.6,831.7 Q213,825.5 214.7,819.4M171.4,800.4 Q170.7,797.4 173.8,797M189.7,831.6 Q187,826 191,821.2M172,851 Q169.5,846 173.4,842M177.6,795.7 Q176.8,790.4 180.2,786.2M195.7,795.2 Q190.1,793.1 188.5,787.3M213.1,822 Q212.4,816.6 214.7,811.8M159.5,824.4 Q157.4,820.1 160.6,816.6M179.4,770.2 Q174.7,765.9 172.5,759.8M177.3,832.2 Q178.1,828.4 179,824.5M201.1,797.2 Q199,792.6 202.8,789.3M208,836.4 Q207.4,832.4 210.1,829.4M184.3,802.5 Q183.3,798.7 183.3,794.9M171.2,805.1 Q167,800.8 164.1,795.4M199.1,814 Q196.6,810.6 198.8,807M183.2,846.6 Q180.9,843.4 184.5,841.8M191.1,806.5 Q185.6,805.9 180.1,805.2M171.6,843.3 Q174.6,840 177.6,836.7M157.6,795.3 Q154.1,790.4 157,785.3M178.2,777.4 Q177.5,774.4 177.9,771.4" stroke="#4488e0" stroke-width="4.6"/><path d="M193.3,789.7 Q194.9,785.3 196.8,781M195.5,833.8 Q193.2,834.8 190.8,834.3M202.6,835.3 Q199.6,830.3 197.4,824.8M171.7,773.2 Q174,769.9 176.8,767.1M210.6,823.7 Q207.3,819.5 209.7,814.7M195.1,780.2 Q191.7,779.9 189.8,777M179.7,848.2 Q178.7,844.2 182.9,844.6M194.1,794.1 Q189.9,789.7 192.3,784M201.5,820.1 Q203.3,816.2 206.1,812.9M170.5,808.6 Q168.7,803.7 168.7,798.5M195.9,831.5 Q193.8,828.1 193,824.3M167.8,837.2 Q161.9,836.2 158.6,831.2M160.5,782.6 Q157.5,781.1 158.9,778.1M186.1,815.9 Q181.9,811.3 178.4,806.1M200.4,856.4 Q199.3,851.8 198.5,847.3M181.4,841.6 Q180,837.7 180.7,833.6M218.7,818.5 Q216.4,814.2 219.8,810.7M218.9,813.3 Q217.6,810.1 218.3,806.7M192.7,794.4 Q189.8,791.9 193.2,790.1M176.9,774.6 Q174.7,770.2 176.5,765.5M173.2,847.2 Q168.1,843.4 168.8,837.1M201.5,837.2 Q198.9,834.8 197.4,831.7M198.6,779.2 Q192.9,782.3 186.5,783.4M170.2,829.2 Q167.1,826.7 170.1,824.1M162.3,790.2 Q158.4,785.2 155.3,779.7M181.1,823.4 Q174.7,820.1 173.9,812.9M189.7,813.9 Q186.8,813.4 184.1,811.9M189,852.5 Q192.9,847.7 197.7,843.9M208.9,830.3 Q203.1,829.8 201.3,824.3M200.1,851.2 Q197.4,847.9 199.3,844.1M187.9,837.8 Q185.6,833.3 189.3,829.9M178.4,787.4 Q175.9,781.7 174.4,775.6M186.8,845.6 Q184.9,841.8 186.7,838M155,828.3 Q156.3,822.7 160.8,819.2M199.4,798.2 Q199.5,794.9 201.8,792.5M185.8,801.8 Q185.8,796.6 188.5,792.1M181.4,824.7 Q177.9,822.5 180.3,819.1M203.6,835.8 Q198.3,838.7 193.6,835M162.9,823.2 Q157.6,819.3 157.4,812.7M176.7,803.6 Q173,802.4 171.4,798.8M164.6,835 Q162.7,829.8 167.2,826.6M209.4,794.9 Q209.2,791.9 210.2,789.1M209.4,838.1 Q209.5,832 215,829.5M216.9,832.4 Q213.1,828.2 210.1,823.4M196.6,813.1 Q195.3,809.2 194.2,805.3M189.7,810 Q191.6,804.2 196.6,801M169.4,828.9 Q166.1,827.5 165.3,824M162.7,833.8 Q160.1,829.6 159.8,824.6M195.9,851.4 Q191.8,848.8 191.7,843.9M182.6,819 Q179,815.8 178.1,811.1M179.3,843.2 Q178.7,841.1 178.2,838.9M162.7,784 Q165,780.1 168.6,777.2M180.7,809.2 Q177.5,803.2 180.7,797.2M191.5,789 Q191.1,784.1 195.5,781.9M183,801.8 Q181.4,798.3 182.5,794.6M158.6,781 Q161.5,776.4 164.4,771.9M200.3,826.9 Q200.6,820.7 204.4,815.8M205,822.4 Q201.1,821.7 202.6,818M208.1,802.6 Q200.9,801.5 197.4,795.2M209.7,846.6 Q206.1,845.9 203.3,843.5M185.3,792.7 Q183.1,789.6 184,785.9M218.5,828 Q212,825.7 209.1,819.5M192.2,798.5 Q193.2,791.5 199.7,788.7M185.4,836.4 Q182.5,830.4 182.9,823.7M199.6,852.3 Q198.2,846.4 203.1,843M167,786.1 Q162.2,789 158.1,785.2M167.6,773.8 Q164,771.2 162.9,766.8M161.8,776.8 Q159.8,774 160.8,770.8M200.5,816.2 Q195.3,812.8 193.7,806.8" stroke="#366cb3" stroke-width="3.7"/><path d="M193.6,786.9 L195.4,782.6M201.5,851.9 L199.5,847.3M163,792.6 L161.3,790.2M155,784.5 L155.2,779.9M203.7,802.9 L202.1,800.1M172.5,771.1 L175.1,768M169.4,776.1 L169.1,772.5M197.4,797.3 L195.9,795.8M191.5,836.4 L189.6,830.7M207.8,804.3 L207.6,799.7M180,846.7 L181.6,844.9M214.8,806.4 L215,804.3M201,810 L199.1,806.4M163.9,782.8 L159.6,783.4M184.7,783.9 L182.8,781.3M169.5,805.4 L168.6,800.4M178.2,834.1 L174.3,830.3M164.3,817.9 L166.9,815.2M163.4,794.5 L163.8,789.2M175.6,849.8 L179.4,845.5M159.6,780.9 L158.8,778.6M172.8,829.7 L173.4,825.6M187.1,813.7 L187.2,807.8M173.6,768.9 L175.4,766.9M170.9,779.6 L170,774.1M180.7,839 L180.4,835M177.5,838.6 L178.7,832.8M172.8,804.7 L172.9,798.4M165.5,817 L168,811.2M186.6,839.7 L187.2,833.7M192.3,792.7 L192.6,790.6M195.1,793.8 L193.8,789.7M189.6,854.2 L187.8,851.9M200.3,846.2 L200.7,842.4M170.1,805.4 L168.2,800.8M200,835.2 L197.9,832.4M188.4,859.3 L187.4,853M176.3,773.7 L175.5,769.1M174.4,804.6 L174.4,802.4M162.7,829.2 L161.3,823.2M160.1,787 L156.6,781.7M169.9,809 L170,804.9M209.2,796.4 L209.4,793.4M174,842.4 L173.2,840M189.3,778.5 L187.9,774.2M190.6,849.7 L195,845.4M196,848.4 L197.4,845.2M201.2,844.8 L201.3,841.7M177.4,846.9 L178,843.2M176.9,770.3 L174,765.6M187.7,835.2 L188.5,831.3M210.9,804.5 L205,803.2M164.5,830.4 L160.9,826M171.8,838.8 L170.1,832.8M204.9,816.6 L204.9,812.5M156,825.4 L158.8,820.9M168.1,788.6 L168,784.7M171.3,823 L172.6,820.2M165.7,831.2 L167.5,825.9M211.1,796.4 L209.2,793.4M180.6,822.7 L180,819.9M206,794.3 L206.8,790.6M183.4,815.6 L184,811.4M218.3,811.5 L215.4,806M209.3,807.7 L204.3,806.3M174.9,801.8 L172.2,799.4M177.1,837.8 L177.3,835.6M177.1,804.4 L178.1,799M184.3,786.8 L183.5,782.7M180.1,838.5 L178.3,832.9M210.3,835.3 L213.1,831M180.6,811.7 L180.6,809.1M180.9,846.2 L184.7,841.1M198.8,789.6 L195.4,784.6M201,801.6 L199.7,795.4M190.9,807.1 L194.4,802.6M192.2,821.4 L192.7,816.1M178.3,765 L175.3,762.1M176.2,776.1 L175.8,772.7M183.4,835.1 L182.7,831.2M194.3,849 L192.2,845.2M173.2,788 L172.4,784.4M186,848.3 L185.9,846.1M201.8,808.3 L202.5,803.2M199.7,815.6 L198.6,811.7M163.7,781.7 L166.6,778.3M203.5,831.2 L202.7,827.7M176.1,784.9 L172.7,782.1M200.2,794.1 L196.1,790.5M208.9,838.6 L207.1,832.6M182.3,799.4 L182.1,795.8M223,811.1 L221.8,809.3M159.4,819.9 L159,817.3M165.8,830.5 L164.4,829M179,789.7 L179.6,786.6M203.9,820.7 L202.7,818.5M181.8,811.4 L181.9,807.7M196.3,854.7 L195.7,850.8M195.9,830 L197.4,826.1M193.3,812.2 L192.3,805.8M184.4,790.4 L183.8,787M184.7,787.9 L182.8,785.2M201.9,848.6 L201,845.3M182.5,793.8 L186.3,789.4M167.7,822.6 L164.2,817.6M184.3,832.6 L183.1,826.3M171.5,799 L172.7,797.3M171.9,848.2 L172.5,843.7M213,818.8 L213.8,813.7M177.2,767 L173.7,761.8M165.9,771.5 L163.6,768M169,802.1 L165.4,797.2M183,844.8 L183.6,842.4M156.9,792.2 L156.7,787.2" stroke="#78a9e8" stroke-width="1.7" opacity="0.7"/></g><defs><path id="bl13" d="M200.9,827 Q199.6,820.4 204.8,816.5 Q209.9,812.6 216.4,812.6 Q222.9,812.6 225.5,816.5 Q228.2,820.4 225.5,827 Q222.9,833.5 219,840 Q215.1,846.4 208.6,849.7 Q202.2,852.9 198.2,849.7 Q194.3,846.4 198.2,840 Q202.2,833.5 200.9,827ZM200.1,819.6a1.6,1.6 0 1 1 3.2,0a1.6,1.6 0 1 1 -3.2,0M202.6,817.7a1.9,1.9 0 1 1 3.8,0a1.9,1.9 0 1 1 -3.8,0M204.1,815.7a2,2 0 1 1 4,0a2,2 0 1 1 -4,0M208.4,813.9a2.6,2.6 0 1 1 5.1,0a2.6,2.6 0 1 1 -5.1,0M213.8,814.2a2.7,2.7 0 1 1 5.5,0a2.7,2.7 0 1 1 -5.5,0M221.5,813.1a1.5,1.5 0 1 1 2.9,0a1.5,1.5 0 1 1 -2.9,0M220.7,814.7a1.6,1.6 0 1 1 3.1,0a1.6,1.6 0 1 1 -3.1,0M222.9,818a2.2,2.2 0 1 1 4.4,0a2.2,2.2 0 1 1 -4.4,0M224.2,822.2a1.5,1.5 0 1 1 3,0a1.5,1.5 0 1 1 -3,0M222.3,826.5a2,2 0 1 1 4,0a2,2 0 1 1 -4,0M222.5,829a1.8,1.8 0 1 1 3.6,0a1.8,1.8 0 1 1 -3.6,0M220.2,831.7a2.2,2.2 0 1 1 4.4,0a2.2,2.2 0 1 1 -4.4,0M219.4,834.7a1.8,1.8 0 1 1 3.6,0a1.8,1.8 0 1 1 -3.6,0M215.7,837a2.5,2.5 0 1 1 4.9,0a2.5,2.5 0 1 1 -4.9,0M216,839a2.3,2.3 0 1 1 4.7,0a2.3,2.3 0 1 1 -4.7,0M213.5,845a1.8,1.8 0 1 1 3.7,0a1.8,1.8 0 1 1 -3.7,0M211.6,846.9a2,2 0 1 1 4.1,0a2,2 0 1 1 -4.1,0M207.3,847.6a2.3,2.3 0 1 1 4.7,0a2.3,2.3 0 1 1 -4.7,0M204.8,848.4a2.8,2.8 0 1 1 5.6,0a2.8,2.8 0 1 1 -5.6,0M201.4,850.3a2.3,2.3 0 1 1 4.7,0a2.3,2.3 0 1 1 -4.7,0M199.5,851.9a1.6,1.6 0 1 1 3.1,0a1.6,1.6 0 1 1 -3.1,0M196.4,849a1.7,1.7 0 1 1 3.5,0a1.7,1.7 0 1 1 -3.5,0M193.5,846a2,2 0 1 1 4.1,0a2,2 0 1 1 -4.1,0M196.3,839.3a2.6,2.6 0 1 1 5.2,0a2.6,2.6 0 1 1 -5.2,0M198.8,837.1a2.6,2.6 0 1 1 5.3,0a2.6,2.6 0 1 1 -5.3,0M199.4,835.6a1.7,1.7 0 1 1 3.4,0a1.7,1.7 0 1 1 -3.4,0M200.1,830.8a1.8,1.8 0 1 1 3.5,0a1.8,1.8 0 1 1 -3.5,0M201.1,828.4a2.2,2.2 0 1 1 4.4,0a2.2,2.2 0 1 1 -4.4,0M199.3,822.7a2.3,2.3 0 1 1 4.5,0a2.3,2.3 0 1 1 -4.5,0"/><clipPath id="cbl13"><use href="#bl13"/></clipPath></defs><use href="#bl13" fill="#c884d8"/><g clip-path="url(#cbl13)" fill="none" stroke-linecap="round"><path d="M200.9,827 Q199.6,820.4 204.8,816.5 Q209.9,812.6 216.4,812.6 Q222.9,812.6 225.5,816.5 Q228.2,820.4 225.5,827 Q222.9,833.5 219,840 Q215.1,846.4 208.6,849.7 Q202.2,852.9 198.2,849.7 Q194.3,846.4 198.2,840 Q202.2,833.5 200.9,827Z" fill="#64426c"/><path d="M211.4,829.5 Q204.7,830.5 200.7,825.1M212.4,832.8 Q209.8,833.3 207.7,831.5M205.1,847.1 Q201.6,848.9 201.4,845M211.9,820.6 Q210.4,818.3 212.5,816.4M213.9,846.6 Q209.9,845.5 210.8,841.4M219.2,825.4 Q219.3,821.8 219.6,818.2M199.1,841.1 Q202.6,837.3 207,840M208.8,823.4 Q206.2,822.1 204.5,819.6M207.7,822 Q208.8,817.6 213.2,817.7M221.3,820.5 Q217.6,822.4 216.4,818.4M216.1,821.9 Q220.4,816.6 227.1,815.2M208.1,835.6 Q204.8,837.9 204.3,833.9M224.6,823.5 Q221.7,821.7 220,818.8M214.8,825.6 Q211.1,823.9 213.5,820.6M204.7,837 Q204.9,830.7 207.8,825.2M216.3,834 Q212.3,834.4 208.3,833.5M220.3,820 Q219.9,816.7 221.5,813.9M219.4,838.4 Q217.3,832.5 221.5,827.8M209.2,841.6 Q206.9,837.3 209.4,833M210,840.3 Q207.2,834.3 209.2,827.9M198.2,843.8 Q196.8,840 200.8,839.2M223.3,822.1 Q226.8,819.8 230.8,820.9M214.6,828.3 Q210.3,828.4 209,824.3M211.6,817.5 Q207.7,814.3 206.8,809.2M198.6,819.8 Q202.4,816.3 207.5,817.5M223.7,831.2 Q217.1,831.9 211.6,828.4M219.4,817 Q220.1,813.3 223.5,815M208.6,832.4 Q208.7,826.1 210.7,820.2M212.2,821.7 Q210.5,820.2 210.3,818M213.5,826.5 Q212.6,820.3 212.5,814.1M222.1,835.8 Q220.7,830.1 222,824.3M207.9,840.5 Q211.3,837.4 215,840.2M221.5,824.1 Q218,825.5 217.3,821.8M206.3,825.6 Q203.4,822.7 201.4,819.2M203.1,824 Q209.2,821.3 215.7,822.5M204.6,854.5 Q202.6,851.5 200.5,848.6M203.4,826.2 Q202.1,821.3 205.8,817.8M213.1,842.9 Q216.2,840.4 220.1,840.1M224.5,839.3 Q218.4,841.6 213.1,837.8M213.4,843.7 Q214.5,840.7 217.7,840.7M220.4,822.2 Q217.7,823.2 215.2,821.6M197,851.1 Q195.7,845.9 198.7,841.6M222.9,832.4 Q217.3,835 211.8,832.3M210.2,836.2 Q209.1,833 212.4,832.2M211.4,833.1 Q208.3,828.2 210.7,823M217.8,839.2 Q215,839.4 212.6,837.9M219,826.9 Q219.3,824.9 219.9,822.9M200.5,843.9 Q202.6,839.1 206.3,835.6M205.8,846.1 Q209.7,844.7 213.8,845.3M205,853.6 Q201.1,851.1 197.8,847.9M198.6,851.7 Q196.3,845.6 198.9,839.7M202.2,850.9 Q202.1,848.8 202,846.7" stroke="#c884d8" stroke-width="2.6"/><path d="M212.2,830.3 Q207.5,828.9 203,827.2M219,825.7 Q215.4,824.3 216.8,820.6M220.2,836.9 Q222.5,831.8 225.4,827M212.4,834.7 Q215.7,830.9 220.2,833M221.1,838.8 Q217.2,836.1 216.6,831.4M197.4,836.2 Q203,834.7 208.8,834.2M204.9,823.8 Q200.7,818.6 202,811.9M204.2,829.6 Q200.3,825.8 198,820.8M219.3,841.7 Q218.1,838.3 217.2,834.9M207.2,834.7 Q205.5,831.7 207.2,828.9M206.7,849.6 Q210.2,844.6 216.1,843M207.5,845.2 Q201.2,844.8 199,838.8M212.1,833.9 Q208.7,831.7 211.5,828.8" stroke="#a069ac" stroke-width="2.1"/><path d="M209.4,828.9 L204.8,827.3M203.7,845.9 L201.8,844.9M212.6,844.7 L211.1,842.1M207.2,821.9 L205.1,820M219.6,819.4 L217.1,818.4M213.9,833.7 L217.7,832.8M205,833.4 L206.6,827.6M220.1,817.8 L220.7,814.8M209.3,836.6 L208.9,830.4M224.7,821.2 L228.5,820.6M203.7,820.2 L202.2,814.3M219.9,815.9 L222,814.9M211.2,820.1 L210.3,818.3M209.2,839.8 L212.7,839.6M204.6,823.4 L202.1,820.2M206.7,832.6 L206.7,829.7M221.2,838.3 L215.5,837.6M218.6,821.4 L216,821.2M210.3,834.6 L211.4,832.6M216,838.3 L213.4,837.6M211.4,832 L211.2,829.5M198.2,848.1 L198.4,842.1" stroke="#d7a6e2" stroke-width="0.9" opacity="0.7"/></g><defs><path id="bl14" d="M88.1,787.2 Q86.8,779.3 90.7,772.9 Q94.5,766.4 102.4,762.5 Q110.2,758.6 118,759.9 Q125.9,761.2 133.6,762.5 Q141.4,763.8 148,769 Q154.5,774.2 157.1,782 Q159.7,789.8 157.1,797.6 Q154.5,805.4 150.5,810.6 Q146.6,815.8 141.4,821 Q136.2,826.2 128.4,822.3 Q120.6,818.4 115.4,815.8 Q110.2,813.3 105,809.3 Q99.8,805.4 94.6,800.2 Q89.4,795 88.1,787.2ZM86.1,780.6a3.5,3.5 0 1 1 7.1,0a3.5,3.5 0 1 1 -7.1,0M88.8,776.3a2.6,2.6 0 1 1 5.1,0a2.6,2.6 0 1 1 -5.1,0M89.7,773.6a3.5,3.5 0 1 1 7,0a3.5,3.5 0 1 1 -7,0M92.6,770a2.5,2.5 0 1 1 5,0a2.5,2.5 0 1 1 -5,0M94,767a3.8,3.8 0 1 1 7.5,0a3.8,3.8 0 1 1 -7.5,0M98.1,765.5a3.5,3.5 0 1 1 6.9,0a3.5,3.5 0 1 1 -6.9,0M100.4,763.2a2.7,2.7 0 1 1 5.5,0a2.7,2.7 0 1 1 -5.5,0M108.9,760.4a2.9,2.9 0 1 1 5.8,0a2.9,2.9 0 1 1 -5.8,0M109.9,760.8a3.9,3.9 0 1 1 7.8,0a3.9,3.9 0 1 1 -7.8,0M113,761.1a3.4,3.4 0 1 1 6.8,0a3.4,3.4 0 1 1 -6.8,0M117.9,762.6a3.1,3.1 0 1 1 6.3,0a3.1,3.1 0 1 1 -6.3,0M119.1,762.5a3.8,3.8 0 1 1 7.5,0a3.8,3.8 0 1 1 -7.5,0M126.2,762.3a2.2,2.2 0 1 1 4.4,0a2.2,2.2 0 1 1 -4.4,0M130,763a2.3,2.3 0 1 1 4.5,0a2.3,2.3 0 1 1 -4.5,0M131.1,765a3.5,3.5 0 1 1 7,0a3.5,3.5 0 1 1 -7,0M135.6,764.5a3,3 0 1 1 5.9,0a3,3 0 1 1 -5.9,0M140.1,767.3a2.5,2.5 0 1 1 5,0a2.5,2.5 0 1 1 -5,0M141.9,767.9a2.3,2.3 0 1 1 4.6,0a2.3,2.3 0 1 1 -4.6,0M143.5,770.5a3.6,3.6 0 1 1 7.1,0a3.6,3.6 0 1 1 -7.1,0M148.1,773.2a3.3,3.3 0 1 1 6.5,0a3.3,3.3 0 1 1 -6.5,0M151.2,776a2.4,2.4 0 1 1 4.8,0a2.4,2.4 0 1 1 -4.8,0M150.5,779.4a2.9,2.9 0 1 1 5.7,0a2.9,2.9 0 1 1 -5.7,0M152.3,787a3.3,3.3 0 1 1 6.6,0a3.3,3.3 0 1 1 -6.6,0M153.6,786.8a2.6,2.6 0 1 1 5.1,0a2.6,2.6 0 1 1 -5.1,0M155.9,790.2a2.5,2.5 0 1 1 5,0a2.5,2.5 0 1 1 -5,0M153.2,794a3.3,3.3 0 1 1 6.7,0a3.3,3.3 0 1 1 -6.7,0M151.5,800.2a2.8,2.8 0 1 1 5.6,0a2.8,2.8 0 1 1 -5.6,0M148.6,804.7a3.7,3.7 0 1 1 7.3,0a3.7,3.7 0 1 1 -7.3,0M149.8,805.8a2.8,2.8 0 1 1 5.7,0a2.8,2.8 0 1 1 -5.7,0M146.5,810.6a2.7,2.7 0 1 1 5.4,0a2.7,2.7 0 1 1 -5.4,0M142.3,811a4.1,4.1 0 1 1 8.1,0a4.1,4.1 0 1 1 -8.1,0M142.1,815.7a2.2,2.2 0 1 1 4.5,0a2.2,2.2 0 1 1 -4.5,0M139.9,817.4a2.6,2.6 0 1 1 5.1,0a2.6,2.6 0 1 1 -5.1,0M135,819.4a3.7,3.7 0 1 1 7.5,0a3.7,3.7 0 1 1 -7.5,0M134.3,822.5a2.3,2.3 0 1 1 4.6,0a2.3,2.3 0 1 1 -4.6,0M130.9,822.7a2.3,2.3 0 1 1 4.6,0a2.3,2.3 0 1 1 -4.6,0M125.6,821.5a3.4,3.4 0 1 1 6.9,0a3.4,3.4 0 1 1 -6.9,0M121.6,818.6a3.2,3.2 0 1 1 6.5,0a3.2,3.2 0 1 1 -6.5,0M121.2,818.5a3,3 0 1 1 6.1,0a3,3 0 1 1 -6.1,0M117.9,816a3.5,3.5 0 1 1 7,0a3.5,3.5 0 1 1 -7,0M113.4,814.9a3.9,3.9 0 1 1 7.8,0a3.9,3.9 0 1 1 -7.8,0M109,810.3a3.8,3.8 0 1 1 7.6,0a3.8,3.8 0 1 1 -7.6,0M105.3,809.5a2.7,2.7 0 1 1 5.3,0a2.7,2.7 0 1 1 -5.3,0M103.6,808.7a2,2 0 1 1 4,0a2,2 0 1 1 -4,0M99.8,806.3a3.2,3.2 0 1 1 6.3,0a3.2,3.2 0 1 1 -6.3,0M98.1,802.6a3.5,3.5 0 1 1 7,0a3.5,3.5 0 1 1 -7,0M94.7,800.5a2.5,2.5 0 1 1 5,0a2.5,2.5 0 1 1 -5,0M90.8,797.2a3.9,3.9 0 1 1 7.8,0a3.9,3.9 0 1 1 -7.8,0M88.9,795.5a4.1,4.1 0 1 1 8.1,0a4.1,4.1 0 1 1 -8.1,0M88,792.1a3.8,3.8 0 1 1 7.5,0a3.8,3.8 0 1 1 -7.5,0M87.1,789.9a3.8,3.8 0 1 1 7.7,0a3.8,3.8 0 1 1 -7.7,0M87.3,787.7a3,3 0 1 1 5.9,0a3,3 0 1 1 -5.9,0M87,782.1a3.5,3.5 0 1 1 7,0a3.5,3.5 0 1 1 -7,0"/><clipPath id="cbl14"><use href="#bl14"/></clipPath></defs><use href="#bl14" fill="#9054e6"/><g clip-path="url(#cbl14)" fill="none" stroke-linecap="round"><path d="M88.1,787.2 Q86.8,779.3 90.7,772.9 Q94.5,766.4 102.4,762.5 Q110.2,758.6 118,759.9 Q125.9,761.2 133.6,762.5 Q141.4,763.8 148,769 Q154.5,774.2 157.1,782 Q159.7,789.8 157.1,797.6 Q154.5,805.4 150.5,810.6 Q146.6,815.8 141.4,821 Q136.2,826.2 128.4,822.3 Q120.6,818.4 115.4,815.8 Q110.2,813.3 105,809.3 Q99.8,805.4 94.6,800.2 Q89.4,795 88.1,787.2Z" fill="#482a73"/><path d="M107,778.8 Q102.3,775.1 98.9,770.3M133.5,809.9 Q134.7,804.3 138.5,800.1M135.4,808.2 Q131,808.2 129.3,804.2M115.3,804.7 Q113.6,799.4 114.4,794M125.4,774.1 Q124,768.9 126,764M130.3,783.9 Q132.7,780.8 135.8,783.2M131.8,822.9 Q128.3,820.7 127.5,816.6M133.5,787.5 Q129.1,783.2 128.3,777.1M97.3,773.6 Q97.5,769.7 101.3,770.5M102.5,787.2 Q100.7,784 104,782.4M117,812.3 Q116.8,808.6 120.5,809.1M145.8,777.8 Q144.8,774.4 147.4,772.1M137.6,816.1 Q132.4,815.1 127.3,813.4M125,775 Q126.8,772.6 129.7,773.5M126,785.7 Q120.4,788 116.2,783.7M112.4,783.4 Q108.8,777.5 110.6,770.8M158.9,790.8 Q152.8,788.7 148.2,784M143.4,825.4 Q137,824.2 132.4,819.7M140,781.3 Q137.1,779.4 135.2,776.6M106.8,803.2 Q103.9,802.1 102.1,799.7M148.5,793.3 Q146.9,787 148.6,780.8M100.6,763.4 Q103.5,759.6 108.2,760.5M108.2,768.9 Q106,765.6 110,765.1M112.6,790 Q109,788.4 108.3,784.5M156.4,788.3 Q154.3,785.1 153.8,781.2M138,782.6 Q135.4,777.9 138.2,773.4M134.5,792.1 Q140.2,787.9 146.9,790.2M141.3,794.6 Q137.3,790 136.3,784M104.2,796.4 Q105.4,789.9 111.6,787.6M133,774.8 Q134.8,772.9 137.3,773.9M132,818.5 Q129.6,818.2 128.3,816.2M115.2,796.5 Q110.3,793.3 105.8,789.4M122.9,800.8 Q118,800.9 113.2,800.4M106.6,765.8 Q108.3,759.7 114.1,757.1M104.6,776.2 Q109.9,772.1 115.9,774.8M136,817.3 Q134.4,811.7 136.4,806.2M119.1,781.5 Q124.8,778.5 131.1,778.5M143.6,803 Q141.8,799.7 140.9,796M112.1,769.3 Q115,765.7 119.4,764.3M144.1,780.9 Q148,776.9 153.7,776.9M129.7,767.3 Q132.8,765 136.7,764.8M131.1,775.1 Q133.6,773.6 136.5,772.7M119.9,791.8 Q121.5,788.8 124.6,787.2M112.3,797.6 Q107,798.4 104,794M136.1,823.5 Q132.1,822.4 131.7,818.3M96.6,780.9 Q97.6,776.6 99.7,772.8M98.6,793 Q100.3,789.6 103.9,790.6M127,782.9 Q125.2,777.5 124,771.9M115,766.1 Q113.2,760 117.4,755.1M151.9,777.8 Q153.3,773.6 157.7,773.5M123.1,814.9 Q119.6,809.4 119.2,802.8M143.1,773 Q143.9,769.8 146.9,768.6M92,791.8 Q89.4,791.6 87.4,789.9M134.2,800.6 Q139,797.3 144.3,794.8M92.9,778.4 Q93.6,773.3 98.2,770.9M105.8,796.1 Q100.8,791.7 99.2,785.3M140.7,775.9 Q140,772.4 140.2,768.8M108.4,793.2 Q113.4,790.3 119.1,790.4M110.1,778.7 Q105.1,776.3 106.2,770.8M93.7,775.8 Q92,771.6 90.8,767.2M103.9,768.1 Q100.5,764.5 101.6,759.6M147.1,811.2 Q144.8,811 142.6,810.6M121.1,761.9 Q117.5,764.1 117,760M123.6,777.7 Q120.6,776.6 117.8,774.8M125.1,811.2 Q121.3,809.6 124,806.5M144.1,779.9 Q144.3,776.4 147.8,775.8M139.7,804.7 Q137.2,799.4 137.6,793.5M122.5,764.5 Q128.7,762.5 135.2,762.2M105.7,774.1 Q101.2,775.2 100.2,770.6M107.1,771.9 Q102,771.4 96.9,770.1M103.5,792.7 Q106.3,789.3 110.4,787.8M114.3,794.4 Q116.1,792.5 118.2,791M110.8,779.9 Q108.1,776.8 109.7,773M97.3,806.4 Q102.4,804.7 107.7,803.5M127.9,815.4 Q121.7,814.4 115.7,812.7M121.4,805 Q119,798.6 120.7,792M103.6,807.6 Q102.6,801.4 107.1,796.9M128.2,776.3 Q126.7,771.8 128.8,767.4M114.2,803.7 Q113.7,798 115.6,792.6M149.7,797.2 Q148.6,793.2 151.3,789.9M138.2,782.1 Q133.4,782.8 132,778.2M140.6,791.4 Q144.3,789.1 148.4,787.8M136.6,819.8 Q136.9,816.1 140.1,814.2M102.5,776.5 Q95.7,777.7 90.1,773.9M123.8,797.9 Q120.8,795.9 121.6,792.3M139.1,776.3 Q132.8,777.4 129.2,772.1M137.5,817 Q138.4,812.8 142.4,811.3M94.9,785.3 Q93.2,778.6 97.6,773.2M130.5,778.7 Q126.3,773.8 129,767.9M99.6,796.5 Q103,792.5 107.8,790.6M116.9,768.6 Q114.6,765.5 113.3,761.9M118.8,817.9 Q120,814.8 122,812.1M121.1,791.2 Q118.8,788.2 121.3,785.4M95,782.6 Q92,777.5 89.3,772.3M90.2,797.6 Q87.5,794.9 89.6,791.7M104.9,795 Q101.3,797.2 100.4,793.1M102.7,776.2 Q98.9,774.5 97.6,770.5M101.9,785.7 Q105.9,781.7 110.9,779.1M126,770.3 Q127.3,765.6 129.7,761.4M145,800.3 Q148.1,799.4 151.4,799.6M100.1,785.5 Q105.3,781.2 111.9,780.3M123.4,797.7 Q124.4,790.9 130.6,787.9M123.5,792 Q126.5,786.7 132.5,787.5M148.6,782.5 Q145,785.8 141.6,782.3M110,785.7 Q106.8,782.8 106.5,778.5M105.5,789.6 Q100.3,791.7 96,788M104.7,789.6 Q110.2,786.6 116.1,788.4M118,801.7 Q120.8,799.1 124.7,799.2M142.6,810.5 Q142.6,807.3 143,804.2M119.6,822.2 Q123.9,818.7 129.4,817.9M110.3,797.5 Q107.6,795.5 108,792.2M95.6,772.9 Q98.2,769.2 102.3,771.1M131,811.1 Q126.9,810 122.8,808.6M106.8,770.3 Q101.6,767 96.4,763.7M128.3,763.9 Q122.1,765.5 116,763.5M148.1,806.5 Q149.3,801.1 150.6,795.8M134.9,798.9 Q135.7,796.7 137.8,795.6M133.3,813.7 Q133.6,807.4 138.8,803.9M137.7,785.5 Q139.1,783.3 141.6,784M133.8,819.3 Q135.7,816.1 139.4,815.3M135.4,787.6 Q134.6,781.4 139.6,777.6M144.1,797.5 Q142.8,791.9 146.6,787.6M135,767.2 Q132.6,765.7 131.9,762.9M101.5,790 Q97.6,790.2 94,788.7M106.2,815.2 Q108.3,810.2 113,807.5M116.8,766.4 Q118,761.5 121.5,757.8M95.5,777.5 Q96.2,774.4 99.4,774.7M144.8,814 Q142.1,809.6 140.8,804.6M143.5,812.7 Q145.7,809.5 148.5,812.2M131.2,798 Q127.7,796.6 125,794.1M147.7,815.8 Q143.7,815.1 140.1,813.3M114,792.3 Q110.5,790.6 109.5,786.8M99.2,772.1 Q103.7,768.7 108.7,766M136.7,788.9 Q133.7,791.9 132.1,788M91.3,797.9 Q92.5,792.1 97.7,789.3M97.2,786.2 Q91.4,787 87.4,782.6M114.5,769 Q110.6,771.7 106.9,768.7M132.9,806.1 Q131.7,803.4 132.3,800.6M103.8,804.2 Q98.5,804.6 93.3,803.2M102.8,793.1 Q97.1,791.3 94.3,786M125,793.3 Q124.8,787.1 129.6,783M156,787.9 Q154.3,783.9 155.9,779.8M139,803.3 Q133.9,803.1 132.4,798.2M122.4,792.7 Q119,790.5 117.7,786.7M147.8,793.1 Q143.2,788.6 143.5,782.1M107.2,804.1 Q104.5,801.6 102.4,798.6M126.5,804.5 Q123.4,802.5 121.5,799.3M131.7,823.5 Q135.3,818.6 141.5,818.7M104.2,765 Q102.5,761.6 106.2,760.7M105.1,779.3 Q99.7,778.1 94.7,775.6M101.3,783.7 Q97.9,785.8 97,782M121.3,778.2 Q116.7,775.5 112.2,772.6M94.3,780.1 Q93.6,777.1 94,774M148.6,781.5 Q150.3,775.9 156,774.6M156.4,800.1 Q152.4,798.9 150.8,794.9M96.6,780.3 Q91.3,779.4 86.6,776.9M114.8,765.8 Q112.5,761.1 114.1,756.1M128,798.8 Q132.1,794.3 138,792.6M114.8,785.7 Q109.6,786.4 106.3,782.4M96.2,778.9 Q92.2,779.1 88.5,777.6M132.8,768.1 Q133.9,763.1 139,762.9M91.7,791.2 Q97,787.9 102.8,790.4M143,792.7 Q139.7,795.2 137.9,791.4M131.4,793.1 Q129.3,789.1 131.2,785M140.5,823.1 Q138.3,816.7 142.3,811.3M133.8,813.5 Q131.9,811.3 133,808.5M123.5,777.2 Q118.3,777.4 117.3,772.4M149.9,784.2 Q145.9,779.2 146.4,772.8M136.7,809.2 Q137.7,802.7 139.9,796.6M129.7,775 Q125,772.6 123.4,767.5M118.2,769.2 Q115.6,764.9 117.4,760.3M131,782.1 Q131.2,777 133.5,772.5M127.1,777.8 Q131,774 135.9,776.4M128.4,775.4 Q125.9,776.2 123.4,775.2M95.7,781.4 Q95.1,777 97.5,773.3M138.8,814.5 Q131.8,814 127.6,808.5M128.5,819.1 Q132.6,815.4 138,815.7M149.2,789.2 Q145.7,791 142.6,788.7M139.3,816.6 Q134.4,817.4 129.5,816.2M108.9,812.8 Q105.7,809.4 107,804.9M118.2,785.2 Q119.9,779.5 123.5,774.9M111.5,797.8 Q116,796.3 120.9,796.2M118.9,780.7 Q116,776.9 115.9,772.2M111.8,774 Q108.2,771.7 105.1,768.7M102.3,795.8 Q105.7,792.2 110.4,791M136.5,820.7 Q134.7,816.6 136.8,812.6M134.8,771.8 Q128.3,772.1 124.9,766.6" stroke="#9054e6" stroke-width="4.6"/><path d="M151.1,794.9 Q149.2,790.9 148.1,786.7M124.6,816.9 Q121.2,815.9 121.5,812.3M108.5,813.9 Q112.5,813.9 116.4,813.9M141.3,786.7 Q138.6,783.8 141.8,781.5M93.1,785.8 Q90.1,785.3 89.5,782.3M144.1,808.2 Q139.1,804.3 137.3,798.2M107.8,775.8 Q111.6,773.7 115.7,774.8M142.2,786.7 Q139,785.9 140.5,782.9M107.3,799.9 Q109.6,794.8 115.1,794.4M111.7,791.5 Q106.5,792.1 101.7,790.3M123.9,803.3 Q129.5,799.5 136.3,799.4M137.1,778.3 Q135.3,776 136.8,773.5M130.3,792.3 Q126.4,791.5 123,789.7M113.7,806.7 Q111.3,802.8 115.2,800.5M140,789.8 Q137.5,789.6 135.5,788M131.5,790.3 Q135.7,786.9 139.9,790.2M132.8,821.6 Q131,816.4 129.2,811.1M129.9,775.3 Q126.5,777.1 125.6,773.3M100.1,766.1 Q104.2,764.7 108.6,764.6M104.1,807.4 Q101.5,803.8 102.7,799.5M93.7,772.5 Q92.3,769 94.4,765.9M119.7,808.2 Q121.4,804.3 124.5,801.5M139.8,804.4 Q142.1,801.9 144.6,799.7M109.9,799.2 Q105.5,796.5 101.4,793.3M151.3,814 Q150.6,809 151.4,804M146.4,812 Q143,809.8 140.5,806.7M140,782.6 Q141,779.2 144.3,780.4M132.7,810 Q134.1,806.3 137.2,803.8M109.3,779.8 Q107.8,774.2 109.5,768.7M99.1,804.6 Q102,803.2 104.9,804.5M144.5,800.6 Q142.2,794.7 141.6,788.4M128.9,778.7 Q124,779 123.3,774.2M110.6,803.3 Q105.8,804.1 102.5,800.3M142.6,774.3 Q138.6,773.1 135.5,770.2M106.3,800.7 Q103.3,798.6 101.1,795.6M116.4,798 Q119.1,793.6 123.7,791.4M103.5,800 Q100.4,799.3 97.4,798.6M110.1,781.7 Q115.3,777.2 122.2,777.4M123.6,791.7 Q120.9,787.7 124.5,784.6M96.3,782.5 Q96.9,777.3 100,772.9M130.6,808.7 Q126.3,805.4 128.6,800.5M118.3,784.8 Q114.7,784.9 113.5,781.6M120.5,775 Q120.9,772.4 123.5,771.8M113.5,768.4 Q114.6,763.2 119.5,761.3M119.8,782.6 Q119.7,779 123.3,778.6M113.8,791.6 Q109.9,792.1 107.8,788.9M128.4,782.3 Q124.9,780.8 126.4,777.4" stroke="#7343b8" stroke-width="3.7"/><path d="M149.8,792.2 L148.4,788.2M133.4,806.6 L130.3,804.6M125,771 L125.4,765.9M131.7,784.3 L129.1,779.1M102.4,785.4 L103.1,783M140.9,784.8 L141.2,782.2M123,784.6 L118.2,783.6M155.7,788.5 L150.4,785.1M105.2,801.7 L102.8,799.9M102,762.1 L105.8,760.6M109.3,774.9 L113.3,774.4M137.1,791 L143.3,790.1M105.5,793.6 L109.3,789.2M112.4,794.1 L107.6,790.6M108,763 L111.7,758.7M108.7,790.6 L103.7,790M113.4,767.5 L117,765M130.9,766.1 L134.4,764.8M109.8,796.1 L105.6,794.3M96.8,778.2 L98.4,774.2M128,791 L124.3,789.7M121.6,811.3 L119.6,805.2M90.3,790.7 L88.1,789.8M103.6,792.8 L100.3,787.4M110.6,791.9 L115.9,790.5M133.1,789.7 L137.3,789.6M119.5,760.8 L117.5,759.8M124.3,809.5 L123.8,807.1M125.1,763.3 L131.5,762.2M104.1,770.9 L99,770M101.7,765.1 L106,764.4M124.3,814.1 L118.3,812.8M104,804.3 L105.7,799M149.6,794.8 L150.4,791.2M142,789.9 L146,788.1M120.4,805.9 L122.8,802.6M138.3,815 L140.7,812.1M129.6,775.4 L128.8,770M119.1,815.8 L120.7,812.9M93,779.4 L90.2,774.2M150.8,810.9 L150.9,805.9M126.4,767.5 L128.3,763M102.6,783.6 L108.4,781M146.3,781.8 L142.8,781.7M102.7,788.6 L97.9,787.8M133.3,807.8 L135.6,804.7M109.2,795.5 L108.1,792.9M128.5,809.9 L124.4,808.7M148.2,803.2 L149.5,797.9M134.1,810.6 L136.9,805.7M143.2,796.9 L141.8,790.8M133.7,765.5 L132.2,763.4M107.4,812.7 L110.8,808.8M143.3,811 L141.3,806.3M129.1,796.4 L126.1,794.5M140.3,772.7 L136.8,770.6M92.4,795.2 L95.6,790.8M112.1,768.3 L108.3,768.2M100.2,790.7 L96,787.2M155.5,785.2 L155.4,781.2M101.5,799 L98.4,798.4M124.8,802.6 L122.3,800M104.2,763.3 L105.2,761.2M118.5,776.2 L114,773.4M150,779.2 L153.6,775.7M96.7,779.5 L98.5,774.7M112.2,784.3 L107.9,782.6M133.8,766.2 L137,763.6M130.9,790.5 L130.8,786.4M133.1,811.7 L132.7,809.2M120.8,773.6 L122.2,772M117.5,766.4 L117.1,761.9M128.8,776.8 L133.2,776.1M135.5,812.4 L129.9,809.4M147,788.5 L143.8,788.2M111.8,790.3 L108.8,789M117.6,778 L116.1,773.7M103.8,794 L107.9,791.6" stroke="#af83ed" stroke-width="1.7" opacity="0.7"/></g></g><path d="M95.9,946.1 Q94.2,947.1 94.3,948.9 Q93.4,950.6 92.7,951.7 Q94.3,952.8 93.1,954.9 Q93.6,956.7 94.4,957.8 Q96,958.9 97.6,958.1 Q98.6,956.4 100.3,956.4 Q101.6,955 99.9,953.2 Q101.7,952.4 101.4,950.3 Q101.3,948.4 103.6,948" fill="none" stroke="#4a78b8" stroke-width="0.9" stroke-linecap="round" stroke-linejoin="round"/><path d="M68.9,947.3 Q68.9,949.3 68.1,950.4 Q68.2,952.4 69.9,953.1 Q71.2,954.5 73.1,953.3 Q75,953.4 76.3,953.2 Q78,952.4 79.2,951.9 Q78.4,950.1 80.4,948.9 Q81.8,947.6 83.4,948 Q85.3,947.7 86.4,949.2 Q85.2,950.7 86.5,952.4" fill="none" stroke="#4a78b8" stroke-width="0.9" stroke-linecap="round" stroke-linejoin="round"/><path d="M106.4,964.6 Q104.7,963.8 104.9,961.8 Q104.9,959.9 103.2,959.1 Q102.2,957.4 100.1,958.2 Q99.2,956.5 99,955.2 Q97.7,953.8 97,952.7 Q96.9,950.7 94.4,950.8 Q92.7,951.7 91.4,949.7 Q89.6,950.2 88.9,951.7 Q87.2,950.7 86.1,950" fill="none" stroke="#4a78b8" stroke-width="0.9" stroke-linecap="round" stroke-linejoin="round"/><path d="M83.3,950.8 Q82.3,949.1 81.2,948.3 Q80.6,946.5 79.5,945.6 Q77.7,946.2 76.4,944.8 Q74.9,943.7 73.3,945.3 Q71.4,945.9 70.5,946.8 Q70.7,948.7 68.7,949.5 Q68.5,951.4 70.1,952.3 Q70.2,954.2 69.5,955.5 Q67.9,956.6 67.5,958" fill="none" stroke="#4a78b8" stroke-width="0.9" stroke-linecap="round" stroke-linejoin="round"/><path d="M117.7,946.9 Q116.3,948.2 117.2,950.1 Q119.1,950.4 119.1,952.6 Q118.1,954.2 118.8,955.8 Q117.7,957.3 118.7,959 Q120.6,959.2 121.4,960.6 Q119.9,961.8 118.2,960.9 Q118,962.8 116.9,963.8 Q115.4,962.6 113.8,964.4 Q112,963.7 110.9,963.1" fill="none" stroke="#4a78b8" stroke-width="0.9" stroke-linecap="round" stroke-linejoin="round"/><path d="M86.3,962.4 Q88.2,962.5 89,960.8 Q90.3,962.2 92.2,961.4 Q94,962 95.1,962.7 Q95.7,964.6 97.6,964.7 Q99.5,965.1 100.8,965.2 Q102.7,965.4 103.7,964 Q104.4,962.2 103.7,960.8 Q104.3,959 106.6,959.4 Q108.5,959.4 109.7,958.7" fill="none" stroke="#4a78b8" stroke-width="0.9" stroke-linecap="round" stroke-linejoin="round"/><path d="M114.9,953 Q113.8,954.6 115.5,956.1 Q115.2,958 113.2,958.3 Q114.7,959.5 113.8,961.5 Q115.7,961.7 116.9,962.2 Q118.9,962.2 119.5,960.3 Q120.6,958.7 122.6,959.4 Q120.8,960.2 119.6,960.7 Q119.9,962.6 118.2,963.6 Q119.2,965.2 119.2,966.6" fill="none" stroke="#4a78b8" stroke-width="0.9" stroke-linecap="round" stroke-linejoin="round"/><path d="M102.5,950.8 Q102.7,952.7 104.7,953.1 Q103.9,954.8 105,956.2 Q106.9,956.6 108.1,957.1 Q109.9,956.5 110.3,954.8 Q111,953 110.3,951.6 Q109.7,949.8 108.4,949 Q106.6,949.6 105.6,947.5 Q103.7,947.7 102.5,946.8 Q101.2,945.4 101.3,943.8" fill="none" stroke="#4a78b8" stroke-width="0.9" stroke-linecap="round" stroke-linejoin="round"/><path d="M84.3,950.7 Q85.1,949 85.1,947.6 Q86.3,946.1 86,944.5 Q87.7,943.7 89.2,944.1 Q91,944.8 92.2,945.2 Q94,944.6 95,946.7 Q94.1,948.3 96,949.7 Q97.6,950.8 98,952.2 Q98.2,954.1 96.3,955 Q98.1,955.6 97.8,957.8" fill="none" stroke="#4a78b8" stroke-width="0.9" stroke-linecap="round" stroke-linejoin="round"/><path d="M111.7,964.4 Q110.4,965.9 108.5,964.5 Q106.6,964.1 105.4,963.5 Q103.5,963.1 102.4,962.3 Q100.6,963 99.3,961.9 Q98.4,963.6 97.5,964.6 Q96.8,966.4 97.6,967.8 Q95.8,968.6 95.4,970.1 Q95,972 93.4,972.7 Q92.8,974.5 92.3,975.7" fill="none" stroke="#4a78b8" stroke-width="0.9" stroke-linecap="round" stroke-linejoin="round"/><path d="M95.6,977.6 Q97.3,978.5 98.4,979.1 Q99.3,977.4 98.4,975.9 Q99.7,974.5 99.4,972.8 Q101.2,972.4 101.4,970.4 Q103.4,970.3 104.4,969.3 Q106.3,968.8 106.2,966.6 Q107.1,964.9 107.1,963.5 Q108.9,964.1 110,962 Q111.9,961.8 112.4,964.1" fill="none" stroke="#4a78b8" stroke-width="0.9" stroke-linecap="round" stroke-linejoin="round"/><path d="M67.5,935.3 Q67.3,937.2 67.4,938.5 Q69.3,938.9 70.1,940.2 Q69.2,941.9 69.9,943.4 Q71.1,944.8 69.9,946.6 Q68,946.8 67.1,948 Q66.9,949.9 65.9,951 Q64.2,952 63.8,953.4 Q62.2,954.5 63.3,956.5 Q64.6,958 64.3,959.6" fill="none" stroke="#4a78b8" stroke-width="0.9" stroke-linecap="round" stroke-linejoin="round"/><path d="M92.6,933 Q90.8,932.5 89.6,932 Q87.8,931.3 86.4,931.5 Q85.3,933.1 83.4,932.7 Q82.5,934.4 80.9,934.6 Q79.3,935.7 80.4,937.8 Q81.2,939.5 83.1,939.6 Q82.3,941.3 82.8,942.8 Q84.5,943.6 85.7,944.2 Q87.4,943.4 88.2,942.3" fill="none" stroke="#4a78b8" stroke-width="0.9" stroke-linecap="round" stroke-linejoin="round"/><path d="M48.3,935.1 Q46.6,934.2 45.8,933.1 Q44,932.5 42.7,933.8 Q44.6,933.4 45.3,935.6 Q47.1,935 48.5,935.1 Q50.2,934.2 51.7,935 Q52.2,936.9 54.1,937.1 Q52.6,938.4 53.5,940.3 Q55,941.6 56.2,942 Q58.1,942.5 59.1,940.6" fill="none" stroke="#4a78b8" stroke-width="0.9" stroke-linecap="round" stroke-linejoin="round"/><path d="M105.7,964.4 Q107.2,965.5 108.9,964.7 Q110.5,965.7 111.9,965.8 Q113.2,967.2 115,966.8 Q116.6,965.9 118.1,966.5 Q119.5,965.1 121,965 Q122.7,966 124.2,964.6 Q124.6,966.5 124.9,967.7 Q125.5,969.5 124.2,970.8 Q126,971.7 125.4,973.8" fill="none" stroke="#4a78b8" stroke-width="0.9" stroke-linecap="round" stroke-linejoin="round"/><path d="M99.9,957.5 Q101.3,958.8 103.1,957.5 Q105,957.5 106.3,957.9 Q107.3,959.5 108.9,959.7 Q110.9,959.5 111.5,961.6 Q112.6,963.2 111.9,964.8 Q113.8,964.9 114.9,965.8 Q116.5,967 117.9,967.1 Q119.8,967 120.8,965.9 Q121.9,964.2 123.8,964.6" fill="none" stroke="#4a78b8" stroke-width="0.9" stroke-linecap="round" stroke-linejoin="round"/><g transform="translate(27.5,949) rotate(23.3)" fill="none" stroke-linecap="round"><path d="M3.2,-3.5 V3.5M5.4,-4.1 V4.1M7.5,-3.5 V3.5M14,-3.5 V3.5M16.1,-4.1 V4.1M18.3,-3.5 V3.5M24.7,-3.5 V3.5M26.9,-4.1 V4.1M29,-3.5 V3.5M35.5,-3.5 V3.5M37.6,-4.1 V4.1M39.8,-3.5 V3.5" stroke="#9b1956" stroke-width="0.6"/><path d="M0,0 Q5.4,9.2 10.8,0 Q16.1,-9.2 21.5,0 Q26.9,9.2 32.3,0 Q37.6,-9.2 43,0" stroke="#c2206c" stroke-width="1.7"/><path d="M0,0 Q5.4,-9.2 10.8,0 Q16.1,9.2 21.5,0 Q26.9,-9.2 32.3,0 Q37.6,9.2 43,0" stroke="#7adcdc" stroke-width="1.7"/></g><path d="M81.9,918.6 Q81.6,916.6 83.4,915.6 Q85.4,915.9 86.8,915.8 Q88.4,917 88.2,918.9 Q86.4,919.9 85.4,920.9 Q83.7,919.8 82,920.3 Q80.9,918.6 80.9,917.1 Q78.9,917.3 77.5,916.9 Q76,918.3 75.2,919.4" fill="none" stroke="#6cc87a" stroke-width="2.0" stroke-linecap="round" stroke-linejoin="round"/><path d="M89.8,903.5 Q91.4,902.3 92.8,901.8 Q93.7,900 96,900.9 Q94.8,902.5 92.7,901.6 Q91.7,899.9 90.8,898.8 Q91.9,897.1 92.5,895.9 Q90.8,894.7 90.7,892.9 Q89.8,891.2 88.4,890.5 Q89.3,888.6 88.4,887.1" fill="none" stroke="#6cc87a" stroke-width="2.0" stroke-linecap="round" stroke-linejoin="round"/><path d="M83.4,896.7 Q82,898.1 81,899.1 Q80.6,901.1 80.5,902.4 Q81.9,903.9 80.4,905.8 Q78.6,906.8 77.7,907.9 Q76,906.7 74.4,907.2 Q74.7,905.2 72.1,904.7 Q70.2,904.1 69.1,903.1 Q67.4,904.2 67,905.7" fill="none" stroke="#6cc87a" stroke-width="2.0" stroke-linecap="round" stroke-linejoin="round"/><path d="M80.7,916.7 Q81.2,914.8 82.9,914.2 Q84.8,914.8 86.2,913.5 Q87.3,911.7 89.5,912.6 Q91.5,912.5 92.3,910.6 Q91,912.2 89.6,912.7 Q87.6,913 86.4,913.8 Q85.1,912.2 83.1,913 Q81.5,911.7 81,910.3" fill="none" stroke="#6cc87a" stroke-width="2.0" stroke-linecap="round" stroke-linejoin="round"/><path d="M88.9,938.5 Q86.9,939 86.9,941.3 Q85.8,939.5 84.4,938.9 Q82.5,938.2 81.1,939.6 Q82.3,937.9 83.9,937.6 Q83.2,935.7 84.4,934.3 Q85.5,932.5 85,930.9 Q84.4,929 83,928.2 Q81.5,926.8 80,926.6" fill="none" stroke="#6cc87a" stroke-width="2.0" stroke-linecap="round" stroke-linejoin="round"/><path d="M72.4,893 Q74.4,893 75.6,891.8 Q76.2,889.9 78.4,889.9 Q79.9,891.3 81.4,891.5 Q83.2,890.5 83.6,888.9 Q85.2,887.6 86.4,887 Q84.4,887.3 83,886.8 Q81.4,885.6 79.9,885.4 Q77.9,885.8 76.5,885.2" fill="none" stroke="#6cc87a" stroke-width="2.0" stroke-linecap="round" stroke-linejoin="round"/><path d="M87.4,920.4 Q85.9,921.8 84.1,921.2 Q82.2,921.7 81.3,919.3 Q80,917.8 79.4,916.5 Q77.5,915.8 76,915.9 Q74.1,916.5 73,914.4 Q70.9,914.8 69.8,913.1 Q68.6,911.5 68.7,909.9 Q66.7,909.4 66.2,907.6" fill="none" stroke="#6cc87a" stroke-width="2.0" stroke-linecap="round" stroke-linejoin="round"/><path d="M91,894.7 Q93.1,895 93.4,897.1 Q94.5,898.8 96.3,898.9 Q94.3,898.8 92.9,898.9 Q93.1,901 91.6,902.1 Q91.7,904.1 89.5,904.7 Q89.6,906.8 90,908.1 Q88.6,909.5 87.8,910.6 Q87.1,912.5 84.6,911.9" fill="none" stroke="#6cc87a" stroke-width="2.0" stroke-linecap="round" stroke-linejoin="round"/><path d="M69.8,900.7 Q71.6,899.8 71.8,898 Q70.5,896.4 69.7,895.3 Q71.3,894 71.1,892.2 Q71.3,890.2 73.1,889.5 Q74.9,888.6 76.4,890.4 Q75.5,892.2 76.4,893.8 Q75.2,895.4 74.5,896.6 Q75.7,898.2 75.6,899.8" fill="none" stroke="#6cc87a" stroke-width="2.0" stroke-linecap="round" stroke-linejoin="round"/><path d="M83.9,921.7 Q82.3,922.9 80.5,921.2 Q79.7,923.1 77.5,922.7 Q75.6,923.5 75.5,925.4 Q74.1,926.9 72.1,926.2 Q73.2,924.4 73,922.9 Q72.3,921 73.4,919.5 Q74.2,917.6 72.6,916.2 Q72.3,914.2 71.1,913.2" fill="none" stroke="#6cc87a" stroke-width="2.0" stroke-linecap="round" stroke-linejoin="round"/><path d="M82.5,910.4 Q80.7,911.4 79.1,910.5 Q77.2,911.2 75.7,910.6 Q74.7,912.4 72.7,912.3 Q70.9,911.3 70,910.2 Q68.9,912 66.7,910.9 Q64.7,911.6 64.8,913.8 Q64.6,911.7 66,910.6 Q67.3,909 68.4,908.1" fill="none" stroke="#6cc87a" stroke-width="2.0" stroke-linecap="round" stroke-linejoin="round"/><path d="M86.7,913.8 Q86,915.7 86.1,917.1 Q84.1,917.4 83.1,918.7 Q81.7,920.2 80.2,920.4 Q79.4,918.5 77.3,918.5 Q75.3,918.8 74.2,919.9 Q72.6,918.7 71,918.8 Q72.3,917.3 71.2,915.4 Q71.6,913.4 69.2,912.7" fill="none" stroke="#6cc87a" stroke-width="2.0" stroke-linecap="round" stroke-linejoin="round"/><path d="M70.8,904.5 Q71.4,902.6 72.4,901.6 Q73.3,899.7 74.9,899.3 Q76.3,897.7 75.6,896 Q77.2,894.7 77.2,893 Q79.1,893.8 80.5,892.1 Q80.9,894.2 82.8,894.7 Q81.6,896.4 80.8,897.5 Q78.9,898.2 77.7,898.8" fill="none" stroke="#6cc87a" stroke-width="2.0" stroke-linecap="round" stroke-linejoin="round"/><path d="M74.8,922.2 Q76.5,923.4 77.1,924.7 Q78.1,922.9 80.5,924 Q80.8,922 81.3,920.7 Q81.6,918.7 84.1,918.8 Q85.3,917.2 87.4,918 Q85.7,919.1 84.4,919.6 Q82.3,919.7 81,919.2 Q79,918.7 77.6,919.8" fill="none" stroke="#6cc87a" stroke-width="2.0" stroke-linecap="round" stroke-linejoin="round"/><path d="M62.5,902.6 Q64.5,902.4 64.5,899.9 Q64.9,897.9 64.4,896.5 Q63.9,894.5 62.5,893.6 Q62.1,891.6 63.9,890.5 Q65.2,889 63.7,887.1 Q63.2,889.1 64.6,890.4 Q65.4,892.3 67.2,892.5 Q68.4,890.9 69.9,890.4" fill="none" stroke="#6cc87a" stroke-width="2.0" stroke-linecap="round" stroke-linejoin="round"/><path d="M64.5,902.4 Q66.3,903.5 67.9,902.5 Q69.4,901.1 70,899.8 Q72,899.6 72.5,897.5 Q74.4,898.4 75.8,898.3 Q77.8,897.8 78.4,896.1 Q79.4,894.3 77.6,892.8 Q75.7,892.1 75.2,890.4 Q73.2,890.8 71.8,890.4" fill="none" stroke="#6cc87a" stroke-width="2.0" stroke-linecap="round" stroke-linejoin="round"/><path d="M88.9,934 Q89,936 88,937.3 Q88.5,935.3 86.7,934.1 Q87.3,932.2 89.6,932.3 Q89,930.4 88.7,929 Q88.5,931 86.6,931.7 Q84.6,931.1 83.7,933.5 Q83,931.6 80.7,931.9 Q78.8,932.5 78.1,934" fill="none" stroke="#6cc87a" stroke-width="2.0" stroke-linecap="round" stroke-linejoin="round"/><path d="M77,937.4 Q76.2,935.5 74.3,935.3 Q72.4,934.4 73.3,932 Q75.1,933 76.6,932.9 Q78.6,932.6 79.4,934.8 Q77.6,935.7 78.4,938.1 Q78.4,936 79.2,934.8 Q79.9,932.8 80.9,931.8 Q82.4,930.4 82.1,928.6" fill="none" stroke="#6cc87a" stroke-width="2.0" stroke-linecap="round" stroke-linejoin="round"/><path d="M65.3,899.5 Q63.3,899.2 63.1,896.9 Q62.9,894.8 64.7,893.8 Q64.4,891.8 65.4,890.5 Q64.1,888.9 63.9,887.4 Q65.4,888.8 66.5,889.6 Q67.1,887.6 69.4,887.8 Q68.9,885.8 70,884.4 Q70,886.5 71.8,887.3" fill="none" stroke="#6cc87a" stroke-width="2.0" stroke-linecap="round" stroke-linejoin="round"/><path d="M83.7,910.3 Q84.3,908.4 85.7,907.6 Q87.7,907.3 88.5,905.7 Q90.6,905.6 91.5,904.1 Q93.2,905.3 94.9,903.7 Q92.9,903.1 92,905.4 Q90,905 89,907 Q88.2,908.9 89.1,910.4 Q89.6,912.4 91.2,913" fill="none" stroke="#6cc87a" stroke-width="2.0" stroke-linecap="round" stroke-linejoin="round"/><g><path d="M89.2,901.2 Q88.8,903.2 86.6,903.5 Q85.1,904.8 84.3,905.9 Q83.3,907.7 81.2,907.5 Q79.2,907.7 77.9,907.9 Q75.8,907.8 75.7,905.3 Q75.6,903.3 77.5,902.5 Q79.5,902.2 80.8,902 Q82.8,902.5 83.2,904.5" fill="none" stroke="#8fe898" stroke-width="1.2" stroke-linecap="round" stroke-linejoin="round"/><path d="M70.5,886.4 Q70.1,884.4 71.5,883.1 Q73.5,882.9 74.6,884.5 Q76.4,885.4 77.5,886.3 Q79.3,887.1 78.9,889.4 Q76.9,889.8 77.2,892.3 Q75.2,892.3 74.1,893.6 Q72,893.8 71.2,891.7 Q69.3,892.2 68.2,890.1" fill="none" stroke="#8fe898" stroke-width="1.2" stroke-linecap="round" stroke-linejoin="round"/><path d="M88.5,914.4 Q87.4,912.6 86.4,911.7 Q84.7,910.5 83,912.2 Q81.6,913.7 82.4,915.6 Q80.5,914.8 79,915.8 Q78.3,913.9 77.7,912.7 Q75.8,912 74.6,911.4 Q74.5,909.3 72.9,908.4 Q72.8,906.4 70.4,906.1" fill="none" stroke="#8fe898" stroke-width="1.2" stroke-linecap="round" stroke-linejoin="round"/><path d="M59.5,903.2 Q61.5,902.6 61,900.1 Q62.9,900.8 64.4,900.1 Q64.9,898.1 65.5,896.9 Q65.8,894.9 68.1,894.7 Q67.2,892.8 69.1,891.4 Q70.9,892.3 72.3,890.4 Q72.8,892.4 74.5,893 Q76.4,893.6 76.1,896" fill="none" stroke="#8fe898" stroke-width="1.2" stroke-linecap="round" stroke-linejoin="round"/><path d="M76.8,928.2 Q75.1,929.3 73.5,927.2 Q74.7,925.5 76.8,926.3 Q78.5,925.1 79.6,924.4 Q81.7,924.1 82.6,926 Q84.6,926.7 86,925.5 Q85.3,923.5 86.8,922.2 Q86.2,920.2 83.8,920.6 Q81.8,921.1 80.5,921.4" fill="none" stroke="#8fe898" stroke-width="1.2" stroke-linecap="round" stroke-linejoin="round"/><path d="M85.8,918.3 Q83.7,918.5 83.2,920.5 Q83.3,922.5 84,923.8 Q86,924.5 86.5,926.1 Q84.6,925.4 83.2,925.5 Q83.8,927.4 81.4,928.4 Q83.3,929.2 82.9,931.4 Q81.7,933.1 80.9,934.2 Q78.9,934.2 77.9,935.7" fill="none" stroke="#8fe898" stroke-width="1.2" stroke-linecap="round" stroke-linejoin="round"/><path d="M73,909.5 Q71.8,907.9 70,908 Q68,907.6 66.8,909.3 Q65.7,911 64,911.1 Q64,913.2 65.9,913.9 Q66.7,915.8 69,915.4 Q68,917.2 70.1,918.6 Q68.2,919.3 68.9,921.8 Q70.7,921 71,919.1" fill="none" stroke="#8fe898" stroke-width="1.2" stroke-linecap="round" stroke-linejoin="round"/><path d="M78.5,912.3 Q76.4,911.9 75.3,910.9 Q74.6,909 73.8,907.9 Q73.3,905.9 74.1,904.5 Q72.7,903.1 71.1,902.9 Q69.6,904.3 68.1,904.5 Q66.3,905.5 64.9,903.6 Q64.9,901.5 64.4,900.2 Q65.1,898.3 64.5,896.8" fill="none" stroke="#8fe898" stroke-width="1.2" stroke-linecap="round" stroke-linejoin="round"/><path d="M86.1,917.4 Q85.7,915.4 86.8,914 Q87,912 84.5,911.5 Q82.6,912.3 81.4,912.8 Q79.9,911.5 78,913 Q76.6,914.5 76.8,916.2 Q78.3,917.5 79.2,918.5 Q78.9,920.5 80.8,921.5 Q82.7,922.1 84.1,921" fill="none" stroke="#8fe898" stroke-width="1.2" stroke-linecap="round" stroke-linejoin="round"/><path d="M63.8,906.1 Q65.8,906.3 66,908.7 Q66.5,906.7 69,907 Q70.7,905.9 72.3,907.9 Q72.2,909.9 73.9,910.8 Q72.1,911.7 72.7,914 Q70.7,914.5 70.4,916.5 Q68.5,917.3 67.8,918.7 Q68.3,920.7 68.9,921.9" fill="none" stroke="#8fe898" stroke-width="1.2" stroke-linecap="round" stroke-linejoin="round"/><path d="M85.9,892.1 Q84.1,891.1 82.5,892.1 Q80.7,893.1 79.5,893.7 Q78.8,895.6 78.8,897 Q76.8,897.7 75.4,897.4 Q73.5,896.6 72.2,896.4 Q70.2,896.8 69.3,898.1 Q68.4,900 68.5,901.5 Q66.5,902.1 65.1,901.3" fill="none" stroke="#8fe898" stroke-width="1.2" stroke-linecap="round" stroke-linejoin="round"/><path d="M84.1,902.1 Q82,902 80.7,901.9 Q78.8,901.2 78.4,899.4 Q76.4,899.5 75.3,897.9 Q73.3,898.4 72.4,899.6 Q70.5,898.7 69.3,898.3 Q67.2,898.5 66,897.4 Q64,896.8 62.9,899 Q60.9,899.4 60,900.7" fill="none" stroke="#8fe898" stroke-width="1.2" stroke-linecap="round" stroke-linejoin="round"/><path d="M68.9,891.7 Q70.5,890.5 71.8,890.1 Q73.8,889.6 74.9,888.6 Q76.4,889.9 78.3,888.9 Q78.9,890.8 80.3,891.6 Q79.8,893.5 79.6,894.9 Q78.1,896.2 79.2,898.3 Q77.5,899.3 76,899.4 Q74.3,898.3 73.4,897.3" fill="none" stroke="#8fe898" stroke-width="1.2" stroke-linecap="round" stroke-linejoin="round"/><path d="M81.2,939.7 Q80,938 78.5,937.6 Q78.5,935.6 79.5,934.4 Q81.4,935 82.9,934.5 Q84.1,936.2 86.1,935.5 Q87.6,934.2 89.5,935.2 Q87.5,935.7 86.2,934.1 Q84.2,934.3 83,933.2 Q81.6,934.7 79.6,933.5" fill="none" stroke="#8fe898" stroke-width="1.2" stroke-linecap="round" stroke-linejoin="round"/><path d="M93.4,896.9 Q91.9,895.4 91.3,894.2 Q89.3,894.7 88.2,895.6 Q86.4,896.6 85,896.9 Q83.9,898.6 83.9,900.1 Q84.3,902.1 86.7,902.1 Q88.2,903.5 89.6,903.9 Q91.4,902.9 92.8,905.1 Q94.5,904 94.7,902.3" fill="none" stroke="#8fe898" stroke-width="1.2" stroke-linecap="round" stroke-linejoin="round"/><path d="M77,898.2 Q76.4,896.3 76,895 Q75.8,892.9 75.1,891.7 Q75.1,889.6 77.6,889.3 Q79.6,888.9 80.8,888.2 Q82.8,887.6 84.1,889.2 Q83.8,891.2 85.3,892.4 Q85.7,894.4 88.1,894.2 Q89.8,893.1 90.8,892.1" fill="none" stroke="#8fe898" stroke-width="1.2" stroke-linecap="round" stroke-linejoin="round"/><path d="M61.4,892.7 Q62.5,894.4 61.9,896 Q62.1,898.1 62,899.4 Q63,901.2 63.2,902.6 Q64.5,904.2 64.7,905.7 Q66.7,905.8 68.1,905.9 Q70.1,905.8 71,904.1 Q71.8,906 73.6,906.3 Q75.5,906.8 76.8,907.2" fill="none" stroke="#8fe898" stroke-width="1.2" stroke-linecap="round" stroke-linejoin="round"/><path d="M86.8,895.2 Q86.5,893.2 84,893.3 Q83.4,891.3 81.6,890.9 Q81.8,888.9 79.9,888 Q77.9,887.7 77.6,885.4 Q75.8,884.6 74.2,885.4 Q72.9,883.8 73.5,882.1 Q73.9,884.1 73,885.4 Q73.3,887.5 74.9,888.3" fill="none" stroke="#8fe898" stroke-width="1.2" stroke-linecap="round" stroke-linejoin="round"/><path d="M62.6,901.7 Q62.1,899.7 59.7,899.8 Q61.7,899.5 62.8,901.2 Q64.6,902.2 63.8,904.4 Q65.7,903.9 67.1,904.2 Q69.1,905 69.5,906.7 Q71.6,906.7 72.1,908.9 Q73.4,910.4 75.5,909.2 Q77.4,910 77.1,912.2" fill="none" stroke="#8fe898" stroke-width="1.2" stroke-linecap="round" stroke-linejoin="round"/><path d="M63.3,903.8 Q64.9,902.5 64.8,900.7 Q66.1,902.2 68.1,901 Q68.2,903.1 70.5,903.5 Q72.5,903.6 73.8,902.6 Q74.8,904.3 75.5,905.5 Q77.1,904.2 78.8,904.4 Q80.4,903.1 81.8,902.8 Q83.6,901.9 85.1,903.2" fill="none" stroke="#8fe898" stroke-width="1.2" stroke-linecap="round" stroke-linejoin="round"/></g><path d="M113.7,926.3 Q112.8,924.6 114.7,923.3 Q116.1,921.9 117.2,921.3 Q118.9,920.4 119,918.6 Q119.5,916.7 117.5,915.7 Q119.2,914.7 118.8,912.8 Q117,913.2 115.9,914 Q114.6,912.6 113.5,911.8" fill="none" stroke="#8fe6c0" stroke-width="1.2" stroke-linecap="round" stroke-linejoin="round"/><path d="M113.7,908.1 Q111.9,908.6 110.6,909 Q111.3,910.8 110.7,912.2 Q112.6,912.3 113.6,913.6 Q115.4,913.1 116.2,911.9 Q114.5,911.1 113.1,912.2 Q111.5,911.1 110.2,910.8 Q109.2,909.2 107.5,909.2" fill="none" stroke="#8fe6c0" stroke-width="1.2" stroke-linecap="round" stroke-linejoin="round"/><path d="M107.2,916.4 Q108.7,917.6 108.5,919.4 Q108.9,921.2 108.7,922.6 Q110.2,923.6 109.5,925.6 Q110.5,927.2 112.5,926.7 Q113.7,928.2 113.7,929.7 Q112.2,930.9 111.5,932 Q110.1,933.2 108.3,932.3" fill="none" stroke="#8fe6c0" stroke-width="1.2" stroke-linecap="round" stroke-linejoin="round"/><path d="M120.9,918.6 Q121.4,920.4 119,921.2 Q117.2,920.6 115.9,921.8 Q115.2,923.6 113.7,924.1 Q111.8,924.4 110.7,923.1 Q111.5,921.4 110.3,919.9 Q109.4,918.2 109.1,917 Q107.6,915.8 107.1,914.4" fill="none" stroke="#8fe6c0" stroke-width="1.2" stroke-linecap="round" stroke-linejoin="round"/><path d="M114.3,925.4 Q114.6,923.5 115.7,922.5 Q117.4,921.6 117.4,919.8 Q118.6,921.3 120.4,920.9 Q119.2,922.4 117.5,922.2 Q117.1,924 114.9,924 Q115.7,925.7 116,927 Q115.3,928.8 113.9,929.4" fill="none" stroke="#8fe6c0" stroke-width="1.2" stroke-linecap="round" stroke-linejoin="round"/><path d="M103.3,907.6 Q101.3,907.8 101,909.9 Q99.8,911.3 98.8,912.2 Q100.3,910.9 101.6,910.7 Q103.2,911.7 104.7,911.6 Q104.8,913.5 105.3,914.7 Q103.5,915.2 103.2,917.1 Q102.8,919 103.3,920.3" fill="none" stroke="#8fe6c0" stroke-width="1.2" stroke-linecap="round" stroke-linejoin="round"/><path d="M110.4,909.8 Q109.9,911.7 112,912.6 Q113.6,913.7 115.1,911.9 Q116.3,913.4 116.7,914.7 Q117.7,916.3 117.3,917.8 Q118.8,916.5 120.5,918.1 Q118.7,917.4 117.5,917 Q116.6,918.7 114.4,917.7" fill="none" stroke="#8fe6c0" stroke-width="1.2" stroke-linecap="round" stroke-linejoin="round"/><path d="M106.2,918.8 Q107.8,919.9 109.3,918.2 Q111.2,918.4 112.2,916.7 Q112.8,914.9 115.1,915.4 Q116,917.1 117.4,917.6 Q118.7,919 119.3,920.2 Q117.8,921.4 116.1,919.8 Q114.4,920.8 114.3,922.5" fill="none" stroke="#8fe6c0" stroke-width="1.2" stroke-linecap="round" stroke-linejoin="round"/><path d="M103.7,915.1 Q102.6,916.8 103.5,918.3 Q105.2,919.3 104.8,921.3 Q105.7,922.9 105.6,924.3 Q105.5,926.3 103.3,926.5 Q102.4,928.2 101.5,929.1 Q103.4,929.1 104.2,927.5 Q106.1,927.8 107.2,926.3" fill="none" stroke="#8fe6c0" stroke-width="1.2" stroke-linecap="round" stroke-linejoin="round"/><path d="M80,893 L100,886 L106,905 L104,920 L86,923 L79,908Z" fill="#1d2a5e"/><path d="M84,899 l14,-4 M85,906 l16,-3 M87,913 l14,-2 M92,890 l2,30" stroke="#e8ecf8" stroke-width="0.9" fill="none" opacity="0.8"/><path d="M96,888 l8,-2 l1,5" stroke="#1d2a5e" stroke-width="2" fill="none"/><path d="M104,892 L109,902" stroke="#801c2a" stroke-width="2.8" stroke-linecap="round"/><path d="M104,892 L109,902" stroke="#b8283c" stroke-width="1.7" stroke-linecap="round"/><path d="M82,925 L94,921" stroke="#801c2a" stroke-width="2.8" stroke-linecap="round"/><path d="M82,925 L94,921" stroke="#b8283c" stroke-width="1.7" stroke-linecap="round"/><path d="M96,916 L104,910" stroke="#801c2a" stroke-width="2.8" stroke-linecap="round"/><path d="M96,916 L104,910" stroke="#b8283c" stroke-width="1.7" stroke-linecap="round"/><path d="M92,932 L100,927" stroke="#801c2a" stroke-width="2.8" stroke-linecap="round"/><path d="M92,932 L100,927" stroke="#b8283c" stroke-width="1.7" stroke-linecap="round"/><path d="M100,938 L108,934" stroke="#801c2a" stroke-width="2.8" stroke-linecap="round"/><path d="M100,938 L108,934" stroke="#b8283c" stroke-width="1.7" stroke-linecap="round"/><path d="M103,921 L110,916" stroke="#801c2a" stroke-width="2.8" stroke-linecap="round"/><path d="M103,921 L110,916" stroke="#b8283c" stroke-width="1.7" stroke-linecap="round"/><path d="M112,925 Q110.8,926.3 109.2,926.2 Q107.5,926.8 107.6,928.7 Q105.9,929.4 105.2,930.4 Q105.8,932.1 105.2,933.4 Q104.1,934.9 102.5,934.7 Q100.7,934.7 99.6,935.7 Q97.9,936.1 96.8,936.6" fill="none" stroke="#c86070" stroke-width="0.8" stroke-linecap="round" stroke-linejoin="round"/><path d="M112.5,941.5 L120.5,938.5" stroke="#8c6ba2" stroke-width="4" stroke-linecap="round"/><path d="M112.5,941.5 L120.5,938.5" stroke="#c89ae8" stroke-width="2.5" stroke-linecap="round"/><path d="M55,921 L90,951" stroke="#2c5b97" stroke-width="6" stroke-linecap="round"/><path d="M55,921 L90,951" stroke="#3f82d8" stroke-width="3.7" stroke-linecap="round"/><path d="M92,947 L108,974" stroke="#2c5b97" stroke-width="6" stroke-linecap="round"/><path d="M92,947 L108,974" stroke="#3f82d8" stroke-width="3.7" stroke-linecap="round"/><path d="M101,958 L118,962" stroke="#2c5b97" stroke-width="4.4" stroke-linecap="round"/><path d="M101,958 L118,962" stroke="#3f82d8" stroke-width="2.7" stroke-linecap="round"/><path d="M96,962 L102,972" stroke="#2c5b97" stroke-width="4" stroke-linecap="round"/><path d="M96,962 L102,972" stroke="#3f82d8" stroke-width="2.5" stroke-linecap="round"/><path d="M110,955 L121,958" stroke="#2c5b97" stroke-width="3" stroke-linecap="round"/><path d="M110,955 L121,958" stroke="#3f82d8" stroke-width="1.9" stroke-linecap="round"/><path d="M64,955 L80,948" stroke="#2c5b97" stroke-width="3" stroke-linecap="round"/><path d="M64,955 L80,948" stroke="#3f82d8" stroke-width="1.9" stroke-linecap="round"/><path d="M61,962 L74,958" stroke="#60369c" stroke-width="4.2" stroke-linecap="round"/><path d="M61,962 L74,958" stroke="#8a4ee0" stroke-width="2.6" stroke-linecap="round"/><path d="M66,970 L80,966" stroke="#60369c" stroke-width="4.2" stroke-linecap="round"/><path d="M66,970 L80,966" stroke="#8a4ee0" stroke-width="2.6" stroke-linecap="round"/><path d="M58,973 L62,974" stroke="#60369c" stroke-width="4.2" stroke-linecap="round"/><path d="M58,973 L62,974" stroke="#8a4ee0" stroke-width="2.6" stroke-linecap="round"/><path d="M76,975 L88,973" stroke="#60369c" stroke-width="4.2" stroke-linecap="round"/><path d="M76,975 L88,973" stroke="#8a4ee0" stroke-width="2.6" stroke-linecap="round"/><path d="M80,960 L88,958" stroke="#60369c" stroke-width="4.2" stroke-linecap="round"/><path d="M80,960 L88,958" stroke="#8a4ee0" stroke-width="2.6" stroke-linecap="round"/><path d="M84,967 L90,966" stroke="#60369c" stroke-width="4.2" stroke-linecap="round"/><path d="M84,967 L90,966" stroke="#8a4ee0" stroke-width="2.6" stroke-linecap="round"/><circle cx="86" cy="959" r="2.2" fill="#7038c8"/><circle cx="59" cy="974" r="2.2" fill="#7038c8"/><path d="M144,908 L193,940 M184,908 L196,937 M207,901.5 L199,925 M249,901.5 L213,926 M197,928 L187,956 M203,930 L228,956" stroke="#4a1a1a" stroke-width="0.8" stroke-dasharray="1.4 1.1" fill="none"/><path d="M212.1,951.1 Q212.8,949.4 212.4,948.1 Q213.2,946.5 213.7,945.4 Q215.5,945.8 216.7,946 Q217.9,947.3 219.7,946 Q221.5,946.2 222.5,947.2 Q221.3,948.7 219.5,947.6 Q218,946.6 216.5,947.1" fill="none" stroke="#8fe898" stroke-width="1.5" stroke-linecap="round" stroke-linejoin="round"/><path d="M203,948.7 Q204.8,948.8 205.9,947.8 Q204.9,946.3 206.5,944.9 Q208.2,944.2 209.5,944.8 Q211.3,944.6 211.6,942.6 Q212.8,941.3 214.5,942.2 Q214.2,944 212.9,944.7 Q214.1,946.1 215,946.8" fill="none" stroke="#8fe898" stroke-width="1.5" stroke-linecap="round" stroke-linejoin="round"/><path d="M198.2,924.3 Q199.5,923.1 201.2,924.5 Q201.2,926.3 202.5,927.2 Q203.9,928.3 203.3,930.1 Q205,929.5 206.2,931 Q205.6,932.7 204.2,933.2 Q203.7,931.4 202.7,930.6 Q201.6,929.2 200.9,928.2" fill="none" stroke="#8fe898" stroke-width="1.5" stroke-linecap="round" stroke-linejoin="round"/><path d="M200.3,932.1 Q198.7,931.2 199.4,929.3 Q198.4,927.7 198.3,926.5 Q197.8,924.7 199.5,923.7 Q200.6,922.2 202.5,923.4 Q204.3,923.2 205.5,923.4 Q207.3,923.7 208.1,921.9 Q209.7,921 211.1,922.1" fill="none" stroke="#8fe898" stroke-width="1.5" stroke-linecap="round" stroke-linejoin="round"/><path d="M204.5,925.8 Q202.7,925.7 202.1,927.5 Q200.6,926.5 199.7,925.7 Q198.5,927.1 197.4,927.6 Q195.6,927.8 194.4,927.1 Q194.2,928.8 192.6,929.5 Q194.2,928.5 195.6,929 Q197,930 198.5,929.5" fill="none" stroke="#8fe898" stroke-width="1.5" stroke-linecap="round" stroke-linejoin="round"/><path d="M203.4,946.7 Q204.3,948.2 205.9,948.3 Q207.1,949.6 208,950.5 Q207.2,952.1 207.4,953.4 Q206.9,951.7 208.7,950.7 Q208.6,948.9 208.1,947.8 Q207.2,946.2 208.1,944.8 Q209.6,945.8 208.8,947.7" fill="none" stroke="#8fe898" stroke-width="1.5" stroke-linecap="round" stroke-linejoin="round"/><path d="M222.7,946.9 Q221.2,948 221.3,949.6 Q219.9,950.8 218.4,950.4 Q218.4,952.2 217.7,953.3 Q215.9,953.5 215.1,954.8 Q214.7,953.1 212.5,953.4 Q212.9,951.6 211.5,950.6 Q210.5,952.1 208.5,951" fill="none" stroke="#8fe898" stroke-width="1.5" stroke-linecap="round" stroke-linejoin="round"/><path d="M199.1,909.9 Q199,911.7 198.9,912.9 Q199.9,914.4 199.1,915.9 Q200.8,915.6 201.9,916.9 Q202.2,915.1 204.2,914.9 Q204.2,913.1 206,912.5 Q207.8,912.5 208.9,912.2 Q210.7,912.2 211.9,911.5" fill="none" stroke="#8fe898" stroke-width="1.5" stroke-linecap="round" stroke-linejoin="round"/><path d="M189.1,921.2 Q189.7,919.5 188.4,918.3 Q190.1,917.7 191.3,917.9 Q193,917.3 193.5,915.9 Q192.3,914.5 193.7,912.9 Q193.6,911.1 191.4,911 Q192.9,911.9 194.3,910.1 Q195.4,911.6 197.2,910.5" fill="none" stroke="#8fe898" stroke-width="1.5" stroke-linecap="round" stroke-linejoin="round"/><path d="M199.3,946.7 Q201.1,946.8 201.9,945.4 Q203.7,945.5 204.7,944.1 Q203.6,945.6 201.7,944.8 Q200.1,945.5 198.8,944.4 Q197,944.5 196.5,946.4 Q197.7,945 199.2,945 Q200.3,946.4 202.1,945.5" fill="none" stroke="#8fe898" stroke-width="1.5" stroke-linecap="round" stroke-linejoin="round"/><path d="M211.1,915.7 Q212.8,915.1 213.1,913.5 Q213.8,911.8 214.8,911 Q214.7,909.2 213.3,908.4 Q211.6,909.1 210.3,908.1 Q210.7,909.9 209.2,910.9 Q209.3,912.7 209.2,913.9 Q210.7,914.9 211.5,915.9" fill="none" stroke="#8fe898" stroke-width="1.5" stroke-linecap="round" stroke-linejoin="round"/><path d="M208.8,907.9 Q209.3,909.7 211.3,909.6 Q212.9,910.4 213.6,911.5 Q213.9,913.2 215.5,913.8 Q214.3,915.2 213.5,916.1 Q212.8,917.7 211.5,918.3 Q210,919.4 209.2,920.3 Q208.9,922 208.5,923.2" fill="none" stroke="#8fe898" stroke-width="1.5" stroke-linecap="round" stroke-linejoin="round"/><path d="M196.2,919.4 Q197.3,918.1 196.5,916.5 Q198.2,917.2 199.5,915.8 Q201.3,915.9 201.9,917.5 Q202.8,919 204.6,918.8 Q206.4,918.7 207.5,918.1 Q207.5,919.9 209.6,920.3 Q211.3,919.8 212.4,921.4" fill="none" stroke="#8fe898" stroke-width="1.5" stroke-linecap="round" stroke-linejoin="round"/><path d="M207.9,918.1 Q209.5,917.3 210.2,916.2 Q212,916.1 213.1,916.9 Q214.8,917.6 215.5,918.7 Q213.7,918.7 212.9,920.1 Q211.1,920.4 210.5,918.3 Q208.9,917.5 209.5,915.5 Q208.1,914.3 207.9,912.9" fill="none" stroke="#8fe898" stroke-width="1.5" stroke-linecap="round" stroke-linejoin="round"/><path d="M206.4,922.2 Q208.2,922.4 208.3,924.5 Q210,923.9 211,923.2 Q212.6,924 213.9,923.7 Q212.4,924.7 211,923.1 Q209.3,923.6 208,923.1 Q206.2,923.3 206.1,925.4 Q205,926.9 203.2,926.3" fill="none" stroke="#8fe898" stroke-width="1.5" stroke-linecap="round" stroke-linejoin="round"/><path d="M200.9,919.3 Q201,921.1 201.5,922.2 Q202.4,923.7 203.5,924.5 Q205.2,923.9 206.3,923.4 Q207.9,922.6 209.2,923 Q209.1,924.8 211.1,925.3 Q209.7,924.3 210,922.5 Q209.4,920.9 210,919.5" fill="none" stroke="#8fe898" stroke-width="1.5" stroke-linecap="round" stroke-linejoin="round"/><path d="M192.6,931.7 Q191.7,933.3 192.4,934.7 Q193.9,935.6 195.3,935.6 Q196.4,934.2 197.8,933.9 Q198.9,935.3 200.8,934.1 Q202.6,934 203.4,932.7 Q205.2,932.5 205.3,930.3 Q205.4,928.5 204.6,927.4" fill="none" stroke="#8fe898" stroke-width="1.5" stroke-linecap="round" stroke-linejoin="round"/><path d="M215.7,952.3 Q215.8,950.5 216.4,949.4 Q217.8,948.2 218.1,946.9 Q219.8,946.4 220.5,945.1 Q219.3,943.7 218.1,943.3 Q217.6,945 216.8,946 Q215.2,946.9 213.9,946.8 Q213.4,945.1 211.5,945" fill="none" stroke="#8fe898" stroke-width="1.5" stroke-linecap="round" stroke-linejoin="round"/><path d="M180,946 Q181.6,947.3 183.3,947.2 Q185.4,947.2 186.6,948.4 Q187,950.5 189.3,950.6 Q191.3,950.3 192.6,951.8 Q192.3,953.9 194.5,954.7" fill="none" stroke="#7adcdc" stroke-width="1.0" stroke-linecap="round" stroke-linejoin="round"/><g transform="translate(146,947) rotate(17.9)" fill="none" stroke-linecap="round"><path d="M2.4,-3 V3M4.1,-3.6 V3.6M5.7,-3 V3M10.6,-3 V3M12.2,-3.6 V3.6M13.8,-3 V3M18.7,-3 V3M20.4,-3.6 V3.6M22,-3 V3M26.9,-3 V3M28.5,-3.6 V3.6M30.1,-3 V3" stroke="#9b1956" stroke-width="0.6"/><path d="M0,0 Q4.1,8 8.1,0 Q12.2,-8 16.3,0 Q20.4,8 24.4,0 Q28.5,-8 32.6,0" stroke="#c2206c" stroke-width="1.6"/><path d="M0,0 Q4.1,-8 8.1,0 Q12.2,8 16.3,0 Q20.4,-8 24.4,0 Q28.5,8 32.6,0" stroke="#7adcdc" stroke-width="1.6"/></g><path d="M170,950 C174,948 176,954 175,960" stroke="#c060c0" stroke-width="1.6" fill="none"/><defs><clipPath id="i1"><rect x="143.1" y="877.7" width="41.8" height="29.8"/></clipPath><clipPath id="i2"><rect x="206.3" y="871.7" width="43.3" height="29.5"/></clipPath><clipPath id="i3"><rect x="185.4" y="955.3" width="43.3" height="31.3"/></clipPath></defs><g clip-path="url(#i1)"><rect x="143.1" y="877.7" width="41.8" height="29.8" fill="#fff"/><circle cx="146.5" cy="884.5" r="8.6" fill="#1a1a22"/><path d="M143,907.5 L150,902 L166,899 L178,894 L185,897 V908 Z" fill="#c41a40"/><path d="M168,880 l4,8 l5,-6 l3,9 M160,884 l5,6 l-4,6 M172,890 l4,6" stroke="#3a6aa8" stroke-width="1.3" fill="none"/><path d="M163,880 l3,6 l6,2 M156,892 l5,-3 l3,4" stroke="#58b060" stroke-width="1" fill="none"/><path d="M150,893 l5,-2 l3,4 l-5,3 M149,899 l6,-1" stroke="#555" stroke-width="0.7" fill="none"/></g><rect x="143.1" y="877.7" width="41.8" height="29.8" fill="none" stroke="#111" stroke-width="0.9"/><g clip-path="url(#i2)"><rect x="206.3" y="871.7" width="43.3" height="29.5" fill="#fff"/><path d="M206,874 L212,871 L250,898 V902 H236 L206,884 Z" fill="#1f2c58"/><path d="M206,888 L232,902 H206 Z" fill="#28386c"/><path d="M209,880 L240,899" stroke="#8a9ac0" stroke-width="0.8"/><path d="M222,874 l5,4 l6,-4 l4,6 l6,-3 M232,884 l6,2 l3,-5 l5,3" stroke="#58a858" stroke-width="1" fill="none"/><path d="M218,873 l4,3 M236,875 l3,-3 M241,880 l5,-1" stroke="#d05030" stroke-width="1" fill="none"/></g><rect x="206.3" y="871.7" width="43.3" height="29.5" fill="none" stroke="#111" stroke-width="0.9"/><g clip-path="url(#i3)"><rect x="185.4" y="955.3" width="43.3" height="31.3" fill="#fff"/><path d="M198,962 L206,958 L226,987 H212 Z" fill="#1f2c58"/><path d="M186,975 L196,968 L204,987 H186 Z" fill="#28386c"/><path d="M214,960 l6,8 l-3,8 M222,962 l4,10" stroke="#3a6aa8" stroke-width="1.6" fill="none"/><path d="M188,960 l5,4 l4,-5 M206,968 l6,-3 l3,6 M190,968 l4,4 M219,976 l6,2 M200,973 l3,5" stroke="#58b050" stroke-width="1.1" fill="none"/><path d="M192,958 l3,5 M209,975 l5,3 M223,957 l2,4" stroke="#d0a030" stroke-width="0.9" fill="none"/></g><rect x="185.4" y="955.3" width="43.3" height="31.3" fill="none" stroke="#111" stroke-width="0.9"/></g>
<g id="p8"><path d="M356.9,779.7 Q355.8,778.3 356.3,776.8 Q354.9,777.8 353.4,776.6 Q354,778.3 352.6,779.5 Q350.9,780.3 351.7,782.4 Q350.7,783.9 349.5,784.4 Q348.1,785.5 347.9,786.9 Q349,788.4 347.6,789.9 Q345.9,790.5 345,791.4" fill="none" stroke="#7a9ab0" stroke-width="0.6" stroke-linecap="round" stroke-linejoin="round"/><path d="M323.8,786.1 Q323.6,784.4 324.1,783.2 Q325.3,781.8 324.1,780.2 Q322.4,779.6 321.9,778.2 Q320.6,779.4 318.9,778.1 Q320.1,779.5 320.7,780.6 Q322.5,780.6 323.5,779.5 Q325,780.5 326.3,780.5 Q328,781.2 329.3,780" fill="none" stroke="#7a9ab0" stroke-width="0.6" stroke-linecap="round" stroke-linejoin="round"/><path d="M381.4,783.4 Q379.8,784.4 378.7,784.8 Q377.3,783.7 375.9,783.9 Q374.3,783.1 372.9,784.2 Q371.1,784.1 370.9,781.9 Q369.4,782.9 367.9,782.2 Q367,783.8 367.6,785.2 Q366.6,786.7 366.1,787.8 Q364.3,787.7 363.3,786.9" fill="none" stroke="#7a9ab0" stroke-width="0.6" stroke-linecap="round" stroke-linejoin="round"/><path d="M349.4,802.5 Q348,803.7 346.9,804.1 Q346.9,805.9 347.6,807 Q349.3,806.5 350.5,807.8 Q351.1,809.5 352.9,809.7 Q351.9,808.2 350.6,807.7 Q349.3,809 347.6,807.5 Q349.4,807.4 350.5,806.6 Q352,805.7 351.7,803.9" fill="none" stroke="#7a9ab0" stroke-width="0.6" stroke-linecap="round" stroke-linejoin="round"/><path d="M403.4,759.5 Q403.2,757.7 405.2,757.1 Q407,756.7 407.1,754.8 Q408.7,754 409.6,753.2 Q410.6,751.6 412,751.4 Q412.4,749.6 413.2,748.6 Q414.9,748.1 414.6,746 Q413,745.2 412.8,743.7 Q414.1,742.5 414.3,741.1" fill="none" stroke="#7a9ab0" stroke-width="0.6" stroke-linecap="round" stroke-linejoin="round"/><path d="M320.2,772 Q319.8,770.2 321.7,769.4 Q323.2,770.4 324.7,769.7 Q326.3,768.8 327.3,768.1 Q329.1,768 330.1,769.2 Q331,770.8 331.8,771.6 Q333.3,770.5 334.7,770.9 Q335.5,769.2 337.4,769.4 Q339.1,769.9 339.6,771.4" fill="none" stroke="#7a9ab0" stroke-width="0.6" stroke-linecap="round" stroke-linejoin="round"/><path d="M337.5,784 Q336,785.1 334.7,785 Q333,784.3 331.8,786 Q330.6,787.3 331.7,789 Q329.9,788.9 328.8,789.8 Q327.1,789.2 326.2,788.3 Q327.4,786.9 327,785.4 Q328.2,784 329.2,783.3 Q329.8,781.6 329.2,780.3" fill="none" stroke="#7a9ab0" stroke-width="0.6" stroke-linecap="round" stroke-linejoin="round"/><path d="M346.2,779.2 Q348,778.8 349.1,780.1 Q348.8,778.3 350.6,777.5 Q351,775.8 351.2,774.6 Q351.7,772.8 352.9,772.1 Q353.4,770.4 351.6,769.4 Q352,767.6 351.4,766.4 Q351.7,764.6 352.7,763.7 Q353.4,762 354.7,761.4" fill="none" stroke="#7a9ab0" stroke-width="0.6" stroke-linecap="round" stroke-linejoin="round"/><path d="M383.8,801 Q385.6,801.4 385.6,803.4 Q386.3,801.7 388.4,802.1 Q390,802.8 391.3,801.4 Q393,802 393,803.8 Q393.1,805.6 395.2,805.9 Q393.9,807.1 394.5,808.8 Q395.8,810 395.8,811.5 Q397.5,811 398.8,811.9" fill="none" stroke="#7a9ab0" stroke-width="0.6" stroke-linecap="round" stroke-linejoin="round"/><path d="M356.5,799.4 Q354.9,800.2 353.5,799.1 Q352.1,798 350.5,799.2 Q348.8,798.6 347.5,799.6 Q346.7,798 344.8,798.4 Q343,798.1 342,797.3 Q340.8,796 339.1,796.5 Q338,797.9 336.3,797.5 Q334.8,796.6 333.8,795.8" fill="none" stroke="#7a9ab0" stroke-width="0.6" stroke-linecap="round" stroke-linejoin="round"/><path d="M382.6,751.4 Q384,750.3 385.2,750 Q384.1,748.5 384.5,747 Q385.9,745.9 387,745.4 Q387.2,743.6 385.9,742.6 Q384.1,742.5 383.4,740.9 Q382.9,739.1 381.8,738.3 Q382,740.1 383.9,740.5 Q385.6,741.1 386.7,741.6" fill="none" stroke="#7a9ab0" stroke-width="0.6" stroke-linecap="round" stroke-linejoin="round"/><path d="M344.2,788.2 Q344,786.4 343,785.5 Q343.5,783.7 345.2,783.5 Q347,783.6 348.2,783.8 Q349.7,784.8 348.9,786.7 Q350.5,787.4 350.5,789.2 Q351.4,790.8 353.3,790.2 Q355.1,790.6 356,791.5 Q357.1,792.9 355.6,794.5" fill="none" stroke="#7a9ab0" stroke-width="0.6" stroke-linecap="round" stroke-linejoin="round"/><path d="M373.4,802.1 Q372.3,800.7 372.3,799.3 Q371.5,797.7 369.6,798 Q367.9,798.5 367.1,796.4 Q367.2,798.2 365,798.6 Q363.2,798.5 362.1,799.1 Q360.7,800.3 361.1,802 Q359.4,802.4 358.5,803.4 Q356.8,804 355.6,804.1" fill="none" stroke="#7a9ab0" stroke-width="0.6" stroke-linecap="round" stroke-linejoin="round"/><path d="M388.2,767.9 Q390,768.1 391.1,767.3 Q390.7,769.1 392.8,769.8 Q394.4,770.5 394.2,772.5 Q393.7,774.2 395.4,775.2 Q397.2,775 398.3,776.2 Q399.6,774.9 401.1,775.3 Q402.6,776.3 403.7,776.9 Q405.2,775.9 406.2,775.3" fill="none" stroke="#7a9ab0" stroke-width="0.6" stroke-linecap="round" stroke-linejoin="round"/><path d="M388.6,740 Q390.3,740.4 391.5,739.7 Q391.5,741.5 390.1,742.3 Q390.6,744.1 391.2,745.1 Q392.4,746.5 392.9,747.6 Q394.6,747.1 395.5,749.1 Q397.2,749.6 398.5,749.2 Q400.2,749.8 401.4,749.7 Q401.4,747.9 403.5,747.5" fill="none" stroke="#7a9ab0" stroke-width="0.6" stroke-linecap="round" stroke-linejoin="round"/><path d="M395.9,792.9 Q396.5,791.3 397.8,790.7 Q399.4,789.7 400.8,790.1 Q402.1,791.3 403.8,790.3 Q405.6,790.5 406.8,790.1 Q407.3,791.8 407.6,793 Q407.9,794.7 410.1,794.6 Q411.4,795.9 411.5,797.2 Q413.2,796.5 414.3,798.5" fill="none" stroke="#7a9ab0" stroke-width="0.6" stroke-linecap="round" stroke-linejoin="round"/><path d="M373.5,797.9 Q371.8,798.5 371.1,799.8 Q369.4,799.2 368.3,798.7 Q368.5,796.9 368.2,795.7 Q367.7,794 365.7,794.2 Q364.3,793 362.7,794.2 Q360.9,794.3 359.7,793.9 Q357.9,793.9 356.7,793.3 Q357.1,795.1 355.1,795.9" fill="none" stroke="#7a9ab0" stroke-width="0.6" stroke-linecap="round" stroke-linejoin="round"/><path d="M356.1,786.9 Q356.4,785.1 357.3,784.2 Q358.7,783 360.3,784.5 Q361.5,783.2 362.3,782.3 Q363.9,781.4 365.1,781.1 Q366.7,781.9 367.9,782.2 Q368.5,780.5 369.4,779.6 Q370.3,778.1 371.9,777.9 Q372.4,776.2 372.1,774.9" fill="none" stroke="#7a9ab0" stroke-width="0.6" stroke-linecap="round" stroke-linejoin="round"/><g transform="translate(309,760) rotate(16.5)" fill="none" stroke-linecap="round"><path d="M2.1,-2.6 V2.6M3.5,-3.1 V3.1M4.9,-2.6 V2.6M9.2,-2.6 V2.6M10.6,-3.1 V3.1M12,-2.6 V2.6M16.2,-2.6 V2.6M17.6,-3.1 V3.1M19,-2.6 V2.6M23.2,-2.6 V2.6M24.6,-3.1 V3.1M26,-2.6 V2.6" stroke="#9b1949" stroke-width="0.6"/><path d="M0,0 Q3.5,6.8 7,0 Q10.6,-6.8 14.1,0 Q17.6,6.8 21.1,0 Q24.6,-6.8 28.2,0" stroke="#c2205c" stroke-width="1.4"/><path d="M0,0 Q3.5,-6.8 7,0 Q10.6,6.8 14.1,0 Q17.6,-6.8 21.1,0 Q24.6,6.8 28.2,0" stroke="#60c0b0" stroke-width="1.4"/></g><path d="M337.2,774 Q337.4,772.5 339.1,772.3 Q339.3,770.8 339.8,769.8 Q338.8,771 338.7,772.2 Q337.8,773.4 338.4,774.7 Q339.2,773.4 338.9,772.2 Q339.7,773.5 338.1,774.7 Q338.4,776.2 338.7,777.2" fill="none" stroke="#5a9a58" stroke-width="0.8" stroke-linecap="round" stroke-linejoin="round"/><path d="M346.6,781.2 Q345.1,780.7 344.1,781.9 Q342.7,782.7 342.3,783.8 Q340.8,784.2 340,782.7 Q339,781.5 339.8,780.1 Q338.6,779.1 339.2,777.6 Q340.2,776.4 341.4,776.2 Q342.9,776.6 343.6,774.8" fill="none" stroke="#5a9a58" stroke-width="0.8" stroke-linecap="round" stroke-linejoin="round"/><path d="M341.3,770.7 Q340.1,771.7 338.7,770.8 Q338.7,772.3 336.7,772.5 Q337.5,771.2 336.2,770 Q336.8,771.4 338.1,771.7 Q339.4,772.7 340.7,771.7 Q341.5,773.1 341.4,774.2 Q339.9,774.5 339.8,776.3" fill="none" stroke="#5a9a58" stroke-width="0.8" stroke-linecap="round" stroke-linejoin="round"/><path d="M349.4,797 Q350.6,796 352,797.1 Q352.2,795.6 352.8,794.7 Q354.4,794.8 355.3,794 Q356.9,793.7 357.6,792.7 Q359.2,792.5 359.6,791.1 Q360.7,789.9 360.4,788.6 Q359.6,787.2 358.8,786.5" fill="none" stroke="#5a9a58" stroke-width="0.8" stroke-linecap="round" stroke-linejoin="round"/><path d="M347.3,779.5 Q348.7,779 349.7,780.4 Q350.4,781.8 351.4,782.4 Q352,783.8 352.1,784.9 Q351.4,786.2 352.2,787.5 Q350.8,788.1 349.7,788.1 Q348.8,786.8 347.4,787 Q347.6,785.4 346.9,784.4" fill="none" stroke="#5a9a58" stroke-width="0.8" stroke-linecap="round" stroke-linejoin="round"/><path d="M344.2,795.6 Q344.1,794.1 343,793.3 Q341.6,794.1 340.4,792.7 Q340,791.2 339.1,790.5 Q339.8,789.1 340.6,788.4 Q341.1,786.9 342.8,787.1 Q344.3,786.7 345.4,787.1 Q346.9,787.1 347.8,788.1" fill="none" stroke="#5a9a58" stroke-width="0.8" stroke-linecap="round" stroke-linejoin="round"/><path d="M344.4,773 Q343.3,771.9 344.3,770.4 Q345.7,771.2 345.9,772.5 Q344.4,772.8 344.6,774.7 Q343.5,775.8 342,775.2 Q340.8,776.2 341.3,777.7 Q342.3,778.8 341.1,780.3 Q342.7,780.5 343.4,781.5" fill="none" stroke="#5a9a58" stroke-width="0.8" stroke-linecap="round" stroke-linejoin="round"/><path d="M346.4,791.7 Q346.9,790.3 348.3,789.9 Q348.4,788.4 348,787.4 Q349.4,786.7 349.7,785.4 Q351.2,785 352.3,785 Q352.9,786.5 354.6,786.2 Q356.2,786.4 356.5,788 Q357.5,789.2 356.2,790.6" fill="none" stroke="#5a9a58" stroke-width="0.8" stroke-linecap="round" stroke-linejoin="round"/><path d="M362.5,782.8 Q361.6,781.5 360,782.2 Q358.5,781.7 357.8,780.8 Q358.8,779.7 358.3,778.3 Q359.3,777.1 358.2,775.7 Q357.2,774.4 355.7,775 Q354.1,774.8 353.1,774.6 Q352.3,773.2 352.2,772.1" fill="none" stroke="#5a9a58" stroke-width="0.8" stroke-linecap="round" stroke-linejoin="round"/><path d="M351.7,776.1 Q352.4,774.7 352.2,773.5 Q352,772 350.4,771.6 Q348.8,771.5 348.5,769.8 Q347.3,770.8 345.9,769.9 Q345.1,771.2 344.6,772.1 Q343,772.1 342.1,773 Q342.5,771.5 340.7,770.8" fill="none" stroke="#5a9a58" stroke-width="0.8" stroke-linecap="round" stroke-linejoin="round"/><path d="M358.4,797.1 Q360,797.2 360.7,795.8 Q362.2,796 363.1,795 Q363.6,796.4 365.4,796.2 Q364.3,797.4 362.8,796.4 Q361.6,795.3 360.5,795.1 Q359.6,793.8 360.3,792.5 Q361.9,792.6 362.2,790.7" fill="none" stroke="#5a9a58" stroke-width="0.8" stroke-linecap="round" stroke-linejoin="round"/><path d="M353.3,771.1 Q351.9,770.3 350.7,771.1 Q349.5,770.1 349,769.1 Q347.9,770.1 348.4,771.6 Q348.2,773.1 349.2,774.1 Q350.7,773.9 351.7,774.5 Q353,775.3 354.3,774.2 Q355.8,774.4 356.1,776" fill="none" stroke="#5a9a58" stroke-width="0.8" stroke-linecap="round" stroke-linejoin="round"/><path d="M352.6,796.7 Q353.6,795.6 355.1,796.1 Q356.7,796.2 357.3,797.5 Q358.7,798.3 359.1,799.4 Q359.6,798 361.5,798.5 Q361.7,796.9 363.6,796.9 Q362.2,796.2 361,796.7 Q359.5,796.2 358.4,796.4" fill="none" stroke="#5a9a58" stroke-width="0.8" stroke-linecap="round" stroke-linejoin="round"/><path d="M357.7,773.7 Q358.6,772.5 359.8,772.2 Q358.3,771.7 357.6,773.6 Q358.6,774.8 358.2,776.1 Q358.2,777.7 359.3,778.5 Q360.7,779.2 360.2,780.9 Q361.2,782.1 360.1,783.5 Q359.5,784.9 361.2,785.9" fill="none" stroke="#5a9a58" stroke-width="0.8" stroke-linecap="round" stroke-linejoin="round"/><path d="M344.6,777.3 Q344.8,778.8 344,779.8 Q342.8,780.9 342.3,781.8 Q340.7,781.9 339.7,781.3 Q338.8,782.6 338.8,783.7 Q338.6,782.2 338.5,781.2 Q338.9,782.6 339.5,783.6 Q338.5,784.7 338.3,785.9" fill="none" stroke="#5a9a58" stroke-width="0.8" stroke-linecap="round" stroke-linejoin="round"/><path d="M357.8,797.1 Q359.4,797.1 360.4,796.4 Q361.9,796.3 362.3,794.6 Q363.2,793.4 363,792.1 Q363.6,790.7 363.9,789.7 Q365.2,790.6 366.4,789.2 Q367.5,790.4 367.5,791.6 Q367,790.1 365.6,789.8" fill="none" stroke="#5a9a58" stroke-width="0.8" stroke-linecap="round" stroke-linejoin="round"/><path d="M358.1,784.5 Q357,785.6 355.6,785.2 Q354,785.2 353.2,786.1 Q353.8,787.6 353.1,788.7 Q353.3,790.3 354.5,790.9 Q354.4,792.5 356,793.1 Q357.5,793.3 358,794.7" fill="none" stroke="#9ab850" stroke-width="0.8" stroke-linecap="round" stroke-linejoin="round"/><path d="M353.8,783.6 Q352.2,783.7 351.2,784.1 Q349.8,784.7 349.2,785.8 Q348.9,787.3 349.4,788.4 Q349.2,789.9 350.3,790.8 Q349.4,792.1 348.8,792.9 Q349.1,794.4 350,795.2" fill="none" stroke="#9ab850" stroke-width="0.8" stroke-linecap="round" stroke-linejoin="round"/><path d="M336.3,770.3 Q337.3,769.2 337.2,767.9 Q337.7,769.4 335.9,770.2 Q337.1,769.2 338.5,770.3 Q339.5,771.5 341.1,770.9 Q342.5,771.5 343.7,771.2 Q344,772.7 343.4,773.8" fill="none" stroke="#9ab850" stroke-width="0.8" stroke-linecap="round" stroke-linejoin="round"/><path d="M360.4,773 Q361.6,774 362.9,773.7 Q361.8,772.6 361.4,771.6 Q361.9,773.1 361.5,774.2 Q360.1,773.6 359.7,772.4 Q361.1,771.9 360.7,770 Q360.4,768.4 358.7,768.3" fill="none" stroke="#9ab850" stroke-width="0.8" stroke-linecap="round" stroke-linejoin="round"/><path d="M348.5,797.4 Q348.5,795.8 347.3,795.1 Q346,794.1 344.7,795.1 Q343.9,793.8 342.1,794.6 Q340.8,793.8 339.6,794.2 Q339.5,792.7 341.4,792.4 Q342.6,793.4 344,792" fill="none" stroke="#9ab850" stroke-width="0.8" stroke-linecap="round" stroke-linejoin="round"/><path d="M351,770.1 Q352.6,770.2 353.5,769.2 Q352,769.7 351.9,771.3 Q351.4,772.8 349.6,772.5 Q348.9,771.1 347.7,770.7 Q346.8,772 345.2,771.1 Q346.4,772 347.3,772.6" fill="none" stroke="#9ab850" stroke-width="0.8" stroke-linecap="round" stroke-linejoin="round"/><path d="M331.2,794.1 L320.2,794.1" stroke="#71519f" stroke-width="3.8" stroke-linecap="round"/><path d="M331.2,794.1 L320.2,794.1" stroke="#a274e4" stroke-width="2.4" stroke-linecap="round"/><path d="M333.4,796.6 L322.7,790.9" stroke="#71519f" stroke-width="3.8" stroke-linecap="round"/><path d="M333.4,796.6 L322.7,790.9" stroke="#a274e4" stroke-width="2.4" stroke-linecap="round"/><path d="M334.6,792.7 L322.7,790.6" stroke="#71519f" stroke-width="3.8" stroke-linecap="round"/><path d="M334.6,792.7 L322.7,790.6" stroke="#a274e4" stroke-width="2.4" stroke-linecap="round"/><path d="M327.6,780 L317.7,776.1" stroke="#71519f" stroke-width="3.8" stroke-linecap="round"/><path d="M327.6,780 L317.7,776.1" stroke="#a274e4" stroke-width="2.4" stroke-linecap="round"/><path d="M335,788.6 L322.4,789.7" stroke="#71519f" stroke-width="3.8" stroke-linecap="round"/><path d="M335,788.6 L322.4,789.7" stroke="#a274e4" stroke-width="2.4" stroke-linecap="round"/><path d="M344.9,791.9 L334.5,791" stroke="#71519f" stroke-width="3.8" stroke-linecap="round"/><path d="M344.9,791.9 L334.5,791" stroke="#a274e4" stroke-width="2.4" stroke-linecap="round"/><path d="M327.4,791.9 L321.2,787.8" stroke="#71519f" stroke-width="3.8" stroke-linecap="round"/><path d="M327.4,791.9 L321.2,787.8" stroke="#a274e4" stroke-width="2.4" stroke-linecap="round"/><path d="M337,785.6 L324.2,784" stroke="#71519f" stroke-width="3.8" stroke-linecap="round"/><path d="M337,785.6 L324.2,784" stroke="#a274e4" stroke-width="2.4" stroke-linecap="round"/><path d="M337.7,781.6 L329.6,785.2" stroke="#71519f" stroke-width="3.8" stroke-linecap="round"/><path d="M337.7,781.6 L329.6,785.2" stroke="#a274e4" stroke-width="2.4" stroke-linecap="round"/><path d="M347.5,792.1 L335.9,787.3" stroke="#71519f" stroke-width="3.8" stroke-linecap="round"/><path d="M347.5,792.1 L335.9,787.3" stroke="#a274e4" stroke-width="2.4" stroke-linecap="round"/><path d="M347.1,803.7 L337.3,795.9" stroke="#71519f" stroke-width="3.8" stroke-linecap="round"/><path d="M347.1,803.7 L337.3,795.9" stroke="#a274e4" stroke-width="2.4" stroke-linecap="round"/><path d="M336.7,785.6 Q336.9,787.1 336.9,788.2 Q338.1,789.2 338.4,790.3 Q337.6,791.6 338.2,792.9 Q339.6,793.6 339.5,795.1 Q341,795.4 341.3,797 Q341.1,798.6 342.5,799.3" fill="none" stroke="#8a5ad0" stroke-width="0.8" stroke-linecap="round" stroke-linejoin="round"/><path d="M328.9,771.6 Q328.5,770 329.7,769.1 Q329.1,770.5 328.2,771.2 Q329.3,772.3 329.3,773.5 Q327.8,773.8 327.9,775.7 Q327.5,777.2 328.2,778.3 Q326.7,778.8 326.5,780.3" fill="none" stroke="#8a5ad0" stroke-width="0.8" stroke-linecap="round" stroke-linejoin="round"/><path d="M320.3,787.5 Q320.9,786 321.5,785.2 Q321.8,783.7 320.3,782.9 Q321.7,782.4 322.9,782.9 Q322.9,781.3 324.6,780.9 Q325.7,779.8 327.2,780.8 Q327.4,779.3 329.4,779.4" fill="none" stroke="#8a5ad0" stroke-width="0.8" stroke-linecap="round" stroke-linejoin="round"/><path d="M332.9,785.2 Q333.6,783.8 332.2,782.7 Q330.6,782.6 329.7,782 Q330.4,780.6 329.3,779.4 Q330,778 331.5,778 Q331.1,776.5 331.5,775.4 Q331.1,773.9 330.4,773" fill="none" stroke="#8a5ad0" stroke-width="0.8" stroke-linecap="round" stroke-linejoin="round"/><path d="M319.2,788 Q320.6,787.4 321.5,786.8 Q322.6,785.8 322.6,784.5 Q324.1,784.1 324.9,783.4 Q326.1,782.3 327.1,782 Q328.7,782 329.3,780.6 Q330.8,781.2 331,782.6" fill="none" stroke="#8a5ad0" stroke-width="0.8" stroke-linecap="round" stroke-linejoin="round"/><path d="M416.3,802.1 Q415,801.3 413.7,801.9 Q413.5,800.3 413.3,799.3 Q411.8,798.9 410.7,799 Q410.5,800.6 408.8,800.8 Q407.9,802 406.5,802.1 Q405,802 404,801.4 Q402.7,800.7 403.3,799" fill="none" stroke="#d8a0e0" stroke-width="1.1" stroke-linecap="round" stroke-linejoin="round"/><path d="M419.6,800 Q418.5,798.9 417.1,799.3 Q415.7,800.1 415.6,801.5 Q415.2,803 414.7,803.9 Q413.8,805.2 412.3,804.8 Q410.8,805.4 409.7,804.8 Q409.9,803.3 408.3,802.6 Q408.4,801.1 409.8,800.5" fill="none" stroke="#d8a0e0" stroke-width="1.1" stroke-linecap="round" stroke-linejoin="round"/><path d="M390.4,791.9 Q392,792.1 393,792.1 Q394,793.3 394.9,793.8 Q393.6,794.7 393.5,796 Q392.1,795.2 391,795.2 Q392.2,796.3 393.2,796.6 Q394.7,797.1 394.7,798.7 Q395.5,797.3 397.3,798.2" fill="none" stroke="#d8a0e0" stroke-width="1.1" stroke-linecap="round" stroke-linejoin="round"/><path d="M392.3,786.9 Q390.9,787.5 389.8,787.5 Q391.1,786.7 391.8,785.9 Q392.5,787.3 394.3,786.6 Q395.5,785.6 396.6,785.4 Q398,784.7 398.6,783.7 Q398.5,782.2 399.8,781.4 Q401.3,781 402.4,781.6" fill="none" stroke="#d8a0e0" stroke-width="1.1" stroke-linecap="round" stroke-linejoin="round"/><path d="M412.5,798.6 Q413.9,798.1 414.8,797.5 Q415.6,798.9 417.3,798.1 Q417.7,796.6 419.5,796.7 Q418,796.4 417.8,794.7 Q416.3,794.5 415.7,793.2 Q414.2,793.6 413.1,793.2 Q411.6,793.8 410.6,793.8" fill="none" stroke="#d8a0e0" stroke-width="1.1" stroke-linecap="round" stroke-linejoin="round"/><path d="M396.2,786.6 Q394.8,786 393.9,785.5 Q392.5,786.3 391.6,786.8 Q392.9,786 394.2,786.9 Q395.3,785.8 396.8,786.5 Q397.2,785 398.4,784.4 Q399.6,785.3 400.8,785.3 Q402.3,785.8 403.4,785.7" fill="none" stroke="#d8a0e0" stroke-width="1.1" stroke-linecap="round" stroke-linejoin="round"/><path d="M402.8,797.6 Q401.2,797.5 400.4,796.7 Q401.3,795.5 400.8,794.1 Q401.7,792.8 401.5,791.6 Q400.4,790.5 400.9,789.1 Q401.3,787.6 402.3,786.9 Q403.8,786.5 403.8,784.9 Q405.2,784 406,783.4" fill="none" stroke="#d8a0e0" stroke-width="1.1" stroke-linecap="round" stroke-linejoin="round"/><path d="M405.7,787.4 Q405.6,785.9 404.5,785.1 Q405.3,783.8 405.3,782.6 Q405.3,781.1 406.9,780.6 Q408.4,781 409.4,781.5 Q409.5,783 409.3,784.1 Q408.3,785.2 407.2,785.5 Q406.7,787 405.5,787.5" fill="none" stroke="#d8a0e0" stroke-width="1.1" stroke-linecap="round" stroke-linejoin="round"/><path d="M413.8,795.5 Q414.5,797 416.1,796.8 Q416.7,795.4 417.7,794.8 Q418.3,793.3 417.8,792.2 Q417.4,790.7 415.9,790.4 Q416.2,788.8 416.3,787.8 Q417.1,786.4 417.4,785.4 Q418,784 418.7,783.2" fill="none" stroke="#d8a0e0" stroke-width="1.1" stroke-linecap="round" stroke-linejoin="round"/><path d="M407.3,781.4 Q408,780 407,778.8 Q408.1,780 408.1,781.2 Q408.3,782.7 409.2,783.5 Q409.1,785.1 407.8,785.7 Q406.5,784.8 405.2,785.9 Q403.7,785.9 402.6,786.1 Q402.2,784.6 401.5,783.8" fill="none" stroke="#d8a0e0" stroke-width="1.1" stroke-linecap="round" stroke-linejoin="round"/><path d="M400.9,783.7 Q401.4,782.2 399.8,781.3 Q401.4,781.3 402.1,782.7 Q403.1,783.8 402.7,785.2 Q404.3,785.4 405.2,786.1 Q404.8,787.6 406.7,788.2 Q405.2,788.7 404.9,790.1 Q403.4,789.7 402.3,789.7" fill="none" stroke="#d8a0e0" stroke-width="1.1" stroke-linecap="round" stroke-linejoin="round"/><path d="M403.9,788 Q405.4,787.5 406.1,789.3 Q407.6,789.8 408.5,788.3 Q408.5,789.8 410.5,790 Q412,790.1 413.1,790.2 Q414.4,791 414.5,792.4 Q415.9,793.1 415.7,794.7 Q417.3,794.6 418.3,795.1" fill="none" stroke="#d8a0e0" stroke-width="1.1" stroke-linecap="round" stroke-linejoin="round"/><path d="M403.8,780.5 Q402.4,779.9 401.5,781.6 Q402,783.1 401.2,784.2 Q402.7,784.7 403.1,786 Q404.4,785.3 405.6,786.6 Q407.1,787.1 407.9,787.8 Q408,789.4 409.6,789.9 Q408,790.2 408,791.9" fill="none" stroke="#d8a0e0" stroke-width="1.1" stroke-linecap="round" stroke-linejoin="round"/><path d="M391.2,797.2 Q391.3,795.6 390,794.9 Q390.8,793.6 389.5,792.3 Q390.6,793.5 391.3,794.2 Q392.7,794.8 393.9,794.4 Q393.7,795.9 394.6,796.9 Q395.4,798.2 395.6,799.3 Q395.8,800.8 397.7,800.8" fill="none" stroke="#d8a0e0" stroke-width="1.1" stroke-linecap="round" stroke-linejoin="round"/><path d="M416.3,783.1 Q414.8,783.1 414,781.8 Q414.3,783.4 413.8,784.4 Q412.8,785.7 412.7,786.8 Q413.2,788.3 414.3,788.8 Q415.6,788 416.8,789.5 Q418.3,790 419.2,788.4 Q418.4,787 419,785.8" fill="none" stroke="#d8a0e0" stroke-width="1.1" stroke-linecap="round" stroke-linejoin="round"/><path d="M408.3,783.9 Q408.3,782.4 408.2,781.3 Q406.8,782 406.4,783.2 Q404.8,783 404.2,781.8 Q403.4,783.1 402.2,783.4 Q400.8,782.7 400.1,781.9 Q399,780.8 398,780.4 Q399.4,781.1 400.4,781.4" fill="none" stroke="#d8a0e0" stroke-width="1.1" stroke-linecap="round" stroke-linejoin="round"/><path d="M391.4,795.5 L387.2,791.9" stroke="#9a75a1" stroke-width="2.6" stroke-linecap="round"/><path d="M391.4,795.5 L387.2,791.9" stroke="#dca8e6" stroke-width="1.6" stroke-linecap="round"/><path d="M409,796.8 L404.6,788.9" stroke="#9a75a1" stroke-width="2.6" stroke-linecap="round"/><path d="M409,796.8 L404.6,788.9" stroke="#dca8e6" stroke-width="1.6" stroke-linecap="round"/><path d="M396.5,785.3 L392.9,779.6" stroke="#9a75a1" stroke-width="2.6" stroke-linecap="round"/><path d="M396.5,785.3 L392.9,779.6" stroke="#dca8e6" stroke-width="1.6" stroke-linecap="round"/><path d="M405.7,809.7 L402.1,801.7" stroke="#9a75a1" stroke-width="2.6" stroke-linecap="round"/><path d="M405.7,809.7 L402.1,801.7" stroke="#dca8e6" stroke-width="1.6" stroke-linecap="round"/><path d="M412.8,799.9 L409.7,794.8" stroke="#9a75a1" stroke-width="2.6" stroke-linecap="round"/><path d="M412.8,799.9 L409.7,794.8" stroke="#dca8e6" stroke-width="1.6" stroke-linecap="round"/><path d="M417,793.9 L418.9,788.6" stroke="#9a75a1" stroke-width="2.6" stroke-linecap="round"/><path d="M417,793.9 L418.9,788.6" stroke="#dca8e6" stroke-width="1.6" stroke-linecap="round"/><path d="M395.3,800.3 L399.5,791.4" stroke="#9a75a1" stroke-width="2.6" stroke-linecap="round"/><path d="M395.3,800.3 L399.5,791.4" stroke="#dca8e6" stroke-width="1.6" stroke-linecap="round"/><path d="M367.6,804.2 L365.7,789.5" stroke="#871733" stroke-width="3.2" stroke-linecap="round"/><path d="M367.6,804.2 L365.7,789.5" stroke="#c2224a" stroke-width="2" stroke-linecap="round"/><path d="M382.3,810.3 L386.5,796" stroke="#871733" stroke-width="3.2" stroke-linecap="round"/><path d="M382.3,810.3 L386.5,796" stroke="#c2224a" stroke-width="2" stroke-linecap="round"/><path d="M361.2,793.7 L353.9,786.9" stroke="#871733" stroke-width="3.2" stroke-linecap="round"/><path d="M361.2,793.7 L353.9,786.9" stroke="#c2224a" stroke-width="2" stroke-linecap="round"/><path d="M372.6,803.2 L373.8,788.3" stroke="#871733" stroke-width="3.2" stroke-linecap="round"/><path d="M372.6,803.2 L373.8,788.3" stroke="#c2224a" stroke-width="2" stroke-linecap="round"/><path d="M379.2,798.5 L372.3,791.5" stroke="#871733" stroke-width="3.2" stroke-linecap="round"/><path d="M379.2,798.5 L372.3,791.5" stroke="#c2224a" stroke-width="2" stroke-linecap="round"/><path d="M383.4,811.4 L384,802.3" stroke="#871733" stroke-width="3.2" stroke-linecap="round"/><path d="M383.4,811.4 L384,802.3" stroke="#c2224a" stroke-width="2" stroke-linecap="round"/><path d="M370.4,785.3 L372,771.1" stroke="#871733" stroke-width="3.2" stroke-linecap="round"/><path d="M370.4,785.3 L372,771.1" stroke="#c2224a" stroke-width="2" stroke-linecap="round"/><path d="M386.1,805.8 L380.5,795.9" stroke="#871733" stroke-width="3.2" stroke-linecap="round"/><path d="M386.1,805.8 L380.5,795.9" stroke="#c2224a" stroke-width="2" stroke-linecap="round"/><path d="M383.8,799.7 L374.8,788" stroke="#871733" stroke-width="3.2" stroke-linecap="round"/><path d="M383.8,799.7 L374.8,788" stroke="#c2224a" stroke-width="2" stroke-linecap="round"/><path d="M373.5,799.1 L366.5,790.2" stroke="#871733" stroke-width="3.2" stroke-linecap="round"/><path d="M373.5,799.1 L366.5,790.2" stroke="#c2224a" stroke-width="2" stroke-linecap="round"/><path d="M359.4,796.2 L354.1,782.8" stroke="#871733" stroke-width="3.2" stroke-linecap="round"/><path d="M359.4,796.2 L354.1,782.8" stroke="#c2224a" stroke-width="2" stroke-linecap="round"/><path d="M374.9,790 L367,781.4" stroke="#871733" stroke-width="3.2" stroke-linecap="round"/><path d="M374.9,790 L367,781.4" stroke="#c2224a" stroke-width="2" stroke-linecap="round"/><path d="M383.8,811.1 L374.3,800.7" stroke="#871733" stroke-width="3.2" stroke-linecap="round"/><path d="M383.8,811.1 L374.3,800.7" stroke="#c2224a" stroke-width="2" stroke-linecap="round"/><path d="M365.2,802.2 L362.8,793.7" stroke="#871733" stroke-width="3.2" stroke-linecap="round"/><path d="M365.2,802.2 L362.8,793.7" stroke="#c2224a" stroke-width="2" stroke-linecap="round"/><path d="M380.8,798.9 L374.8,792.2" stroke="#871733" stroke-width="3.2" stroke-linecap="round"/><path d="M380.8,798.9 L374.8,792.2" stroke="#c2224a" stroke-width="2" stroke-linecap="round"/><path d="M391.2,810.6 L383.2,798.3" stroke="#871733" stroke-width="3.2" stroke-linecap="round"/><path d="M391.2,810.6 L383.2,798.3" stroke="#c2224a" stroke-width="2" stroke-linecap="round"/><path d="M375.7,784.6 Q374.9,785.9 374.9,787.1 Q373.5,787.7 373,788.8 Q372,790 371.5,790.9 Q371,792.4 372.6,793.3 Q372.5,794.8 372.4,795.9 Q370.9,796.2 371,798" fill="none" stroke="#c2224a" stroke-width="0.9" stroke-linecap="round" stroke-linejoin="round"/><path d="M362.5,790.7 Q362.5,792.2 364,792.8 Q365.4,793.4 365.4,795 Q366.5,796.1 367,797 Q365.5,797.4 365.7,799.2 Q364.8,800.5 363.3,800.1 Q363.1,798.5 361.3,798.4" fill="none" stroke="#c2224a" stroke-width="0.9" stroke-linecap="round" stroke-linejoin="round"/><path d="M371.2,784.8 Q369.9,784 368.6,784.6 Q367.2,785.2 367.5,786.9 Q368.4,788.2 368.7,789.2 Q369.3,790.7 371.2,790 Q372.7,789.6 373.7,790.7 Q373.6,789.2 375.6,789" fill="none" stroke="#c2224a" stroke-width="0.9" stroke-linecap="round" stroke-linejoin="round"/><path d="M360.1,805.7 Q359.4,807.1 360.2,808.3 Q359.5,806.9 360.4,805.7 Q361.9,805.2 362.4,804 Q363.6,803 364.4,802.4 Q363.9,800.9 365.2,799.9 Q366.2,798.7 364.9,797.3" fill="none" stroke="#c2224a" stroke-width="0.9" stroke-linecap="round" stroke-linejoin="round"/><path d="M374.9,802.1 Q374.5,803.6 374.4,804.7 Q375.3,805.9 374.5,807.3 Q376.1,807.4 377,807.8 Q378.6,808.1 379.6,807.1 Q380.4,808.4 381.2,809.2 Q382.1,807.9 381,806.6" fill="none" stroke="#c2224a" stroke-width="0.9" stroke-linecap="round" stroke-linejoin="round"/><path d="M373,813 Q374.3,812.2 374.6,811 Q373.8,809.7 374.4,808.4 Q375.7,807.6 376.5,806.8 Q378,806.7 378.1,804.8 Q376.8,804.1 377.4,802.3 Q376.7,800.9 376.4,799.9" fill="none" stroke="#c2224a" stroke-width="0.9" stroke-linecap="round" stroke-linejoin="round"/><path d="M385.3,800.8 Q385.3,802.4 385.2,803.4 Q384,804.4 382.7,804 Q382.9,805.5 381.7,806.4 Q382.4,807.8 383.1,808.6 Q381.9,807.7 381.2,806.9 Q380.9,805.3 381,804.3" fill="none" stroke="#c2224a" stroke-width="0.9" stroke-linecap="round" stroke-linejoin="round"/><path d="M361.5,790.7 Q362.5,789.5 363.4,788.9 Q362.3,787.8 363.5,786.3 Q361.9,786.6 361,785.5 Q359.4,785.3 358.5,786.1 Q357.1,785.4 356.4,784.5 Q355.9,783 356.5,781.9" fill="none" stroke="#c2224a" stroke-width="0.9" stroke-linecap="round" stroke-linejoin="round"/><path d="M417.1,749.4 L402.3,752.9" stroke="#121743" stroke-width="3.8" stroke-linecap="round"/><path d="M417.1,749.4 L402.3,752.9" stroke="#1a2260" stroke-width="2.4" stroke-linecap="round"/><path d="M422.2,755.9 L415.2,745.5" stroke="#121743" stroke-width="3.8" stroke-linecap="round"/><path d="M422.2,755.9 L415.2,745.5" stroke="#1a2260" stroke-width="2.4" stroke-linecap="round"/><path d="M389.9,744.9 L380.2,750.2" stroke="#121743" stroke-width="3.8" stroke-linecap="round"/><path d="M389.9,744.9 L380.2,750.2" stroke="#1a2260" stroke-width="2.4" stroke-linecap="round"/><path d="M399.4,750.3 L398.4,741.5" stroke="#121743" stroke-width="3.8" stroke-linecap="round"/><path d="M399.4,750.3 L398.4,741.5" stroke="#1a2260" stroke-width="2.4" stroke-linecap="round"/><path d="M403.7,758.3 L395.2,749.6" stroke="#121743" stroke-width="3.8" stroke-linecap="round"/><path d="M403.7,758.3 L395.2,749.6" stroke="#1a2260" stroke-width="2.4" stroke-linecap="round"/><path d="M418.4,768.8 L403,768.5" stroke="#121743" stroke-width="3.8" stroke-linecap="round"/><path d="M418.4,768.8 L403,768.5" stroke="#1a2260" stroke-width="2.4" stroke-linecap="round"/><path d="M382.9,751.7 L375.4,741.3" stroke="#121743" stroke-width="3.8" stroke-linecap="round"/><path d="M382.9,751.7 L375.4,741.3" stroke="#1a2260" stroke-width="2.4" stroke-linecap="round"/><path d="M410.7,756.1 L396.5,753.9" stroke="#121743" stroke-width="3.8" stroke-linecap="round"/><path d="M410.7,756.1 L396.5,753.9" stroke="#1a2260" stroke-width="2.4" stroke-linecap="round"/><path d="M405.7,746.4 L393.1,746.8" stroke="#121743" stroke-width="3.8" stroke-linecap="round"/><path d="M405.7,746.4 L393.1,746.8" stroke="#1a2260" stroke-width="2.4" stroke-linecap="round"/><path d="M404.9,748.7 L389.2,751" stroke="#121743" stroke-width="3.8" stroke-linecap="round"/><path d="M404.9,748.7 L389.2,751" stroke="#1a2260" stroke-width="2.4" stroke-linecap="round"/><path d="M385.8,762.3 L373.5,752.4" stroke="#121743" stroke-width="3.8" stroke-linecap="round"/><path d="M385.8,762.3 L373.5,752.4" stroke="#1a2260" stroke-width="2.4" stroke-linecap="round"/><path d="M396.3,747.7 L385.5,742.9" stroke="#121743" stroke-width="3.8" stroke-linecap="round"/><path d="M396.3,747.7 L385.5,742.9" stroke="#1a2260" stroke-width="2.4" stroke-linecap="round"/><path d="M386.8,755 L380.3,759.7" stroke="#121743" stroke-width="3.8" stroke-linecap="round"/><path d="M386.8,755 L380.3,759.7" stroke="#1a2260" stroke-width="2.4" stroke-linecap="round"/><path d="M394.7,771.1 L394.6,759.9" stroke="#121743" stroke-width="3.8" stroke-linecap="round"/><path d="M394.7,771.1 L394.6,759.9" stroke="#1a2260" stroke-width="2.4" stroke-linecap="round"/><path d="M410.2,747.6 L396.9,753" stroke="#121743" stroke-width="3.8" stroke-linecap="round"/><path d="M410.2,747.6 L396.9,753" stroke="#1a2260" stroke-width="2.4" stroke-linecap="round"/><path d="M396.2,758.9 L390.1,750.1" stroke="#121743" stroke-width="3.8" stroke-linecap="round"/><path d="M396.2,758.9 L390.1,750.1" stroke="#1a2260" stroke-width="2.4" stroke-linecap="round"/><path d="M401.8,769.7 L393.4,766.9" stroke="#121743" stroke-width="3.8" stroke-linecap="round"/><path d="M401.8,769.7 L393.4,766.9" stroke="#1a2260" stroke-width="2.4" stroke-linecap="round"/><path d="M403.4,763.2 L392.6,751.6" stroke="#121743" stroke-width="3.8" stroke-linecap="round"/><path d="M403.4,763.2 L392.6,751.6" stroke="#1a2260" stroke-width="2.4" stroke-linecap="round"/><path d="M406.9,757.6 L398.5,762.4" stroke="#121743" stroke-width="3.8" stroke-linecap="round"/><path d="M406.9,757.6 L398.5,762.4" stroke="#1a2260" stroke-width="2.4" stroke-linecap="round"/><path d="M415,744.3 L401.6,748.3" stroke="#121743" stroke-width="3.8" stroke-linecap="round"/><path d="M415,744.3 L401.6,748.3" stroke="#1a2260" stroke-width="2.4" stroke-linecap="round"/><path d="M387.8,746.1 L382.8,736.8" stroke="#121743" stroke-width="3.8" stroke-linecap="round"/><path d="M387.8,746.1 L382.8,736.8" stroke="#1a2260" stroke-width="2.4" stroke-linecap="round"/><path d="M403.2,769.7 L393.9,761.4" stroke="#121743" stroke-width="3.8" stroke-linecap="round"/><path d="M403.2,769.7 L393.9,761.4" stroke="#1a2260" stroke-width="2.4" stroke-linecap="round"/><path d="M378.4,752.3 L368.9,743.1" stroke="#121743" stroke-width="3.8" stroke-linecap="round"/><path d="M378.4,752.3 L368.9,743.1" stroke="#1a2260" stroke-width="2.4" stroke-linecap="round"/><path d="M406.4,753.8 L392.5,753.5" stroke="#121743" stroke-width="3.8" stroke-linecap="round"/><path d="M406.4,753.8 L392.5,753.5" stroke="#1a2260" stroke-width="2.4" stroke-linecap="round"/><path d="M397.1,745.4 Q398,746.7 399.6,745.9 Q400.9,745 402.2,745.4 Q403.5,744.6 404.7,745.9 Q406.2,746.6 405.5,748.4 Q406.9,749 407.5,750.1 Q406.7,751.5 406.4,752.4" fill="none" stroke="#1e2a6a" stroke-width="1" stroke-linecap="round" stroke-linejoin="round"/><path d="M418.3,750.1 Q417.4,748.9 415.9,749.2 Q414.3,749 414,747.4 Q412.6,746.9 411.5,746.7 Q410.4,745.7 409.1,745.7 Q407.6,746.1 407,747.2 Q405.5,747.4 404.9,745.7" fill="none" stroke="#1e2a6a" stroke-width="1" stroke-linecap="round" stroke-linejoin="round"/><path d="M384.9,749.2 Q383.9,750.4 382.3,749.4 Q382.5,751 381.7,752 Q381.8,753.5 383.8,753.6 Q385.3,753.9 385.3,755.7 Q383.8,756.3 384.1,758 Q384.1,759.6 385.2,760.3" fill="none" stroke="#1e2a6a" stroke-width="1" stroke-linecap="round" stroke-linejoin="round"/><path d="M371.2,744.9 Q372.2,746.2 372.7,747.1 Q373.2,745.6 373.9,744.8 Q374.4,746.2 373.7,747.3 Q375.1,746.9 375.8,748.8 Q376.8,749.9 375.9,751.4 Q375.2,752.7 375.9,754" fill="none" stroke="#1e2a6a" stroke-width="1" stroke-linecap="round" stroke-linejoin="round"/><path d="M409.2,761.5 Q410.2,760.3 411.3,760 Q412.8,759.6 413.6,761.3 Q415.1,761.5 416.2,761.6 Q415.7,760.1 414.6,759.5 Q413.5,758.4 412,759.3 Q410.8,760.3 409.7,760.6" fill="none" stroke="#1e2a6a" stroke-width="1" stroke-linecap="round" stroke-linejoin="round"/><path d="M411.9,764.3 Q412.2,765.8 410.7,766.6 Q409.3,767.4 409.6,769 Q408.1,768.6 408.1,766.9 Q407.1,765.7 408,764.3 Q406.5,763.8 406.5,762.2 Q405,761.8 403.9,762.2" fill="none" stroke="#1e2a6a" stroke-width="1" stroke-linecap="round" stroke-linejoin="round"/><path d="M392,780.2 L381,767.6" stroke="#3e7ca3" stroke-width="4.6" stroke-linecap="round"/><path d="M392,780.2 L381,767.6" stroke="#5ab2ea" stroke-width="2.9" stroke-linecap="round"/><path d="M357.8,766.8 L342.4,753.2" stroke="#3e7ca3" stroke-width="4.6" stroke-linecap="round"/><path d="M357.8,766.8 L342.4,753.2" stroke="#5ab2ea" stroke-width="2.9" stroke-linecap="round"/><path d="M369.5,769.2 L352.4,754.8" stroke="#3e7ca3" stroke-width="4.6" stroke-linecap="round"/><path d="M369.5,769.2 L352.4,754.8" stroke="#5ab2ea" stroke-width="2.9" stroke-linecap="round"/><path d="M384.7,785.1 L363.8,767" stroke="#3e7ca3" stroke-width="4.6" stroke-linecap="round"/><path d="M384.7,785.1 L363.8,767" stroke="#5ab2ea" stroke-width="2.9" stroke-linecap="round"/><path d="M381.5,752.4 L365.4,735.8" stroke="#3e7ca3" stroke-width="4.6" stroke-linecap="round"/><path d="M381.5,752.4 L365.4,735.8" stroke="#5ab2ea" stroke-width="2.9" stroke-linecap="round"/><path d="M390,769.3 L368,754.8" stroke="#3e7ca3" stroke-width="4.6" stroke-linecap="round"/><path d="M390,769.3 L368,754.8" stroke="#5ab2ea" stroke-width="2.9" stroke-linecap="round"/><path d="M362.2,775.2 L349.8,753.5" stroke="#3e7ca3" stroke-width="4.6" stroke-linecap="round"/><path d="M362.2,775.2 L349.8,753.5" stroke="#5ab2ea" stroke-width="2.9" stroke-linecap="round"/><path d="M382.2,774.7 L366.4,779.2" stroke="#3e7ca3" stroke-width="4.2" stroke-linecap="round"/><path d="M382.2,774.7 L366.4,779.2" stroke="#5ab2ea" stroke-width="2.6" stroke-linecap="round"/><path d="M345.2,758.6 L333.7,760.6" stroke="#3e7ca3" stroke-width="4.2" stroke-linecap="round"/><path d="M345.2,758.6 L333.7,760.6" stroke="#5ab2ea" stroke-width="2.6" stroke-linecap="round"/><path d="M395.2,759.5 L384.6,754" stroke="#3e7ca3" stroke-width="4.2" stroke-linecap="round"/><path d="M395.2,759.5 L384.6,754" stroke="#5ab2ea" stroke-width="2.6" stroke-linecap="round"/><path d="M362.4,772.4 L351.9,770.5" stroke="#3e7ca3" stroke-width="4.2" stroke-linecap="round"/><path d="M362.4,772.4 L351.9,770.5" stroke="#5ab2ea" stroke-width="2.6" stroke-linecap="round"/><path d="M361.3,767.8 L349.4,772.7" stroke="#3e7ca3" stroke-width="4.2" stroke-linecap="round"/><path d="M361.3,767.8 L349.4,772.7" stroke="#5ab2ea" stroke-width="2.6" stroke-linecap="round"/><path d="M363.1,753.5 L354,749.2" stroke="#3e7ca3" stroke-width="4.2" stroke-linecap="round"/><path d="M363.1,753.5 L354,749.2" stroke="#5ab2ea" stroke-width="2.6" stroke-linecap="round"/><path d="M361.1,759.6 L348.2,753.1" stroke="#3e7ca3" stroke-width="4.2" stroke-linecap="round"/><path d="M361.1,759.6 L348.2,753.1" stroke="#5ab2ea" stroke-width="2.6" stroke-linecap="round"/><path d="M396,749.8 L380.1,757.1" stroke="#3e7ca3" stroke-width="4.2" stroke-linecap="round"/><path d="M396,749.8 L380.1,757.1" stroke="#5ab2ea" stroke-width="2.6" stroke-linecap="round"/><path d="M375.1,766.9 L363.9,771" stroke="#3e7ca3" stroke-width="4.2" stroke-linecap="round"/><path d="M375.1,766.9 L363.9,771" stroke="#5ab2ea" stroke-width="2.6" stroke-linecap="round"/><path d="M353.3,745.1 L344.4,747.6" stroke="#3e7ca3" stroke-width="4.2" stroke-linecap="round"/><path d="M353.3,745.1 L344.4,747.6" stroke="#5ab2ea" stroke-width="2.6" stroke-linecap="round"/><path d="M521.1,752.7 Q519.5,752.3 519.3,750.6 Q518.1,749.4 516.7,749.5 Q517.2,747.9 516.9,746.7 Q517.6,745.2 518.6,744.5 Q516.9,744.9 516.9,746.7 Q515.4,747.6 514.8,748.7 Q513.2,748.5 512,748.7 Q512.9,750.1 514.4,750.1" fill="none" stroke="#7a9ab0" stroke-width="0.6" stroke-linecap="round" stroke-linejoin="round"/><path d="M512.2,752 Q513.5,751 513.3,749.4 Q514.8,748.8 515.1,747.3 Q514.5,748.9 514.8,750.1 Q516.5,750.1 517.5,751.1 Q519.1,750.9 519.2,748.9 Q520.9,748.8 521.3,747.1 Q522.9,747.6 524.1,746.5 Q525.5,747.4 526.9,746.2" fill="none" stroke="#7a9ab0" stroke-width="0.6" stroke-linecap="round" stroke-linejoin="round"/><path d="M529.2,781 Q530.3,782.2 530.4,783.5 Q531.7,784.6 533,784.5 Q532.7,786.2 534.7,786.7 Q536,785.8 537.5,786.6 Q539.1,786.5 540.1,785.8 Q541.6,786.5 542.6,787 Q544.3,787.3 544.8,788.8 Q546.5,788.6 547.6,788.3" fill="none" stroke="#7a9ab0" stroke-width="0.6" stroke-linecap="round" stroke-linejoin="round"/><path d="M493.8,773 Q493.7,771.3 492.1,770.8 Q493.2,769.5 491.7,768 Q493.4,768.2 493.8,766.1 Q495.1,767.2 496.5,766.9 Q497.3,768.3 498.1,769.2 Q496.7,770 497.6,771.9 Q497,773.5 498.2,774.6 Q498.6,776.3 497.6,777.4" fill="none" stroke="#7a9ab0" stroke-width="0.6" stroke-linecap="round" stroke-linejoin="round"/><path d="M490.5,757.7 Q492.1,757.2 492.9,756.3 Q493.3,754.7 495,754.5 Q496.4,755.5 495.6,757.2 Q494,757.7 493.2,758.6 Q493,760.3 493.3,761.4 Q493.2,763.1 492.1,764 Q490.7,764.9 489.4,764.7 Q489.9,766.3 489.6,767.4" fill="none" stroke="#7a9ab0" stroke-width="0.6" stroke-linecap="round" stroke-linejoin="round"/><path d="M516.2,747.2 Q517.2,748.6 517.5,749.7 Q518.9,748.8 520.3,749.8 Q520.9,748.2 522.6,748.2 Q523.8,747 522.4,745.4 Q522.6,747.1 524.4,747.3 Q526.1,747.4 527.2,746.8 Q528.8,747.1 530,746.7 Q528.4,747.3 527.4,747.9" fill="none" stroke="#7a9ab0" stroke-width="0.6" stroke-linecap="round" stroke-linejoin="round"/><path d="M549.8,784.1 Q551.5,784.2 552.6,784.3 Q551,784.7 549.9,784.6 Q548.2,784.4 547.5,783.1 Q546.2,782.1 547.3,780.3 Q546.7,778.8 546.8,777.6 Q545.2,777.3 544.1,776.8 Q542.8,777.8 541.9,778.5 Q540.2,778.2 539.1,778.2" fill="none" stroke="#7a9ab0" stroke-width="0.6" stroke-linecap="round" stroke-linejoin="round"/><path d="M538.1,760.3 Q538.4,758.7 540,758.3 Q541.3,757.2 542.6,757.1 Q544.2,757.4 545,758.4 Q546.3,759.5 545.4,761.2 Q544.1,762.2 543.7,763.4 Q543.1,761.8 541.1,762.4 Q539.4,762.4 538.5,763.4 Q537.2,762.4 536.4,761.5" fill="none" stroke="#7a9ab0" stroke-width="0.6" stroke-linecap="round" stroke-linejoin="round"/><path d="M492.5,773.6 Q491.7,772.1 490.2,772 Q491,770.5 490.3,769.2 Q491.1,767.7 490.7,766.4 Q492.3,765.8 493.5,765.9 Q493.5,764.2 495,763.5 Q493.6,762.6 493.3,761.3 Q492.2,760 491.9,758.9 Q491.5,760.5 492.6,761.6" fill="none" stroke="#7a9ab0" stroke-width="0.6" stroke-linecap="round" stroke-linejoin="round"/><path d="M514.4,765.8 Q512.7,765.6 511.7,765.1 Q510.2,765.8 510.5,767.7 Q510.2,769.3 510.1,770.4 Q508.4,770.6 507.3,770.6 Q505.7,771.2 504.5,770.3 Q505,768.7 504.2,767.5 Q505.5,766.4 506.9,766.5 Q508,765.3 507.6,763.8" fill="none" stroke="#7a9ab0" stroke-width="0.6" stroke-linecap="round" stroke-linejoin="round"/><path d="M495.4,782.3 Q496.8,781.3 496.6,779.8 Q495.8,778.3 496.4,777 Q495.9,775.4 494,775.5 Q492.4,776.2 491.4,774.5 Q490,773.5 489.4,772.5 Q490.4,771.2 490.8,770.1 Q491.6,768.6 493,768.4 Q491.7,767.3 492.3,765.6" fill="none" stroke="#7a9ab0" stroke-width="0.6" stroke-linecap="round" stroke-linejoin="round"/><path d="M501.1,781.3 Q501,779.6 500.1,778.7 Q498.6,779.6 497.3,778.5 Q496.2,779.7 494.7,779.4 Q494.6,781.1 493,781.7 Q492.8,783.4 494.8,783.8 Q495.6,782.3 497.4,782.6 Q499,782.2 499.6,780.9 Q501.2,781.2 502.3,780.1" fill="none" stroke="#7a9ab0" stroke-width="0.6" stroke-linecap="round" stroke-linejoin="round"/><path d="M517.9,766.1 Q517.2,767.6 516.2,768.3 Q516.4,769.9 515.3,770.9 Q515.8,772.5 517,773.1 Q518.1,771.8 519.8,772.7 Q520.5,771.2 522.2,771.3 Q523.3,770 523.6,768.9 Q524.6,767.5 526.4,768.3 Q526.2,766.7 527.2,765.7" fill="none" stroke="#7a9ab0" stroke-width="0.6" stroke-linecap="round" stroke-linejoin="round"/><path d="M550.2,768.8 Q551,767.3 549.8,766 Q551.2,765 550.9,763.4 Q550,762.1 550.4,760.7 Q551.3,759.3 550.6,757.9 Q550.2,759.5 550.5,760.7 Q550.7,762.4 552.9,762.3 Q554.4,763 554.1,764.8 Q554.9,766.3 553.2,767.4" fill="none" stroke="#7a9ab0" stroke-width="0.6" stroke-linecap="round" stroke-linejoin="round"/><g transform="translate(468,772) rotate(-17.1)" fill="none" stroke-linecap="round"><path d="M2,-2.4 V2.4M3.4,-2.9 V2.9M4.8,-2.4 V2.4M8.8,-2.4 V2.4M10.2,-2.9 V2.9M11.6,-2.4 V2.4M15.6,-2.4 V2.4M17,-2.9 V2.9M18.4,-2.4 V2.4M22.4,-2.4 V2.4M23.8,-2.9 V2.9M25.2,-2.4 V2.4" stroke="#9b1949" stroke-width="0.6"/><path d="M0,0 Q3.4,6.4 6.8,0 Q10.2,-6.4 13.6,0 Q17,6.4 20.4,0 Q23.8,-6.4 27.2,0" stroke="#c2205c" stroke-width="1.3"/><path d="M0,0 Q3.4,-6.4 6.8,0 Q10.2,6.4 13.6,0 Q17,-6.4 20.4,0 Q23.8,6.4 27.2,0" stroke="#60c0b0" stroke-width="1.3"/></g><path d="M505,777.5 Q503.6,777.1 502.9,778.7 Q502.5,780.1 502.8,781.1 Q502.7,782.5 503.4,783.4 Q502.2,784.2 502.8,785.8 Q503.4,787.1 503.4,788.1 Q502.9,786.7 503.9,785.7 Q502.7,784.8 503.7,783.3" fill="none" stroke="#3c9a60" stroke-width="0.8" stroke-linecap="round" stroke-linejoin="round"/><path d="M507.9,778.3 Q509.3,778.7 510.2,778 Q509.5,776.7 510.7,775.6 Q511.8,774.7 512.4,773.9 Q513.7,774.5 514.8,773.8 Q516.2,773.6 517,772.8 Q517,771.3 516.3,770.5 Q515.1,769.6 515.2,768.4" fill="none" stroke="#3c9a60" stroke-width="0.8" stroke-linecap="round" stroke-linejoin="round"/><path d="M508.6,766.4 Q509.9,767.1 510.7,767.5 Q511.9,766.6 513,766.7 Q511.6,767 510.6,766.4 Q511.2,767.7 510.6,768.8 Q511,770.2 512.1,770.7 Q512.9,771.9 513.4,772.7 Q514.1,774 514.4,774.9" fill="none" stroke="#3c9a60" stroke-width="0.8" stroke-linecap="round" stroke-linejoin="round"/><path d="M506.6,788.8 Q507.5,787.7 507.3,786.5 Q507.9,785.3 506.7,784.2 Q507.4,782.9 506.4,781.8 Q506.4,780.4 507.3,779.6 Q508.5,778.8 509.5,778.6 Q509.9,780 511.5,780 Q511.6,781.4 512.6,782.1" fill="none" stroke="#3c9a60" stroke-width="0.8" stroke-linecap="round" stroke-linejoin="round"/><path d="M504.2,767 Q504.3,768.4 503.3,769.2 Q502,769.9 501.2,770.4 Q502.3,771.3 501.5,772.7 Q502.8,773.4 503.5,774.1 Q504.9,773.8 505.6,775.2 Q506,776.6 507.6,776.5 Q506.9,777.8 507.1,778.8" fill="none" stroke="#3c9a60" stroke-width="0.8" stroke-linecap="round" stroke-linejoin="round"/><path d="M514.8,774.4 Q513.7,773.5 512.6,773.5 Q511.7,774.6 510.5,774.6 Q509.8,775.9 510,777 Q511.4,777.3 512.1,778 Q512.4,779.4 514.1,779.4 Q514.8,780.7 513.4,781.7 Q513.7,783.2 512.5,784" fill="none" stroke="#3c9a60" stroke-width="0.8" stroke-linecap="round" stroke-linejoin="round"/><path d="M518.6,778.7 Q517.7,777.5 516.2,778.1 Q515.7,779.5 514.6,779.9 Q513.2,779.9 512.3,779.6 Q510.9,779.1 509.9,780.2 Q509.5,778.8 507.8,779.1 Q507.9,777.7 506.2,777.3 Q507.4,776.5 506.9,775" fill="none" stroke="#3c9a60" stroke-width="0.8" stroke-linecap="round" stroke-linejoin="round"/><path d="M509.6,788.9 Q508.2,789.3 507.3,789.8 Q507.1,788.4 506,787.8 Q504.9,786.9 503.9,786.6 Q503.7,785.2 504.2,784.2 Q502.7,784.4 501.9,783.4 Q500.5,783.9 499.7,784.3 Q498.2,784.4 497.3,784.1" fill="none" stroke="#3c9a60" stroke-width="0.8" stroke-linecap="round" stroke-linejoin="round"/><path d="M514.6,773.4 Q513.5,774.4 512.2,773.8 Q511.5,772.5 510.1,772.7 Q511,771.6 510.7,770.4 Q509.2,770.5 508.7,769 Q508.1,770.3 506.4,769.9 Q505,769.9 504.1,770.4 Q502.7,770.5 502.2,771.9" fill="none" stroke="#3c9a60" stroke-width="0.8" stroke-linecap="round" stroke-linejoin="round"/><path d="M511.4,788.5 Q510,788.6 509,788.9 Q507.8,788.2 507.6,787 Q506.7,785.8 507.8,784.6 Q506.7,783.6 507.5,782.2 Q506.7,781 505.3,781.4 Q505.4,779.9 504.1,779.3 Q503,778.4 503.2,777.1" fill="none" stroke="#3c9a60" stroke-width="0.8" stroke-linecap="round" stroke-linejoin="round"/><path d="M498.8,771 Q497.5,770.4 496.4,771.5 Q495.1,770.8 494,771.6 Q494.9,770.4 496.4,771.5 Q496.2,772.9 497.5,773.6 Q497.8,775 497.8,776 Q497.3,777.3 498.9,778.1 Q500.2,778.8 500.1,780.2" fill="none" stroke="#3c9a60" stroke-width="0.8" stroke-linecap="round" stroke-linejoin="round"/><path d="M512.3,767.5 Q511.5,766.3 512.9,765.2 Q513.3,766.5 513.5,767.5 Q512.8,768.8 511.5,768.9 Q510.6,770 509.1,769.1 Q507.9,768.4 506.9,768.3 Q505.6,768.8 504.5,768.6 Q503.5,769.6 503.8,770.9" fill="none" stroke="#3c9a60" stroke-width="0.8" stroke-linecap="round" stroke-linejoin="round"/><path d="M510.6,766.3 Q511.7,767.2 513,766.2 Q514.3,766.7 514.5,768.1 Q515.6,769 515.5,770.2 Q515.6,771.7 515.5,772.6 Q514.2,773.3 513.6,774.1 Q513.9,775.5 514,776.5 Q515.1,777.4 516.4,776.7" fill="none" stroke="#3c9a60" stroke-width="0.8" stroke-linecap="round" stroke-linejoin="round"/><path d="M514.4,768.1 Q513,768.4 512.8,769.9 Q511.9,771 511.9,772.1 Q512.3,773.5 511,774.3 Q510.2,775.6 509.9,776.5 Q509.5,777.9 508.9,778.7 Q507.6,779.4 506.5,779.3 Q505.9,780.6 504.9,781" fill="none" stroke="#3c9a60" stroke-width="0.8" stroke-linecap="round" stroke-linejoin="round"/><path d="M505.4,788.8 Q505.6,787.4 506.5,786.6 Q506.4,785.2 506.3,784.2 Q507.7,783.8 507.7,782.3 Q509.2,782.5 510.1,782.5 Q510,781.1 511.1,780.3 Q512.4,780.8 513.5,780.2 Q514.8,779.6 515.5,778.9" fill="none" stroke="#3c9a60" stroke-width="0.8" stroke-linecap="round" stroke-linejoin="round"/><path d="M507.9,773.2 Q508.4,771.9 509.6,771.5 Q509.8,770.1 509.7,769.1 Q508.5,768.5 509.1,766.8 Q507.8,767.2 506.8,766.2 Q505.6,767 505.1,767.9 Q505.7,769.2 505.7,770.2 Q507.1,770.3 507.7,771.6" fill="none" stroke="#3c9a60" stroke-width="0.8" stroke-linecap="round" stroke-linejoin="round"/><path d="M544,745.2 Q545.5,745.1 546,743.9 Q546.5,742.5 548.3,743 Q547.7,741.7 546,742.2 Q547.3,742.8 548.3,743 Q547.7,744.3 546,743.7 Q547.4,743.8 548.2,744.7" fill="none" stroke="#3c9a60" stroke-width="0.8" stroke-linecap="round" stroke-linejoin="round"/><path d="M538.4,745.8 Q537.5,746.9 536.4,747.1 Q536.2,748.5 535.5,749.3 Q535.5,750.7 535.3,751.7 Q536.3,752.7 537.5,752.5 Q538.6,751.6 539,750.6 Q538.2,749.4 537.6,748.7" fill="none" stroke="#3c9a60" stroke-width="0.8" stroke-linecap="round" stroke-linejoin="round"/><path d="M549.4,750.1 Q548.1,750.7 547.1,750.8 Q545.7,751 545.3,752.3 Q544.5,753.5 543.3,753.7 Q542,753.2 540.9,753.6 Q540.6,752.2 539.2,752 Q537.8,751.8 536.8,752" fill="none" stroke="#3c9a60" stroke-width="0.8" stroke-linecap="round" stroke-linejoin="round"/><path d="M532.1,744.5 Q533.4,745.1 534.1,745.9 Q535.2,745.1 535.8,744.3 Q537.2,743.9 537.9,745.4 Q539.3,745.3 539.7,743.8 Q540.8,742.9 542.1,744.2 Q541,745.1 540.9,746.3" fill="none" stroke="#3c9a60" stroke-width="0.8" stroke-linecap="round" stroke-linejoin="round"/><path d="M547.6,743.9 Q548.6,744.9 548.1,746.3 Q548.3,747.7 548.8,748.6 Q547.5,749.2 547.6,750.6 Q546.2,750.7 545.3,749.9 Q545.3,748.4 545.5,747.5 Q545.8,746.1 547,745.6" fill="none" stroke="#3c9a60" stroke-width="0.8" stroke-linecap="round" stroke-linejoin="round"/><path d="M536.2,752.7 Q534.8,752.2 534.5,751 Q534.5,749.6 534,748.7 Q534.3,747.2 534.3,746.3 Q534,744.9 533.3,744.1 Q532.7,745.4 532.6,746.4 Q533.9,745.7 533.6,744.2" fill="none" stroke="#3c9a60" stroke-width="0.8" stroke-linecap="round" stroke-linejoin="round"/><path d="M542,779.4 Q543.1,780.4 542.4,781.8 Q543.2,783 541.9,784.1 Q541.3,785.4 541.8,786.5 Q542.3,787.9 543.9,787.7 Q543.9,786.3 545.6,786.1" fill="none" stroke="#e0a8e0" stroke-width="1.0" stroke-linecap="round" stroke-linejoin="round"/><path d="M555.1,783.5 Q554,784.3 552.8,784.1 Q551.9,785.2 550.4,784.4 Q549.1,784.9 548.1,783.9 Q546.9,783 546.1,782.5 Q545.8,783.9 544,783.6" fill="none" stroke="#e0a8e0" stroke-width="1.0" stroke-linecap="round" stroke-linejoin="round"/><path d="M551.3,776.8 Q552.7,777 553.7,776.9 Q553.4,778.3 552.1,778.7 Q553.6,778.8 553.6,780.6 Q553.4,782.1 553.2,783 Q552.1,784 550.9,783.6" fill="none" stroke="#e0a8e0" stroke-width="1.0" stroke-linecap="round" stroke-linejoin="round"/><path d="M548.5,777.4 Q549.3,778.6 550.4,778.8 Q551.8,779.3 552.8,779.3 Q554,778.6 555.1,779.8 Q554.3,781 554.7,782.2 Q555.5,783.4 554.5,784.6" fill="none" stroke="#e0a8e0" stroke-width="1.0" stroke-linecap="round" stroke-linejoin="round"/><path d="M542.5,786.3 Q542.9,784.9 543.6,784.2 Q544.9,783.5 545,782.2 Q546.4,782.1 547.4,782.4 Q548.6,783.2 549.8,782.6 Q551.2,782.3 552,783.3" fill="none" stroke="#e0a8e0" stroke-width="1.0" stroke-linecap="round" stroke-linejoin="round"/><path d="M548.4,782.8 Q547.5,784 546.8,784.6 Q545.4,784.3 544.7,785.7 Q543.3,785.4 542.9,784.1 Q542.7,782.7 541.8,782 Q542.8,780.9 542.5,779.7" fill="none" stroke="#e0a8e0" stroke-width="1.0" stroke-linecap="round" stroke-linejoin="round"/><path d="M516.4,749.9 L507.2,751.2" stroke="#6a479e" stroke-width="3.4" stroke-linecap="round"/><path d="M516.4,749.9 L507.2,751.2" stroke="#9866e2" stroke-width="2.1" stroke-linecap="round"/><path d="M502.1,764.7 L496.9,756.2" stroke="#6a479e" stroke-width="3.4" stroke-linecap="round"/><path d="M502.1,764.7 L496.9,756.2" stroke="#9866e2" stroke-width="2.1" stroke-linecap="round"/><path d="M501.5,760.2 L494.4,762.9" stroke="#6a479e" stroke-width="3.4" stroke-linecap="round"/><path d="M501.5,760.2 L494.4,762.9" stroke="#9866e2" stroke-width="2.1" stroke-linecap="round"/><path d="M499.9,756.5 L492.9,756.9" stroke="#6a479e" stroke-width="3.4" stroke-linecap="round"/><path d="M499.9,756.5 L492.9,756.9" stroke="#9866e2" stroke-width="2.1" stroke-linecap="round"/><path d="M507.6,755 L498.8,756.7" stroke="#6a479e" stroke-width="3.4" stroke-linecap="round"/><path d="M507.6,755 L498.8,756.7" stroke="#9866e2" stroke-width="2.1" stroke-linecap="round"/><path d="M519.6,752.4 L513.8,746.2" stroke="#6a479e" stroke-width="3.4" stroke-linecap="round"/><path d="M519.6,752.4 L513.8,746.2" stroke="#9866e2" stroke-width="2.1" stroke-linecap="round"/><path d="M519.6,755.7 L510.3,760.3" stroke="#6a479e" stroke-width="3.4" stroke-linecap="round"/><path d="M519.6,755.7 L510.3,760.3" stroke="#9866e2" stroke-width="2.1" stroke-linecap="round"/><path d="M519.6,753 L510.3,758.2" stroke="#6a479e" stroke-width="3.4" stroke-linecap="round"/><path d="M519.6,753 L510.3,758.2" stroke="#9866e2" stroke-width="2.1" stroke-linecap="round"/><path d="M507.2,760.3 L500.7,757.6" stroke="#6a479e" stroke-width="3.4" stroke-linecap="round"/><path d="M507.2,760.3 L500.7,757.6" stroke="#9866e2" stroke-width="2.1" stroke-linecap="round"/><path d="M540.1,777.4 L536,766.3" stroke="#151d4a" stroke-width="3.2" stroke-linecap="round"/><path d="M540.1,777.4 L536,766.3" stroke="#1e2a6a" stroke-width="2" stroke-linecap="round"/><path d="M532.6,789.1 L524.7,781.8" stroke="#151d4a" stroke-width="3.2" stroke-linecap="round"/><path d="M532.6,789.1 L524.7,781.8" stroke="#1e2a6a" stroke-width="2" stroke-linecap="round"/><path d="M546.4,791.8 L543.4,784" stroke="#151d4a" stroke-width="3.2" stroke-linecap="round"/><path d="M546.4,791.8 L543.4,784" stroke="#1e2a6a" stroke-width="2" stroke-linecap="round"/><path d="M544.3,777.1 L539.7,773.2" stroke="#151d4a" stroke-width="3.2" stroke-linecap="round"/><path d="M544.3,777.1 L539.7,773.2" stroke="#1e2a6a" stroke-width="2" stroke-linecap="round"/><path d="M541.9,797.8 L545,786.4" stroke="#151d4a" stroke-width="3.2" stroke-linecap="round"/><path d="M541.9,797.8 L545,786.4" stroke="#1e2a6a" stroke-width="2" stroke-linecap="round"/><path d="M538.3,790.4 L539.7,783.9" stroke="#151d4a" stroke-width="3.2" stroke-linecap="round"/><path d="M538.3,790.4 L539.7,783.9" stroke="#1e2a6a" stroke-width="2" stroke-linecap="round"/><path d="M550.4,797.9 L545,790.9" stroke="#151d4a" stroke-width="3.2" stroke-linecap="round"/><path d="M550.4,797.9 L545,790.9" stroke="#1e2a6a" stroke-width="2" stroke-linecap="round"/><path d="M547,774.8 L540.9,770.4" stroke="#151d4a" stroke-width="3.2" stroke-linecap="round"/><path d="M547,774.8 L540.9,770.4" stroke="#1e2a6a" stroke-width="2" stroke-linecap="round"/><path d="M526.8,794.1 L528.2,784.9" stroke="#871733" stroke-width="3.2" stroke-linecap="round"/><path d="M526.8,794.1 L528.2,784.9" stroke="#c2224a" stroke-width="2" stroke-linecap="round"/><path d="M542.5,793.7 L544.8,779.7" stroke="#871733" stroke-width="3.2" stroke-linecap="round"/><path d="M542.5,793.7 L544.8,779.7" stroke="#c2224a" stroke-width="2" stroke-linecap="round"/><path d="M524.3,776 L525.2,763.6" stroke="#871733" stroke-width="3.2" stroke-linecap="round"/><path d="M524.3,776 L525.2,763.6" stroke="#c2224a" stroke-width="2" stroke-linecap="round"/><path d="M544.6,766.9 L536.9,761.8" stroke="#871733" stroke-width="3.2" stroke-linecap="round"/><path d="M544.6,766.9 L536.9,761.8" stroke="#c2224a" stroke-width="2" stroke-linecap="round"/><path d="M530,766.3 L520.8,762.6" stroke="#871733" stroke-width="3.2" stroke-linecap="round"/><path d="M530,766.3 L520.8,762.6" stroke="#c2224a" stroke-width="2" stroke-linecap="round"/><path d="M546.5,774.1 L540.9,767.2" stroke="#871733" stroke-width="3.2" stroke-linecap="round"/><path d="M546.5,774.1 L540.9,767.2" stroke="#c2224a" stroke-width="2" stroke-linecap="round"/><path d="M544.6,763.1 L532.6,756.8" stroke="#871733" stroke-width="3.2" stroke-linecap="round"/><path d="M544.6,763.1 L532.6,756.8" stroke="#c2224a" stroke-width="2" stroke-linecap="round"/><path d="M556.9,775.3 L546.4,765.8" stroke="#871733" stroke-width="3.2" stroke-linecap="round"/><path d="M556.9,775.3 L546.4,765.8" stroke="#c2224a" stroke-width="2" stroke-linecap="round"/><path d="M544.9,787.8 L536.8,784.3" stroke="#871733" stroke-width="3.2" stroke-linecap="round"/><path d="M544.9,787.8 L536.8,784.3" stroke="#c2224a" stroke-width="2" stroke-linecap="round"/><path d="M531.9,790.1 L524.6,779.8" stroke="#871733" stroke-width="3.2" stroke-linecap="round"/><path d="M531.9,790.1 L524.6,779.8" stroke="#c2224a" stroke-width="2" stroke-linecap="round"/><path d="M546.5,799.5 L547.2,785.3" stroke="#871733" stroke-width="3.2" stroke-linecap="round"/><path d="M546.5,799.5 L547.2,785.3" stroke="#c2224a" stroke-width="2" stroke-linecap="round"/><path d="M512,773.6 L508.2,759.5" stroke="#3976a3" stroke-width="4.2" stroke-linecap="round"/><path d="M512,773.6 L508.2,759.5" stroke="#52aaea" stroke-width="2.6" stroke-linecap="round"/><path d="M513.7,789 L511.4,773.8" stroke="#3976a3" stroke-width="4.2" stroke-linecap="round"/><path d="M513.7,789 L511.4,773.8" stroke="#52aaea" stroke-width="2.6" stroke-linecap="round"/><path d="M537.8,789.1 L519.5,771.2" stroke="#3976a3" stroke-width="4.2" stroke-linecap="round"/><path d="M537.8,789.1 L519.5,771.2" stroke="#52aaea" stroke-width="2.6" stroke-linecap="round"/><path d="M534.8,782.6 L523,769.7" stroke="#3976a3" stroke-width="4.2" stroke-linecap="round"/><path d="M534.8,782.6 L523,769.7" stroke="#52aaea" stroke-width="2.6" stroke-linecap="round"/><path d="M517.3,767.4 L507.2,751.7" stroke="#3976a3" stroke-width="4.2" stroke-linecap="round"/><path d="M517.3,767.4 L507.2,751.7" stroke="#52aaea" stroke-width="2.6" stroke-linecap="round"/><path d="M521.5,789.4 L520.7,775.1" stroke="#3976a3" stroke-width="4.2" stroke-linecap="round"/><path d="M521.5,789.4 L520.7,775.1" stroke="#52aaea" stroke-width="2.6" stroke-linecap="round"/><path d="M517.8,757.6 L507.8,758.9" stroke="#3976a3" stroke-width="3.8" stroke-linecap="round"/><path d="M517.8,757.6 L507.8,758.9" stroke="#52aaea" stroke-width="2.4" stroke-linecap="round"/><path d="M514.7,751.4 L503.5,753.3" stroke="#3976a3" stroke-width="3.8" stroke-linecap="round"/><path d="M514.7,751.4 L503.5,753.3" stroke="#52aaea" stroke-width="2.4" stroke-linecap="round"/><path d="M538.8,762.8 L529.4,765.1" stroke="#3976a3" stroke-width="3.8" stroke-linecap="round"/><path d="M538.8,762.8 L529.4,765.1" stroke="#52aaea" stroke-width="2.4" stroke-linecap="round"/><path d="M511.6,755.2 L504.2,761.4" stroke="#3976a3" stroke-width="3.8" stroke-linecap="round"/><path d="M511.6,755.2 L504.2,761.4" stroke="#52aaea" stroke-width="2.4" stroke-linecap="round"/><path d="M532.9,752.8 L521.5,756.5" stroke="#3976a3" stroke-width="3.8" stroke-linecap="round"/><path d="M532.9,752.8 L521.5,756.5" stroke="#52aaea" stroke-width="2.4" stroke-linecap="round"/><path d="M534.2,769.8 L525.2,763.7" stroke="#3976a3" stroke-width="3.8" stroke-linecap="round"/><path d="M534.2,769.8 L525.2,763.7" stroke="#52aaea" stroke-width="2.4" stroke-linecap="round"/><path d="M533.6,758.4 L524.4,762.3" stroke="#3976a3" stroke-width="3.8" stroke-linecap="round"/><path d="M533.6,758.4 L524.4,762.3" stroke="#52aaea" stroke-width="2.4" stroke-linecap="round"/><text x="433.3" y="776.8" font-size="20" fill="#111" textLength="25.5" lengthAdjust="spacingAndGlyphs">vs.</text><path d="M353.4,951 Q343.9,920.9 337.6,890.7 M353.9,951 Q348,917.9 344.4,884.7 M354.4,951 Q351.1,920.1 348.9,889.2 M354.9,951 Q354.1,918.6 353.4,886.2 M355.4,951 Q357.6,921.6 358.7,892.2 M355.9,951 Q361,918.6 363.9,886.2 M356.4,951 Q363.7,919.4 367.7,887.7 " stroke="#9aa45a" stroke-width="0.8" fill="none"/><path d="M347.4,907.5 C346,900 343,896 340.5,897.5 C338,899.5 337.5,903 338,906 M351.5,932 C344,922 336,912 327,907.5 M350.6,935 C344,930 337,923 332.5,916.5 M360,908 C361,900 364,897 366.5,899 C368.5,901 368.5,905 368,908 M358.7,925.5 C361,918 364,912 366.2,910.5 C368.5,913 370.5,918 371.5,923 M360.2,913.5 C365,907 370,900 373,892.5 M355.8,947.2 C360,947 364,946 367,945 M354,946 C351,945 349,945.5 346.5,945" stroke="#56682c" stroke-width="1.3" fill="none" stroke-linecap="round"/><path d="M354.9,951 L353.5,930 M354.9,951 L356,930" stroke="#6a7a34" stroke-width="1.1" fill="none"/><ellipse cx="333.5" cy="875.8" rx="3.4" ry="17.5" transform="rotate(-16.6 333.5 876.8)" fill="#f4ecc0" opacity="0.55"/><ellipse cx="333.5" cy="876.8" rx="1.45" ry="14.5" transform="rotate(-16.6 333.5 876.8)" fill="#e6c43a"/><ellipse cx="340.2" cy="866" rx="3.4" ry="21.2" transform="rotate(-13.2 340.2 867)" fill="#f4ecc0" opacity="0.55"/><ellipse cx="340.2" cy="867" rx="1.45" ry="18.2" transform="rotate(-13.2 340.2 867)" fill="#e6c43a"/><ellipse cx="347.8" cy="873.5" rx="3.4" ry="17.7" transform="rotate(-4.5 347.8 874.5)" fill="#f4ecc0" opacity="0.55"/><ellipse cx="347.8" cy="874.5" rx="1.45" ry="14.7" transform="rotate(-4.5 347.8 874.5)" fill="#e6c43a"/><ellipse cx="353.4" cy="869.4" rx="3.4" ry="18.8" transform="rotate(0 353.4 870.4)" fill="#f4ecc0" opacity="0.55"/><ellipse cx="353.4" cy="870.4" rx="1.45" ry="15.8" transform="rotate(0 353.4 870.4)" fill="#e6c43a"/><ellipse cx="358.3" cy="876.5" rx="3.4" ry="17.7" transform="rotate(-1.6 358.3 877.5)" fill="#f4ecc0" opacity="0.55"/><ellipse cx="358.3" cy="877.5" rx="1.45" ry="14.7" transform="rotate(-1.6 358.3 877.5)" fill="#e6c43a"/><ellipse cx="365.4" cy="866.8" rx="3.4" ry="21.5" transform="rotate(4.8 365.4 867.8)" fill="#f4ecc0" opacity="0.55"/><ellipse cx="365.4" cy="867.8" rx="1.45" ry="18.5" transform="rotate(4.8 365.4 867.8)" fill="#e6c43a"/><ellipse cx="373.4" cy="869.4" rx="3.4" ry="21.2" transform="rotate(18.1 373.4 870.4)" fill="#f4ecc0" opacity="0.55"/><ellipse cx="373.4" cy="870.4" rx="1.45" ry="18.2" transform="rotate(18.1 373.4 870.4)" fill="#e6c43a"/><path d="M355.4,951 Q362.1,958.6 364.9,971.6 M355.4,951 Q355,961 352.7,961.6 M355.4,951 Q348.8,957.5 347.6,960.3 M355.4,951 Q356.5,961 356.9,966.9 M355.4,951 Q362.6,958 365.1,969.5 M355.4,951 Q361.1,959.3 359.7,960.5 M355.4,951 Q358.1,960.7 358.9,972.5 M355.4,951 Q357.5,960.9 362.9,962.2 M355.4,951 Q362.3,958.3 366.7,965.2 M355.4,951 Q352.2,960.2 352.6,965 M355.4,951 Q352.8,960.5 356,969.4 M355.4,951 Q358.1,960.7 354.5,962.8 M355.4,951 Q352.1,960.2 346,963.7 M355.4,951 Q348.8,957.6 345.2,964.6 M355.4,951 Q351.8,960 348.7,962.5 M355.4,951 Q349.3,958.1 349.9,960.9 M355.4,951 Q359.9,960.1 366.5,966.5 M355.4,951 Q350,958.8 342.9,967.2 " stroke="#c4b8a6" stroke-width="0.5" fill="none"/><path d="M419.5,935.5 L423.2,910.4" stroke="#6a9a48" stroke-width="1.4"/><ellipse cx="423.2" cy="910.4" rx="11.7" ry="7.2" transform="rotate(278.4 423.2 910.4)" fill="#35682a"/><ellipse cx="421.1" cy="909.1" rx="7" ry="3.3" transform="rotate(278.4 421.1 909.1)" fill="#6a9c48" opacity="0.55"/><path d="M419.5,935.5 L410.5,958.1" stroke="#6a9a48" stroke-width="1.4"/><ellipse cx="410.5" cy="958.1" rx="11.3" ry="7" transform="rotate(111.6 410.5 958.1)" fill="#35682a"/><ellipse cx="412.3" cy="959.8" rx="6.8" ry="3.1" transform="rotate(111.6 412.3 959.8)" fill="#6a9c48" opacity="0.55"/><path d="M419.5,935.5 L435.4,952.8" stroke="#6a9a48" stroke-width="1.4"/><ellipse cx="435.4" cy="952.8" rx="11" ry="6.8" transform="rotate(47.5 435.4 952.8)" fill="#35682a"/><ellipse cx="437.6" cy="952.1" rx="6.6" ry="3.1" transform="rotate(47.5 437.6 952.1)" fill="#6a9c48" opacity="0.55"/><path d="M419.5,935.5 L396.7,939.8" stroke="#6a9a48" stroke-width="1.4"/><ellipse cx="396.7" cy="939.8" rx="10.8" ry="6.7" transform="rotate(169.4 396.7 939.8)" fill="#35682a"/><ellipse cx="396.2" cy="942" rx="6.5" ry="3" transform="rotate(169.4 396.2 942)" fill="#6a9c48" opacity="0.55"/><path d="M419.5,935.5 L442.1,935.3" stroke="#6a9a48" stroke-width="1.4"/><ellipse cx="442.1" cy="935.3" rx="10.6" ry="6.6" transform="rotate(-0.6 442.1 935.3)" fill="#35682a"/><ellipse cx="443" cy="933.2" rx="6.4" ry="3" transform="rotate(-0.6 443 933.2)" fill="#6a9c48" opacity="0.55"/><path d="M419.5,935.5 L437.8,923.2" stroke="#6a9a48" stroke-width="1.4"/><ellipse cx="437.8" cy="923.2" rx="10.4" ry="6.5" transform="rotate(325.9 437.8 923.2)" fill="#35682a"/><ellipse cx="437.4" cy="921" rx="6.3" ry="2.9" transform="rotate(325.9 437.4 921)" fill="#6a9c48" opacity="0.55"/><path d="M419.5,935.5 L403,922.9" stroke="#6a9a48" stroke-width="1.4"/><ellipse cx="403" cy="922.9" rx="10" ry="6.2" transform="rotate(217.3 403 922.9)" fill="#35682a"/><ellipse cx="401.1" cy="923.8" rx="6" ry="2.8" transform="rotate(217.3 401.1 923.8)" fill="#6a9c48" opacity="0.55"/><path d="M419.5,935.5 L413,918.2" stroke="#6a9a48" stroke-width="1.4"/><ellipse cx="413" cy="918.2" rx="9.2" ry="5.7" transform="rotate(249.3 413 918.2)" fill="#4f8a38"/><ellipse cx="411" cy="917.9" rx="5.5" ry="2.6" transform="rotate(249.3 411 917.9)" fill="#6a9c48" opacity="0.55"/><path d="M419.5,935.5 L436.4,942.3" stroke="#6a9a48" stroke-width="1.4"/><ellipse cx="436.4" cy="942.3" rx="9.1" ry="5.6" transform="rotate(21.9 436.4 942.3)" fill="#4f8a38"/><ellipse cx="437.9" cy="941.1" rx="5.4" ry="2.5" transform="rotate(21.9 437.9 941.1)" fill="#6a9c48" opacity="0.55"/><path d="M419.5,935.5 L429,920.8" stroke="#6a9a48" stroke-width="1.4"/><ellipse cx="429" cy="920.8" rx="8.8" ry="5.5" transform="rotate(302.8 429 920.8)" fill="#4f8a38"/><ellipse cx="428.1" cy="919.1" rx="5.3" ry="2.5" transform="rotate(302.8 428.1 919.1)" fill="#6a9c48" opacity="0.55"/><path d="M419.5,935.5 L409.5,947" stroke="#6a9a48" stroke-width="1.4"/><ellipse cx="409.5" cy="947" rx="8" ry="5" transform="rotate(131.1 409.5 947)" fill="#4f8a38"/><ellipse cx="409.9" cy="948.6" rx="4.8" ry="2.2" transform="rotate(131.1 409.9 948.6)" fill="#6a9c48" opacity="0.55"/><path d="M419.5,935.5 L406.2,931.3" stroke="#6a9a48" stroke-width="1.4"/><ellipse cx="406.2" cy="931.3" rx="7.5" ry="4.7" transform="rotate(197.4 406.2 931.3)" fill="#4f8a38"/><ellipse cx="404.9" cy="932.3" rx="4.5" ry="2.1" transform="rotate(197.4 404.9 932.3)" fill="#6a9c48" opacity="0.55"/><path d="M419.5,935.5 L419.6,949" stroke="#6a9a48" stroke-width="1.4"/><ellipse cx="419.6" cy="949" rx="7.4" ry="4.6" transform="rotate(89.4 419.6 949)" fill="#4f8a38"/><ellipse cx="420.9" cy="949.9" rx="4.4" ry="2.1" transform="rotate(89.4 420.9 949.9)" fill="#6a9c48" opacity="0.55"/><circle cx="419.5" cy="935.5" r="3" fill="#5a8e40"/><defs><radialGradient id="cg" cx="0.5" cy="0.5" r="0.55"><stop offset="0" stop-color="#f4f4f4"/><stop offset="0.35" stop-color="#e0e0e0"/><stop offset="0.8" stop-color="#b4b4b4"/><stop offset="1" stop-color="#9c9c9c"/></radialGradient></defs><path d="M441.6,837 Q450.4,842.5 460.7,839 Q458.3,851.7 464.2,863.2 Q454.6,863.3 450.1,872.2 Q443.5,863.7 432.6,864.2 Q436,855.4 428.5,848.6 Q439.1,845.9 441.6,837Z" fill="url(#cg)" stroke="#5a5a5a" stroke-width="0.6" stroke-linejoin="miter" stroke-miterlimit="8"/><circle cx="448.6" cy="853.1" r="5.4" fill="#f6f6f6" stroke="#555" stroke-width="0.8"/><circle cx="448.6" cy="853.1" r="3.3" fill="#ececec" stroke="#777" stroke-width="0.5"/><path d="M492.3,851.6 Q494.7,860.6 504.8,862.7 Q497.5,871.5 500.3,882.7 Q490.9,880.6 485.8,888.8 Q480.9,879.1 471.7,878.2 Q475.2,869 469.7,860.1 Q482.4,859.7 492.3,851.6Z" fill="url(#cg)" stroke="#5a5a5a" stroke-width="0.6" stroke-linejoin="miter" stroke-miterlimit="8"/><circle cx="485.8" cy="868.7" r="5.4" fill="#f6f6f6" stroke="#555" stroke-width="0.8"/><circle cx="485.8" cy="868.7" r="3.3" fill="#ececec" stroke="#777" stroke-width="0.5"/><path d="M460.2,869.2 Q463.6,875.6 470.7,873.2 Q468.8,881.2 475.2,885.2 Q468.3,889.8 469.2,897.8 Q461.6,895.9 456.1,902.8 Q454.1,894.3 447.6,893.3 Q450.7,885.6 446.6,877.7 Q455.1,877.1 460.2,869.2Z" fill="url(#cg)" stroke="#5a5a5a" stroke-width="0.6" stroke-linejoin="miter" stroke-miterlimit="8"/><circle cx="459.2" cy="885.7" r="4.3" fill="#f6f6f6" stroke="#555" stroke-width="0.8"/><circle cx="459.2" cy="885.7" r="2.7" fill="#ececec" stroke="#777" stroke-width="0.5"/><rect x="513.1" y="890.8" width="6.7" height="66.2" fill="#1e2052" stroke="#1a1020" stroke-width="0.8"/><rect x="522.1" y="916.1" width="6.2" height="40.9" fill="#d82a52" stroke="#1a1020" stroke-width="0.8"/><rect x="534.2" y="929.6" width="6.2" height="27.4" fill="#1e2052" stroke="#1a1020" stroke-width="0.8"/><rect x="542.3" y="906.6" width="6.2" height="50.4" fill="#d82a52" stroke="#1a1020" stroke-width="0.8"/><path d="M508.9,886 V959.7 H556.4" fill="none" stroke="#111" stroke-width="1.3"/></g>
<g id="p9"><path d="M862.4,773.1 L832.5,772.6M858.3,770.5 L858.2,753.5M859.4,772.5 L870.2,778.6M860.8,782.2 L843,775.9M849.9,780.4 L833.2,793M858.9,776.8 L862.6,769.1M856.6,781.4 L866.2,772.9M850.1,782.2 L847.8,765.7M851,780.4 L828.4,780.7M849.2,774.2 L866.2,750.6M854,782.4 L877.4,783.6M861.1,772.3 L839.7,793.1M856.4,774 L830.6,766.1M851.7,777.5 L853.5,800.3M850.8,778.2 L838.9,769.5M853.6,781.7 L867.3,769.2M849.1,779.5 L845.4,770M852.8,777.9 L846.6,790M850.1,782.8 L854.3,762.7M856.9,778.6 L861.5,772.4M862.4,777.3 L837.9,789.3M852.5,771.1 L848,782.8M860.8,776.5 L864.2,783.2M860.4,769.7 L864.9,750.1M859.8,780.7 L863.2,772.2M850.1,770.2 L847.8,762.9M856.5,772.7 L848.6,767M859.1,775.8 L862.5,787.2M856.8,776.2 L842.9,786.9M859.5,772.2 L830.3,785.7M854.1,769.4 L851.8,785.7M854.9,781.5 L855.4,756.6M862,776.8 L847.1,793.3M863,779.6 L845.3,766.4M857.3,776.3 L851.5,789.7M857.1,778.9 L845.9,774.4M855.2,776.1 L857.5,759.4M849.2,772.7 L840,772.1M855.5,779.5 L880.1,774.1M856.2,778.8 L858.9,788.1M861.7,777.6 L872.1,779M861.7,780.7 L864.2,775.6M859.6,772.1 L873.6,779.1M860.1,775 L841.4,755.1M851.6,776.5 L872.7,782.7M856.6,780.5 L854.3,790.2M849.1,779.5 L870.7,773.6M860.6,769.5 L843.9,796.2M853.5,773.7 L854.5,763.2M855.9,773 L845,773.2M858.5,773.3 L864.2,784.5M852,782.8 L860.3,790M853.1,775.1 L858.2,766.5M856.3,779.6 L841.7,773.3M851.3,776.5 L866.4,791.8M861.3,782.4 L846.3,798.7M851.4,779 L839.7,787.3M853.5,779.6 L858.7,760.1M853,772.4 L856.1,751.2M849.1,770.7 L856,786.7M861.5,774.3 L840.5,776.7M850,773.8 L868.7,800.4M862.5,779.4 L857.1,762.3M861.9,776.2 L847,800.5M860.5,781.4 L861.1,782.8M860.1,772.3 L842.9,756.1M860.7,775.1 L861.7,801.6M854.7,781.7 L855,784.1M849.5,777 L859.7,789M855.9,774.9 L875.4,784.1" stroke="#a860b8" stroke-width="0.4" fill="none" opacity="0.8"/><g fill="#2c2a88"><circle cx="849.3" cy="763.4" r="1"/><circle cx="847" cy="761.6" r="1.2"/><circle cx="850.4" cy="758.7" r="1"/><circle cx="849.2" cy="762.2" r="0.8"/><circle cx="848.7" cy="765.8" r="1.5"/><circle cx="848.3" cy="762.6" r="1.3"/><circle cx="849.5" cy="761.8" r="1.4"/><circle cx="851.6" cy="762" r="1.3"/><circle cx="850.4" cy="758.6" r="1"/><circle cx="849.8" cy="758.6" r="1.4"/><circle cx="845.7" cy="759.6" r="1.3"/><circle cx="850.3" cy="761.3" r="0.8"/><circle cx="851.1" cy="764.4" r="1.4"/><circle cx="849.3" cy="761.8" r="0.8"/><circle cx="846.3" cy="764.5" r="1.2"/><circle cx="848.6" cy="764" r="1.4"/><circle cx="845.6" cy="759.3" r="1.1"/><circle cx="844.6" cy="762.7" r="1.4"/><circle cx="848.7" cy="765.8" r="1.2"/><circle cx="850.2" cy="762.8" r="1.2"/><circle cx="850" cy="791.4" r="1.5"/><circle cx="850.8" cy="792.4" r="1.3"/><circle cx="855.5" cy="789.2" r="1"/><circle cx="852.9" cy="792" r="1"/><circle cx="852.7" cy="789.3" r="0.8"/><circle cx="849.3" cy="791.3" r="1"/><circle cx="853.1" cy="793.1" r="1.3"/><circle cx="850.6" cy="788.7" r="1.6"/><circle cx="855.3" cy="789.9" r="1.4"/><circle cx="848.5" cy="790.5" r="1.3"/><circle cx="847" cy="786.8" r="0.9"/><circle cx="854.3" cy="791.1" r="1.1"/><circle cx="848.3" cy="787.5" r="0.8"/><circle cx="852" cy="787.1" r="1.1"/><circle cx="850.8" cy="784.2" r="1.6"/><circle cx="853.6" cy="787.8" r="1"/><circle cx="846.6" cy="790.2" r="1.4"/><circle cx="848" cy="786" r="1"/><circle cx="848" cy="787.7" r="1.6"/><circle cx="849.6" cy="792.4" r="1.4"/><circle cx="849.8" cy="784.7" r="1.5"/><circle cx="854.3" cy="792.6" r="0.8"/><circle cx="841.7" cy="779.8" r="0.9"/><circle cx="841.1" cy="783" r="1"/><circle cx="845.5" cy="781.3" r="1.1"/><circle cx="838.9" cy="782.1" r="1.1"/><circle cx="843.8" cy="784" r="1.6"/><circle cx="845" cy="781.2" r="1.5"/><circle cx="838.9" cy="783.7" r="1.5"/><circle cx="843.4" cy="781" r="1.3"/><circle cx="844.7" cy="783.4" r="1.2"/><circle cx="839.5" cy="780.4" r="1.1"/><circle cx="843.4" cy="783.8" r="1.5"/><circle cx="841.4" cy="785.9" r="1.6"/><circle cx="841.8" cy="784.7" r="1.5"/><circle cx="845.5" cy="782.2" r="1.2"/><circle cx="837.4" cy="790.3" r="1.5"/><circle cx="836.5" cy="787.5" r="1.3"/><circle cx="836.5" cy="792.2" r="1.4"/><circle cx="836" cy="788.9" r="1.1"/><circle cx="837.9" cy="790.5" r="1.2"/><circle cx="836.8" cy="789.9" r="1.6"/><circle cx="839.5" cy="789.1" r="0.9"/><circle cx="840.1" cy="791.1" r="1.5"/><circle cx="859.6" cy="761.1" r="1"/><circle cx="861.3" cy="761.3" r="0.8"/><circle cx="864.8" cy="760.1" r="0.9"/><circle cx="864" cy="761.3" r="1.1"/><circle cx="861.5" cy="759.9" r="0.9"/><circle cx="859.1" cy="760.4" r="1"/><circle cx="863.6" cy="762.1" r="1.5"/><circle cx="859.4" cy="759.8" r="1.1"/><circle cx="857.2" cy="781.7" r="0.9"/><circle cx="856.5" cy="776.9" r="0.8"/><circle cx="850.7" cy="780.9" r="1"/><circle cx="850.6" cy="770.2" r="1"/><circle cx="868" cy="770.4" r="1.1"/><circle cx="871.8" cy="782.6" r="0.7"/><circle cx="853" cy="776.5" r="1.1"/><circle cx="871" cy="773" r="1.1"/><circle cx="845.3" cy="777.3" r="1"/><circle cx="860.1" cy="778.2" r="0.6"/><circle cx="851" cy="791.9" r="0.6"/><circle cx="855.1" cy="777.4" r="0.9"/><circle cx="854.3" cy="782.1" r="0.8"/><circle cx="856.4" cy="776.9" r="1.1"/><circle cx="843.3" cy="767.6" r="1.2"/><circle cx="867.4" cy="769.7" r="0.8"/><circle cx="841.8" cy="791.1" r="0.8"/><circle cx="874.2" cy="783.1" r="0.8"/><circle cx="847.8" cy="779.2" r="0.6"/><circle cx="853.5" cy="781.2" r="1.1"/><circle cx="853.5" cy="771.7" r="1"/><circle cx="855" cy="777.6" r="1.1"/><circle cx="855.4" cy="778.1" r="1"/><circle cx="850.9" cy="780.3" r="1.2"/><circle cx="857.8" cy="770.5" r="0.6"/><circle cx="855.7" cy="782.5" r="1"/><circle cx="858.6" cy="776" r="0.6"/><circle cx="842.3" cy="785.8" r="0.8"/><circle cx="855.4" cy="795" r="0.7"/><circle cx="855.9" cy="783.7" r="1.2"/><circle cx="855.2" cy="776.7" r="0.6"/><circle cx="856.1" cy="777.7" r="0.7"/><circle cx="858.6" cy="774.4" r="1.1"/><circle cx="854.7" cy="790.3" r="0.8"/><circle cx="856" cy="777.9" r="0.9"/><circle cx="852.9" cy="786.4" r="1.1"/><circle cx="861.9" cy="776.1" r="1"/><circle cx="857.5" cy="774.7" r="0.8"/><circle cx="864" cy="788.8" r="0.7"/><circle cx="856.9" cy="772.7" r="0.8"/><circle cx="855.2" cy="768.2" r="0.7"/><circle cx="854.8" cy="773.6" r="0.9"/><circle cx="841.6" cy="785.1" r="1"/><circle cx="852.7" cy="747.5" r="0.6"/><circle cx="851.8" cy="782" r="0.6"/><circle cx="855.6" cy="771.6" r="0.8"/><circle cx="841.2" cy="770.5" r="0.6"/><circle cx="856.8" cy="787.8" r="0.7"/><circle cx="857.3" cy="770.5" r="1"/><circle cx="856.7" cy="780.1" r="0.8"/><circle cx="853.3" cy="777.8" r="1.1"/><circle cx="858.3" cy="764.9" r="0.8"/><circle cx="853.2" cy="780.2" r="0.5"/><circle cx="847" cy="771.5" r="0.6"/><circle cx="856.6" cy="805.7" r="1.2"/><circle cx="859.7" cy="776.3" r="0.5"/><circle cx="863.5" cy="787.1" r="1.1"/><circle cx="858.1" cy="751.7" r="0.9"/><circle cx="836.2" cy="778.3" r="0.7"/><circle cx="849.3" cy="782.5" r="0.6"/><circle cx="865.9" cy="760.8" r="1.1"/><circle cx="860" cy="774.6" r="1"/><circle cx="856.1" cy="770.1" r="1"/><circle cx="851.9" cy="783.2" r="0.7"/><circle cx="832.5" cy="774.1" r="0.8"/><circle cx="856.1" cy="771.5" r="1.2"/><circle cx="843.5" cy="765" r="0.7"/><circle cx="849.1" cy="770.7" r="0.9"/><circle cx="857.1" cy="762" r="1.1"/><circle cx="852.3" cy="786.6" r="1.2"/><circle cx="854.9" cy="772.8" r="0.9"/><circle cx="872.7" cy="785.4" r="0.8"/><circle cx="859.3" cy="774.7" r="1"/><circle cx="853.2" cy="774.4" r="0.8"/><circle cx="855.2" cy="776.6" r="1"/><circle cx="853.9" cy="774.3" r="0.6"/><circle cx="857.1" cy="776.6" r="0.8"/><circle cx="859.5" cy="735.5" r="1.1"/><circle cx="866" cy="745" r="1.1"/><circle cx="838" cy="752" r="1.1"/><circle cx="875" cy="752.5" r="1.1"/><circle cx="820.5" cy="763" r="1.1"/><circle cx="830" cy="766" r="1.1"/><circle cx="856" cy="806" r="1.1"/><circle cx="873" cy="807" r="1.1"/><circle cx="875" cy="802" r="1.1"/><circle cx="905.8" cy="736.4" r="0.5"/><circle cx="908.4" cy="739.9" r="0.6"/><circle cx="916.9" cy="735.2" r="1"/><circle cx="894.5" cy="735.6" r="0.6"/><circle cx="899.4" cy="738.6" r="0.5"/><circle cx="898.7" cy="740" r="0.7"/></g><g fill="#c81f8a" opacity="0.9"><circle cx="861.8" cy="773.7" r="1.6"/><circle cx="866" cy="769.4" r="1"/><circle cx="862.8" cy="773.9" r="1.6"/><circle cx="864.2" cy="770.2" r="1.4"/><circle cx="859.5" cy="773.3" r="1"/><circle cx="861.2" cy="766.6" r="1.6"/><circle cx="858.7" cy="771.3" r="1.4"/><circle cx="865.2" cy="774.4" r="1.5"/><circle cx="862.4" cy="774.1" r="1.2"/><circle cx="864.5" cy="767.7" r="1"/><circle cx="866.6" cy="769.5" r="1.6"/><circle cx="858.6" cy="771.2" r="1.2"/><circle cx="865.4" cy="770.5" r="1.7"/><circle cx="862.4" cy="771.8" r="1.2"/><circle cx="862.8" cy="773.4" r="0.8"/><circle cx="864.4" cy="773.3" r="0.9"/><circle cx="860.9" cy="774.7" r="1"/><circle cx="860.8" cy="773.8" r="1"/><circle cx="857.9" cy="769.3" r="0.8"/><circle cx="858.4" cy="770.2" r="1.6"/><circle cx="861.3" cy="768.5" r="1.4"/><circle cx="866" cy="768.1" r="1.5"/><circle cx="864.4" cy="772.9" r="1.2"/><circle cx="859.9" cy="774.8" r="1.2"/><circle cx="862.4" cy="770.9" r="1.5"/><circle cx="864.7" cy="773.4" r="0.9"/><circle cx="853.1" cy="783.6" r="1.7"/><circle cx="859" cy="781.8" r="0.9"/><circle cx="855.9" cy="779.1" r="1"/><circle cx="856.4" cy="780" r="1.6"/><circle cx="855.4" cy="786" r="0.9"/><circle cx="858.8" cy="783" r="1.1"/><circle cx="854.3" cy="778.8" r="1.1"/><circle cx="857.5" cy="781.2" r="0.8"/><circle cx="851.5" cy="782.1" r="1.3"/><circle cx="854.5" cy="784" r="1.5"/><circle cx="857" cy="779.9" r="1.4"/><circle cx="854.6" cy="785.6" r="1.5"/><circle cx="852.6" cy="778.8" r="1.5"/><circle cx="858.6" cy="782.2" r="0.8"/><circle cx="858.7" cy="785" r="1.3"/><circle cx="856.8" cy="783.6" r="1.2"/><circle cx="859.9" cy="783.3" r="1.1"/><circle cx="859.4" cy="782.2" r="1.2"/><circle cx="856.2" cy="778.4" r="1"/><circle cx="852.8" cy="781" r="0.9"/><circle cx="855.6" cy="776.4" r="1.5"/><circle cx="854.1" cy="778.1" r="1.5"/><circle cx="865.8" cy="783.7" r="1.4"/><circle cx="868" cy="784.8" r="1.4"/><circle cx="864.4" cy="782.2" r="1"/><circle cx="864.5" cy="785.6" r="1"/><circle cx="866" cy="786.8" r="1.5"/><circle cx="867.1" cy="781.7" r="1.7"/><circle cx="863.9" cy="787" r="1.5"/><circle cx="866.1" cy="780.2" r="1.3"/><circle cx="867.5" cy="782.6" r="1.3"/><circle cx="863.4" cy="782.8" r="0.9"/><circle cx="865.9" cy="787.2" r="1.1"/><circle cx="865" cy="780.7" r="1.3"/><circle cx="867.8" cy="786" r="1.6"/><circle cx="865.5" cy="785.1" r="1.5"/><circle cx="856.8" cy="792.3" r="1.3"/><circle cx="860.6" cy="789.5" r="1"/><circle cx="860.6" cy="791.1" r="1"/><circle cx="861.7" cy="790.1" r="1.7"/><circle cx="859.8" cy="789.9" r="1.4"/><circle cx="855.2" cy="790.1" r="1.3"/><circle cx="858.3" cy="792.5" r="0.8"/><circle cx="857.4" cy="789.5" r="1.6"/><circle cx="856.7" cy="789.2" r="1.6"/><circle cx="859.5" cy="792" r="1.5"/><circle cx="855.4" cy="793.8" r="1.2"/><circle cx="861.9" cy="791" r="1.7"/><circle cx="867.2" cy="770.9" r="1.4"/><circle cx="872.4" cy="771.8" r="1.2"/><circle cx="869.9" cy="769.8" r="1.2"/><circle cx="871.1" cy="773.2" r="0.8"/><circle cx="872" cy="770.3" r="1.5"/><circle cx="871" cy="772.7" r="1.5"/><circle cx="868.2" cy="768.8" r="1.5"/><circle cx="871.3" cy="771.2" r="1.6"/><circle cx="870.4" cy="771.7" r="0.9"/><circle cx="866.7" cy="769.3" r="0.9"/><circle cx="842.7" cy="770.7" r="0.9"/><circle cx="844.1" cy="771.2" r="1.3"/><circle cx="849.2" cy="769.8" r="1.1"/><circle cx="846.7" cy="773.4" r="1.6"/><circle cx="846.1" cy="772.8" r="1.1"/><circle cx="847.8" cy="770.3" r="1"/><circle cx="843.9" cy="772.5" r="1"/><circle cx="846.2" cy="769.5" r="1.3"/><circle cx="821.9" cy="778.6" r="1.7"/><circle cx="821.8" cy="776.5" r="1.2"/><circle cx="823" cy="775" r="0.8"/><circle cx="823.7" cy="778.6" r="1.1"/><circle cx="825.3" cy="778.2" r="1.7"/><circle cx="825.6" cy="775.4" r="1"/><circle cx="822.7" cy="773" r="0.9"/><circle cx="822" cy="775.8" r="1.7"/><circle cx="825.6" cy="775.4" r="1.7"/><circle cx="825.1" cy="777.4" r="1.6"/><circle cx="822.1" cy="778.8" r="1.3"/><circle cx="821.7" cy="773.6" r="1.5"/><circle cx="823" cy="778" r="1.1"/><circle cx="824.1" cy="778" r="1.4"/><circle cx="859.9" cy="768.3" r="1"/><circle cx="868.6" cy="788.5" r="0.5"/><circle cx="856.7" cy="775.5" r="0.6"/><circle cx="855.6" cy="791" r="0.8"/><circle cx="863.8" cy="774.2" r="0.6"/><circle cx="855.9" cy="777.6" r="1.1"/><circle cx="856.4" cy="785.1" r="0.8"/><circle cx="859.2" cy="780.5" r="1.1"/><circle cx="866.2" cy="773.9" r="0.7"/><circle cx="860.3" cy="791" r="1.2"/><circle cx="853.4" cy="775.9" r="1.1"/><circle cx="856.6" cy="776.9" r="1"/><circle cx="853.7" cy="797.5" r="0.8"/><circle cx="858.7" cy="784.7" r="1.1"/><circle cx="864" cy="762.6" r="0.7"/><circle cx="863.1" cy="769.7" r="0.7"/><circle cx="863.3" cy="786.1" r="0.9"/><circle cx="865.6" cy="776.1" r="0.6"/><circle cx="859.7" cy="774.5" r="0.6"/><circle cx="859.4" cy="780.3" r="0.6"/><circle cx="852.9" cy="791.3" r="1"/><circle cx="860.3" cy="776.3" r="0.9"/><circle cx="859.1" cy="770.2" r="0.9"/><circle cx="860" cy="764.3" r="0.7"/><circle cx="853.2" cy="784.7" r="0.8"/><circle cx="869.3" cy="774.9" r="1.1"/><circle cx="878.2" cy="787" r="0.6"/><circle cx="876.6" cy="773.6" r="1"/><circle cx="868.9" cy="780" r="0.9"/><circle cx="883.2" cy="786.8" r="0.9"/><circle cx="857.4" cy="784.2" r="0.5"/><circle cx="862.4" cy="775.4" r="1.1"/><circle cx="863.4" cy="769.1" r="1.1"/><circle cx="859.3" cy="770.4" r="1.2"/><circle cx="857.7" cy="780.1" r="0.8"/><circle cx="862.7" cy="777.6" r="0.9"/><circle cx="867.8" cy="773.1" r="1.1"/><circle cx="862.3" cy="775.2" r="1.1"/><circle cx="861.2" cy="756.9" r="0.6"/><circle cx="862.7" cy="781.6" r="1"/><circle cx="862.7" cy="772.7" r="0.8"/><circle cx="861.4" cy="779.5" r="0.8"/><circle cx="871.1" cy="789.1" r="0.9"/><circle cx="858.8" cy="780.1" r="1"/><circle cx="865.8" cy="765.6" r="0.9"/><circle cx="859.5" cy="784.6" r="1"/><circle cx="863.8" cy="769.7" r="0.7"/><circle cx="856.6" cy="777.1" r="0.9"/><circle cx="860.6" cy="772.2" r="0.8"/><circle cx="867.1" cy="777.7" r="1"/><circle cx="856.5" cy="776.8" r="1.1"/><circle cx="872.8" cy="797" r="0.7"/><circle cx="860.2" cy="785.5" r="0.8"/><circle cx="854.9" cy="765.1" r="0.8"/><circle cx="865.9" cy="780.8" r="0.8"/><circle cx="871.3" cy="770.6" r="0.6"/><circle cx="855.2" cy="784.7" r="1"/><circle cx="856.8" cy="778.1" r="0.6"/><circle cx="872.4" cy="779.7" r="0.9"/><circle cx="868.8" cy="778.7" r="1"/><circle cx="856.6" cy="777.1" r="0.6"/><circle cx="861.1" cy="779.3" r="0.9"/><circle cx="867.8" cy="784.4" r="0.8"/><circle cx="857.3" cy="798.5" r="1.1"/><circle cx="853.3" cy="770.7" r="0.7"/><circle cx="862.7" cy="775.7" r="1.2"/><circle cx="887" cy="801" r="1.1"/><circle cx="889.5" cy="803" r="1.1"/><circle cx="823" cy="773" r="1.1"/><circle cx="825" cy="775" r="1.1"/><circle cx="826.5" cy="777" r="1.1"/><circle cx="822" cy="781" r="1.1"/><circle cx="824" cy="778" r="1.1"/><circle cx="827" cy="773.5" r="1.1"/><circle cx="820" cy="784.5" r="1.1"/><circle cx="868" cy="789" r="1.1"/><circle cx="874" cy="794" r="1.1"/><circle cx="912.2" cy="740.8" r="0.5"/><circle cx="914.5" cy="738.9" r="0.7"/><circle cx="893.5" cy="735.9" r="0.6"/><circle cx="907.2" cy="741.2" r="1"/><circle cx="902.2" cy="739" r="0.9"/><circle cx="898.4" cy="739.2" r="0.9"/><circle cx="919.5" cy="737.2" r="1"/><circle cx="906.8" cy="741.2" r="0.9"/><circle cx="901.6" cy="740" r="0.8"/><circle cx="901" cy="740.3" r="0.5"/><circle cx="897.2" cy="740.2" r="0.9"/><circle cx="908.1" cy="739.7" r="0.9"/></g><path d="M893,737 l8,3 l8,-3 l8,2 l8,-3" stroke="#a060b0" stroke-width="0.3" fill="none"/><g fill="#2c2a88"><circle cx="819" cy="813.1" r="1.4"/><circle cx="824.9" cy="814.2" r="1.3"/><circle cx="833.7" cy="813.6" r="1.2"/><circle cx="842.8" cy="813.8" r="1"/><circle cx="849.3" cy="813.7" r="1.4"/><circle cx="870.1" cy="814.3" r="1.1"/><circle cx="881.7" cy="814.4" r="1"/><circle cx="888.1" cy="814.5" r="1.3"/><circle cx="909" cy="813.3" r="1.2"/><circle cx="918.2" cy="813.2" r="1.4"/><circle cx="920.7" cy="814.2" r="1.1"/><circle cx="824.1" cy="821.6" r="1.1"/><circle cx="831.9" cy="822.4" r="1.1"/><circle cx="842.7" cy="821.3" r="1"/><circle cx="852.7" cy="821.4" r="0.9"/><circle cx="855.4" cy="821.7" r="0.8"/><circle cx="858.1" cy="822.3" r="0.9"/><circle cx="863.2" cy="822.2" r="1.1"/><circle cx="865.6" cy="822.3" r="1"/><circle cx="868.5" cy="822" r="0.9"/><circle cx="876.1" cy="822" r="1.2"/><circle cx="879" cy="822" r="1"/><circle cx="894.2" cy="822.4" r="0.9"/><circle cx="897.1" cy="821.8" r="1.1"/><circle cx="904.7" cy="821.5" r="1.1"/><circle cx="907.6" cy="821.5" r="1.2"/><circle cx="917.8" cy="821.7" r="1.1"/><circle cx="920.5" cy="822.1" r="0.9"/><circle cx="818.9" cy="827.9" r="1"/><circle cx="829.9" cy="827.9" r="0.9"/><circle cx="836.5" cy="828.7" r="0.9"/><circle cx="854.3" cy="828.6" r="0.9"/><circle cx="856.6" cy="827.7" r="0.9"/><circle cx="865.5" cy="827.8" r="1"/><circle cx="874.3" cy="828.1" r="0.8"/><circle cx="875.9" cy="828.3" r="0.8"/><circle cx="889.1" cy="827.9" r="0.9"/><circle cx="902.4" cy="829.1" r="0.9"/><circle cx="913.6" cy="828.1" r="0.8"/><circle cx="918.1" cy="828.3" r="0.8"/><circle cx="824.6" cy="832.9" r="0.8"/><circle cx="830.1" cy="834.1" r="0.7"/><circle cx="834" cy="833" r="0.6"/><circle cx="835.8" cy="834.2" r="0.7"/><circle cx="838.1" cy="833.3" r="0.8"/><circle cx="843.5" cy="834.2" r="0.7"/><circle cx="849.4" cy="833.3" r="0.9"/><circle cx="851.3" cy="832.8" r="0.8"/><circle cx="862.9" cy="833.3" r="0.7"/><circle cx="866.3" cy="833.8" r="0.8"/><circle cx="870.5" cy="833.8" r="0.7"/><circle cx="877.7" cy="833.4" r="0.8"/><circle cx="879.8" cy="834.1" r="0.6"/><circle cx="896.7" cy="833.1" r="0.8"/><circle cx="900.9" cy="834.1" r="0.8"/><circle cx="902.9" cy="833" r="0.7"/><circle cx="904.5" cy="833.4" r="0.8"/><circle cx="906.3" cy="833.8" r="0.8"/><circle cx="910" cy="832.9" r="0.8"/><circle cx="914.2" cy="833.7" r="0.8"/><circle cx="917.6" cy="832.8" r="0.7"/><circle cx="919.6" cy="834.1" r="0.6"/><circle cx="825.5" cy="836.9" r="0.5"/><circle cx="828.6" cy="837.4" r="0.7"/><circle cx="833.5" cy="836.9" r="0.6"/><circle cx="836.9" cy="838.1" r="0.7"/><circle cx="839.9" cy="837.7" r="0.6"/><circle cx="843.1" cy="837.8" r="0.5"/><circle cx="846.4" cy="837.6" r="0.5"/><circle cx="857.5" cy="837.6" r="0.6"/><circle cx="860.7" cy="838.1" r="0.6"/><circle cx="864" cy="838.1" r="0.5"/><circle cx="874.8" cy="837.6" r="0.6"/><circle cx="878" cy="837.6" r="0.7"/><circle cx="884.8" cy="837.2" r="0.5"/><circle cx="886" cy="837.9" r="0.7"/><circle cx="897.4" cy="837.7" r="0.6"/><circle cx="899.1" cy="838" r="0.7"/><circle cx="902.4" cy="838.1" r="0.6"/><circle cx="903.6" cy="837.9" r="0.5"/><circle cx="910.1" cy="838" r="0.5"/><circle cx="819.2" cy="842.1" r="0.4"/><circle cx="824.4" cy="842.2" r="0.6"/><circle cx="827.4" cy="842.1" r="0.5"/><circle cx="829" cy="841.4" r="0.4"/><circle cx="832.7" cy="841.5" r="0.5"/><circle cx="834.2" cy="842.1" r="0.6"/><circle cx="835.6" cy="842.2" r="0.4"/><circle cx="837.2" cy="841.4" r="0.5"/><circle cx="840" cy="841" r="0.5"/><circle cx="841.6" cy="841.7" r="0.5"/><circle cx="842.9" cy="840.9" r="0.5"/><circle cx="844.2" cy="840.9" r="0.4"/><circle cx="856.6" cy="840.9" r="0.6"/><circle cx="858.3" cy="841" r="0.4"/><circle cx="859.8" cy="842.2" r="0.4"/><circle cx="860.8" cy="841.3" r="0.5"/><circle cx="866.7" cy="841.2" r="0.5"/><circle cx="868.2" cy="841.4" r="0.4"/><circle cx="872" cy="841.3" r="0.6"/><circle cx="876.5" cy="841.6" r="0.5"/><circle cx="879.4" cy="841.5" r="0.5"/><circle cx="881.9" cy="842" r="0.4"/><circle cx="883.3" cy="841.5" r="0.5"/><circle cx="888.9" cy="841.9" r="0.5"/><circle cx="892.1" cy="841.8" r="0.4"/><circle cx="894.8" cy="841.9" r="0.5"/><circle cx="901.4" cy="841.9" r="0.4"/><circle cx="903" cy="841.2" r="0.5"/><circle cx="905.7" cy="841.3" r="0.5"/><circle cx="918.6" cy="841.6" r="0.5"/><circle cx="919.7" cy="841.4" r="0.6"/><circle cx="820.1" cy="844.3" r="0.5"/><circle cx="824" cy="844.4" r="0.5"/><circle cx="828.7" cy="845" r="0.5"/><circle cx="831.1" cy="844.1" r="0.5"/><circle cx="842" cy="844.5" r="0.4"/><circle cx="853.9" cy="844.3" r="0.5"/><circle cx="854.9" cy="843.9" r="0.4"/><circle cx="856.2" cy="844.1" r="0.4"/><circle cx="857.3" cy="844.9" r="0.4"/><circle cx="861.9" cy="844.1" r="0.4"/><circle cx="863.6" cy="844.1" r="0.5"/><circle cx="869.4" cy="843.9" r="0.4"/><circle cx="870.8" cy="844.8" r="0.4"/><circle cx="874.4" cy="844" r="0.4"/><circle cx="876.4" cy="844" r="0.4"/><circle cx="877.6" cy="844.8" r="0.5"/><circle cx="880.4" cy="844.5" r="0.5"/><circle cx="883.6" cy="844.2" r="0.5"/><circle cx="885.2" cy="844.9" r="0.4"/><circle cx="894.7" cy="844" r="0.5"/><circle cx="896.9" cy="844.8" r="0.4"/><circle cx="900.7" cy="844.4" r="0.5"/><circle cx="902.8" cy="844.6" r="0.4"/><circle cx="904.1" cy="845" r="0.4"/><circle cx="907.6" cy="845.1" r="0.5"/><circle cx="909.2" cy="844.5" r="0.5"/><circle cx="910.4" cy="844.4" r="0.5"/><circle cx="911.2" cy="844.9" r="0.5"/><circle cx="913.8" cy="844.1" r="0.5"/><circle cx="915" cy="844.9" r="0.4"/><circle cx="918.5" cy="845.1" r="0.4"/><circle cx="920.7" cy="844.8" r="0.4"/><circle cx="825.8" cy="846.6" r="0.4"/><circle cx="827.6" cy="846.2" r="0.3"/><circle cx="829.9" cy="846.5" r="0.4"/><circle cx="831.3" cy="847.1" r="0.4"/><circle cx="832" cy="847.1" r="0.4"/><circle cx="838.8" cy="847.3" r="0.4"/><circle cx="841.1" cy="847.2" r="0.4"/><circle cx="844.5" cy="846.5" r="0.4"/><circle cx="850.9" cy="846.5" r="0.4"/><circle cx="852.9" cy="847.4" r="0.4"/><circle cx="855.5" cy="846.9" r="0.4"/><circle cx="856.1" cy="847.1" r="0.4"/><circle cx="857.4" cy="846.7" r="0.4"/><circle cx="858.8" cy="846.4" r="0.4"/><circle cx="863.1" cy="847" r="0.4"/><circle cx="867.2" cy="846.5" r="0.4"/><circle cx="871" cy="846.8" r="0.4"/><circle cx="874.8" cy="846.7" r="0.3"/><circle cx="878.6" cy="847.2" r="0.4"/><circle cx="882.9" cy="847.1" r="0.4"/><circle cx="889.2" cy="847.4" r="0.4"/><circle cx="894.7" cy="846.7" r="0.4"/><circle cx="896" cy="847.2" r="0.4"/><circle cx="897.2" cy="847.1" r="0.4"/><circle cx="898.1" cy="847.6" r="0.4"/><circle cx="902.5" cy="847" r="0.3"/><circle cx="906.9" cy="846.3" r="0.4"/><circle cx="908.1" cy="846.2" r="0.4"/><circle cx="913.5" cy="847.1" r="0.3"/><circle cx="914.6" cy="847.6" r="0.5"/><circle cx="918.2" cy="847.1" r="0.4"/><circle cx="919.1" cy="847.1" r="0.4"/></g><g fill="#c81f8a"><circle cx="822" cy="813.7" r="1.2"/><circle cx="828.3" cy="813.8" r="1.4"/><circle cx="831.1" cy="814.3" r="1.2"/><circle cx="837.1" cy="814.1" r="1.4"/><circle cx="840.2" cy="813.7" r="1.2"/><circle cx="846.1" cy="813.2" r="1.4"/><circle cx="852.1" cy="814.2" r="1.4"/><circle cx="854.9" cy="813.9" r="1.4"/><circle cx="858.3" cy="814.1" r="1.1"/><circle cx="861.1" cy="814.4" r="1.4"/><circle cx="863.8" cy="814.3" r="1.1"/><circle cx="867.2" cy="814.3" r="1.3"/><circle cx="872.9" cy="813.7" r="1.1"/><circle cx="879.3" cy="813.3" r="1.3"/><circle cx="884.8" cy="813.2" r="1.3"/><circle cx="891.1" cy="813.9" r="1.2"/><circle cx="893.7" cy="814.4" r="1.3"/><circle cx="900.2" cy="813.4" r="1.1"/><circle cx="903.1" cy="813.4" r="1.1"/><circle cx="906" cy="814.4" r="1"/><circle cx="911.9" cy="814.4" r="1"/><circle cx="914.8" cy="814.3" r="1.3"/><circle cx="818.7" cy="821.9" r="1.2"/><circle cx="821.7" cy="822.5" r="1.1"/><circle cx="826.7" cy="821.4" r="1"/><circle cx="829.3" cy="822.1" r="1.1"/><circle cx="834.5" cy="822.7" r="1.1"/><circle cx="837.3" cy="822.5" r="0.8"/><circle cx="840" cy="822.2" r="1.1"/><circle cx="844.7" cy="821.4" r="0.9"/><circle cx="847.6" cy="821.5" r="0.9"/><circle cx="850.4" cy="822.5" r="0.8"/><circle cx="873.7" cy="822.4" r="0.9"/><circle cx="886.9" cy="821.9" r="1.2"/><circle cx="889.1" cy="821.9" r="1"/><circle cx="891.5" cy="821.6" r="1.1"/><circle cx="899.9" cy="822.5" r="0.9"/><circle cx="910.2" cy="821.6" r="1.1"/><circle cx="912.7" cy="821.5" r="1.2"/><circle cx="821.1" cy="828.5" r="0.8"/><circle cx="823.1" cy="828.7" r="0.8"/><circle cx="825.6" cy="828.3" r="0.9"/><circle cx="827.7" cy="828.1" r="0.9"/><circle cx="832.2" cy="828.1" r="0.8"/><circle cx="834.4" cy="829.1" r="0.8"/><circle cx="839" cy="828.9" r="1"/><circle cx="841.1" cy="828.7" r="0.8"/><circle cx="842.9" cy="828.7" r="0.8"/><circle cx="845.6" cy="829" r="0.9"/><circle cx="847.8" cy="829" r="0.9"/><circle cx="850.1" cy="828.6" r="1"/><circle cx="851.9" cy="827.9" r="0.7"/><circle cx="860.5" cy="829.1" r="0.8"/><circle cx="863" cy="828.3" r="1"/><circle cx="867.6" cy="828.2" r="1"/><circle cx="871.9" cy="828.3" r="1"/><circle cx="882.6" cy="828" r="0.7"/><circle cx="885" cy="828.7" r="0.9"/><circle cx="887.3" cy="828.6" r="0.8"/><circle cx="891.5" cy="828.2" r="1"/><circle cx="896.3" cy="828.3" r="0.9"/><circle cx="898.1" cy="828" r="1"/><circle cx="900.4" cy="828.1" r="0.9"/><circle cx="905.1" cy="828.2" r="0.9"/><circle cx="907" cy="829" r="0.9"/><circle cx="909.4" cy="829.1" r="0.8"/><circle cx="911.2" cy="828.7" r="0.9"/><circle cx="916" cy="828.5" r="0.8"/><circle cx="819.2" cy="833.9" r="0.8"/><circle cx="821.1" cy="833.3" r="0.7"/><circle cx="822.8" cy="833.7" r="0.8"/><circle cx="826.8" cy="833.8" r="0.8"/><circle cx="828.3" cy="833.5" r="0.7"/><circle cx="832.5" cy="833.8" r="0.8"/><circle cx="839.7" cy="833.7" r="0.7"/><circle cx="841.7" cy="833.1" r="0.7"/><circle cx="845.7" cy="833.7" r="0.8"/><circle cx="853.4" cy="833.3" r="0.8"/><circle cx="855.3" cy="833.1" r="0.9"/><circle cx="860.8" cy="833.2" r="0.8"/><circle cx="864.6" cy="833.1" r="0.6"/><circle cx="868.6" cy="833.2" r="0.7"/><circle cx="874.1" cy="833.8" r="0.7"/><circle cx="881.7" cy="833.7" r="0.8"/><circle cx="883.4" cy="834.1" r="0.7"/><circle cx="885.6" cy="833.1" r="0.8"/><circle cx="887.3" cy="833" r="0.7"/><circle cx="889.1" cy="832.8" r="0.8"/><circle cx="891.1" cy="834" r="0.7"/><circle cx="893.1" cy="833.4" r="0.7"/><circle cx="895.1" cy="833" r="0.8"/><circle cx="898.5" cy="833.3" r="0.8"/><circle cx="908.2" cy="833" r="0.7"/><circle cx="915.9" cy="833.6" r="0.8"/><circle cx="819.1" cy="837.3" r="0.7"/><circle cx="820.4" cy="837.4" r="0.5"/><circle cx="822.3" cy="837.8" r="0.6"/><circle cx="823.7" cy="838" r="0.7"/><circle cx="827" cy="837.4" r="0.7"/><circle cx="830.1" cy="837.9" r="0.7"/><circle cx="832.1" cy="837.7" r="0.5"/><circle cx="835.1" cy="837.7" r="0.7"/><circle cx="838.1" cy="837.7" r="0.6"/><circle cx="847.7" cy="837.7" r="0.6"/><circle cx="849.5" cy="837.3" r="0.5"/><circle cx="851" cy="837.7" r="0.6"/><circle cx="853.9" cy="838.1" r="0.7"/><circle cx="855.7" cy="836.8" r="0.6"/><circle cx="858.8" cy="837.7" r="0.5"/><circle cx="862.3" cy="836.9" r="0.5"/><circle cx="865.2" cy="837.3" r="0.7"/><circle cx="868.5" cy="837.3" r="0.5"/><circle cx="870.2" cy="837.3" r="0.6"/><circle cx="871.7" cy="837.7" r="0.6"/><circle cx="876.8" cy="837.5" r="0.5"/><circle cx="879.6" cy="837.6" r="0.6"/><circle cx="881.2" cy="837.6" r="0.7"/><circle cx="882.8" cy="837.2" r="0.6"/><circle cx="888" cy="837.4" r="0.6"/><circle cx="891.1" cy="838" r="0.5"/><circle cx="892.8" cy="837.9" r="0.6"/><circle cx="894.4" cy="837.6" r="0.5"/><circle cx="895.9" cy="838.2" r="0.5"/><circle cx="905.4" cy="837.4" r="0.5"/><circle cx="908.5" cy="837.9" r="0.6"/><circle cx="911.9" cy="837.6" r="0.5"/><circle cx="913.1" cy="838" r="0.7"/><circle cx="914.9" cy="837.4" r="0.5"/><circle cx="916.7" cy="837.1" r="0.6"/><circle cx="918.1" cy="837.6" r="0.5"/><circle cx="919.8" cy="837.6" r="0.7"/><circle cx="921.6" cy="838.1" r="0.6"/><circle cx="820.3" cy="842.2" r="0.4"/><circle cx="823.3" cy="841.4" r="0.5"/><circle cx="826.1" cy="841" r="0.5"/><circle cx="831.7" cy="841.7" r="0.5"/><circle cx="838.4" cy="841.3" r="0.6"/><circle cx="845.9" cy="841.1" r="0.5"/><circle cx="847.2" cy="840.9" r="0.5"/><circle cx="848.2" cy="841.4" r="0.6"/><circle cx="849.6" cy="842" r="0.5"/><circle cx="851.3" cy="841.8" r="0.5"/><circle cx="852.5" cy="841.4" r="0.5"/><circle cx="853.7" cy="841.2" r="0.5"/><circle cx="855.6" cy="842.2" r="0.5"/><circle cx="862.4" cy="842" r="0.6"/><circle cx="863.9" cy="840.9" r="0.5"/><circle cx="865.1" cy="842" r="0.6"/><circle cx="869.4" cy="841.9" r="0.5"/><circle cx="870.6" cy="841.2" r="0.5"/><circle cx="873.5" cy="842.1" r="0.4"/><circle cx="875.1" cy="841.7" r="0.4"/><circle cx="878.1" cy="842" r="0.5"/><circle cx="880.5" cy="841.2" r="0.5"/><circle cx="884.6" cy="841.6" r="0.6"/><circle cx="886.4" cy="841.3" r="0.5"/><circle cx="887.8" cy="841" r="0.5"/><circle cx="890.6" cy="840.9" r="0.4"/><circle cx="893.3" cy="840.8" r="0.5"/><circle cx="895.9" cy="841.3" r="0.6"/><circle cx="897.2" cy="841.7" r="0.5"/><circle cx="900" cy="842" r="0.6"/><circle cx="904.6" cy="841.1" r="0.6"/><circle cx="907.4" cy="841.5" r="0.5"/><circle cx="910.1" cy="840.8" r="0.5"/><circle cx="913" cy="841.4" r="0.4"/><circle cx="914.3" cy="841" r="0.4"/><circle cx="915.5" cy="841.8" r="0.5"/><circle cx="917" cy="841.5" r="0.5"/><circle cx="921.3" cy="841" r="0.6"/><circle cx="819.2" cy="844.5" r="0.4"/><circle cx="821.5" cy="844.6" r="0.4"/><circle cx="824.9" cy="843.9" r="0.5"/><circle cx="826.3" cy="844.1" r="0.4"/><circle cx="827.7" cy="844.1" r="0.5"/><circle cx="829.6" cy="843.9" r="0.5"/><circle cx="832.4" cy="843.9" r="0.5"/><circle cx="833.4" cy="844.1" r="0.5"/><circle cx="834.5" cy="844.1" r="0.4"/><circle cx="835.9" cy="845" r="0.4"/><circle cx="836.8" cy="844.8" r="0.5"/><circle cx="838.1" cy="845.2" r="0.4"/><circle cx="840.3" cy="845" r="0.5"/><circle cx="843.1" cy="844" r="0.5"/><circle cx="843.9" cy="844.1" r="0.4"/><circle cx="845.3" cy="844.2" r="0.4"/><circle cx="846.3" cy="844.6" r="0.5"/><circle cx="848" cy="844.5" r="0.5"/><circle cx="848.9" cy="844.2" r="0.4"/><circle cx="850.2" cy="844.7" r="0.4"/><circle cx="851.3" cy="844.7" r="0.5"/><circle cx="852.9" cy="845.1" r="0.5"/><circle cx="858.5" cy="844.1" r="0.4"/><circle cx="859.7" cy="845" r="0.5"/><circle cx="861.2" cy="844.9" r="0.5"/><circle cx="864.4" cy="844.7" r="0.4"/><circle cx="865.9" cy="844.1" r="0.4"/><circle cx="868" cy="844.6" r="0.5"/><circle cx="872" cy="844.3" r="0.4"/><circle cx="873.2" cy="844.2" r="0.4"/><circle cx="875.1" cy="844.8" r="0.4"/><circle cx="879.1" cy="845" r="0.4"/><circle cx="881.6" cy="844.1" r="0.5"/><circle cx="886.3" cy="844.2" r="0.4"/><circle cx="887.6" cy="845.2" r="0.4"/><circle cx="888.4" cy="843.9" r="0.4"/><circle cx="889.8" cy="844.9" r="0.4"/><circle cx="893.3" cy="843.9" r="0.4"/><circle cx="898" cy="844.5" r="0.4"/><circle cx="899.4" cy="844.3" r="0.4"/><circle cx="901.9" cy="844.5" r="0.5"/><circle cx="905.1" cy="844.7" r="0.5"/><circle cx="906.4" cy="844.8" r="0.4"/><circle cx="912.5" cy="844" r="0.5"/><circle cx="916" cy="844" r="0.4"/><circle cx="919.8" cy="844.9" r="0.4"/><circle cx="818.8" cy="846.5" r="0.4"/><circle cx="819.9" cy="847.4" r="0.4"/><circle cx="821.3" cy="846.8" r="0.4"/><circle cx="822.3" cy="847.3" r="0.4"/><circle cx="826.6" cy="846.9" r="0.4"/><circle cx="828.9" cy="846.7" r="0.3"/><circle cx="833.1" cy="847.5" r="0.4"/><circle cx="834.3" cy="847" r="0.4"/><circle cx="835.2" cy="847" r="0.3"/><circle cx="836.7" cy="846.7" r="0.5"/><circle cx="837.5" cy="846.8" r="0.5"/><circle cx="839.8" cy="846.5" r="0.4"/><circle cx="842.2" cy="847.5" r="0.3"/><circle cx="843.4" cy="847.1" r="0.4"/><circle cx="845.2" cy="846.3" r="0.5"/><circle cx="846.2" cy="847.2" r="0.3"/><circle cx="847.4" cy="847.6" r="0.4"/><circle cx="849.6" cy="846.2" r="0.4"/><circle cx="851.8" cy="847.1" r="0.4"/><circle cx="854.4" cy="846.6" r="0.4"/><circle cx="860.8" cy="847.2" r="0.4"/><circle cx="861.7" cy="847" r="0.3"/><circle cx="863.9" cy="846.3" r="0.4"/><circle cx="865.3" cy="847.5" r="0.4"/><circle cx="866.3" cy="846.8" r="0.4"/><circle cx="868.3" cy="847.6" r="0.5"/><circle cx="869.4" cy="847.1" r="0.3"/><circle cx="871.6" cy="846.2" r="0.4"/><circle cx="872.8" cy="847.5" r="0.4"/><circle cx="873.9" cy="847" r="0.4"/><circle cx="875.9" cy="847.2" r="0.3"/><circle cx="877.1" cy="847.1" r="0.3"/><circle cx="879.3" cy="846.8" r="0.4"/><circle cx="880.8" cy="847.3" r="0.3"/><circle cx="881.6" cy="847.6" r="0.3"/><circle cx="883.9" cy="846.9" r="0.4"/><circle cx="886.3" cy="846.2" r="0.4"/><circle cx="887.2" cy="847.4" r="0.4"/><circle cx="888.3" cy="847.4" r="0.4"/><circle cx="890.4" cy="846.9" r="0.4"/><circle cx="891.4" cy="846.8" r="0.3"/><circle cx="892.7" cy="847.4" r="0.3"/><circle cx="893.6" cy="846.8" r="0.4"/><circle cx="899.1" cy="846.6" r="0.5"/><circle cx="900.7" cy="847.5" r="0.3"/><circle cx="901.7" cy="846.4" r="0.4"/><circle cx="903.8" cy="846.3" r="0.5"/><circle cx="904.9" cy="847" r="0.3"/><circle cx="905.8" cy="846.7" r="0.4"/><circle cx="909.2" cy="846.4" r="0.4"/><circle cx="910.3" cy="846.9" r="0.4"/><circle cx="912.5" cy="846.7" r="0.4"/><circle cx="915.5" cy="847.2" r="0.4"/><circle cx="920.1" cy="846.6" r="0.4"/><circle cx="921.4" cy="846.4" r="0.4"/></g><rect x="654.2" y="898.8" width="182" height="56.2" fill="#f9f5f5"/><rect x="654.2" y="904.4" width="7.6" height="5.6" fill="#d42424"/><rect x="661.8" y="904.4" width="7.6" height="5.6" fill="#d83030"/><rect x="669.4" y="904.4" width="7.6" height="5.6" fill="#d83434"/><rect x="677.1" y="904.4" width="7.6" height="5.6" fill="#dc4444"/><rect x="684.7" y="904.4" width="7.6" height="5.6" fill="#e47878"/><rect x="692.3" y="904.4" width="7.6" height="5.6" fill="#f4c4c4"/><rect x="699.9" y="904.4" width="7.6" height="5.6" fill="#f6d0d0"/><rect x="707.5" y="904.4" width="7.6" height="5.6" fill="#fae0e0"/><rect x="715.2" y="904.4" width="7.6" height="5.6" fill="#fbe6e6"/><rect x="654.2" y="898.8" width="7.6" height="5.6" fill="#fae4e4"/><rect x="661.8" y="898.8" width="7.6" height="5.6" fill="#fbe8e8"/><rect x="654.2" y="910" width="7.6" height="5.6" fill="#ee9090"/><rect x="661.8" y="910" width="7.6" height="5.6" fill="#fae0e0"/><rect x="654.2" y="915.7" width="7.6" height="5.6" fill="#f8dcdc"/><rect x="661.8" y="915.7" width="7.6" height="5.6" fill="#fbe8e8"/><rect x="654.2" y="921.3" width="7.6" height="5.6" fill="#fbe8e8"/><rect x="654.2" y="926.9" width="7.6" height="5.6" fill="#f6c8c8"/><rect x="669.4" y="926.9" width="7.6" height="5.6" fill="#ee9494"/><rect x="654.2" y="932.5" width="7.6" height="5.6" fill="#fae0e0"/><rect x="654.2" y="938.1" width="7.6" height="5.6" fill="#cc1c1c"/><rect x="661.8" y="938.1" width="7.6" height="5.6" fill="#f0b0b0"/><rect x="669.4" y="938.1" width="7.6" height="5.6" fill="#e88484"/><rect x="677.1" y="938.1" width="7.6" height="5.6" fill="#f4c4c4"/><rect x="654.2" y="943.8" width="7.6" height="5.6" fill="#fae4e4"/><rect x="654.2" y="949.4" width="7.6" height="5.6" fill="#f8d8d8"/><rect x="661.8" y="949.4" width="7.6" height="5.6" fill="#fbe8e8"/><text x="651.6" y="903" font-size="3.9" font-weight="bold" text-anchor="end" fill="#111">Acquisition + CRISPR</text><text x="651.6" y="908.6" font-size="3.9" font-weight="bold" text-anchor="end" fill="#111">CRISPR Assoc Only</text><text x="651.6" y="914.2" font-size="3.9" font-weight="bold" text-anchor="end" fill="#111">Type I</text><text x="651.6" y="919.9" font-size="3.9" font-weight="bold" text-anchor="end" fill="#111">Type II</text><text x="651.6" y="925.5" font-size="3.9" font-weight="bold" text-anchor="end" fill="#111">Type III</text><text x="651.6" y="931.1" font-size="3.9" font-weight="bold" text-anchor="end" fill="#111">Type IV</text><text x="651.6" y="936.7" font-size="3.9" font-weight="bold" text-anchor="end" fill="#111">Type IV + Type V</text><text x="651.6" y="942.3" font-size="3.9" font-weight="bold" text-anchor="end" fill="#111">Type V</text><text x="651.6" y="948" font-size="3.9" font-weight="bold" text-anchor="end" fill="#111">Type V + Type I</text><text x="651.6" y="953.6" font-size="3.9" font-weight="bold" text-anchor="end" fill="#111">Type VI</text><text transform="translate(658.8,897.6) rotate(-45)" font-size="3.9" font-weight="bold" fill="#111">Unknown</text><text transform="translate(666.4,897.6) rotate(-45)" font-size="3.9" font-weight="bold" fill="#111">Firmicutes</text><text transform="translate(674,897.6) rotate(-45)" font-size="3.9" font-weight="bold" fill="#111">Proteobacteria</text><text transform="translate(681.7,897.6) rotate(-45)" font-size="3.9" font-weight="bold" fill="#111">Bacteroidetes</text><text transform="translate(689.3,897.6) rotate(-45)" font-size="3.9" font-weight="bold" fill="#111">Actinobacteria</text><text transform="translate(696.9,897.6) rotate(-45)" font-size="3.9" font-weight="bold" fill="#111">Fusobacteria</text><text transform="translate(704.5,897.6) rotate(-45)" font-size="3.9" font-weight="bold" fill="#111">Chloroflexi</text><text transform="translate(712.1,897.6) rotate(-45)" font-size="3.9" font-weight="bold" fill="#111">Verrucomicrobia</text><text transform="translate(719.8,897.6) rotate(-45)" font-size="3.9" font-weight="bold" fill="#111">Tenericutes</text><text transform="translate(727.4,897.6) rotate(-45)" font-size="3.9" font-weight="bold" fill="#111">Cyanobacteria</text><text transform="translate(735,897.6) rotate(-45)" font-size="3.9" font-weight="bold" fill="#111">Spirochaetes</text><text transform="translate(742.6,897.6) rotate(-45)" font-size="3.9" font-weight="bold" fill="#111">Planctomycetes</text><text transform="translate(750.2,897.6) rotate(-45)" font-size="3.9" font-weight="bold" fill="#111">Thermotogae</text><text transform="translate(757.9,897.6) rotate(-45)" font-size="3.9" font-weight="bold" fill="#111">Microgenomates</text><text transform="translate(765.5,897.6) rotate(-45)" font-size="3.9" font-weight="bold" fill="#111">Synergistetes</text><text transform="translate(773.1,897.6) rotate(-45)" font-size="3.9" font-weight="bold" fill="#111">Parcubacteria</text><defs><linearGradient id="gg" x1="0" y1="0" x2="1" y2="0"><stop offset="0" stop-color="#86c582"/><stop offset="0.45" stop-color="#b4dab0"/><stop offset="1" stop-color="#f0f7ee"/></linearGradient><linearGradient id="bg9" x1="0" y1="0" x2="1" y2="0"><stop offset="0" stop-color="#fbf8f4"/><stop offset="0.5" stop-color="#f3e9dc"/><stop offset="1" stop-color="#ead8c2"/></linearGradient></defs><path d="M663.8,802.1 C663.7,796.2 663.4,788.9 664.6,782.8 C665.8,776.6 668.2,770.3 671.1,765.2 C674,760.1 677.5,756.2 682.3,752.3 C687.1,748.4 693.3,744.2 700,741.9 C706.7,739.6 715,739.2 722.5,738.7 C730,738.2 737.8,737.9 745,738.7 C752.2,739.5 759.4,741.1 765.8,743.5 C772.2,745.9 778.7,749 783.5,753.1 C788.3,757.2 791.8,762.4 794.8,768.4 C797.8,774.4 799.9,782.6 801.2,789.3 C802.5,796 803.2,802.1 802.8,808.5 C802.4,814.9 801.2,821.9 798.8,827.8 C796.4,833.7 793,839.6 788.3,843.9 C783.6,848.2 777.9,851 770.7,853.5 C763.5,856 753.6,857.8 745,859.1 C736.4,860.4 726.8,861.5 719.3,861.5 C711.8,861.5 706.2,861.2 700,859.1 C693.8,857 687.1,852.9 682.3,848.7 C677.5,844.6 673.9,839.3 671.1,834.2 C668.3,829.1 666.6,823.6 665.4,818.2 C664.2,812.9 663.9,808 663.8,802.1Z" fill="#0c0c0c"/><path d="M666,800.7 C665.9,795.1 665.6,788.2 666.7,782.4 C667.9,776.5 670.1,770.5 672.9,765.6 C675.8,760.8 679,757.1 683.6,753.4 C688.2,749.7 694.1,745.7 700.5,743.5 C706.9,741.4 714.8,741 722,740.5 C729.1,740 736.6,739.7 743.4,740.5 C750.3,741.2 757.2,742.7 763.3,745 C769.4,747.3 775.6,750.2 780.2,754.1 C784.8,758.1 788.1,762.9 791,768.7 C793.8,774.4 795.8,782.2 797.1,788.5 C798.3,794.9 799,800.7 798.6,806.8 C798.2,812.9 797.1,819.5 794.8,825.1 C792.5,830.7 789.2,836.3 784.8,840.4 C780.3,844.5 774.9,847.1 768,849.5 C761.1,851.9 751.6,853.6 743.4,854.8 C735.3,856.1 726.1,857.1 718.9,857.1 C711.8,857.1 706.4,856.9 700.5,854.8 C694.6,852.8 688.2,848.9 683.6,845 C679,841 675.6,836 672.9,831.2 C670.3,826.4 668.7,821.1 667.5,816 C666.3,810.9 666.1,806.3 666,800.7Z" fill="url(#gg)"/><path d="M759.2,793.8 Q760.2,794.7 761.3,794.4 Q762.3,793.5 763.2,793.3 Q764.5,793.5 765.4,793.5 Q765.5,794.8 765.5,795.7 Q765.6,797 766.2,797.8 Q766.8,798.9 768.2,798.5 Q769.5,798.1 770.4,798.3 Q771.7,798.2 772.3,799.4 Q772.2,800.7 773.4,801.3 Q773.8,802.6 775.4,802.4 Q776,803.5 777.2,803.6 Q778.4,804.1 779.1,804.7" fill="none" stroke="#7f88b8" stroke-width="0.75" stroke-linecap="round" stroke-linejoin="round"/><path d="M766.4,810.6 Q767.5,811.3 768.5,810 Q768.9,808.7 770.1,808.5 Q771.4,808.5 771.9,809.8 Q771.6,811.1 771.8,812 Q770.9,811 769.6,811.8 Q768.3,812.1 767.8,810.6 Q767.1,811.7 766.5,812.4 Q765.5,813.2 764.3,812.2 Q763.5,813.2 762.2,812.6 Q762.3,813.9 760.6,814.1 Q760.3,815.4 760.2,816.3 Q760.5,817.6 761.7,817.9" fill="none" stroke="#7f88b8" stroke-width="0.75" stroke-linecap="round" stroke-linejoin="round"/><path d="M751.2,806.9 Q751.1,805.5 750.3,804.8 Q750.8,803.6 752.2,803.6 Q753.1,804.6 753.9,805 Q753.8,806.3 754.2,807.1 Q755.4,807.7 755.1,809.2 Q756.2,808.4 757.3,809.1 Q757.1,807.8 758.3,807.1 Q757.8,805.9 757.2,805.2 Q758.3,804.4 758.1,803.2 Q759.1,802.3 760.3,803.1 Q761.4,803.8 761.4,805 Q762.4,804.1 763.4,804.2" fill="none" stroke="#7f88b8" stroke-width="0.75" stroke-linecap="round" stroke-linejoin="round"/><path d="M769.2,784.1 Q769.2,785.4 770.4,785.9 Q771.5,786.6 772.1,787.3 Q773.2,786.8 774.2,787.9 Q773.3,788.9 774.3,790.1 Q773.6,791.3 772.9,791.8 Q772.7,793.1 771.8,793.7 Q770.6,794.1 770,794.9 Q768.8,795.6 769.1,796.9 Q768.4,798 767.2,797.9 Q766.3,796.9 765.3,796.7 Q764.2,797.5 763.2,797.3 Q761.9,797.5 761.3,796.1" fill="none" stroke="#7f88b8" stroke-width="0.75" stroke-linecap="round" stroke-linejoin="round"/><path d="M761.1,842.7 Q762.3,842.3 762.4,840.9 Q763.7,841 764.6,840.9 Q765.3,842 764.9,843.1 Q763.8,843.8 762.9,844 Q761.6,843.7 760.7,843.9 Q762,843.6 762.7,843 Q762.4,841.7 762.5,840.8 Q762.7,839.5 761.4,838.9 Q760.5,837.9 759.5,837.8 Q760,836.6 758.7,835.7 Q757.5,835.2 756.5,835.4 Q755.5,836.2 755.2,837.1" fill="none" stroke="#7f88b8" stroke-width="0.75" stroke-linecap="round" stroke-linejoin="round"/><path d="M773.1,828.6 Q773.7,827.4 772.8,826.4 Q771.8,825.5 771.4,824.7 Q770.2,825.1 769.4,825.5 Q770.3,826.4 770.4,827.5 Q769.7,828.6 770.2,829.6 Q770.8,830.8 772,830.8 Q773.3,830.7 774.1,831.6 Q774,833 774.8,833.7 Q775.4,834.9 775.8,835.7 Q775.6,837 776,837.9 Q774.7,838.2 774.4,839.4 Q773.1,839.4 772.7,837.9" fill="none" stroke="#7f88b8" stroke-width="0.75" stroke-linecap="round" stroke-linejoin="round"/><path d="M753.9,818.2 Q754.9,817.3 755.8,817.1 Q757,817.6 757.9,816.3 Q759.1,815.8 760.1,816.3 Q760,817.6 761.6,817.9 Q761.6,819.2 761.1,820 Q762.2,820.8 762.8,821.4 Q763.3,820.2 764.7,820.3 Q766,820.2 766.4,818.9 Q767.7,818.6 768.6,818.8 Q769.4,819.8 768.8,821 Q770.1,821.3 770.6,822.3 Q770.6,823.6 772,824" fill="none" stroke="#7f88b8" stroke-width="0.75" stroke-linecap="round" stroke-linejoin="round"/><path d="M758,833.9 Q759.3,834.2 760,832.9 Q760.9,833.9 761.5,834.5 Q762.2,833.4 763.6,833.9 Q764.1,832.7 764.6,832 Q763.2,831.8 762.5,831.1 Q761.2,831 760.5,830.3 Q760.1,829 759.6,828.3 Q759.5,826.9 758.9,826.2 Q758.7,824.9 758.9,824 Q757.8,823.2 756.9,823 Q757.3,824.3 755.8,825 Q756.4,826.1 755.9,827.2" fill="none" stroke="#7f88b8" stroke-width="0.75" stroke-linecap="round" stroke-linejoin="round"/><path d="M778.6,791.1 Q777.2,791 776.4,790.6 Q775.3,789.8 775.8,788.5 Q774.5,788.7 773.6,788 Q772.3,788.2 771.5,788.6 Q771,789.8 770.8,790.7 Q769.6,791.1 769,791.9 Q767.7,792.3 767,790.9 Q766.9,789.6 765.9,789 Q765.9,787.7 767.1,787.2 Q766.6,785.9 765.5,785.7 Q764.4,784.9 764.8,783.6 Q766,783.2 766.5,782.2" fill="none" stroke="#7f88b8" stroke-width="0.75" stroke-linecap="round" stroke-linejoin="round"/><path d="M770.8,829.7 Q769.7,830.4 768.7,829.3 Q767.3,829.5 766.6,830.1 Q767.1,831.3 766.2,832.2 Q767.4,832.8 768.2,833.2 Q767.2,834.1 767.2,835.2 Q768.5,835.4 769.3,836.1 Q770.5,836.4 770.5,837.9 Q770.5,839.2 769.6,839.9 Q768.7,840.9 769.1,842.1 Q768.2,843.1 766.9,842.3 Q767,841 765.6,840.5 Q766.7,839.8 766.7,838.6" fill="none" stroke="#7f88b8" stroke-width="0.75" stroke-linecap="round" stroke-linejoin="round"/><path d="M757.5,801.1 Q758.7,800.5 759.7,800.9 Q760.9,800.4 760.5,798.9 Q761.6,799.7 762.7,799.1 Q763.1,797.8 764.5,797.8 Q764.5,796.5 766,796.2 Q766.6,795 766.5,794 Q765.7,793 765.8,792 Q765.3,790.7 764,790.7 Q762.8,791.1 762.6,792.4 Q761.5,793 760.8,793.5 Q759.8,794.4 758.6,793.3 Q757.8,792.3 758,791.2" fill="none" stroke="#7f88b8" stroke-width="0.75" stroke-linecap="round" stroke-linejoin="round"/><path d="M759,813.8 Q759.1,812.5 759.1,811.6 Q760.3,811.1 761.3,811.8 Q762.6,811.8 763.1,813.1 Q764.1,813.9 764.6,814.7 Q765.9,815 765.7,816.6 Q766.7,817.5 767.9,816.7 Q768.2,815.4 769.1,814.8 Q770.4,815 770.9,816.1 Q771.8,817 772.3,817.8 Q773.4,817.1 773.9,816.2 Q775.2,816.2 775.4,814.7 Q776.8,814.8 777,816.3" fill="none" stroke="#7f88b8" stroke-width="0.75" stroke-linecap="round" stroke-linejoin="round"/><path d="M769.4,802.8 Q769.4,804.2 768,804.6 Q767.8,805.9 766.7,806.4 Q766.2,807.6 765,807.7 Q763.8,807.3 763.1,806.7 Q761.7,806.7 761.1,807.7 Q760.8,809 761.4,809.9 Q761.9,811.2 763.2,811.2 Q764.6,811.2 765.4,810.7 Q766.6,811.2 767.4,811.5 Q767.3,812.8 767.4,813.7 Q768.3,814.6 769.1,815.1 Q769.5,816.4 769.6,817.3" fill="none" stroke="#7f88b8" stroke-width="0.75" stroke-linecap="round" stroke-linejoin="round"/><path d="M765.8,785.6 Q765.1,786.7 764.1,787 Q763.7,788.3 764.4,789.2 Q765.2,788.1 766.6,788.9 Q765.9,787.8 766.6,786.7 Q765.3,787.1 764.4,786.6 Q763.1,786.5 762.7,788 Q762.5,789.3 762.6,790.2 Q762.9,791.5 763.9,792 Q765,791.2 766,791.3 Q765.6,790 766.1,789.1 Q765.1,788.2 764.6,787.4 Q764.5,786.1 766.1,785.8" fill="none" stroke="#7f88b8" stroke-width="0.75" stroke-linecap="round" stroke-linejoin="round"/><path d="M749.7,819.9 Q749.6,818.6 750,817.7 Q749.2,816.7 749,815.8 Q749.2,814.5 748.3,813.7 Q747.5,814.8 746.2,814.5 Q745.6,815.6 745.6,816.6 Q745.1,817.8 743.6,817.5 Q744.8,818 744.6,819.4 Q745.1,820.6 746.1,821.1 Q745.3,822.1 744.4,822.5 Q743.2,822.9 743.2,824.3 Q742.1,823.6 741,824.5 Q739.8,825.2 739.6,826.2" fill="none" stroke="#7f88b8" stroke-width="0.75" stroke-linecap="round" stroke-linejoin="round"/><path d="M781.5,798.5 Q780.4,799.3 779.3,798.9 Q779.1,800.2 777.7,800.4 Q776.7,799.6 775.8,799.4 Q774.6,800 773.7,800.2 Q773.5,801.5 771.8,801.3 Q770.7,801.9 769.7,800.8 Q768.4,800.4 767.5,801 Q766.3,801.5 766.1,802.7 Q765.2,801.7 764.1,801.7 Q763.4,800.6 762,801.1 Q760.8,800.5 759.9,801.9 Q758.6,801.8 757.7,801.9" fill="none" stroke="#7f88b8" stroke-width="0.75" stroke-linecap="round" stroke-linejoin="round"/><path d="M752.8,830.6 Q752.5,831.9 752.2,832.7 Q751,833.3 751.7,834.9 Q752.9,834.3 753.7,835.8 Q754.5,836.8 755.4,837.1 Q755.8,838.4 754.8,839.2 Q753.6,838.9 752.6,839.3 Q751.6,840 750.5,838.8 Q749.5,837.9 749.8,836.7 Q750.9,836.1 750.2,834.6 Q748.9,834.5 748,834.2 Q747.6,832.9 748.1,832 Q749.5,832.2 750.2,831.1" fill="none" stroke="#7f88b8" stroke-width="0.75" stroke-linecap="round" stroke-linejoin="round"/><path d="M775.8,787.7 Q777,787.2 778,787.4 Q777.6,786.1 778.1,785.2 Q777.3,786.2 778.6,787.3 Q779.9,787.1 780.7,787.9 Q779.4,788 778.9,789.2 Q779.1,790.5 778.7,791.4 Q777.4,791.4 776.6,791.8 Q775.3,792.1 775.6,793.8 Q774.5,794.5 773.5,794.3 Q772.3,794.8 771.5,795.2 Q770.1,795.2 769.3,795.1 Q769.1,796.4 768.3,797.1" fill="none" stroke="#7f88b8" stroke-width="0.75" stroke-linecap="round" stroke-linejoin="round"/><path d="M744.1,813.2 Q742.8,812.8 743,811.2 Q743.2,809.9 742.3,809.2 Q741.8,807.9 742.1,807 Q742.9,806 743.7,805.5 Q744.8,804.8 745.9,806.1 Q746.4,804.9 746.8,804.1 Q745.5,804 745.1,802.8 Q746.2,802.1 746.2,800.9 Q745.2,800 745.9,798.7 Q746.9,798 747.1,796.9 Q747.3,798.2 748,798.9 Q748.8,797.9 750.1,798.6" fill="none" stroke="#7f88b8" stroke-width="0.75" stroke-linecap="round" stroke-linejoin="round"/><path d="M753.4,802.4 Q754.6,802.8 755,803.9 Q756,804.7 756.3,805.7 Q757.5,805.2 758.4,806.5 Q759.5,807.2 760.5,806.1 Q760,807.3 761.1,808.2 Q759.8,808.4 759.4,809.6 Q758.1,809.7 757.3,810.2 Q756.9,809 755.3,809.2 Q754.5,808.2 753.8,807.7 Q754.6,806.6 753.8,805.5 Q752.9,804.5 754,803.3 Q754.3,802 755,801.3" fill="none" stroke="#7f88b8" stroke-width="0.75" stroke-linecap="round" stroke-linejoin="round"/><path d="M766.4,842.1 Q765.5,841.1 766.2,839.9 Q766.3,838.6 764.8,838.2 Q765.3,837 764.7,836 Q764.2,834.8 763.3,834.3 Q762,834.6 761.2,833.6 Q760.9,834.9 759.6,835.2 Q760.6,836.2 760.9,837 Q760,838 759.6,838.8 Q759,840 759.1,841 Q757.9,841.5 756.9,840.9 Q757.7,839.9 756.6,838.7 Q755.3,838.5 755.3,836.9" fill="none" stroke="#7f88b8" stroke-width="0.75" stroke-linecap="round" stroke-linejoin="round"/><path d="M757.2,801.1 Q758.4,801.7 759.4,801.6 Q760.6,802 761.3,800.6 Q761.5,799.3 762.9,799.1 Q764,799.9 765.1,798.6 Q766.2,797.9 765.4,796.5 Q766.6,795.9 766.7,794.7 Q767.8,795.5 768.6,795.9 Q769.9,796 770.3,797.3 Q771.4,798 772.3,798.2 Q773.5,797.6 774.3,797.4 Q775.6,797.1 775.9,795.9 Q777,795.1 776.6,793.7" fill="none" stroke="#7f88b8" stroke-width="0.75" stroke-linecap="round" stroke-linejoin="round"/><path d="M749.6,822.7 Q748.3,822.9 747.8,824 Q746.6,823.6 746.6,822.2 Q746.1,821 747.5,820.2 Q748.4,819.2 747.3,818 Q748.4,818.8 749.5,817.8 Q750.8,817.6 751.4,816.7 Q752.7,817 752.6,818.5 Q751.5,819.3 751.4,820.4 Q750.2,820 749.4,819.6 Q749.1,818.3 748,817.9 Q747.6,816.6 746.5,816.2 Q745.7,817.2 744.4,816.4" fill="none" stroke="#7f88b8" stroke-width="0.75" stroke-linecap="round" stroke-linejoin="round"/><path d="M760.7,837.8 Q761.1,839.1 761.5,839.9 Q762.6,840.7 763.5,840.9 Q763.2,842.2 763.9,843.1 Q764.7,842 766,842.7 Q765.3,841.6 765.7,840.6 Q764.9,839.6 764.7,838.6 Q765.7,837.7 765.5,836.6 Q764.7,835.5 764.7,834.5 Q766,834.1 766.5,833.2 Q765.5,832.4 765.3,831.4 Q766,830.3 766.3,829.5 Q765.5,828.4 765.2,827.5" fill="none" stroke="#7f88b8" stroke-width="0.75" stroke-linecap="round" stroke-linejoin="round"/><path d="M774.2,792.4 Q773.1,793.1 772.2,793.3 Q770.9,793.1 770.5,794.7 Q769.4,794.1 769,793.1 Q768.8,794.4 767.6,794.7 Q766.9,793.6 765.9,793.3 Q764.8,792.6 763.7,793.6 Q763.6,792.3 762.7,791.6 Q761.6,792.2 760.8,792.7 Q761.2,794 760.5,794.9 Q761,796.1 760.9,797 Q760,797.9 759,798.1 Q759.8,799.2 759.1,800.3" fill="none" stroke="#7f88b8" stroke-width="0.75" stroke-linecap="round" stroke-linejoin="round"/><path d="M762.5,798.8 Q763.8,798.5 764.3,797.6 Q764.4,796.2 764.2,795.4 Q763.9,794.1 765.3,793.5 Q766,792.4 765.8,791.4 Q765.6,790 764,790 Q763.3,791.1 762,790.7 Q761.4,789.5 759.9,790.1 Q759.5,788.8 759.1,788 Q757.8,787.8 757.3,786.7 Q757,787.9 755.8,788.2 Q754.9,789.2 753.7,789 Q755,789.5 755.3,790.6" fill="none" stroke="#7f88b8" stroke-width="0.75" stroke-linecap="round" stroke-linejoin="round"/><path d="M759.4,842 Q759.5,843.4 760.4,844 Q761.7,843.6 762.5,843.4 Q763.8,842.9 763.3,841.3 Q763.5,840 763.6,839.2 Q764.9,839.6 765.8,839.4 Q765.8,840.7 765.5,841.5 Q764.2,841.9 763.3,841.9 Q762,842.1 762,843.7 Q762.8,842.7 763.2,841.8 Q763.8,840.7 765.2,841 Q766.3,840.3 767.2,840.1 Q767.7,838.9 767.4,837.9" fill="none" stroke="#7f88b8" stroke-width="0.75" stroke-linecap="round" stroke-linejoin="round"/><path d="M763.8,819.1 Q763.2,818 762,817.9 Q761.7,816.6 760.1,816.7 Q760.4,815.4 760.8,814.6 Q759.7,813.9 759,813.3 Q758.2,812.3 756.9,812.8 Q756.3,814 754.8,813.6 Q753.9,814.5 754.4,815.8 Q754.9,817 756.4,816.9 Q757.6,817.3 758.5,817.4 Q758.3,818.7 759.5,819.4 Q760.8,819.4 761.6,819 Q762.9,818.5 762.4,817" fill="none" stroke="#7f88b8" stroke-width="0.75" stroke-linecap="round" stroke-linejoin="round"/><path d="M779.4,797.2 Q779.2,795.9 777.6,796 Q776.6,795.1 777.5,793.8 Q776.5,792.9 775.6,792.6 Q774.4,793.1 773.6,793.5 Q774.3,794.6 774.6,795.4 Q774.6,796.8 775.7,797.3 Q776.2,798.6 777.7,798.4 Q778.2,797.2 779.7,797.7 Q780.4,796.5 781.7,796.6 Q781.7,797.9 782.8,798.5 Q782.3,799.7 781.1,799.9 Q780.7,798.6 779.3,798.7" fill="none" stroke="#7f88b8" stroke-width="0.75" stroke-linecap="round" stroke-linejoin="round"/><path d="M752.5,833.2 Q752.5,834.5 753.2,835.3 Q754.4,835.8 754.8,836.7 Q755,838 755.6,838.8 Q756,837.5 757.6,837.9 Q758.3,836.8 759.7,837.3 Q760.6,836.3 759.7,835.1 Q761,835.5 761.9,834.9 Q761.8,836.2 762.4,837 Q762.1,838.3 760.4,837.9 Q759.8,839.1 758.9,839.5 Q759.2,840.8 758.5,841.7 Q758.4,843 759.3,843.7" fill="none" stroke="#7f88b8" stroke-width="0.75" stroke-linecap="round" stroke-linejoin="round"/><path d="M758.5,819.6 Q758.5,820.9 760,821.2 Q761.3,821.5 761.3,823 Q761.5,824.3 762.7,824.7 Q763.6,825.6 762.8,826.9 Q763.8,827.8 763.8,828.8 Q765.1,828.5 766,829.3 Q766.2,830.6 766.5,831.4 Q765.8,832.5 765.1,833 Q763.9,833.7 763,832.3 Q762,833.2 760.8,832.8 Q759.7,833.5 759.6,834.7 Q759.4,836 760.6,836.6" fill="none" stroke="#7f88b8" stroke-width="0.75" stroke-linecap="round" stroke-linejoin="round"/><path d="M768.9,837 Q768.2,835.9 769.4,834.9 Q770.7,835.2 771.5,835.6 Q771.6,834.3 772.4,833.6 Q771.8,832.4 772.3,831.4 Q771.1,830.8 770.9,829.7 Q769.6,829.7 768.7,829.5 Q768,830.7 767.9,831.6 Q767,832.5 765.8,832.1 Q764.7,831.4 763.7,831.5 Q762.5,832.2 761.6,832.3 Q761.3,833.6 761.6,834.5 Q760.4,833.9 759.4,834.5" fill="none" stroke="#7f88b8" stroke-width="0.75" stroke-linecap="round" stroke-linejoin="round"/><path d="M748.8,808.4 Q747.5,808.2 747.1,809.8 Q745.9,809.1 745.2,808.5 Q743.9,808.4 743.2,809.2 Q741.8,809.1 741,809.8 Q740.3,810.9 740.9,812 Q741.8,812.9 742.6,813.3 Q743.5,814.3 743,815.5 Q741.9,816.2 740.8,815.8 Q739.5,815.6 739.7,813.9 Q739.5,812.6 740.8,812 Q739.5,812.1 739.2,810.6 Q738.1,811.3 738.2,812.6" fill="none" stroke="#7f88b8" stroke-width="0.75" stroke-linecap="round" stroke-linejoin="round"/><path d="M782,830.9 Q780.8,831.5 779.8,830.7 Q779.1,831.8 778.5,832.5 Q777.2,832.2 776.5,831.4 Q776.3,830.1 775.5,829.5 Q774.3,829.9 773.6,828.5 Q772.9,829.6 771.6,829.5 Q770.7,830.4 769.6,830.4 Q768.4,830.1 767.4,830.2 Q766.3,831 766.7,832.3 Q767.2,833.5 766.5,834.5 Q767.8,834.6 768.7,834.7 Q769.7,833.9 769.6,832.7" fill="none" stroke="#7f88b8" stroke-width="0.75" stroke-linecap="round" stroke-linejoin="round"/><path d="M760.4,786 Q761.7,785.8 762.2,787.2 Q763.5,787.7 764.4,786.7 Q765.4,787.6 766.1,788 Q766.7,789.2 766.9,790.1 Q766.6,791.4 766.8,792.3 Q765.5,792.2 765.2,793.8 Q764.9,795.1 763.5,795.2 Q762.8,794 761.3,794.7 Q760.7,793.5 759.3,793.9 Q759.3,792.6 758.4,791.9 Q759.3,791 759.6,790.1 Q758.3,789.8 758.2,788.4" fill="none" stroke="#7f88b8" stroke-width="0.75" stroke-linecap="round" stroke-linejoin="round"/><path d="M784.8,822.1 Q785.6,823.1 786.9,822.6 Q785.7,823.1 785.6,824.3 Q784.5,823.5 784.1,822.7 Q784.8,821.5 783.8,820.5 Q783.1,819.4 784.2,818.3 Q783.2,817.4 782.6,816.8 Q781.6,817.7 780.4,817 Q779.4,817.9 779.6,819.1 Q779,820.3 780,821.2 Q778.8,821.9 777.8,821.7 Q776.5,821.9 775.8,820.9 Q774.9,821.9 773.7,821.7" fill="none" stroke="#7f88b8" stroke-width="0.75" stroke-linecap="round" stroke-linejoin="round"/><path d="M764.9,787.5 Q765.4,786.3 766.8,786.3 Q766.6,785 767.4,784.2 Q768.2,785.2 769.5,784.6 Q770.6,783.9 771.1,783.1 Q772.4,783.2 773.3,783.2 Q774.6,783.2 775,781.9 Q774.6,783.1 775.2,784.1 Q775.4,785.4 774.6,786.2 Q775.8,786.6 776.5,787.3 Q777.5,788.1 778.3,788.5 Q779.3,787.6 780.3,787.4 Q781.1,788.4 781.7,789.1" fill="none" stroke="#7f88b8" stroke-width="0.75" stroke-linecap="round" stroke-linejoin="round"/><path d="M763.5,819.8 Q762.7,818.7 761.3,819.5 Q760,819.6 759.2,819.9 Q757.9,820.2 757,820.2 Q758.1,821 757.5,822.4 Q757.2,823.7 757.4,824.6 Q758.2,825.6 758.2,826.6 Q759.5,826.9 760.4,826.3 Q761.6,825.9 762.5,827.1 Q762.9,825.8 764,825.5 Q764.2,824.2 764.2,823.3 Q765.4,822.8 766.1,822.2 Q767.4,822.4 768.1,823.2" fill="none" stroke="#7f88b8" stroke-width="0.75" stroke-linecap="round" stroke-linejoin="round"/><path d="M758.1,823.8 Q759,824.7 760.1,824.6 Q761.2,823.9 761.8,823.2 Q760.6,822.5 760.7,821.3 Q760,820.1 759.2,819.6 Q757.9,819.9 757,819.9 Q756.9,821.2 755.5,821.5 Q754.9,820.3 753.6,820.4 Q752.7,819.4 753.3,818.2 Q754.6,818.4 755.1,817 Q754,816.1 754.1,815 Q752.8,815.1 752.1,814.1 Q751.4,813 750.3,812.8" fill="none" stroke="#7f88b8" stroke-width="0.75" stroke-linecap="round" stroke-linejoin="round"/><path d="M769.3,838.4 Q769,837.1 768.9,836.2 Q769,834.9 770.3,834.5 Q770.4,833.2 771.4,832.6 Q771.3,831.3 771.7,830.4 Q770.4,830 769.6,829.8 Q768.5,830.6 767.9,831.2 Q766.8,832 766,832.3 Q765,831.4 764.3,830.9 Q764.9,829.7 763.7,828.8 Q763.9,827.5 762.6,826.9 Q761.3,826.9 761.1,825.3 Q760,826 758.9,825.6" fill="none" stroke="#7f88b8" stroke-width="0.75" stroke-linecap="round" stroke-linejoin="round"/><path d="M772.6,792 Q771.5,791.2 770.6,791.3 Q771,790.1 770.8,789.1 Q771.8,788.3 772.3,787.5 Q773.3,786.7 774.1,786.3 Q775.4,786.4 776.2,786.8 Q777.4,787.4 778.4,786.7 Q779.7,786.6 780,788.2 Q781.3,788 782.2,788.5 Q781.7,789.8 781.3,790.5 Q780.6,791.7 780.6,792.6 Q780.1,793.8 780.8,794.8 Q779.5,795 779.3,796.5" fill="none" stroke="#7f88b8" stroke-width="0.75" stroke-linecap="round" stroke-linejoin="round"/><path d="M765.8,839.1 Q764.5,839.2 763.6,839.2 Q763.5,837.9 762.5,837.3 Q761.3,836.8 761.3,835.5 Q760.2,834.8 759.2,834.8 Q758.3,835.8 757.1,835.4 Q756.5,836.6 756,837.3 Q754.8,837.8 754.4,838.9 Q755.2,840 755.9,840.5 Q757.1,839.8 757.8,839.3 Q758.4,838.1 758,837.1 Q757.2,836.1 758,834.9 Q757.9,833.6 758,832.7" fill="none" stroke="#7f88b8" stroke-width="0.75" stroke-linecap="round" stroke-linejoin="round"/><path d="M740.2,814.8 Q738.9,814.9 738.2,814 Q737.6,812.8 738.6,811.9 Q739.9,811.8 740.7,812.4 Q741.4,813.5 741.4,814.4 Q740.7,815.6 741.6,816.6 Q742.9,816.8 743.8,816.9 Q744.5,818 745.6,818.1 Q746.2,817 747,816.4 Q747.6,815.3 749,815.5 Q749.1,814.2 748,813.6 Q746.7,813.7 745.8,813.8 Q744.9,814.7 744.1,815.1" fill="none" stroke="#7f88b8" stroke-width="0.75" stroke-linecap="round" stroke-linejoin="round"/><path d="M783.4,831 Q782.2,830.5 781.3,831.2 Q781,832.5 781.2,833.4 Q781.1,832.1 780.1,831.5 Q780.8,830.4 781.1,829.6 Q781,828.3 781.5,827.4 Q782.5,828.3 783.7,827.5 Q783.4,826.3 784.7,825.6 Q783.8,826.5 783.3,827.3 Q782.2,828 781.4,828.3 Q781.7,829.6 781.9,830.5 Q780.8,831.2 780,831.5 Q780.8,832.5 780.1,833.7" fill="none" stroke="#7f88b8" stroke-width="0.75" stroke-linecap="round" stroke-linejoin="round"/><path d="M754.9,813.6 Q755.1,812.3 756.2,811.8 Q757.4,812.2 758.4,812.1 Q759.6,811.5 760.5,812.3 Q761.6,813.1 762.4,813.6 Q763.4,814.4 764.5,813.2 Q765.9,813.1 766.7,812.7 Q767.8,812 768.9,812.9 Q769.8,812 769.2,810.7 Q768.6,809.5 768.4,808.6 Q767.2,808.1 766.3,808.1 Q765.4,807.1 765.2,806.1 Q764,805.7 763.9,804.4" fill="none" stroke="#7f88b8" stroke-width="0.75" stroke-linecap="round" stroke-linejoin="round"/><path d="M770.2,800.8 Q771,799.7 772.4,800.5 Q773.7,800.4 774.6,800.9 Q775.2,799.7 776.3,799.6 Q775.8,798.4 777,797.5 Q775.7,797.7 775.2,796.2 Q774.3,795.3 773,796.1 Q771.7,795.9 771,797.1 Q770.5,798.3 771,799.3 Q769.8,800 768.8,799.4 Q767.7,798.6 766.6,798.8 Q767.4,799.9 766.3,801 Q766.9,802.2 766.4,803.2" fill="none" stroke="#7f88b8" stroke-width="0.75" stroke-linecap="round" stroke-linejoin="round"/><path d="M712,815 C722,805 730,790 729,762 M711,819 C735,820 752,800 751,768" fill="none" stroke="#222" stroke-width="0.5" stroke-dasharray="2 1.3"/><path d="M729.2,759 l-1.6,3.4 h3.2Z M751.2,765 l-1.6,3.4 h3.2Z" fill="#111"/><path d="M726,748 c2,2 -2,4 0,6 c1.5,1.5 2,2.5 3,4 M750,745 c-2,2 2,4 0,6 c-1,1.5 1,3 1.5,5 M724,778 l4,-3 l3,1 l7,-4 l5,-1 M724,778 l2.4,-2.6" fill="none" stroke="#111" stroke-width="0.8"/><circle cx="724.6" cy="777.4" r="1.4" fill="#fff" stroke="#111" stroke-width="0.6"/><circle cx="731" cy="772.5" r="1.3" fill="#fff" stroke="#111" stroke-width="0.6"/><path d="M683.5,759 C700,765 708,780 710.5,800 C712,818 708,828 692,836" fill="none" stroke="#0c0c0c" stroke-width="2.3" stroke-dasharray="2.6 0.9"/><path d="M708,824 l-2.6,4.5 M704,830 l-3,2.6" stroke="#e0a030" stroke-width="1.7"/><path d="M674,789 q4.2,0.5 0.4,2.6 q-1.9,0.5 0.8,2.6 q4.2,0.5 0.4,2.6 q-1.9,0.5 0.8,2.6 q4.2,0.5 0.4,2.6 q-1.9,0.5 0.8,2.6 q4.2,0.5 0.4,2.6 q-1.9,0.5 0.8,2.6 q4.2,0.5 0.4,2.6 q-1.9,0.5 0.8,2.6 q4.2,0.5 0.4,2.6 q-1.9,0.5 0.8,2.6 q4.2,0.5 0.4,2.6 q-1.9,0.5 0.8,2.6 q4.2,0.5 0.4,2.6 q-1.9,0.5 0.8,2.6 q4.2,0.5 0.4,2.6" fill="none" stroke="#b83626" stroke-width="2" stroke-linecap="round"/><path d="M674,789 q4.2,0.5 0.4,2.6 q-1.9,0.5 0.8,2.6 q4.2,0.5 0.4,2.6 q-1.9,0.5 0.8,2.6 q4.2,0.5 0.4,2.6 q-1.9,0.5 0.8,2.6 q4.2,0.5 0.4,2.6 q-1.9,0.5 0.8,2.6 q4.2,0.5 0.4,2.6 q-1.9,0.5 0.8,2.6 q4.2,0.5 0.4,2.6 q-1.9,0.5 0.8,2.6 q4.2,0.5 0.4,2.6 q-1.9,0.5 0.8,2.6 q4.2,0.5 0.4,2.6 q-1.9,0.5 0.8,2.6 q4.2,0.5 0.4,2.6" fill="none" stroke="#f0d060" stroke-width="0.5" stroke-linecap="round"/><path d="M685,833 c2,-1 3,1 4,2" fill="none" stroke="#6a2a20" stroke-width="0.7"/><g transform="translate(665.2,744.2) rotate(-32) scale(1)" fill="none" stroke="#9c2c5c" stroke-width="0.8" stroke-linejoin="round"><path d="M0,-6 L4.2,-3 L4.2,3 L0,6 L-4.2,3 L-4.2,-3 Z M0,-6 L0,6 M-4.2,-3 L0,0 L4.2,-3" fill="#fff" fill-opacity="0.6"/><path d="M0,6 V15 M-1.2,7.5 h2.4 M-1.2,9.5 h2.4 M-1.2,11.5 h2.4 M-1.2,13.5 h2.4"/><path d="M0,15 L-4,11.5 L-6.5,17 M0,15 L4,11.5 L6.5,17 M0,15 L-2.5,19 M0,15 L2.5,19" stroke-width="1"/></g><g transform="translate(723.5,729.5) rotate(8) scale(0.8)" fill="none" stroke="#5a8ad0" stroke-width="0.8" stroke-linejoin="round"><path d="M0,-6 L4.2,-3 L4.2,3 L0,6 L-4.2,3 L-4.2,-3 Z M0,-6 L0,6 M-4.2,-3 L0,0 L4.2,-3" fill="#fff" fill-opacity="0.6"/><path d="M0,6 V15 M-1.2,7.5 h2.4 M-1.2,9.5 h2.4 M-1.2,11.5 h2.4 M-1.2,13.5 h2.4"/><path d="M0,15 L-4,11.5 L-6.5,17 M0,15 L4,11.5 L6.5,17 M0,15 L-2.5,19 M0,15 L2.5,19" stroke-width="1"/></g><g transform="translate(752.4,731.5) rotate(-6) scale(0.8)" fill="none" stroke="#3c6ac0" stroke-width="0.8" stroke-linejoin="round"><path d="M0,-6 L4.2,-3 L4.2,3 L0,6 L-4.2,3 L-4.2,-3 Z M0,-6 L0,6 M-4.2,-3 L0,0 L4.2,-3" fill="#fff" fill-opacity="0.6"/><path d="M0,6 V15 M-1.2,7.5 h2.4 M-1.2,9.5 h2.4 M-1.2,11.5 h2.4 M-1.2,13.5 h2.4"/><path d="M0,15 L-4,11.5 L-6.5,17 M0,15 L4,11.5 L6.5,17 M0,15 L-2.5,19 M0,15 L2.5,19" stroke-width="1"/></g><path d="M772.3,894 C772.7,888 773.7,880 779,873.6 C784.3,867.2 794.2,859.8 804,855.4 C813.8,851 824.8,849.3 838,847.5 C851.2,845.7 870.2,844.5 883.5,844.5 C896.8,844.5 907.7,845.3 917.5,847.5 C927.3,849.7 935.7,853.4 942.5,857.7 C949.3,862.1 954.4,867.6 958.3,873.6 C962.1,879.6 964.8,887.6 965.6,894 C966.4,900.4 965.2,906.2 962.9,912.2 C960.5,918.2 957.2,925.2 951.5,930.3 C945.8,935.4 937.9,939.6 928.8,942.8 C919.7,946 908.3,948.6 897,949.6 C885.7,950.6 872.5,949.8 860.8,948.5 C849.1,947.2 838.1,945.4 826.7,941.6 C815.4,937.8 801,931.1 792.7,925.8 C784.4,920.5 780.2,915.2 776.8,909.9 C773.4,904.6 771.9,900 772.3,894Z" fill="#0c0c0c"/><path d="M775.6,893 C776,887.2 777,879.8 782.1,873.7 C787.3,867.6 796.9,860.6 806.4,856.5 C816,852.4 826.6,850.7 839.5,849 C852.3,847.3 870.8,846.2 883.7,846.2 C896.6,846.2 907.2,846.9 916.7,849 C926.3,851.1 934.4,854.6 941,858.7 C947.7,862.8 952.7,868 956.4,873.7 C960.1,879.4 962.8,886.9 963.5,893 C964.2,899 963.2,904.4 960.9,910.2 C958.6,915.9 955.3,922.4 949.8,927.3 C944.3,932.1 936.6,936 927.7,939.1 C918.9,942.1 907.8,944.6 896.8,945.5 C885.8,946.4 873,945.7 861.6,944.5 C850.2,943.2 839.5,941.5 828.5,937.9 C817.5,934.4 803.5,928 795.4,923 C787.4,918 783.3,913 780,908 C776.7,903 775.3,898.7 775.6,893Z" fill="url(#bg9)"/><path d="M818.2,873.1 Q817.6,872 817,871.3 Q816.3,870.1 815,870.3 Q814.3,871.4 813.3,871.8 Q813.5,873.1 812.6,873.8 Q813.9,874 814.7,874.4 Q815.5,873.3 815.7,872.4 Q814.4,872 813.9,871.2 Q813.3,870 811.9,870.3 Q811.8,871.6 810.5,872 Q809.6,873 808.3,872 Q808.3,870.6 808,869.8 Q807.5,868.6 806.2,868.5" fill="none" stroke="#7c80bc" stroke-width="0.7" stroke-linecap="round" stroke-linejoin="round"/><path d="M848.6,888.7 Q849.2,889.9 849.6,890.6 Q849.4,891.9 848.5,892.5 Q847.7,893.5 848.1,894.7 Q847.4,895.8 847.6,896.8 Q846.5,897.5 846.2,898.5 Q845,898 844.2,897.6 Q843.2,896.7 842.9,895.8 Q841.6,896 841.1,897 Q840.5,898.1 841.2,899.2 Q839.9,899.2 839.1,899.8 Q839.2,901.1 838.6,901.9 Q839.7,902.7 839,904.1" fill="none" stroke="#7c80bc" stroke-width="0.7" stroke-linecap="round" stroke-linejoin="round"/><path d="M822.4,903.8 Q823.6,904.3 823.4,905.8 Q824.5,906.6 823.5,908 Q824.7,908.6 824.7,909.8 Q824.8,911.2 825.7,911.8 Q824.5,912.4 823.9,913.2 Q824.2,911.9 822.7,911.4 Q821.9,910.3 822.3,909.2 Q821.4,908.3 821.8,907 Q823.1,906.7 824,906.7 Q825.3,906.5 825.7,908.1 Q826.3,906.9 827.6,906.9 Q827.5,905.6 828.1,904.8" fill="none" stroke="#7c80bc" stroke-width="0.7" stroke-linecap="round" stroke-linejoin="round"/><path d="M806.8,894.7 Q807.9,895.4 807.3,896.8 Q808.6,897 808.8,898.5 Q810.1,898.2 810.5,899.8 Q811.9,899.8 812.1,901.3 Q812.6,902.6 812.5,903.5 Q811.4,904.2 810.3,903.8 Q809,903.5 808.2,904.2 Q807.5,905.4 806.6,905.8 Q805.4,905.1 804.5,906.4 Q803.6,905.5 803.2,904.6 Q803.8,903.4 803.5,902.4 Q802.6,901.5 802.8,900.3" fill="none" stroke="#7c80bc" stroke-width="0.7" stroke-linecap="round" stroke-linejoin="round"/><path d="M788.8,900.2 Q787.8,901 787.5,902 Q788.6,902.8 789,903.6 Q790.2,904.2 791,902.7 Q792.3,902.6 793.1,902 Q794.3,902.6 794.8,903.3 Q795,902 796.3,901.7 Q797.5,901.1 798.5,901.2 Q798.7,902.5 799.7,903 Q798.4,903.4 797.8,904.2 Q796.8,905.1 797.1,906.3 Q798.3,906.8 799.1,907 Q799.1,908.4 799.1,909.2" fill="none" stroke="#7c80bc" stroke-width="0.7" stroke-linecap="round" stroke-linejoin="round"/><path d="M795.5,899 Q794.4,898.3 793.4,899.3 Q792.7,900.5 791.7,900.7 Q791.1,901.9 789.9,902.1 Q789.7,903.4 789.2,904.1 Q788.1,904.8 787.1,903.7 Q788.3,903.2 787.8,901.6 Q789,901.1 790,901.8 Q791.2,901.3 792.1,902.4 Q793.2,901.7 794.2,901.8 Q795.3,902.5 796.4,901.3 Q797.2,902.4 797.8,903 Q797.6,904.3 797.4,905.1" fill="none" stroke="#7c80bc" stroke-width="0.7" stroke-linecap="round" stroke-linejoin="round"/><path d="M845.4,917.3 Q844.1,917.7 843.4,918.2 Q842.3,919 841.4,919.2 Q841.2,920.5 841,921.3 Q842,922.2 842.9,922.4 Q842,923.4 842.3,924.6 Q841.6,925.6 841,926.3 Q840.3,927.4 838.9,927 Q838.4,928.2 839.4,929.1 Q839.9,930.4 840.7,930.9 Q839.9,929.8 838.8,929.9 Q839.6,930.9 840.9,930.5 Q842.2,930.6 842.4,929" fill="none" stroke="#7c80bc" stroke-width="0.7" stroke-linecap="round" stroke-linejoin="round"/><path d="M789.2,893.4 Q788.1,892.7 788.2,891.4 Q787.6,890.3 787.6,889.3 Q788.2,888.1 789.6,888.3 Q790.6,887.5 790.3,886.3 Q791,885.1 789.8,884.1 Q790.5,883 791.9,883.4 Q792.9,884.3 794.1,883.3 Q795.3,882.8 795.8,881.9 Q795.9,880.6 796.1,879.7 Q796,878.4 796.9,877.7 Q798,877 798.8,876.5 Q800,877 800.3,878.1" fill="none" stroke="#7c80bc" stroke-width="0.7" stroke-linecap="round" stroke-linejoin="round"/><path d="M845.6,897.5 Q846,898.8 844.9,899.6 Q843.9,898.7 842.7,899.6 Q841.4,899.9 841.3,901.3 Q840.1,901.7 840.2,903.2 Q839.2,902.3 838.1,902.7 Q836.8,903.1 836.1,903.6 Q835.2,902.7 835.2,901.6 Q834.6,900.5 833.6,900.1 Q833,901.3 831.9,901.5 Q832.4,902.7 832.4,903.7 Q832.7,904.9 833.4,905.6 Q834.5,906.3 834.4,907.6" fill="none" stroke="#7c80bc" stroke-width="0.7" stroke-linecap="round" stroke-linejoin="round"/><path d="M787.9,900.6 Q789.1,901.3 790.1,900.5 Q791.4,900.4 791.8,899 Q792.2,897.8 793.2,897.4 Q792.4,896.4 792,895.6 Q791,894.7 791,893.6 Q790.1,892.6 788.8,893.4 Q787.7,894.1 788.3,895.6 Q787.7,896.8 788.5,897.8 Q789.7,898.2 790.6,898.2 Q791.4,899.3 791.7,900.1 Q792.8,900.9 793.5,901.4 Q794.3,900.3 795.5,900.5" fill="none" stroke="#7c80bc" stroke-width="0.7" stroke-linecap="round" stroke-linejoin="round"/><path d="M804.3,868.5 Q805.1,869.5 803.9,870.6 Q802.9,871.6 802.4,872.3 Q802.5,873.6 804,873.8 Q803.3,874.9 804.1,876 Q804.9,877.1 804.7,878.1 Q805.9,877.6 806.8,878.7 Q807.1,880 808.3,880.4 Q809.1,879.3 810.5,880.1 Q811,878.9 812.3,878.9 Q811.8,877.7 812.5,876.7 Q813.1,875.5 813.8,874.9 Q814.6,873.8 815.4,873.4" fill="none" stroke="#7c80bc" stroke-width="0.7" stroke-linecap="round" stroke-linejoin="round"/><path d="M845.4,926.2 Q845.8,927.5 847.2,927.6 Q848.5,927.6 848.6,929.2 Q847.3,929.1 846.8,928 Q846.6,926.7 847.9,926 Q849,926.6 850.1,926 Q851.4,926 852.1,926.7 Q853.1,925.8 853.2,924.8 Q854.5,924.6 855.2,925.7 Q856.1,924.7 856.7,924.2 Q857.9,923.5 858.8,925 Q859.9,925.7 859.3,927.1 Q858.4,928 857.6,928.5" fill="none" stroke="#7c80bc" stroke-width="0.7" stroke-linecap="round" stroke-linejoin="round"/><path d="M862.7,909.6 Q863.6,908.7 864.3,908.1 Q863.9,906.8 863.1,906.2 Q862.8,905 861.2,905.1 Q861.9,904 861.2,902.9 Q860.2,902.2 859.6,901.5 Q858.5,900.8 859,899.4 Q857.9,900.2 856.9,900.1 Q855.6,900.3 855.2,901.5 Q854,902 853.1,900.7 Q851.9,901.1 852.1,902.6 Q853.1,903.5 852.5,904.8 Q851.2,905.1 851,906.3" fill="none" stroke="#7c80bc" stroke-width="0.7" stroke-linecap="round" stroke-linejoin="round"/><path d="M834.8,916.6 Q836.1,916.5 836.9,917.3 Q837.8,918.3 839.1,917.3 Q840.4,917.1 841.1,916.5 Q841.3,917.8 842.7,917.9 Q843.7,918.9 843.8,919.9 Q844.7,920.9 843.5,922 Q843.4,923.4 844.3,924.1 Q845,925.2 844,926.3 Q842.8,927 842.3,927.7 Q842.3,929.1 840.9,929.5 Q841.9,928.5 843.1,928.9 Q844.2,928.3 845.2,929.4" fill="none" stroke="#7c80bc" stroke-width="0.7" stroke-linecap="round" stroke-linejoin="round"/><path d="M801.2,889.6 Q801.4,888.3 800.1,887.8 Q800.7,886.6 802,886.7 Q801.9,885.4 801,884.8 Q802.1,884.1 801.7,882.7 Q803.1,882.5 803.5,881.4 Q803.3,880.1 804.6,879.5 Q805.5,880.4 806.4,880.7 Q807.6,881.3 808.6,880.3 Q807.6,879.4 808.5,878.1 Q807.2,878 806.9,876.6 Q805.8,875.8 804.9,875.7 Q803.8,874.9 803,874.6" fill="none" stroke="#7c80bc" stroke-width="0.7" stroke-linecap="round" stroke-linejoin="round"/><path d="M794,901.3 Q795.3,901 795.7,899.9 Q797,900.1 797.8,899.3 Q799.1,899.5 799.9,899.8 Q800.2,898.6 801.7,898.6 Q800.6,897.9 801,896.5 Q802.2,895.9 802.2,894.6 Q803.2,895.5 804.4,894.7 Q805.7,894.5 806.4,893.8 Q807.7,893.8 808.1,895.1 Q808.2,893.8 809.3,893.2 Q810.1,894.2 811.4,894 Q812.6,893.6 812.8,892.3" fill="none" stroke="#7c80bc" stroke-width="0.7" stroke-linecap="round" stroke-linejoin="round"/><path d="M798.7,883.6 Q797.4,883.9 797.2,885.2 Q798.5,885.3 798.5,886.9 Q798.4,888.2 797.9,889 Q797,890 796.9,890.9 Q796.7,892.2 795.5,892.7 Q795.3,894 795.5,894.9 Q794.6,895.9 793.7,896.1 Q794.9,896.6 794.9,897.9 Q795.6,899.1 797.1,898.5 Q798.4,898.4 799.3,898.5 Q800.5,898.9 801.4,897.9 Q802.7,898.1 803,899.4" fill="none" stroke="#7c80bc" stroke-width="0.7" stroke-linecap="round" stroke-linejoin="round"/><path d="M840,902.3 Q839.5,901.1 838.9,900.4 Q837.5,900.2 836.7,900.3 Q835.9,899.3 835.6,898.4 Q834.8,897.3 834.8,896.4 Q836.1,896.6 836.7,895.4 Q835.6,894.7 836.1,893.2 Q835.5,892.1 835.8,891.1 Q834.5,890.8 833.6,891.4 Q832.9,892.5 833,893.5 Q833.8,894.5 834.9,894.6 Q834.1,895.7 834.7,896.8 Q833.4,896.8 832.6,897.3" fill="none" stroke="#7c80bc" stroke-width="0.7" stroke-linecap="round" stroke-linejoin="round"/><path d="M812,878 Q813.3,877.6 813.9,876.8 Q812.7,876.3 813.2,874.8 Q812.1,874 811,874.5 Q810,875.4 810,876.5 Q809.4,877.7 808.5,878.1 Q808.5,879.5 807.5,880.1 Q808,881.3 807.1,882.3 Q806.4,883.4 806.5,884.4 Q805.3,884.7 805.6,886.4 Q804.8,885.3 803.5,885.7 Q802.2,885.7 801.7,884.5 Q802.5,883.4 801.5,882.3" fill="none" stroke="#7c80bc" stroke-width="0.7" stroke-linecap="round" stroke-linejoin="round"/><path d="M834.5,896 Q835,894.7 834.1,893.8 Q833.5,892.6 833.5,891.7 Q834.4,890.7 835.1,890.1 Q836.1,889.3 837.2,889.4 Q838.5,889.4 839.4,889.1 Q840.4,889.8 841.5,889.3 Q842.3,888.2 843.5,888.4 Q842.6,889.3 841.9,889.9 Q841.5,891.1 841,891.9 Q842.3,892.2 842.3,893.6 Q843.3,894.5 842.5,895.8 Q841.5,896.6 842.3,898" fill="none" stroke="#7c80bc" stroke-width="0.7" stroke-linecap="round" stroke-linejoin="round"/><path d="M826.5,913 Q826.7,911.7 826.6,910.8 Q825.9,909.8 825,909.4 Q823.9,908.7 823.5,907.8 Q824.5,907 824.9,906.1 Q826.1,905.5 825.8,904.1 Q826.9,904.8 827.9,903.5 Q828.8,902.5 829.4,901.9 Q829.7,900.6 829.1,899.7 Q830.4,899.4 831,898.5 Q832.1,897.9 833.1,898.8 Q833.9,899.8 833.1,901 Q832.6,902.2 831.3,902.1" fill="none" stroke="#7c80bc" stroke-width="0.7" stroke-linecap="round" stroke-linejoin="round"/><path d="M841.6,915.1 Q842.5,916.1 842.2,917.3 Q841.3,918.3 840.1,918 Q839.7,916.7 839.4,915.8 Q838.7,916.9 837.4,916.6 Q836.3,917.3 836,918.3 Q835.1,919.3 833.9,919.2 Q832.6,919.2 832.2,920.5 Q831.5,921.6 830.5,921.9 Q829.3,921.5 828.4,922.5 Q828,921.3 826.4,921.7 Q825.3,922.5 824.2,921.3 Q823.1,922 823.7,923.5" fill="none" stroke="#7c80bc" stroke-width="0.7" stroke-linecap="round" stroke-linejoin="round"/><path d="M814.7,917.4 Q815.9,917.7 816.9,917.3 Q818,918 819,917.7 Q819,919 819.7,919.8 Q820.5,920.9 819.2,921.9 Q820.4,922.5 821.1,923.1 Q820.3,924.2 821,925.3 Q820.5,926.5 821.5,927.5 Q820.2,926.9 820.4,925.5 Q821.3,924.6 822.3,924.4 Q821.8,923.1 823.1,922.3 Q821.8,922.1 821.9,920.5 Q822.4,919.3 821,918.5" fill="none" stroke="#7c80bc" stroke-width="0.7" stroke-linecap="round" stroke-linejoin="round"/><path d="M784.8,898.1 Q785.6,897 786.8,897.2 Q787.3,895.9 788.2,895.4 Q788.6,894.1 788.9,893.3 Q788.6,892 788.9,891.1 Q789.9,890.2 791.1,890.9 Q792.2,890.2 792.5,889.2 Q792.1,887.9 793,887 Q794.2,886.7 795.1,886.7 Q795.8,887.9 797.2,887.5 Q797.1,888.8 796.8,889.6 Q797.7,890.6 796.7,891.8 Q797.6,892.8 798.9,892.1" fill="none" stroke="#7c80bc" stroke-width="0.7" stroke-linecap="round" stroke-linejoin="round"/><path d="M854,914.3 Q854.7,915.4 855.4,916 Q856.6,915.3 857.5,915.1 Q857.9,913.9 859.5,914.3 Q859.3,913 859.9,912.1 Q860.3,910.8 861.6,910.7 Q862.7,909.9 863.7,909.9 Q864.9,910.4 865.8,909.4 Q864.5,909.3 864,908.1 Q862.7,908.5 861.9,908.7 Q861.8,910 861,910.7 Q860.1,911.6 858.9,911.2 Q857.8,912 856.8,911.9" fill="none" stroke="#7c80bc" stroke-width="0.7" stroke-linecap="round" stroke-linejoin="round"/><path d="M836.6,896.6 Q837.9,896.5 838.2,895 Q837.3,894.1 836.9,893.2 Q835.6,893 835.5,891.6 Q836.7,891 836.6,889.6 Q836.9,888.4 836.9,887.5 Q837.9,888.3 837.2,889.6 Q836.1,890.3 836.1,891.6 Q835.5,892.7 835.4,893.6 Q834.2,894.2 834,895.4 Q834.5,896.6 834.9,897.4 Q833.9,898.3 833.1,898.7 Q832,899.4 830.9,898.3" fill="none" stroke="#7c80bc" stroke-width="0.7" stroke-linecap="round" stroke-linejoin="round"/><path d="M816.4,870.2 Q815.2,870.7 814.2,869.7 Q813.1,870.3 812.8,871.4 Q812.5,872.6 814,873.3 Q813.6,874.5 813,875.2 Q814.2,875.9 814.4,877 Q815.5,877.7 816.6,877 Q817.7,876.3 818.3,875.6 Q818.4,874.3 817.1,873.8 Q818.3,873.4 818.7,872.3 Q819.2,871.1 820.8,871.5 Q820.6,872.8 821.1,873.7 Q822.3,873 823.2,874.3" fill="none" stroke="#7c80bc" stroke-width="0.7" stroke-linecap="round" stroke-linejoin="round"/><path d="M804.4,888.9 Q804.2,890.2 803.7,891 Q804.8,891.8 805.6,892.2 Q806.7,891.3 806.9,890.4 Q808,889.7 808.9,889.5 Q809.3,888.2 808.9,887.3 Q808.1,886.2 807,886.3 Q806.5,885 805.4,884.8 Q806.4,883.9 806.8,883.1 Q806.7,881.7 806.9,880.9 Q808.1,880.3 807.8,878.9 Q806.5,878.4 806.3,877.3 Q806.9,876.1 806.3,875.1" fill="none" stroke="#7c80bc" stroke-width="0.7" stroke-linecap="round" stroke-linejoin="round"/><path d="M833.4,928.3 Q833.5,927 832.1,926.5 Q831,927.3 830,927.1 Q829.9,925.8 829,925.2 Q829.3,923.9 828.9,923 Q828,922 827.1,921.7 Q825.8,921.8 825,922.3 Q825.5,921.1 824,920.3 Q823,921.1 821.9,920.9 Q820.7,921.5 819.7,921 Q819.9,919.7 819.5,918.8 Q820.3,917.8 821.7,918.7 Q823,918.6 823.5,920" fill="none" stroke="#7c80bc" stroke-width="0.7" stroke-linecap="round" stroke-linejoin="round"/><path d="M790,896.7 Q788.8,897.3 787.8,897.1 Q787,896 786.1,895.7 Q787,894.7 787.7,894.2 Q789,894.3 789.9,894.4 Q791.2,894.1 791.8,893.2 Q792.6,892.2 793.5,891.9 Q794.9,892 795.4,893 Q796.4,894 797.6,893.1 Q798.7,892.4 799.2,891.6 Q797.9,891.4 798.1,889.7 Q798,888.4 798.5,887.6 Q798.2,886.3 798.5,885.4" fill="none" stroke="#7c80bc" stroke-width="0.7" stroke-linecap="round" stroke-linejoin="round"/><path d="M799,877.8 Q797.7,877.8 796.8,877.6 Q795.7,878.3 795.7,879.5 Q794.5,880.1 794.3,881.2 Q794,882.5 793.4,883.2 Q793.7,884.5 794.2,885.2 Q792.8,885.2 792.7,886.8 Q791.8,887.8 791.8,888.9 Q791.6,890.2 789.9,890 Q790.1,888.7 788.5,888.3 Q789.6,887.7 790.7,888.5 Q791.9,888.9 792.7,889.4 Q793.6,890.3 793.6,891.4" fill="none" stroke="#7c80bc" stroke-width="0.7" stroke-linecap="round" stroke-linejoin="round"/><path d="M843.7,909.1 Q842.5,909.3 841.9,907.9 Q842,909.2 840.7,909.7 Q841,911 841.2,911.9 Q840.4,913 840.4,913.9 Q841.2,914.9 841.9,915.5 Q842.9,914.7 844,914.9 Q845.1,914.1 845.8,913.7 Q846.4,912.5 847,911.8 Q847.8,912.9 848.9,913 Q849.9,912.2 851.1,913 Q852.3,912.5 852.4,911.3 Q853.6,911.8 854,912.8" fill="none" stroke="#7c80bc" stroke-width="0.7" stroke-linecap="round" stroke-linejoin="round"/><path d="M791.8,890.2 Q792.9,889.6 793,888.4 Q793.9,887.4 794.5,886.8 Q793.3,886.3 793,885.2 Q791.9,884.5 791.3,883.8 Q790.2,884.6 789.5,885.1 Q790.1,886.3 790.9,886.8 Q789.7,887.4 790.3,889 Q791.6,889.1 792.1,890.2 Q793.4,890 793.3,888.4 Q792.4,887.4 791.7,886.9 Q790.9,885.9 790,885.5 Q789,884.6 787.8,885.5" fill="none" stroke="#7c80bc" stroke-width="0.7" stroke-linecap="round" stroke-linejoin="round"/><path d="M811.2,891.9 Q809.9,891.9 809.1,892.3 Q807.8,892.2 807.7,890.6 Q808.4,889.5 807.5,888.4 Q807.4,887.1 808.2,886.3 Q809.4,885.8 810.4,886.2 Q811.7,886.1 812.6,886.4 Q812.3,885.1 813.5,884.4 Q814.6,885.1 815.5,885.1 Q816.1,886.3 814.9,887.2 Q815.8,888.2 814.8,889.4 Q814,890.4 813,890.8 Q811.8,890.4 810.9,890.4" fill="none" stroke="#7c80bc" stroke-width="0.7" stroke-linecap="round" stroke-linejoin="round"/><path d="M838.4,891.8 Q839.5,891 839.8,890.1 Q838.7,889.3 838.9,888.1 Q840.1,887.5 839.9,886.1 Q840.4,887.3 840.6,888.2 Q841.1,889.4 840.3,890.4 Q840,891.7 841.3,892.4 Q840.9,893.6 841.7,894.5 Q842.6,895.5 843.5,895.8 Q844.7,896.1 845.7,896.1 Q846.4,895 846.9,894.3 Q845.6,894.2 845.2,892.8 Q845.3,891.5 844.4,890.8" fill="none" stroke="#7c80bc" stroke-width="0.7" stroke-linecap="round" stroke-linejoin="round"/><path d="M840,892 Q839.6,893.2 838.8,893.8 Q839.8,894.7 839.7,895.8 Q839.4,897.1 838,897.3 Q838.8,898.4 838,899.5 Q837.9,900.8 837.4,901.6 Q836.1,901.3 835.4,902.6 Q834.8,903.8 836.2,904.7 Q835.8,906 836.3,906.9 Q835.1,906.3 834.2,907.5 Q832.9,907.7 832.1,906.9 Q831.6,905.7 831.8,904.7 Q830.6,904.4 829.9,903.7" fill="none" stroke="#7c80bc" stroke-width="0.7" stroke-linecap="round" stroke-linejoin="round"/><path d="M831.2,926 Q829.9,925.9 829.2,926.8 Q829.2,925.5 828.4,924.8 Q829.2,923.7 829.9,923.2 Q829.8,921.9 830.3,921 Q831.5,920.4 832.1,919.7 Q831.8,918.4 830.8,917.9 Q831.2,916.7 830.5,915.7 Q831.7,916.1 832.7,915.5 Q831.6,914.7 832.3,913.3 Q833,912.1 834.5,912.7 Q834.7,911.4 834.1,910.5 Q832.8,910.8 831.9,910.4" fill="none" stroke="#7c80bc" stroke-width="0.7" stroke-linecap="round" stroke-linejoin="round"/><path d="M800,882.9 Q801.2,882.3 802.1,883.6 Q802.1,882.3 803.1,881.7 Q802.3,880.7 803,879.5 Q802.5,878.3 800.9,878.7 Q800.6,877.4 800.1,876.6 Q799.7,875.3 800.5,874.4 Q800.3,873.1 800.4,872.3 Q800.6,871 801.3,870.3 Q802.3,871.2 803.5,870.5 Q804.1,869.3 804.6,868.6 Q804,869.8 802.7,869.7 Q803.2,870.9 802.3,871.9" fill="none" stroke="#7c80bc" stroke-width="0.7" stroke-linecap="round" stroke-linejoin="round"/><path d="M803.7,911 Q802.6,911.7 803.1,913.1 Q802.8,914.4 804.2,914.9 Q804.5,913.6 806,913.7 Q807.3,913.5 808.2,914.2 Q808.4,915.5 809.2,916.1 Q809.1,917.4 809.1,918.3 Q809.4,919.6 810.7,919.8 Q809.5,920.3 809.5,921.7 Q810.2,922.8 810.4,923.7 Q811.7,923.9 812.4,922.9 Q811.4,922.2 811.9,920.8 Q812.9,920 813.8,919.8" fill="none" stroke="#7c80bc" stroke-width="0.7" stroke-linecap="round" stroke-linejoin="round"/><path d="M828,912.2 Q826.7,912.4 825.8,912.7 Q825.2,911.5 823.7,912.1 Q822.5,911.5 822.6,910.2 Q823.9,910.2 824.4,909 Q825.7,908.8 826.5,908.2 Q827.8,908.5 828.7,907.9 Q829.9,908.3 829.7,909.8 Q828.7,910.7 827.9,911.1 Q826.6,910.9 826.1,909.9 Q824.8,909.7 824.3,908.7 Q824.4,907.4 823.4,906.7 Q822.1,906.2 822.2,904.8" fill="none" stroke="#7c80bc" stroke-width="0.7" stroke-linecap="round" stroke-linejoin="round"/><path d="M823,875.1 Q824.2,875.6 825.1,875.8 Q826.3,876.3 826.8,877.2 Q826.1,878.3 827.1,879.4 Q825.8,879.6 825.1,880.3 Q824.3,879.2 823.6,878.7 Q822.4,879.2 821.4,878.4 Q820.3,879.1 819.9,880 Q820.6,881.1 819.5,882.2 Q818.4,882.9 817.4,882.5 Q816.1,882.8 815.4,883.6 Q814.8,884.8 814.6,885.7 Q813.4,884.9 812.4,885.2" fill="none" stroke="#7c80bc" stroke-width="0.7" stroke-linecap="round" stroke-linejoin="round"/><path d="M807.6,923.9 Q807.8,922.6 807.1,921.8 Q805.9,921.3 804.9,921.7 Q805.4,920.4 806.7,920.4 Q808,920.3 808.9,920.3 Q808.3,921.5 809.1,922.5 Q809.6,923.8 810.8,924 Q812,923.4 812.5,922.6 Q813,923.9 814.5,923.6 Q815.7,923.1 816.7,923.5 Q818,923.7 818.6,924.6 Q819.7,925.3 820.7,924 Q821.6,923 822.9,923.8" fill="none" stroke="#7c80bc" stroke-width="0.7" stroke-linecap="round" stroke-linejoin="round"/><path d="M828.1,890.5 Q828.3,889.2 829.2,888.6 Q830.5,888.4 831.4,889 Q832.7,889.2 833.1,890.4 Q833.6,889.2 834.8,889 Q836.1,888.8 836.9,888.7 Q838.2,888.5 838.9,889.7 Q839.3,888.5 840.8,888.6 Q840.9,887.3 841.9,886.7 Q842.6,887.8 843.9,887.7 Q845,888.3 844.4,889.8 Q845.6,890.4 845,891.9 Q844.5,893.2 844,893.9" fill="none" stroke="#7c80bc" stroke-width="0.7" stroke-linecap="round" stroke-linejoin="round"/><path d="M798.4,885.5 Q797.2,886.2 796.2,885 Q797.2,884.1 796.2,882.8 Q797.1,881.9 798.3,882.1 Q799.4,882.9 799.7,883.8 Q800,885.1 798.8,885.8 Q798.3,884.6 796.8,884.8 Q797.2,883.5 796.2,882.7 Q795.5,881.6 796.1,880.5 Q795.2,879.5 795.7,878.3 Q796.1,877.1 797.4,876.9 Q798,875.7 796.7,874.8 Q796.7,873.5 796.4,872.6" fill="none" stroke="#7c80bc" stroke-width="0.7" stroke-linecap="round" stroke-linejoin="round"/><path d="M828.9,900.2 Q829.5,899.1 830.1,898.4 Q831.2,897.7 831.2,896.4 Q831.8,897.6 833.1,897.5 Q834.4,897.5 835,898.6 Q836.3,899 837.1,899.2 Q837.9,898.1 837.7,897.1 Q839,897 839.8,897.8 Q840,899.1 839.7,900 Q838.6,900.8 838.6,901.9 Q837.7,902.9 837.2,903.6 Q836.7,904.8 837.9,905.6 Q837.2,906.7 836.7,907.4" fill="none" stroke="#7c80bc" stroke-width="0.7" stroke-linecap="round" stroke-linejoin="round"/><path d="M817.8,875.2 Q818.7,874.2 817.9,873 Q817.4,871.8 817.8,870.8 Q816.6,871.3 815.7,870.1 Q814.5,870.7 813.9,871.4 Q812.9,870.5 811.7,871.2 Q811.1,870 811.2,869 Q811.1,870.4 811,871.2 Q809.7,871.3 808.8,871 Q808.6,869.7 807.5,869.2 Q808.3,868.2 808.5,867.3 Q807.2,866.9 806.4,866.5 Q807.5,865.7 808,864.9" fill="none" stroke="#7c80bc" stroke-width="0.7" stroke-linecap="round" stroke-linejoin="round"/><path d="M834.6,888.8 Q833.5,889.5 832.4,888.9 Q831.9,887.7 831.1,887.2 Q831.6,886 831.8,885.1 Q832.5,884 833.8,884.2 Q832.5,884.1 831.7,885 Q832.4,886.1 831.4,887.2 Q832.4,888 832.3,889.1 Q833.2,890.1 832.1,891.3 Q831.5,892.5 830.7,893.1 Q829.5,892.6 828.6,892.8 Q828.4,891.4 828,890.6 Q829.1,891.3 830.1,890" fill="none" stroke="#7c80bc" stroke-width="0.7" stroke-linecap="round" stroke-linejoin="round"/><path d="M865,917.2 Q864.3,916.1 864.3,915.1 Q864.7,913.9 866.2,914 Q864.9,914.3 864,914.2 Q863.2,915.2 863.1,916.2 Q861.8,916.4 861,915.6 Q860.3,914.5 859.5,913.9 Q858.4,914.6 857.3,913.8 Q856,913.6 855.2,913.5 Q855.6,912.2 855.7,911.4 Q854.7,910.4 854.8,909.3 Q854.3,910.6 852.8,910.2 Q852.6,911.5 853.4,912.3" fill="none" stroke="#7c80bc" stroke-width="0.7" stroke-linecap="round" stroke-linejoin="round"/><path d="M826.7,906.3 Q826.6,907.7 825.7,908.3 Q826,909.6 825.9,910.5 Q825.4,911.7 825.2,912.6 Q824,913.2 823,912.5 Q822.5,911.3 820.9,911.8 Q820.4,913 819,912.9 Q818.4,914.1 818.4,915 Q819.8,915.1 820.5,915.8 Q821.7,915.3 822.5,916.7 Q823.1,917.9 824.5,917.5 Q825.8,917.1 826.7,917.4 Q827.8,916.6 828.5,916" fill="none" stroke="#7c80bc" stroke-width="0.7" stroke-linecap="round" stroke-linejoin="round"/><path d="M814.6,905.5 Q813.4,904.9 812.4,905.1 Q811.7,904 812.3,902.9 Q813.5,902.3 814.5,902.8 Q815.8,902.5 816.7,902.9 Q817.6,903.8 818.6,904 Q819.5,905 820.6,905 Q820.8,906.3 821.1,907.2 Q820.4,908.2 821.2,909.4 Q822,910.4 822.5,911.2 Q821.9,912.4 823,913.3 Q823.9,914.3 824,915.3 Q823.8,916.6 825.1,917.2" fill="none" stroke="#7c80bc" stroke-width="0.7" stroke-linecap="round" stroke-linejoin="round"/><path d="M833.3,908.5 Q834.5,908 835.2,907.6 Q836.4,907 836.1,905.5 Q836.1,904.2 836.9,903.5 Q835.6,903.3 835.3,902.1 Q833.9,902 833.5,900.7 Q832.8,899.6 832.8,898.6 Q831.6,898.2 830.7,899 Q829.7,898.1 829.5,897.2 Q829.5,895.9 827.9,895.6 Q827.5,894.4 827.4,893.5 Q828.7,893.1 828.4,891.5 Q828.5,890.2 827.1,889.7" fill="none" stroke="#7c80bc" stroke-width="0.7" stroke-linecap="round" stroke-linejoin="round"/><path d="M859.7,897.6 Q860.8,898.3 860.2,899.7 Q861.3,900.5 861.2,901.7 Q861,903 862,903.7 Q863,904.6 862.1,905.9 Q861.5,907.1 861.2,907.9 Q862.1,908.9 863.2,908.8 Q863.2,907.4 864.5,906.9 Q863.9,905.7 862.6,905.7 Q861.5,906.3 860.5,905.1 Q859.3,905.6 858.7,906.4 Q859.7,907.3 860,908.1 Q860.1,909.4 859,910.1" fill="none" stroke="#7c80bc" stroke-width="0.7" stroke-linecap="round" stroke-linejoin="round"/><path d="M827.5,922.9 Q828.2,921.9 829.6,922.6 Q830.9,922.3 831.8,922 Q832.7,921.1 833.8,921.1 Q833.4,919.9 833.4,919 Q833.6,917.7 834.7,917.2 Q835.6,916.3 836.5,915.9 Q837.4,915 838.3,914.7 Q838.6,913.4 839.3,912.7 Q840.6,912.5 841.1,911.4 Q842.3,911.7 843,912.4 Q843.9,911.3 844.3,910.6 Q844.9,909.4 845.9,909" fill="none" stroke="#7c80bc" stroke-width="0.7" stroke-linecap="round" stroke-linejoin="round"/><path d="M825.2,903.3 Q826,902.3 827.4,903.2 Q828.7,903.4 829.5,902.5 Q830.4,901.6 831.1,901.1 Q831.8,900 831.4,898.9 Q831.7,897.6 830.7,896.8 Q829.7,895.9 829.9,894.7 Q829.7,893.4 828.9,892.8 Q827.8,893.5 826.8,893.4 Q827.4,894.6 826.2,895.5 Q826.9,896.6 827.5,897.2 Q827.2,898.5 828.4,899.3 Q827.3,900.1 827.8,901.4" fill="none" stroke="#7c80bc" stroke-width="0.7" stroke-linecap="round" stroke-linejoin="round"/><path d="M844.8,897.5 Q844.5,898.8 843,898.7 Q842.3,899.9 841.3,900.2 Q841.5,901.5 840.3,902.1 Q841.3,902.9 841.4,904 Q840.2,904.5 839.7,905.4 Q839.4,906.7 840.6,907.4 Q840.4,908.7 838.9,908.7 Q837.8,907.9 837.5,907 Q838.6,906.2 839,905.4 Q840.3,904.9 839.8,903.3 Q838.9,902.4 839.3,901.2 Q838.1,900.5 837.1,901.3" fill="none" stroke="#7c80bc" stroke-width="0.7" stroke-linecap="round" stroke-linejoin="round"/><path d="M806.8,920.6 Q806.1,919.5 807,918.4 Q808.1,917.7 807.9,916.4 Q807.2,915.3 806,915.3 Q804.8,915.8 804.3,916.7 Q803.6,917.7 802.2,917.1 Q801.2,916.2 800.7,915.5 Q799.7,916.3 798.5,915.2 Q797.2,914.9 796.9,913.7 Q796.1,912.6 794.8,913.2 Q795.9,912.5 796.4,911.8 Q797.1,910.6 797.7,909.9 Q797.4,908.7 799,908.2" fill="none" stroke="#7c80bc" stroke-width="0.7" stroke-linecap="round" stroke-linejoin="round"/><path d="M797.4,888.6 Q798.7,888.4 799.4,887.8 Q800.8,887.6 800.6,886 Q801.1,884.7 801.3,883.9 Q802.6,883.7 803.4,883.3 Q804.2,884.4 804.8,885.1 Q805.4,886.2 806.8,886 Q806.7,887.3 807.4,888.1 Q808.3,889 809.5,888.9 Q808.6,890 808.7,891 Q808.9,892.3 810.1,892.7 Q811.3,892.1 811.9,891.3 Q810.6,890.8 810.8,889.4" fill="none" stroke="#7c80bc" stroke-width="0.7" stroke-linecap="round" stroke-linejoin="round"/><path d="M802.8,896 Q802.8,897.3 801.9,898 Q800.8,898.8 799.7,897.7 Q798.5,897.1 797.7,896.7 Q796.5,897.3 796.1,898.2 Q795.3,899.3 795.1,900.2 Q794.1,901.1 793.5,901.6 Q792.9,900.5 791.5,900.8 Q790.1,900.6 789.4,900.1 Q788.5,899.1 788.8,897.9 Q789.6,896.9 789.6,895.9 Q790.9,896.2 791.7,895.1 Q792.8,894.4 793.2,893.6" fill="none" stroke="#7c80bc" stroke-width="0.7" stroke-linecap="round" stroke-linejoin="round"/><path d="M858,926.1 Q858.2,924.8 858.5,923.9 Q857.2,923.7 856.3,923.4 Q855.3,922.6 854.5,922.2 Q854.5,920.9 853.7,920.2 Q852.4,920 851.8,919 Q850.6,919.5 849.7,919.4 Q849.7,920.7 849.4,921.6 Q850.6,921 851.6,921.8 Q852.8,922.4 852.2,924 Q851.5,925.1 851,925.8 Q849.7,926.1 849.7,927.6 Q850.1,928.9 850.8,929.5" fill="none" stroke="#7c80bc" stroke-width="0.7" stroke-linecap="round" stroke-linejoin="round"/><path d="M817,924.4 Q815.7,924.2 815.1,925.4 Q814,926.1 813,926.1 Q813.8,925.1 814.8,924.9 Q815.7,923.9 816.7,923.8 Q816.8,922.5 817.7,921.9 Q818.9,921.3 819.9,921.4 Q820.4,920.2 820.6,919.3 Q820.3,918 821.9,917.5 Q822.1,918.8 823.6,918.9 Q822.7,919.9 823.2,921 Q821.9,921 821.3,922.1 Q820.7,920.9 819.1,921.6" fill="none" stroke="#7c80bc" stroke-width="0.7" stroke-linecap="round" stroke-linejoin="round"/><path d="M835.8,923.2 Q834.8,922.4 834.5,921.4 Q834.7,920.1 833,919.8 Q833.4,918.5 831.9,917.9 Q830.6,918.3 829.7,918.3 Q830.7,919.1 829.8,920.5 Q828.7,921.1 827.8,921.2 Q827.6,922.5 828,923.4 Q827.1,924.3 825.9,923.7 Q826.3,924.9 825.4,925.8 Q826.7,926.1 826.6,927.6 Q826,928.8 824.5,928 Q823.2,927.8 822.3,927.6" fill="none" stroke="#7c80bc" stroke-width="0.7" stroke-linecap="round" stroke-linejoin="round"/><path d="M793.3,895.5 Q794.6,895.9 794.9,897 Q796.2,897.1 796.6,895.7 Q797.8,895.1 798.7,894.9 Q799.7,895.8 799.4,897 Q800.1,898.2 799,899.1 Q799.2,900.4 798.5,901.3 Q797.2,901.6 797.4,903.2 Q798,904.3 797.7,905.3 Q798.9,906 799.9,905.8 Q800.6,906.9 799.7,907.9 Q801,908 801.9,908.4 Q803.1,908.9 804.1,908.7" fill="none" stroke="#7c80bc" stroke-width="0.7" stroke-linecap="round" stroke-linejoin="round"/><path d="M800,903.5 Q801.3,903.8 801.6,905 Q801.5,906.3 801.5,907.2 Q800.4,907.9 800.8,909.3 Q801,910.6 800.1,911.4 Q798.9,911 798,911.7 Q796.9,912.5 796.1,912.9 Q794.8,912.7 794,912.5 Q795.3,912.2 796,911.6 Q797.1,910.9 797.8,910.4 Q798.9,911.3 799.4,911.9 Q800.4,912.8 800.4,913.9 Q799.6,914.9 799.3,915.8" fill="none" stroke="#7c80bc" stroke-width="0.7" stroke-linecap="round" stroke-linejoin="round"/><path d="M812,870.7 Q812.3,871.9 810.7,872.5 Q809.7,873.3 808.7,873.2 Q807.7,874 808.1,875.3 Q808.3,876.6 809.8,876.6 Q811.1,876.2 811.3,875 Q812.5,875.6 813.5,875.1 Q814.8,875.6 815.5,876 Q814.7,877.1 815.3,878.2 Q813.9,878.4 813.1,878.3 Q813.4,879.6 812.1,880.3 Q811,881.1 810,879.9 Q809.1,880.9 807.9,880.6" fill="none" stroke="#7c80bc" stroke-width="0.7" stroke-linecap="round" stroke-linejoin="round"/><path d="M793.8,886.7 Q792.6,887.2 791.8,886 Q790.6,886.6 790,887.3 Q788.6,887.2 787.8,886.7 Q788.8,887.7 788.4,888.9 Q789.4,888 790.6,888.7 Q790.8,887.4 791.9,886.9 Q791.2,885.8 790.3,885.3 Q789.6,886.4 788.7,886.8 Q789,888.1 790.5,888.1 Q791.7,888.4 792.5,889 Q793.3,890.1 794.1,890.5 Q794.7,891.7 794,892.7" fill="none" stroke="#7c80bc" stroke-width="0.7" stroke-linecap="round" stroke-linejoin="round"/><path d="M847.8,891.5 Q848.3,892.7 848.2,893.7 Q848.1,895 849.4,895.5 Q850.7,895.3 851.5,896.1 Q851.9,897.3 852.3,898.1 Q853.4,897.4 854.5,898.3 Q855.1,897.1 856.6,897.6 Q857.5,896.7 858.8,897.3 Q859.2,896 860.4,895.8 Q860.6,897.1 859.7,897.9 Q858.5,897.5 857.6,898.6 Q856.4,899.1 856.2,900.3 Q855,899.7 854,900.4" fill="none" stroke="#7c80bc" stroke-width="0.7" stroke-linecap="round" stroke-linejoin="round"/><path d="M806.4,921.4 Q807.5,922.1 807.6,923.3 Q808.7,923.9 808.1,925.4 Q809,924.4 810.2,924.6 Q811.5,924.4 812,923.4 Q812.9,922.4 814.2,923.5 Q814.8,924.6 815.3,925.4 Q815.4,926.7 814.8,927.5 Q815.6,928.6 816.7,928.7 Q815.4,929 814.5,928.5 Q815.6,927.7 816.5,927.5 Q817.7,927.2 818.7,927.5 Q820,927.6 820.9,927.4" fill="none" stroke="#7c80bc" stroke-width="0.7" stroke-linecap="round" stroke-linejoin="round"/><path d="M807.3,906.5 Q808.4,905.8 809.5,906.7 Q810.4,907.7 811.7,906.8 Q812.8,907.5 813.9,907.1 Q815.2,906.8 815.8,906.1 Q816.8,905.2 817.9,905.5 Q818.7,906.6 819,907.4 Q819.7,908.5 818.3,909.5 Q817,909.4 816.6,910.9 Q816.1,909.7 815.2,909.3 Q813.8,909.3 813,909.5 Q812.4,910.7 810.9,910.1 Q809.6,910.3 808.9,911.1" fill="none" stroke="#7c80bc" stroke-width="0.7" stroke-linecap="round" stroke-linejoin="round"/><path d="M795,911.8 Q796.3,911.5 797.2,911.9 Q798.5,912.3 798.9,913.3 Q797.7,913.9 797.3,914.9 Q796.8,916.1 798.1,916.9 Q798.6,918.1 800.1,917.8 Q800.6,916.6 801.5,916.1 Q802.9,915.9 803.3,917.4 Q804.6,917.6 805.2,918.5 Q804.9,917.3 806.3,916.6 Q805,916.4 804.6,915.2 Q804.7,913.9 803.9,913.1 Q804.6,912 805.4,911.6" fill="none" stroke="#7c80bc" stroke-width="0.7" stroke-linecap="round" stroke-linejoin="round"/><path d="M835.2,927.4 Q836.1,926.4 835.6,925.2 Q836.9,925.1 837.6,924.4 Q838.4,923.3 837.6,922.2 Q838.9,922.4 839.7,921.5 Q839.9,922.8 841.2,923.1 Q842.4,923.4 843.2,922.3 Q844.2,921.4 844.6,920.6 Q845.4,921.7 846.8,920.9 Q847.5,922 848,922.7 Q848.4,924 848.3,924.9 Q847.1,925.3 846.9,926.6 Q847.7,927.6 848.5,928.1" fill="none" stroke="#7c80bc" stroke-width="0.7" stroke-linecap="round" stroke-linejoin="round"/><path d="M850.5,894.3 Q851.1,893.2 852.6,893.8 Q853.9,894.1 854.7,894.6 Q855.9,895.1 856.1,896.3 Q856.1,897.6 855.8,898.5 Q855.2,899.6 853.9,899.5 Q852.7,899.1 851.8,900 Q850.6,899.3 849.6,899.5 Q848.7,898.5 848.9,897.4 Q849.4,896.2 850.9,896.7 Q852.2,896.3 852.9,897.6 Q854,898.4 853.8,899.6 Q853.8,901 852.2,901.1" fill="none" stroke="#7c80bc" stroke-width="0.7" stroke-linecap="round" stroke-linejoin="round"/><path d="M837.1,917.4 Q836.1,918.2 834.9,917.6 Q835.7,918.6 834.9,919.8 Q835.6,920.9 836.7,921.1 Q837.9,920.5 838.6,920 Q839.7,919.2 840.8,920 Q841.8,919.1 842.2,918.3 Q842.2,917 841.7,916.2 Q843.1,916 843.4,914.7 Q844.1,915.8 845,916.1 Q845.4,914.8 846.6,914.6 Q847.9,914.6 848,912.9 Q849.4,913.1 850.2,912.7" fill="none" stroke="#7c80bc" stroke-width="0.7" stroke-linecap="round" stroke-linejoin="round"/><path d="M806.3,877.1 Q806.8,878.4 807,879.2 Q808,880 807.4,881.4 Q808,882.5 807.9,883.5 Q808.8,884.5 807.9,885.7 Q807.2,886.8 806.1,886.9 Q805.1,886 803.9,886.6 Q802.9,885.7 801.7,886.3 Q800.7,887.2 801.5,888.5 Q800.2,888.4 799.7,889.8 Q800.3,890.9 799.5,891.9 Q798.7,893 799.3,894.1 Q799,895.4 799.7,896.3" fill="none" stroke="#7c80bc" stroke-width="0.7" stroke-linecap="round" stroke-linejoin="round"/><path d="M813.2,873.9 Q813.3,875.2 814.7,875.5 Q815.7,876.4 816.9,875.9 Q818.2,875.5 818,874 Q819.3,874.3 820.2,873.8 Q820.1,875.2 821.6,875.5 Q821.7,876.8 821.5,877.7 Q822.8,877.7 823.6,877.9 Q824.5,878.9 825.2,879.4 Q825.6,880.7 826.8,880.9 Q827.8,880 828.5,879.5 Q827.7,880.5 826.4,880.1 Q825.2,880.6 824.5,881.2" fill="none" stroke="#7c80bc" stroke-width="0.7" stroke-linecap="round" stroke-linejoin="round"/><path d="M833.6,897.2 Q832.6,896.4 831.7,896.2 Q830.9,897.3 829.7,897.3 Q828.7,896.4 828.8,895.3 Q827.9,894.3 828,893.2 Q827.1,892.3 827.7,891.1 Q826.4,891.3 825.6,890.3 Q825.6,891.6 824.1,891.9 Q822.8,892.2 822.9,893.7 Q822.3,894.9 821.6,895.6 Q821.1,896.8 819.8,896.8 Q818.5,896.9 817.8,897.8 Q816.5,897.6 816.5,896" fill="none" stroke="#7c80bc" stroke-width="0.7" stroke-linecap="round" stroke-linejoin="round"/><path d="M871.1,871.4 Q870.5,872.5 870.9,873.6 Q872.2,873.3 872.7,874.8 Q873.7,875.7 874.9,874.8 Q875.3,873.5 875.8,872.8 Q876.5,873.9 878,873.3 Q877.4,872.1 876.7,871.5 Q875.6,872.3 874.9,872.9 Q873.6,872.8 873.2,874.3 Q871.9,874 871.2,873.4 Q870.3,872.4 870.9,871.2 Q870.8,869.9 869.6,869.5 Q868.3,869.8 867.7,870.6" fill="none" stroke="#4a7ad0" stroke-width="0.7" stroke-linecap="round" stroke-linejoin="round"/><path d="M870.3,869.8 Q869,870 868.2,870.3 Q869.3,870.9 868.8,872.4 Q867.9,873.4 868.9,874.6 Q869.3,873.4 870,872.7 Q871.3,872.5 871.8,873.9 Q870.5,873.6 870.4,872.2 Q870.2,870.9 871.7,870.5 Q871.9,869.1 871,868.4 Q871.7,867.2 871,866.2 Q871.1,864.8 870.5,864 Q871.7,863.7 872.6,863.5 Q871.7,862.5 872.4,861.3" fill="none" stroke="#4a7ad0" stroke-width="0.7" stroke-linecap="round" stroke-linejoin="round"/><path d="M866.7,868.7 Q867.2,869.9 866.7,870.9 Q867.4,872 868.9,871.3 Q868.3,872.5 869.4,873.5 Q870.7,873.4 871.2,874.7 Q871.6,873.4 872.1,872.7 Q871.3,871.7 870.9,870.9 Q872,870.1 871.6,868.8 Q870.3,868.6 869.8,867.7 Q868.4,867.6 867.6,867 Q866.3,867 865.5,867.3 Q866.7,867.7 867.4,868.3 Q868,869.5 869.3,869.4" fill="none" stroke="#4a7ad0" stroke-width="0.7" stroke-linecap="round" stroke-linejoin="round"/><path d="M881.3,864.4 Q880.6,863.3 880.5,862.4 Q881.6,863.2 882.3,863.6 Q881.4,862.7 880.1,863.4 Q878.9,862.9 878.8,861.6 Q878.4,862.9 879.5,863.7 Q880.8,864.1 881.6,863.1 Q881.4,864.4 880.6,865 Q879.5,864.2 878.4,864.8 Q877.2,864.2 876.2,864.6 Q875,864.1 874,864.8 Q872.7,864.5 871.8,864.6 Q871.2,863.5 871.6,862.5" fill="none" stroke="#4a7ad0" stroke-width="0.7" stroke-linecap="round" stroke-linejoin="round"/><path d="M875.7,874.4 Q876,873.1 874.5,872.5 Q873.2,872.7 872.5,873.5 Q871.2,873.7 870.6,872.5 Q871.7,871.8 871.3,870.4 Q870.4,869.6 871,868.3 Q871.4,867 870.2,866.2 Q868.9,865.8 868.2,865.2 Q867.1,865.9 866.1,865.6 Q866.3,864.3 868,864.6 Q869.3,865 870.1,865.2 Q870.6,866.4 871.5,866.9 Q872.7,867.4 873.5,866" fill="none" stroke="#4a7ad0" stroke-width="0.7" stroke-linecap="round" stroke-linejoin="round"/><path d="M871.8,862.7 Q872.6,863.7 872.5,864.7 Q873.7,865.3 873.7,866.6 Q874.5,867.7 874,868.8 Q873.3,869.9 872,869.7 Q871,868.8 869.8,869.9 Q869,871 870,872.1 Q868.8,872.6 868.9,874 Q870.2,873.7 870.7,872.8 Q872,872.9 872,874.5 Q873.2,875 874.1,873.9 Q875.4,873.6 876.2,874.5 Q876.5,873.2 876.4,872.3" fill="none" stroke="#4a7ad0" stroke-width="0.7" stroke-linecap="round" stroke-linejoin="round"/><path d="M917,871 C905,863 895,862 888,863 M911,914 C893,912 880,900 877,888" fill="none" stroke="#222" stroke-width="0.6" stroke-dasharray="2.4 1.4"/><path d="M885,863 l4,-1.8 l-0.6,3.8Z M876,885 l-1.4,4 l3.4,-1Z" fill="#111"/><path d="M935,865 C925,868 919,874 917,884 C913,900 913,918 924,931" fill="none" stroke="#0c0c0c" stroke-width="2.2" stroke-dasharray="3.4 1.1"/><path d="M924,931 C929,936 935,935 937,929" fill="none" stroke="#7a2030" stroke-width="0.8"/><path d="M940.5,889 q4.2,0.5 -0.1,2.7 q-2.6,0.5 -0.5,2.7 q4.2,0.5 -0.1,2.7 q-2.6,0.5 -0.5,2.7 q4.2,0.5 -0.1,2.7 q-2.6,0.5 -0.5,2.7 q4.2,0.5 -0.1,2.7 q-2.6,0.5 -0.5,2.7 q4.2,0.5 -0.1,2.7 q-2.6,0.5 -0.5,2.7 q4.2,0.5 -0.1,2.7 q-2.6,0.5 -0.5,2.7 q4.2,0.5 -0.1,2.7 q-2.6,0.5 -0.5,2.7 q4.2,0.5 -0.1,2.7" fill="none" stroke="#c02838" stroke-width="1.6" stroke-linecap="round"/><path d="M940.5,889 q4.2,0.5 -0.1,2.7 q-2.6,0.5 -0.5,2.7 q4.2,0.5 -0.1,2.7 q-2.6,0.5 -0.5,2.7 q4.2,0.5 -0.1,2.7 q-2.6,0.5 -0.5,2.7 q4.2,0.5 -0.1,2.7 q-2.6,0.5 -0.5,2.7 q4.2,0.5 -0.1,2.7 q-2.6,0.5 -0.5,2.7 q4.2,0.5 -0.1,2.7 q-2.6,0.5 -0.5,2.7 q4.2,0.5 -0.1,2.7 q-2.6,0.5 -0.5,2.7 q4.2,0.5 -0.1,2.7" fill="none" stroke="#f4c8c0" stroke-width="0.4" stroke-linecap="round"/><g transform="translate(963.8,846.3) rotate(38) scale(1.1)" fill="none" stroke="#7c2c4c" stroke-width="0.8" stroke-linejoin="round"><path d="M0,-6 L4.2,-3 L4.2,3 L0,6 L-4.2,3 L-4.2,-3 Z M0,-6 L0,6 M-4.2,-3 L0,0 L4.2,-3" fill="#fff" fill-opacity="0.6"/><path d="M0,6 V15 M-1.2,7.5 h2.4 M-1.2,9.5 h2.4 M-1.2,11.5 h2.4 M-1.2,13.5 h2.4"/><path d="M0,15 L-4,11.5 L-6.5,17 M0,15 L4,11.5 L6.5,17 M0,15 L-2.5,19 M0,15 L2.5,19" stroke-width="1"/></g><path d="M938,866 l5,-1.6" stroke="#c02838" stroke-width="1"/></g>
</svg>
</body></html>
